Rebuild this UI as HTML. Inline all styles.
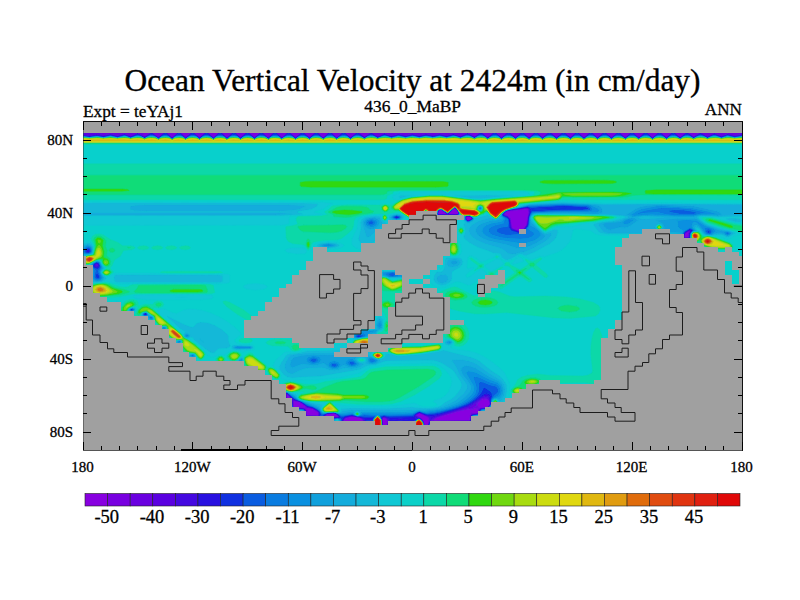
<!DOCTYPE html><html><head><meta charset="utf-8"><title>Ocean Vertical Velocity</title>
<style>html,body{margin:0;padding:0;background:#fff;}svg{display:block}text{font-family:"Liberation Serif",serif;fill:#000;stroke:#000;stroke-width:0.3px}</style></head><body>
<svg width="800" height="600" viewBox="0 0 800 600">
<rect x="0" y="0" width="800" height="600" fill="#fff"/>
<defs><clipPath id="pc"><rect x="83" y="121.75" width="659" height="328.5"/></clipPath>

</defs>
<g clip-path="url(#pc)">
<rect x="83" y="121.75" width="659" height="328.5" fill="#08d0cc"/>
<path fill="#8800e0" stroke="#8800e0" stroke-width="0.4" fill-rule="evenodd" d="M458.6,212.5 458.5,213.6 456.7,214.5 449.5,214.4 448.6,213.5 454.5,208.3 455.5,208.7ZM506.5,212.1 509.5,211.1 527.5,208.9 528.5,210.9 528.6,212.5 526.6,224.5 522.1,230.5 519.5,231 512.5,228.3 511.5,226.3 510.4,218.5 508.5,216.3 504.9,214.5ZM438.5,210.9 440.5,209.8 446.6,213.5 446.5,213.9 445.5,214.4 438.5,214.1ZM466.5,216.5 469.8,216.5 471.6,218.5 470.6,219.5 468.2,220.5 466.5,219.5ZM688.5,232.4 688.1,236.5 687.5,237 685.5,237.3 684.8,236.5 685.4,233.5 686.6,232.5ZM286.9,395.5 287.5,395.1 290.7,398.5 287.5,399 287,398.5ZM477.5,403.5 481.7,399.5 483.5,398.9 486.5,399.2 488.5,400.1 489.9,403.5 489.5,404.7 486.7,407.5 479.5,407.9 478.1,406.5ZM293.4,401.5 296.6,401.5 300.1,402.5 304.4,405.5 305.2,407.5 294.1,407.5 293.4,406.5ZM305.9,408.5 306.5,408.1 310.7,408.5 313.4,409.5 317.9,412.5 318.4,413.5 317.9,415.5 307.1,415.5 306.4,414.5ZM478.6,410.5 478.5,411.6 477,413.5 472.5,413.6 471.5,412.3 470.2,415.5 469.5,420.5 433.1,420.5 435.4,418.5 437.7,417.5 461.6,410.5 470.5,408.9 471.5,410.1 475.5,407.8 477.1,408.5ZM326.1,415.5 326.9,414.5 328.5,413.9 334.5,413.5 337.8,416.5 336.5,417 326.7,416.5ZM417.2,414.5 418.5,413.5 420,413.5 428,417.5 428.6,419.5 427.9,424.5 424.5,424.9 422.7,419.5 421.5,418.1 417,415.5ZM344,420.5 345.5,418.4 352.5,416.7 360.5,418.5 362.8,420.5 363.2,421.5 355.5,421.8 345.5,421.3ZM383.5,418.2 384.5,417.9 385.5,418.5 387.3,420.5 387.5,422.5 386.5,425 383.5,425.1 382.5,424.6 382.5,419.5Z"/>
<path fill="#7800e0" stroke="#7800e0" stroke-width="0.4" fill-rule="evenodd" d="M142.9,122.5 373.4,122.5 373.4,132.5 372.3,132.5 371.5,131.9 369.5,132.8 364.5,136.7 363.5,136.5 357.5,131.7 356.5,132.1 350.5,137.5 343.5,131.3 336.5,137.3 330.5,131.6 329.5,131.6 323.5,137.2 322.5,137 316.5,131.3 309.5,137.5 302.5,131.4 295.5,137.5 288.5,131.3 282.5,137 281.5,137.2 275.5,131.6 274.5,131.6 268.5,137.3 267.5,136.9 261.5,131.3 254.5,137.5 247.5,131.4 240.5,137.5 234.5,131.7 233.5,131.4 227.5,137.1 226.5,137.1 220.5,131.5 219.5,131.7 213.5,137.5 206.5,131.3 199.5,137.5 192.5,131.3 185.5,137.4 179.5,131.7 178.5,131.5 172.5,137.2 171.5,137 165.5,131.3 158.5,137 151.5,131.8 144.5,136.5 142.9,134.5ZM471.7,122.5 701.6,122.5 701.6,132.5 700.5,131.7 693.5,136.6 687.5,131.9 686.5,131.8 680.5,136.8 679.1,136.5 673.5,131.5 672.5,131.8 666.5,137.5 659.5,131.4 652.5,137.5 645.5,131.3 639.5,137 638.5,137.2 632.5,131.6 631.5,131.6 625.5,137.3 624.5,136.9 618.5,131.3 611.5,137.5 604.5,131.4 597.5,137.5 591.5,131.7 590.5,131.4 584.5,137.1 583.5,137.1 577.5,131.5 576.5,131.7 570.5,137.5 563.5,131.3 556.5,137.5 549.5,131.3 542.5,137.5 536.5,131.7 535.5,131.5 529.5,137.1 528.5,137.1 522.5,131.4 521.5,131.7 515.5,137.5 508.5,131.4 501.5,137.5 494.5,131.3 488.5,136.9 487.5,137.1 481.5,131.9 480.5,131.9 474.5,136.4 472.5,135.5 471.7,134.5ZM458.7,212.5 458.5,213.9 457.5,214.6 438.5,214.6 438,213.5 438.4,210.5 440.5,209.4 446.5,213.3 448.5,213.4 454.5,207.9 455.5,208.3ZM458.6,212.5 455.5,208.7 454.5,208.3 448.6,213.5 449.5,214.4 456.7,214.5 458.5,213.6ZM438.5,210.9 438.5,214.1 445.5,214.4 446.5,213.9 446.6,213.5 440.5,209.8ZM527.8,208.5 528.6,209.5 529.1,212.5 526.5,225.6 522.7,230.5 521.3,231.5 519.5,231.6 512.5,228.8 511.4,227.5 509.9,218.5 508.5,216.9 504.5,215 504.1,214.5 504.4,213.5 506.4,211.5 509.2,210.5 526.5,208.2ZM506.5,212.1 504.9,214.5 508.5,216.3 510.4,218.5 511.5,226.3 512.5,228.3 519.5,231 522.1,230.5 526.6,224.5 528.6,212.5 528.5,210.9 527.5,208.9 509.5,211.1ZM466.2,216.5 470.4,216.5 471.8,218.5 469.5,220.5 467.5,220.6 466.2,219.5ZM466.5,216.5 466.5,219.5 468.2,220.5 470.6,219.5 471.6,218.5 469.8,216.5ZM689.5,231.4 688.5,237.5 684.4,237.5 684.5,234.6 685.5,232.8 688.5,231.2ZM688.5,232.4 686.6,232.5 685.4,233.5 684.8,236.5 685.5,237.3 687.5,237 688.1,236.5ZM286.5,394.3 287.6,394.5 291.5,398.7 289.9,399.5 287.3,399.5 286.4,398.5ZM286.9,395.5 287,398.5 287.5,399 290.7,398.5 287.5,395.1ZM489.5,400.7 490.3,403.5 488.5,406.5 486.5,407.9 479.5,408.6 478.8,409.5 479.1,410.5 478.5,412.5 477.5,413.7 471.5,414 470.7,415.5 470.5,419.6 469.5,420.8 434.5,421.2 432,420.5 436.5,417.3 451.5,412.5 469.5,407.9 472.5,408.3 474.5,406.8 476.5,406.6 476.2,404.5 477.1,402.5 482.5,398.3 486.5,398.4 488.5,399.4ZM477.5,403.5 478.1,406.5 479.5,407.9 486.7,407.5 489.5,404.7 489.9,403.5 488.5,400.1 486.5,399.2 483.5,398.9 481.7,399.5ZM478.6,410.5 477.1,408.5 475.5,407.8 471.5,410.1 470.5,408.9 461.6,410.5 437.7,417.5 435.4,418.5 433.1,420.5 469.5,420.5 470.2,415.5 471.5,412.3 472.5,413.6 477,413.5 478.5,411.6ZM293,401.5 293.5,400.7 299,401.5 303.8,404.5 306.5,407.4 312.6,408.5 318.5,412.4 318.7,415.5 317.5,416.1 306.5,415.7 305.8,410.5 304.5,408.5 293.3,407.5ZM293.4,401.5 293.4,406.5 294.1,407.5 305.2,407.5 304.4,405.5 300.1,402.5 296.6,401.5ZM305.9,408.5 306.4,414.5 307.1,415.5 317.9,415.5 318.4,413.5 317.9,412.5 313.4,409.5 310.7,408.5 306.5,408.1ZM325.3,416.5 325.5,415.4 327.5,413.7 333.5,413.2 335.3,413.5 338.5,416.5 337.7,417.5 329.5,417.3ZM337.8,416.5 334.5,413.5 328.5,413.9 326.9,414.5 326.1,415.5 326.7,416.5 336.5,417ZM416.4,414.5 419.5,413 428.5,417.2 429.2,418.5 428.5,424.6 427.5,425.5 424.5,425.5 422.1,419.5 416.5,415.8ZM417.2,414.5 417,415.5 421.5,418.1 422.7,419.5 424.5,424.9 427.9,424.5 428.6,419.5 428,417.5 420,413.5 418.5,413.5ZM343.3,420.5 346,417.5 352.5,416.2 359.6,417.5 362.6,419.5 363.9,421.5 362.5,422.2 343.5,421.6ZM344,420.5 345.5,421.3 355.5,421.8 363.2,421.5 362.8,420.5 360.5,418.5 352.5,416.7 345.5,418.4ZM383.5,417.5 384.5,417.3 385.5,417.9 387.9,420.5 387.6,424.5 386.7,425.5 382.5,425.3 382.4,418.5ZM383.5,418.2 382.5,419.5 382.5,424.6 383.5,425.1 386.5,425 387.5,422.5 387.3,420.5 385.5,418.5 384.5,417.9Z"/>
<path fill="#6a00e0" stroke="#6a00e0" stroke-width="0.4" fill-rule="evenodd" d="M99.9,122.5 142.9,122.5 142.9,134.5 144.5,136.5 151.5,131.8 158.5,137 165.5,131.3 171.5,137 172.5,137.2 178.5,131.5 179.5,131.7 185.5,137.4 192.5,131.3 199.5,137.5 206.5,131.3 213.5,137.5 219.5,131.7 220.5,131.5 226.5,137.1 227.5,137.1 233.5,131.4 234.5,131.7 240.5,137.5 247.5,131.4 254.5,137.5 261.5,131.3 267.5,136.9 268.5,137.3 274.5,131.6 275.5,131.6 281.5,137.2 282.5,137 288.5,131.3 295.5,137.5 302.5,131.4 309.5,137.5 316.5,131.3 322.5,137 323.5,137.2 329.5,131.6 330.5,131.6 336.5,137.3 343.5,131.3 350.5,137.5 356.5,132.1 357.5,131.7 363.5,136.5 364.5,136.7 369.5,132.8 371.5,131.9 372.3,132.5 373.4,132.5 373.4,122.5 471.7,122.5 471.7,134.5 472.5,135.5 474.5,136.4 480.5,131.9 481.5,131.9 487.5,137.1 488.5,136.9 494.5,131.3 501.5,137.5 508.5,131.4 515.5,137.5 521.5,131.7 522.5,131.4 528.5,137.1 529.5,137.1 535.5,131.5 536.5,131.7 542.5,137.5 549.5,131.3 556.5,137.5 563.5,131.3 570.5,137.5 576.5,131.7 577.5,131.5 583.5,137.1 584.5,137.1 590.5,131.4 591.5,131.7 597.5,137.5 604.5,131.4 611.5,137.5 618.5,131.3 624.5,136.9 625.5,137.3 631.5,131.6 632.5,131.6 638.5,137.2 639.5,137 645.5,131.3 652.5,137.5 659.5,131.4 666.5,137.5 672.5,131.8 673.5,131.5 679.5,136.8 680.5,136.8 686.5,131.8 687.5,131.9 693.5,136.6 700.5,131.7 701.6,132.5 701.6,122.5 740.7,122.5 740.6,134.5 737.5,134.7 736.7,135.5 735.5,135.6 733,135.5 727.5,133.8 721.5,136.3 714.5,133.5 707.5,136.8 700.5,132.9 693.5,137.1 687.5,132.7 686.5,132.6 680.5,137.5 678.5,136.5 673.5,131.9 672.5,132.2 666.5,137.9 659.5,131.8 652.5,137.9 645.5,131.8 639.5,137.6 638.5,137.8 632.5,132 631.5,132 625.5,137.8 624.5,137.5 618.5,131.8 611.5,137.9 604.5,131.8 597.5,137.9 591.5,132.1 590.5,131.8 584.5,137.6 583.5,137.7 577.5,131.9 576.5,132.1 570.5,137.8 563.5,131.8 556.5,137.9 549.5,131.8 542.5,137.8 536.5,132.1 535.5,131.9 529.5,137.7 528.5,137.6 522.5,131.8 521.5,132.1 515.5,137.9 508.5,131.8 501.5,137.9 494.5,131.8 488.5,137.4 487.5,137.7 481.5,132.6 480.5,132.6 474.5,137 467.5,133.2 460.5,136.4 453.5,133.8 447.5,135.5 445.2,135.5 444.5,134.8 441,134.5 439.5,133.7 438.7,134.5 435.5,134.7 434.5,135.5 431.3,135.5 430.5,134.7 427.2,134.5 426.5,133.8 419.5,135.6 417.5,135.5 416.5,134.7 413.4,134.5 412.5,133.7 411.2,134.5 408.5,134.6 406.9,135.5 405.5,135.6 399.9,134.5 398.5,133.8 391.5,136 384.5,133.6 378.5,136.7 377.5,136.7 371.5,132.9 370.5,133 364.5,137.3 357.5,132.1 350.5,137.9 343.5,131.8 337.5,137.5 336.5,137.8 330.5,132 329.5,131.9 323.5,137.7 322.5,137.6 316.5,131.8 315.5,132.2 309.5,137.9 302.5,131.8 295.5,137.9 288.5,131.8 282.5,137.6 281.5,137.7 275.5,131.9 274.5,132 268.5,137.8 267.5,137.5 261.5,131.8 254.5,137.9 247.5,131.8 240.5,137.9 234.5,132.1 233.5,131.8 227.5,137.6 226.5,137.7 220.5,131.9 219.5,132.1 213.5,137.9 206.5,131.8 199.5,137.9 192.5,131.8 186.5,137.4 185.5,137.8 179.5,132 178.5,131.9 172.5,137.7 171.5,137.6 165.5,131.8 164.5,132.2 158.5,137.6 151.5,132.6 144.5,137 137.5,133.2 133.5,135.5 130.5,136.4 124.5,133.8 118.5,135.6 115.3,135.5 114.5,134.8 111.4,134.5 110.5,133.8 109,134.5 105.5,134.8 104.7,135.5 102.3,135.5 101.5,134.6 99.9,134.5ZM458.9,212.5 458.5,214.3 457.5,214.8 438.5,214.8 437.7,213.5 438.3,210.5 440.5,209.3 441.6,209.5 446.5,213.2 448.5,213.2 454.5,207.6 455.5,208.1ZM458.7,212.5 455.5,208.3 454.5,207.9 448.5,213.4 446.5,213.3 440.5,209.4 438.4,210.5 438,213.5 438.5,214.6 457.5,214.6 458.5,213.9ZM505.9,211.5 508.5,210.4 526.5,207.9 528.5,208.5 529.5,212.5 528.3,217.5 527.5,224.1 526.5,226.1 522.5,231.1 521.5,231.8 519.5,231.9 513.5,229.7 511.5,228.5 509.4,218.5 507.5,216.7 504.2,215.5 503.5,214.5ZM527.8,208.5 526.5,208.2 509.2,210.5 506.4,211.5 504.4,213.5 504.1,214.5 504.5,215 508.5,216.9 509.9,218.5 511.4,227.5 512.5,228.8 519.5,231.6 521.3,231.5 522.7,230.5 526.5,225.6 529.1,212.5 528.6,209.5ZM465.7,217.5 466.5,216.1 469.5,216.1 470.7,216.5 472.1,218.5 471.4,219.5 468.5,221 467.5,220.8 465.9,219.5ZM466.2,216.5 466.2,219.5 467.5,220.6 469.5,220.5 471.8,218.5 470.4,216.5ZM690.3,230.5 689.4,233.5 689.1,237.5 686.5,238 684,237.5 684.5,233.6 685.3,232.5 689,230.5ZM689.5,231.4 688.5,231.2 685.5,232.8 684.5,234.6 684.4,237.5 688.5,237.5ZM95.8,264.5 97.5,264.5 97.4,265.5 96,265.5ZM286.5,393.6 291.2,397.5 292.3,399.5 288.5,399.9 286.5,399.5 286,395.5ZM286.5,394.3 286.4,398.5 287.3,399.5 289.9,399.5 291.5,398.7 287.6,394.5ZM489.7,400.5 490.5,404 488.5,406.8 486.5,408.2 480.5,408.7 479.5,409.5 479.2,411.5 477.5,414 471.5,414.7 470.8,416.5 470.6,420.5 469.5,421.1 432,421.5 431.1,420.5 434.5,417.7 436.5,416.7 470.8,406.5 482.5,397.7 486.5,397.3 488.5,398.6ZM489.5,400.7 488.5,399.4 486.5,398.4 482.5,398.3 477.1,402.5 476.2,404.5 476.5,406.6 474.5,406.8 472.5,408.3 469.5,407.9 451.5,412.5 436.5,417.3 432,420.5 434.5,421.2 469.5,420.8 470.5,419.6 470.7,415.5 471.5,414 477.5,413.7 478.5,412.5 479.1,410.5 478.8,409.5 479.5,408.6 486.5,407.9 488.5,406.5 490.3,403.5ZM292.8,400.5 293.5,400.1 299.5,401.4 304.4,404.5 306.5,406.9 313.2,408.5 318.5,411.9 319.2,413.5 319,415.5 317.5,416.5 306.5,416 305.8,414.5 305.4,410.5 304.5,408.9 294.5,408.2 293,407.5ZM293,401.5 293.3,407.5 304.5,408.5 305.8,410.5 306.5,415.7 317.5,416.1 318.7,415.5 318.5,412.4 312.6,408.5 306.5,407.4 303.8,404.5 299,401.5 293.5,400.7ZM324.6,416.5 325.7,414.5 327.2,413.5 333.5,413 335.8,413.5 338.9,416.5 338.5,417.6 328.5,417.6ZM325.3,416.5 329.5,417.3 337.7,417.5 338.5,416.5 335.3,413.5 333.5,413.2 327.5,413.7 325.5,415.4ZM415.9,414.5 419.5,412.5 428.5,416.6 429.5,417.5 429.8,420.5 428.5,425.3 427.5,425.7 424.1,425.5 423,421.5 421.6,419.5 416.5,416.5 415.5,415.5ZM416.4,414.5 416.5,415.8 422.1,419.5 424.5,425.5 427.5,425.5 428.5,424.6 429.2,418.5 428.5,417.2 419.5,413ZM342.7,421.5 343.4,419.5 345.5,417.3 352.5,415.9 360.5,417.5 363.5,419.7 364.5,421.5 363.6,422.5 354.5,422.6ZM343.3,420.5 343.5,421.6 362.5,422.2 363.9,421.5 362.6,419.5 359.6,417.5 352.5,416.2 346,417.5ZM383.5,417.1 385.5,417.3 388,419.5 388.5,421.5 387.5,425.5 382.4,425.5 382,418.5ZM383.5,417.5 382.4,418.5 382.5,425.3 386.7,425.5 387.6,424.5 387.9,420.5 385.5,417.9 384.5,417.3Z"/>
<path fill="#5a00e0" stroke="#5a00e0" stroke-width="0.4" fill-rule="evenodd" d="M83.5,122.5 99.9,122.5 99.9,134.5 101.5,134.6 102.3,135.5 104.7,135.5 105.5,134.8 109,134.5 110.5,133.8 111.4,134.5 114.5,134.8 115.3,135.5 118.5,135.6 124.5,133.8 130.5,136.4 133.5,135.5 137.5,133.2 144.5,137 151.5,132.6 158.5,137.6 164.5,132.2 165.5,131.8 171.5,137.6 172.5,137.7 178.5,131.9 179.5,132 185.5,137.8 186.5,137.4 192.5,131.8 199.5,137.9 206.5,131.8 213.5,137.9 219.5,132.1 220.5,131.9 226.5,137.7 227.5,137.6 233.5,131.8 234.5,132.1 240.5,137.9 247.5,131.8 254.5,137.9 261.5,131.8 267.5,137.5 268.5,137.8 274.5,132 275.5,131.9 281.5,137.7 282.5,137.6 288.5,131.8 295.5,137.9 302.5,131.8 309.5,137.9 315.5,132.2 316.5,131.8 322.5,137.6 323.5,137.7 329.5,131.9 330.5,132 336.5,137.8 337.5,137.5 343.5,131.8 350.5,137.9 357.5,132.1 364.5,137.3 370.5,133 371.5,132.9 377.5,136.7 378.5,136.7 384.5,133.6 391.5,136 398.5,133.8 399.9,134.5 405.5,135.6 406.9,135.5 408.5,134.6 411.2,134.5 412.5,133.7 413.4,134.5 416.5,134.7 417.5,135.5 419.5,135.6 426.5,133.8 427.2,134.5 430.5,134.7 431.3,135.5 434.5,135.5 435.5,134.7 438.7,134.5 439.5,133.7 441,134.5 444.5,134.8 445.2,135.5 447.5,135.5 453.5,133.8 460.5,136.4 467.5,133.2 474.5,137 480.5,132.6 481.5,132.6 487.5,137.7 488.5,137.4 494.5,131.8 501.5,137.9 508.5,131.8 515.5,137.9 521.5,132.1 522.5,131.8 528.5,137.6 529.5,137.7 535.5,131.9 536.5,132.1 542.5,137.8 549.5,131.8 556.5,137.9 563.5,131.8 570.5,137.8 576.5,132.1 577.5,131.9 583.5,137.7 584.5,137.6 590.5,131.8 591.5,132.1 597.5,137.9 604.5,131.8 611.5,137.9 618.5,131.8 624.5,137.5 625.5,137.8 631.5,132 632.5,132 638.5,137.8 639.5,137.6 645.5,131.8 652.5,137.9 659.5,131.8 666.5,137.9 672.5,132.2 673.5,131.9 678.5,136.5 680.5,137.5 686.5,132.6 687.5,132.7 693.5,137.1 700.5,132.9 707.5,136.8 714.5,133.5 721.5,136.3 728.5,133.8 733,135.5 736.7,135.5 737.5,134.7 740.6,134.5 740.7,122.5 742.5,122.5 742.5,135 734.5,136.4 727.5,134.6 721.5,136.8 714.5,133.9 707.5,137.2 700.5,133.3 693.5,137.6 687.5,133 686.5,132.9 680.5,137.8 679.2,137.5 673.5,132.3 672.5,132.7 666.5,138.2 659.5,132.1 652.5,138.2 645.5,132.1 639.5,137.9 638.5,138.1 632.5,132.3 631.5,132.4 625.5,138.1 624.5,137.8 618.5,132.1 611.5,138.2 604.5,132.1 597.5,138.2 591.5,132.5 590.5,132.2 584.5,138 583.5,138 577.5,132.3 576.5,132.4 570.5,138.2 563.5,132.1 556.5,138.2 549.5,132.1 542.5,138.2 536.5,132.4 535.5,132.3 529.5,138 528.5,138 522.5,132.2 521.5,132.5 515.5,138.2 508.5,132.1 501.5,138.2 494.5,132.1 488.5,137.8 487.5,138 481.5,132.9 480.5,133 474.5,137.4 467.5,133.7 460.5,136.8 453.5,134.7 446.5,136.3 439.5,134.8 432.5,136.2 425.5,134.9 419.5,136.3 412.5,134.8 405.5,136.3 398.5,134.7 391.5,136.7 384.5,134 378.5,137 377.5,137.1 371.5,133.3 369.5,134.1 364.5,137.7 357.5,132.5 350.5,138.2 343.5,132.1 337.5,137.8 336.5,138.2 330.5,132.4 329.5,132.3 323.5,138.1 322.5,137.9 316.5,132.1 309.5,138.2 302.5,132.1 295.5,138.2 288.5,132.1 282.5,137.9 281.5,138.1 275.5,132.3 274.5,132.4 268.5,138.1 267.5,137.8 261.5,132.1 254.5,138.2 247.5,132.1 240.5,138.2 234.5,132.5 233.5,132.2 227.5,138 226.5,138 220.5,132.2 219.5,132.5 213.5,138.2 206.5,132.1 199.5,138.2 192.5,132.1 185.5,138.2 179.5,132.4 178.5,132.3 172.5,138 171.5,137.9 165.5,132.2 158.5,138 151.5,132.9 144.5,137.4 137.5,133.7 132.1,136.5 130.5,136.8 124.5,134.6 117.5,136.5 110.5,134.8 103.5,136.2 96.5,134.9 89.5,136 83.5,135.1ZM459.1,212.5 458.5,214.6 456.5,215 438.5,214.9 437.7,214.5 437.4,213.5 438.1,210.5 440.5,209.2 441.7,209.5 446.5,213 448.5,213.1 454.5,207.4 455.5,207.9ZM458.9,212.5 455.5,208.1 454.5,207.6 448.5,213.2 446.5,213.2 441.6,209.5 440.5,209.3 438.3,210.5 437.7,213.5 438.5,214.8 457.5,214.8 458.5,214.3ZM528.5,208 529.6,209.5 530,211.5 527.7,224.5 523.5,230.5 521.5,232.2 520.5,232.4 511.5,229 510.6,227.5 509.8,220.5 509.1,218.5 507.5,217.1 503.5,215.5 503.1,214.5 505.5,211.5 507.5,210.4 526.5,207.5ZM505.9,211.5 503.5,214.5 504.2,215.5 507.5,216.7 509.4,218.5 511.5,228.5 513.5,229.7 519.5,231.9 521.5,231.8 522.5,231.1 526.5,226.1 527.5,224.1 528.3,217.5 529.5,212.5 528.5,208.5 526.5,207.9 508.5,210.4ZM465.5,217 466.5,215.9 469.5,215.9 470.9,216.5 472.4,218.5 471.7,219.5 469.5,220.9 467.5,221 465.7,219.5ZM465.7,217.5 465.9,219.5 467.5,220.8 468.5,221 471.4,219.5 472.1,218.5 470.7,216.5 469.5,216.1 466.5,216.1ZM690.5,230 691.1,230.5 689.7,233.5 689.6,237.5 688.5,238.1 684.5,238.2 683.7,237.5 684.5,233 688.5,230.3ZM690.3,230.5 689,230.5 685.3,232.5 684.5,233.6 684,237.5 686.5,238 689.1,237.5 689.4,233.5ZM95.5,263.8 97.2,263.5 98.3,264.5 98.5,265.5 97.7,266.5 95.8,266.5 94.7,265.5ZM95.8,264.5 96,265.5 97.4,265.5 97.5,264.5ZM145,314.5 145.5,313.7 145.7,314.5ZM286.1,393.5 287.2,393.5 293.5,399.6 300.2,401.5 304.8,404.5 306.6,406.5 312.5,407.8 317.1,410.5 319.3,412.5 319.4,415.5 318.6,416.5 306.5,416.3 305.7,415.5 305.2,410.5 304.5,409.2 293.5,408.3 292.5,406.5 292.1,400.5 286.2,399.5 285.8,395.5ZM286.5,393.6 286,395.5 286.5,399.5 288.5,399.9 292.3,399.5 291.2,397.5ZM292.8,400.5 293,407.5 294.5,408.2 304.5,408.9 305.4,410.5 305.8,414.5 306.5,416 317.5,416.5 319,415.5 319.2,413.5 318.5,411.9 313.2,408.5 306.5,406.9 304.4,404.5 299.5,401.4 293.5,400.1ZM490.8,403.5 490.5,404.7 487.5,408 486.5,408.5 481.5,408.8 479.9,409.5 479.6,411.5 477.5,414.3 472.5,414.7 471.5,415.2 470.8,420.5 469.5,421.4 430.5,421.6 429.5,422.4 428.5,425.6 424.5,425.9 423.5,425.1 423.3,422.5 421.5,419.7 420.5,418.8 417.5,417.8 415,415.5 415.4,414.5 419.5,412.3 429.3,416.5 430.3,417.5 430.5,419.9 434.5,416.9 468.2,406.5 472.5,404 481.5,397.5 485.5,396 487.5,396.2 488.5,397ZM415.9,414.5 415.5,415.5 416.5,416.5 421.6,419.5 423,421.5 424.1,425.5 427.5,425.7 428.5,425.3 429.8,420.5 429.5,417.5 428.5,416.6 419.5,412.5ZM489.7,400.5 488.5,398.6 486.5,397.3 482.5,397.7 470.8,406.5 436.5,416.7 434.5,417.7 431.1,420.5 432,421.5 469.5,421.1 470.6,420.5 470.8,416.5 471.5,414.7 477.5,414 479.2,411.5 479.5,409.5 480.5,408.7 486.5,408.2 488.5,406.8 490.5,404ZM324.2,416.5 325.3,414.5 326.7,413.5 333.5,412.7 336.1,413.5 339.3,416.5 339.1,417.5 338.5,417.8 332.5,418 325.5,417.4ZM324.6,416.5 328.5,417.6 338.5,417.6 338.9,416.5 335.8,413.5 333.5,413 327.2,413.5 325.7,414.5ZM342.3,421.5 343.5,418.8 345.5,417 352.5,415.6 360.5,417.1 364,419.5 364.9,421.5 364.3,422.5 361.5,422.8 344.5,422.2ZM342.7,421.5 354.5,422.6 363.6,422.5 364.5,421.5 363.5,419.7 360.5,417.5 352.5,415.9 345.5,417.3 343.4,419.5ZM383.5,416.7 385.5,416.9 388.7,419.5 388.9,421.5 387.5,425.7 383.5,426 382.2,425.5 381.6,418.5ZM383.5,417.1 382,418.5 382.4,425.5 387.5,425.5 388.5,421.5 388,419.5 385.5,417.3Z"/>
<path fill="#4408e0" stroke="#4408e0" stroke-width="0.4" fill-rule="evenodd" d="M83.5,135.1 89.5,136 96.5,134.9 103.5,136.2 110.5,134.8 117.5,136.5 124.5,134.6 130.5,136.8 132.1,136.5 137.5,133.7 144.5,137.4 151.5,132.9 158.5,138 165.5,132.2 171.5,137.9 172.5,138 178.5,132.3 179.5,132.4 185.5,138.2 192.5,132.1 199.5,138.2 206.5,132.1 213.5,138.2 219.5,132.5 220.5,132.2 226.5,138 227.5,138 233.5,132.2 234.5,132.5 240.5,138.2 247.5,132.1 254.5,138.2 261.5,132.1 267.5,137.8 268.5,138.1 274.5,132.4 275.5,132.3 281.5,138.1 282.5,137.9 288.5,132.1 295.5,138.2 302.5,132.1 309.5,138.2 316.5,132.1 322.5,137.9 323.5,138.1 329.5,132.3 330.5,132.4 336.5,138.2 337.5,137.8 343.5,132.1 350.5,138.2 357.5,132.5 364.5,137.7 369.5,134.1 371.5,133.3 377.5,137.1 378.5,137 384.5,134 391.5,136.7 398.5,134.7 405.5,136.3 412.5,134.8 419.5,136.3 425.5,134.9 432.5,136.2 439.5,134.8 446.5,136.3 453.5,134.7 460.5,136.8 467.5,133.7 474.5,137.4 480.5,133 481.5,132.9 487.5,138 488.5,137.8 494.5,132.1 501.5,138.2 508.5,132.1 515.5,138.2 521.5,132.5 522.5,132.2 528.5,138 529.5,138 535.5,132.3 536.5,132.4 542.5,138.2 549.5,132.1 556.5,138.2 563.5,132.1 570.5,138.2 576.5,132.4 577.5,132.3 583.5,138 584.5,138 590.5,132.2 591.5,132.5 597.5,138.2 604.5,132.1 611.5,138.2 618.5,132.1 624.5,137.8 625.5,138.1 631.5,132.4 632.5,132.3 638.5,138.1 639.5,137.9 645.5,132.1 652.5,138.2 659.5,132.1 666.5,138.2 672.5,132.7 673.5,132.3 679.2,137.5 680.5,137.8 686.5,132.9 687.5,133 693.5,137.6 700.5,133.3 707.5,137.2 714.5,133.9 721.5,136.8 727.5,134.6 734.5,136.4 742.5,135 742.5,135.5 734.5,136.8 727.5,135 721.5,137.2 714.5,134.3 707.5,137.6 700.5,133.8 693.5,137.9 687.5,133.4 686.5,133.3 680.5,138.1 679.5,138 673.5,132.7 672.5,133 666.5,138.5 659.5,132.5 652.5,138.5 645.5,132.5 639.5,138.2 638.5,138.4 632.5,132.8 631.5,132.8 625.5,138.5 624.5,138.2 618.5,132.5 611.5,138.5 604.5,132.5 597.5,138.5 590.5,132.6 584.5,138.3 583.5,138.4 577.5,132.7 576.5,132.9 570.5,138.5 563.5,132.5 556.5,138.5 549.5,132.5 542.6,138.5 536.5,132.9 535.5,132.7 529.5,138.4 528.5,138.3 522.5,132.6 515.5,138.5 508.5,132.5 501.5,138.5 494.5,132.5 488.5,138.1 487.5,138.4 481.5,133.3 480.5,133.3 474.5,137.7 467.5,134.1 460.5,137.2 453.5,135 446.5,136.8 439.5,135.2 433.5,136.7 426.5,135.2 419.5,136.7 412.5,135.2 405.5,136.8 398.5,135.1 391.5,137.1 384.5,134.4 378.5,137.4 377.5,137.4 371.5,133.8 369.5,134.5 364.5,138.1 357.5,132.9 350.5,138.5 343.5,132.5 336.5,138.5 330.5,132.8 329.5,132.7 323.5,138.4 322.5,138.2 316.5,132.5 309.5,138.5 302.5,132.5 295.5,138.5 288.5,132.5 282.5,138.2 281.5,138.4 275.5,132.8 274.5,132.8 268.5,138.5 267.5,138.1 261.5,132.5 254.5,138.5 247.5,132.5 240.5,138.5 234.5,132.9 233.5,132.6 227.5,138.3 226.5,138.4 220.5,132.6 219.5,132.9 213.5,138.5 206.5,132.5 199.5,138.5 192.5,132.5 185.5,138.5 179.5,132.9 178.5,132.7 172.5,138.4 171.5,138.3 165.5,132.5 158.5,138.3 151.5,133.2 144.5,137.8 137.5,134.1 130.5,137.2 124.5,134.9 117.5,136.8 110.5,135.1 103.5,136.7 96.5,135.4 89.5,136.6 83.5,135.7ZM459.2,212.5 459.3,213.5 458.5,214.8 456.5,215.2 438.5,215.1 437.5,214.6 437.3,213.5 438,210.5 440.5,209.1 441.9,209.5 446.5,212.8 448.5,212.9 454.5,207.4 455.5,207.7ZM459.1,212.5 455.5,207.9 454.5,207.4 448.5,213.1 446.5,213 441.7,209.5 440.5,209.2 438.1,210.5 437.4,213.5 437.7,214.5 438.5,214.9 456.5,215 458.5,214.6ZM528.6,207.5 530.2,209.5 530.4,211.5 528.8,217.5 528.2,223.5 527.5,225.8 522.5,232 520.5,232.7 511.5,229.6 510.2,227.5 509.2,219.5 507.5,217.4 503.1,215.5 502.8,214.5 503.3,213.5 506.5,210.6 509.5,209.8 526.5,207.2ZM528.5,208 526.5,207.5 507.5,210.4 505.5,211.5 503.1,214.5 503.5,215.5 507.5,217.1 509.1,218.5 509.8,220.5 510.6,227.5 511.5,229 520.5,232.4 521.5,232.2 523.5,230.5 527.7,224.5 530,211.5 529.6,209.5ZM465.4,216.5 466.5,215.8 469.5,215.8 471.1,216.5 472.6,218.5 472,219.5 469.5,221.1 467.5,221.2 465.5,219.5ZM465.5,217 465.7,219.5 467.5,221 469.5,220.9 471.7,219.5 472.4,218.5 470.9,216.5 469.5,215.9 466.5,215.9ZM396,217.5 396.5,217 397.6,217.5ZM690.7,229.5 691.7,230.5 690,233.5 689.5,238 685.5,238.6 683.5,237.8 683.8,234.5 684.5,232.5 688.5,230ZM690.5,230 688.5,230.3 684.5,233 683.7,237.5 684.5,238.2 688.5,238.1 689.6,237.5 689.7,233.5 691.1,230.5ZM94.1,264.5 95.5,263.2 97.5,263.1 98.9,264.5 98.9,266.5 97.5,267.4 95.5,267.2 94.5,266.5ZM95.5,263.8 94.7,265.5 95.8,266.5 97.7,266.5 98.5,265.5 98.3,264.5 97.2,263.5ZM144.3,313.5 146,313.5 146.3,314.5 144.5,314.7ZM145.5,313.7 145,314.5 145.7,314.5ZM285.7,393.5 286.5,392.9 287.5,393.3 294.1,399.5 300.5,401.4 307.4,406.5 312.5,407.5 317.5,410.4 319.7,412.5 320,414.5 319.5,416 317.5,416.9 306.5,416.6 305.4,415.5 305,410.5 304.4,409.5 302.5,409 293.4,408.5 292.4,407.5 291.6,400.5 287.5,400.3 286,399.5 285.5,396.5ZM286.1,393.5 285.8,395.5 286.2,399.5 292.1,400.5 292.5,406.5 293.5,408.3 304.5,409.2 305.2,410.5 305.7,415.5 306.5,416.3 318.6,416.5 319.4,415.5 319.3,412.5 317.1,410.5 312.5,407.8 306.6,406.5 304.8,404.5 300.2,401.5 293.5,399.6 287.2,393.5ZM489.7,396.5 491,403.5 490.5,405 487,408.5 480.5,409.4 478.7,413.5 477.6,414.5 472.5,415 471.7,415.5 471,420.5 470.1,421.5 430.5,422 428.5,425.9 424.5,426.1 423.5,425.6 423.2,422.5 421.5,420 419.5,418.6 415.4,418.5 415.6,417.5 414.5,415.5 416.3,413.5 419.5,412.1 425.5,414.7 431.5,416.4 439.8,414.5 467.5,405.8 484.5,394.9 487.5,394.8ZM490.8,403.5 488.5,397 487.5,396.2 485.5,396 481.5,397.5 472.5,404 468.2,406.5 434.5,416.9 430.5,419.9 430.3,417.5 429.3,416.5 419.5,412.3 415.4,414.5 415,415.5 417.5,417.8 420.5,418.8 421.5,419.7 423.3,422.5 423.5,425.1 424.5,425.9 428.5,425.6 429.5,422.4 430.5,421.6 469.5,421.4 470.8,420.5 471.5,415.2 472.5,414.7 477.5,414.3 479.6,411.5 479.9,409.5 481.5,408.8 486.5,408.5 487.5,408 490.5,404.7ZM339.7,416.5 339.6,417.5 338.5,418.1 332.5,418.3 324.7,417.5 323.7,416.5 324.9,414.5 326.5,413.4 333.5,412.5 336.5,413.5ZM324.2,416.5 325.5,417.4 332.5,418 338.5,417.8 339.1,417.5 339.3,416.5 336.1,413.5 333.5,412.7 326.7,413.5 325.3,414.5ZM341.9,421.5 342.5,419.6 344.5,417.1 351.5,415.3 360.5,416.8 363.9,418.5 365.3,420.5 364.8,422.5 362.5,423.1 343.5,422.4ZM342.3,421.5 344.5,422.2 361.5,422.8 364.3,422.5 364.9,421.5 364,419.5 360.5,417.1 352.5,415.6 345.5,417 343.5,418.8ZM381.3,418.5 382.5,416.8 384.5,416.2 390.5,419.4 400.5,418.8 409.6,419.5 400.5,420.2 390.5,419.6 389.5,421.1 388.1,425.5 386.5,426.2 382.5,426.1 382.1,425.5ZM383.5,416.7 381.6,418.5 382.2,425.5 383.5,426 387.5,425.7 388.9,421.5 388.7,419.5 385.5,416.9Z"/>
<path fill="#2810e0" stroke="#2810e0" stroke-width="0.4" fill-rule="evenodd" d="M83.5,136 89.5,136.6 96.5,135.4 103.5,136.7 110.5,135.1 117.5,136.8 124.5,134.9 130.5,137.2 137.5,134.1 144.5,137.8 151.5,133.2 158.5,138.3 165.5,132.5 171.5,138.3 172.5,138.4 178.5,132.7 179.5,132.9 185.5,138.5 192.5,132.5 199.5,138.5 206.5,132.5 213.5,138.5 219.5,132.9 220.5,132.6 226.5,138.4 227.5,138.3 233.5,132.6 234.5,132.9 240.5,138.5 247.5,132.5 254.5,138.5 261.5,132.5 267.5,138.1 268.5,138.5 274.5,132.8 275.5,132.8 281.5,138.4 282.5,138.2 288.5,132.5 295.5,138.5 302.5,132.5 309.5,138.5 316.5,132.5 322.5,138.2 323.5,138.4 329.5,132.7 330.5,132.8 336.5,138.5 343.5,132.5 350.5,138.5 357.5,132.9 364.5,138.1 369.5,134.5 371.5,133.8 377.5,137.4 378.5,137.4 384.5,134.4 391.5,137.1 398.5,135.1 405.5,136.8 412.5,135.2 419.5,136.7 426.5,135.2 433.5,136.7 439.5,135.2 446.5,136.8 453.5,135 460.5,137.2 467.5,134.1 474.5,137.7 480.5,133.3 481.5,133.3 487.5,138.4 488.5,138.1 494.5,132.5 501.5,138.5 508.5,132.5 515.5,138.5 522.5,132.6 528.5,138.3 529.5,138.4 535.5,132.7 536.5,132.9 542.6,138.5 549.5,132.5 556.5,138.5 563.5,132.5 570.5,138.5 576.5,132.9 577.5,132.7 583.5,138.4 584.5,138.3 590.5,132.6 597.5,138.5 604.5,132.5 611.5,138.5 618.5,132.5 624.5,138.2 625.5,138.5 631.5,132.8 632.5,132.8 638.5,138.4 639.5,138.2 645.5,132.5 652.5,138.5 659.5,132.5 666.5,138.5 672.5,133 673.5,132.7 679.5,138 680.5,138.1 686.5,133.3 687.5,133.4 693.5,137.9 700.5,133.8 707.5,137.6 714.5,134.3 721.5,137.2 727.5,135 734.5,136.8 742.5,135.5 734.5,137.1 727.5,135.3 721.5,137.5 714.5,134.7 707.5,137.8 700.5,134.2 693.5,138.2 687.5,134 686.5,133.8 680.5,138.5 679.5,138.3 673.5,133.2 672.5,133.4 666.5,138.7 659.5,133.1 652.5,138.7 646.5,133.4 645.5,133.1 639.5,138.5 638.5,138.6 632.5,133.3 631.5,133.3 625.5,138.6 624.6,138.5 618.5,133.1 617.5,133.4 611.5,138.7 604.5,133.1 597.5,138.7 591.5,133.4 590.5,133.2 584.5,138.5 583.5,138.6 577.5,133.2 576.5,133.3 570.5,138.7 563.5,133.1 556.5,138.7 549.5,133.1 542.5,138.7 536.5,133.3 535.5,133.2 529.5,138.6 528.5,138.5 522.5,133.2 521.5,133.4 515.5,138.7 508.5,133.1 501.5,138.7 495.5,133.4 494.5,133.1 488.5,138.4 487.5,138.6 481.5,133.9 480.5,133.9 474.5,138 467.5,134.4 460.5,137.5 453.5,135.3 446.5,137.1 439.5,135.6 432.5,137 425.5,135.6 419.5,137.1 412.5,135.5 405.5,137.1 398.5,135.5 391.5,137.4 384.5,134.9 378.9,137.5 377.5,137.7 371.5,134.2 370.1,134.5 364.5,138.4 357.5,133.3 350.5,138.7 344.5,133.4 343.5,133.1 337.5,138.4 336.5,138.7 330.5,133.3 329.5,133.3 323.5,138.6 322.5,138.5 316.5,133.1 315.5,133.4 309.5,138.7 302.5,133.1 295.5,138.7 289.5,133.4 288.5,133.1 282.5,138.5 281.5,138.6 275.5,133.3 274.5,133.3 268.5,138.7 267.5,138.4 261.5,133.1 260.5,133.4 254.5,138.7 247.5,133.1 240.5,138.7 234.5,133.4 233.5,133.2 227.5,138.6 226.5,138.6 220.5,133.2 219.5,133.3 213.5,138.7 206.5,133.1 199.5,138.7 192.5,133.1 186.5,138.4 185.5,138.7 179.5,133.3 178.5,133.2 172.5,138.6 171.5,138.5 165.5,133.1 164.5,133.4 158.5,138.6 151.5,133.7 144.5,138.1 137.5,134.4 130.5,137.5 124.5,135.3 117.5,137.2 110.5,135.5 103.5,137 96.5,135.7 89.5,136.9ZM459.5,213.5 458.5,214.9 456.5,215.3 438.5,215.3 437.5,214.8 437.2,213.5 437.8,210.5 439.5,209.3 441.5,209.2 447.5,213.1 448.5,212.8 454.5,207.3 455.5,207.5 458.5,211.2ZM459.2,212.5 455.5,207.7 454.5,207.4 448.5,212.9 446.5,212.8 441.9,209.5 440.5,209.1 438,210.5 437.3,213.5 437.5,214.6 438.5,215.1 456.5,215.2 458.5,214.8 459.3,213.5ZM528.5,207.1 531.9,209.5 529.3,216.5 528.5,223.5 527.4,226.5 523.6,231.5 521.5,233 519.5,233 511.5,230.2 509.7,227.5 508.9,219.5 507.5,217.9 502.6,215.5 502.4,214.5 503,213.5 506.4,210.5 509.5,209.6 526.5,207ZM528.6,207.5 526.5,207.2 509.5,209.8 506.5,210.6 503.3,213.5 502.8,214.5 503.1,215.5 507.5,217.4 509.2,219.5 510.2,227.5 511.5,229.6 520.5,232.7 522.5,232 527.5,225.8 528.2,223.5 528.8,217.5 530.4,211.5 530.2,209.5ZM566.5,207.5 541.8,209.5 532.8,209.5 535.9,208.5ZM394.8,217.5 395.3,216.5 396.5,216.2 398.1,216.5 398.7,217.5 396.5,218.2ZM396,217.5 397.6,217.5 396.5,217ZM465.3,216.5 466.5,215.6 469.5,215.6 471.3,216.5 472.8,218.5 472.3,219.5 468.5,221.6 467.5,221.4 465.3,219.5ZM465.4,216.5 465.5,219.5 467.5,221.2 469.5,221.1 472,219.5 472.6,218.5 471.1,216.5 469.5,215.8 466.5,215.8ZM691.7,229.5 692.2,230.5 690.3,233.5 690.2,237.5 689.5,238.4 685.5,238.8 683.5,238.2 683.5,234.7 684.5,232.2 689.5,229.2ZM691.5,230.2 690.5,229.4 689.5,229.6 684.5,232.5 683.8,234.5 683.5,237.8 685.5,238.6 689.5,238 690,233.5ZM86.2,250.5 86.9,249.5 88.5,249.1 89.5,249.7 89.8,251.5 88.6,252.5 87.3,252.5 86.2,251.5ZM93.6,264.5 95.5,262.8 97.5,262.6 99.4,264.5 99.6,266.5 98.5,267.9 95.5,268 93.7,266.5ZM94.1,264.5 94.5,266.5 95.5,267.2 97.5,267.4 98.9,266.5 98.9,264.5 97.5,263.1 95.5,263.2ZM143.8,314.5 144,313.5 145.5,313.1 146.6,313.5 146.8,314.5 145.5,315.2ZM144.3,313.5 144.5,314.7 146.3,314.5 146,313.5ZM357.2,336.5 358.5,335.4 359.7,335.5 360.4,336.5 358.5,337ZM285.5,393.3 286.5,392.6 287.5,393.1 294.5,399.3 301.1,401.5 307.5,406.1 312.5,407.2 317.5,410 320,412.5 320.4,414.5 319.6,416.5 317.5,417.1 306.5,416.7 305.2,415.5 304.7,410.5 303.9,409.5 292.9,408.5 292.2,407.5 291.5,401 290.5,400.5 287.5,400.5 285.7,399.5 285.2,395.5ZM285.7,393.5 285.5,396.5 286,399.5 287.5,400.3 291.6,400.5 292.4,407.5 293.4,408.5 302.5,409 304.4,409.5 305,410.5 305.4,415.5 306.5,416.6 317.5,416.9 319.5,416 320,414.5 319.7,412.5 317.5,410.4 312.5,407.5 307.4,406.5 300.5,401.4 294.1,399.5 287.5,393.3 286.5,392.9ZM491,396.5 490.6,400.5 491.2,403.5 490.4,405.5 487.5,408.5 480.9,409.5 478.9,413.5 477.5,414.8 472,415.5 471.2,420.5 470.5,421.6 431.5,422.2 430.3,422.5 428.5,426.1 424.5,426.3 423.5,425.9 423.1,422.5 421.5,420.2 419.5,418.7 418.5,418.7 413.5,421.1 390.5,421.6 389.5,422.3 388.4,425.5 387.5,426.2 382.5,426.4 382,425.5 381,417.5 383.5,415.9 389.5,417.3 412.5,417.1 413.5,416.7 414.5,414.5 419.5,411.8 424.5,413.9 428.5,415 437.5,414.1 457.6,408.5 466.5,405.3 471.5,402.5 484.5,393.4 486.5,393.1 488.5,393.6 489.9,394.5ZM381.3,418.5 382.1,425.5 382.5,426.1 386.5,426.2 388.1,425.5 389.5,421.1 390.5,419.6 400.5,420.2 409.6,419.5 400.5,418.8 390.5,419.4 384.5,416.2 382.5,416.8ZM489.7,396.5 487.5,394.8 484.5,394.9 467.5,405.8 439.8,414.5 431.5,416.4 425.5,414.7 419.5,412.1 416.3,413.5 414.5,415.5 415.6,417.5 415.4,418.5 419.5,418.6 421.5,420 423.2,422.5 423.5,425.6 424.5,426.1 428.5,425.9 430.5,422 470.1,421.5 471,420.5 471.7,415.5 472.5,415 477.6,414.5 478.7,413.5 480.5,409.4 487,408.5 490.5,405 491,403.5ZM323.3,416.5 324.4,414.5 326.5,413.2 333.5,412.4 335.5,412.8 338.3,414.5 340.2,416.5 340.2,417.5 338.5,418.3 329.5,418.5 324.5,417.7ZM339.7,416.5 336.5,413.5 333.5,412.5 326.5,413.4 324.9,414.5 323.7,416.5 324.7,417.5 332.5,418.3 338.5,418.1 339.6,417.5ZM341.6,421.5 342.6,418.5 344.5,416.7 351.5,415 364.5,417.4 372.5,417.8 373.1,418.5 372.5,420.5 366.5,420.6 365.2,422.5 363.5,423.2 342.5,422.5ZM341.9,421.5 343.5,422.4 362.5,423.1 364.8,422.5 365.3,420.5 363.9,418.5 360.5,416.8 351.5,415.3 344.5,417.1 342.5,419.6Z"/>
<path fill="#1030e0" stroke="#1030e0" stroke-width="0.4" fill-rule="evenodd" d="M83.5,136.3 89.5,136.9 96.5,135.7 103.5,137 110.5,135.5 117.5,137.2 124.5,135.3 130.5,137.5 137.5,134.4 144.5,138.1 151.5,133.7 158.5,138.6 164.5,133.4 165.5,133.1 171.5,138.5 172.5,138.6 178.5,133.2 179.5,133.3 185.5,138.7 186.5,138.4 192.5,133.1 199.5,138.7 206.5,133.1 213.5,138.7 219.5,133.3 220.5,133.2 226.5,138.6 227.5,138.6 233.5,133.2 234.5,133.4 240.5,138.7 247.5,133.1 254.5,138.7 260.5,133.4 261.5,133.1 267.5,138.4 268.5,138.7 274.5,133.3 275.5,133.3 281.5,138.6 282.5,138.5 288.5,133.1 289.5,133.4 295.5,138.7 302.5,133.1 309.5,138.7 315.5,133.4 316.5,133.1 322.5,138.5 323.5,138.6 329.5,133.3 330.5,133.3 336.5,138.7 337.5,138.4 343.5,133.1 344.5,133.4 350.5,138.7 357.5,133.3 364.5,138.4 370.1,134.5 371.5,134.2 377.5,137.7 378.9,137.5 384.5,134.9 391.5,137.4 398.5,135.5 405.5,137.1 412.5,135.5 419.5,137.1 425.5,135.6 432.5,137 439.5,135.6 446.5,137.1 453.5,135.3 460.5,137.5 467.5,134.4 474.5,138 480.5,133.9 481.5,133.9 487.5,138.6 488.5,138.4 494.5,133.1 495.5,133.4 501.5,138.7 508.5,133.1 515.5,138.7 521.5,133.4 522.5,133.2 528.5,138.5 529.5,138.6 535.5,133.2 536.5,133.3 542.5,138.7 549.5,133.1 556.5,138.7 563.5,133.1 570.5,138.7 576.5,133.3 577.5,133.2 583.5,138.6 584.5,138.5 590.5,133.2 591.5,133.4 597.5,138.7 604.5,133.1 611.5,138.7 617.5,133.4 618.5,133.1 624.5,138.5 625.5,138.6 631.5,133.3 632.5,133.3 638.5,138.6 639.5,138.5 645.5,133.1 646.5,133.4 652.5,138.7 659.5,133.1 666.5,138.7 672.5,133.4 673.5,133.2 679.5,138.3 680.5,138.5 686.5,133.8 687.5,134 693.5,138.2 700.5,134.2 707.5,137.8 714.5,134.7 721.5,137.5 727.5,135.3 734.5,137.1 742.5,135.8 734.5,137.4 727.5,135.6 721.5,137.7 714.5,135.4 712.5,135.7 707.5,138.1 703.5,136 700.5,135.2 697.5,136.1 693.5,138.5 689.5,135.7 686.5,135.3 683.5,136.2 680.5,138.6 679.5,138.5 676.5,136.1 673.5,135.3 670.5,135.7 666.5,138.9 662.5,135.9 659.5,135.2 656.5,135.8 652.5,138.9 648.5,135.7 645.5,135.2 642.5,136 639.5,138.6 638.5,138.8 634.5,135.6 629.5,135.6 625.5,138.8 624.5,138.6 621.5,136 618.5,135.2 615.5,135.7 611.5,138.9 607.5,135.8 604.5,135.2 601.5,135.9 597.5,138.9 593.5,135.7 590.5,135.3 588.5,135.6 584.5,138.7 583.5,138.7 579.5,135.6 574.5,135.6 570.5,138.9 566.5,135.9 563.5,135.2 560.5,135.8 556.5,138.9 552.5,135.8 549.5,135.2 546.5,135.9 542.5,138.9 538.5,135.6 535.5,135.3 532.5,136.1 529.5,138.7 528.5,138.7 524.5,135.6 519.5,135.7 515.5,138.9 511.5,135.9 508.5,135.2 505.5,135.8 501.5,138.9 497.5,135.7 494.5,135.2 491.5,136 488.5,138.6 487.5,138.7 483.5,135.7 480.5,135.3 478.5,135.7 474.5,138.3 469.5,135.7 467.5,135.4 465.5,135.7 460.5,137.7 453.5,135.6 446.5,137.4 439.5,135.8 432.5,137.4 425.5,135.9 419.5,137.4 412.5,135.8 405.5,137.4 398.5,135.7 391.5,137.6 384.5,135.4 377.5,137.9 373.5,135.8 371.5,135.3 368.5,135.8 364.5,138.6 360.5,136 357.5,135.2 354.5,135.8 350.5,138.9 346.5,135.7 343.5,135.2 340.5,136 337.5,138.6 336.5,138.8 332.5,135.6 327.5,135.6 323.5,138.7 322.5,138.6 319.5,136 316.5,135.2 313.5,135.7 309.5,138.9 305.5,135.9 302.5,135.2 299.5,135.9 295.5,138.9 291.5,135.7 288.5,135.2 285.5,136 282.5,138.6 281.5,138.8 277.5,135.6 272.5,135.6 268.5,138.8 267.5,138.6 264.5,136 261.5,135.2 258.5,135.7 254.5,138.9 250.5,135.8 247.5,135.2 244.5,135.9 240.5,138.9 236.5,135.7 233.5,135.3 230.5,136.1 227.5,138.7 226.5,138.7 222.5,135.6 217.5,135.7 213.5,138.9 209.5,135.9 206.5,135.2 203.5,135.8 199.5,138.9 195.5,135.8 192.5,135.2 189.5,135.9 186.5,138.6 185.5,138.8 181.5,135.6 178.5,135.4 175.5,136.1 172.5,138.7 171.5,138.7 168.5,136 165.5,135.3 162.5,135.7 158.5,138.7 154.5,135.9 151.5,135.2 148.5,135.9 144.5,138.4 140.5,135.9 137.5,135.4 130.5,137.7 124.5,135.6 117.5,137.5 110.5,135.8 103.5,137.4 96.5,136.1 89.5,137.2ZM502.2,215.5 502.7,213.5 506.5,210.3 509.5,209.4 527.5,206.6 531.5,207.4 564.5,205.6 585.5,207 587.7,207.5 588.5,208.5 587.3,209.5 582.5,209.9 560.5,210 532.5,211.5 531.5,212.1 529.6,216.5 528.8,223.5 527.9,226.5 522.5,233.1 520.5,233.7 513.5,231.8 510.5,230.5 509,227.5 508.5,219.4 507.5,218.3ZM566.5,207.5 535.9,208.5 532.8,209.5 541.8,209.5ZM531.9,209.5 529.4,207.5 527.5,206.9 509.8,209.5 506.5,210.4 503,213.5 502.5,215 503.5,216.2 506.9,217.5 508.5,218.8 509.1,220.5 509.7,227.5 510.7,229.5 512.5,230.7 518.5,232.8 521.5,233 523.6,231.5 528,225.5 529.1,217.5ZM459.5,212.5 459.1,214.5 456.5,215.5 438.5,215.4 437.5,215.1 437,213.5 437.7,210.5 439.5,209.2 441.5,209.1 447.5,213 448.5,212.6 454.5,207.2 455.6,207.5ZM459.5,213.5 458.5,211.2 455.5,207.5 454.5,207.3 448.5,212.8 447.5,213.1 441.5,209.2 439.5,209.3 437.8,210.5 437.2,213.5 437.5,214.8 438.5,215.3 456.5,215.3 458.5,214.9ZM465.1,216.5 466.5,215.5 469.6,215.5 471.5,216.5 473,218.5 472.6,219.5 468.5,221.8 467.5,221.6 465.1,219.5ZM465.3,216.5 465.3,219.5 467.5,221.4 468.5,221.6 472.3,219.5 472.8,218.5 471.3,216.5 469.5,215.6 466.5,215.6ZM394.1,217.5 394.4,216.5 396.5,215.9 399,216.5 399.4,217.5 398,218.5 396.5,218.7ZM394.8,217.5 396.5,218.2 398.7,217.5 398.1,216.5 396.5,216.2 395.3,216.5ZM692.3,229.5 692.8,230.5 690.6,233.5 690.4,237.5 689.7,238.5 686.5,238.9 683.4,238.5 682.9,237.5 683.3,234.5 684.5,231.8 689.5,228.9ZM691.7,229.5 689.5,229.2 684.5,232.2 683.5,234.7 683.5,238.2 685.5,238.8 689.5,238.4 690.2,237.5 690.3,233.5 692.2,230.5ZM707.5,231.5 708.5,230.8 709.5,231.1 709.8,232.5 708.5,233 707.6,232.5ZM85.6,249.5 87.5,248.2 89.5,248.4 90.5,249.8 90.5,251.7 88.5,253.1 86.5,253 85.1,251.5ZM87.5,249.2 86.5,249.9 86.2,251.5 87.3,252.5 88.5,252.5 89.8,251.5 89.8,250.5 89.3,249.5ZM93.8,263.5 96.5,262.2 98.5,262.7 100.1,265.5 99.5,268.1 97.5,269.2 94.5,268.3 93.5,267.4 92.8,265.5ZM93.6,264.5 93.7,266.5 95.5,268 98.5,267.9 99.6,266.5 99.4,264.5 97.5,262.6 95.5,262.8ZM96.5,273.6 97.5,273.3 99.2,275.5 99.3,277.5 98.5,278.3 97.4,278.5 96,277.5 95.7,275.5ZM130.6,309.5 131.5,309 132.9,309.5 132.5,310.5 131.5,310.6ZM143.4,314.5 143.6,313.5 145.5,312.8 146.9,313.5 147.1,314.5 145.5,315.5ZM143.8,314.5 145.5,315.2 146.8,314.5 146.6,313.5 145.5,313.1 144,313.5ZM356.3,336.5 356.6,335.5 358.5,335 361.7,335.5 362,336.5 358.5,337.5ZM357.2,336.5 358.5,337 360.4,336.5 359.7,335.5 358.5,335.4ZM491.9,393.5 492.2,396.5 491.1,399.5 491.4,403.5 490.6,405.5 487.5,408.7 481.5,409.5 478.5,414.4 477.5,415 472.4,415.5 471.7,416.5 471.4,420.5 470.5,421.8 430.5,422.7 429.4,425.5 428.5,426.3 424.5,426.5 423.5,426.2 423,422.5 420.5,419.5 418.5,418.9 413.5,422 390.5,422.5 389.5,423.2 388.6,425.5 387.5,426.5 382.5,426.6 381.8,425.5 381.5,420.5 380.5,416.5 383.5,415.5 388.5,416.3 412.5,415.9 417.5,412.1 419.5,411.6 424.5,413.6 427.5,414.2 439.5,412.8 458.2,407.5 468.2,403.5 474.2,399.5 478.9,395.5 481.2,392.5 483.5,387.8 484.5,387.6 486.4,388.5 490.5,391.6ZM491,396.5 489.9,394.5 488.5,393.6 486.5,393.1 484.5,393.4 471.5,402.5 466.5,405.3 457.6,408.5 437.5,414.1 428.5,415 424.5,413.9 419.5,411.8 414.5,414.5 413.5,416.7 412.5,417.1 389.5,417.3 383.5,415.9 381,417.5 382,425.5 382.5,426.4 387.5,426.2 388.4,425.5 389.5,422.3 390.5,421.6 413.5,421.1 418.5,418.7 419.5,418.7 421.5,420.2 423.1,422.5 423.5,425.9 424.5,426.3 428.5,426.1 430.3,422.5 431.5,422.2 470.5,421.6 471.2,420.5 472,415.5 477.5,414.8 478.9,413.5 480.9,409.5 487.5,408.5 490.4,405.5 491.2,403.5 490.6,400.5ZM285.5,392.8 286.5,392.4 287.5,392.9 294.5,398.9 301.4,401.5 307.5,405.7 312.5,406.9 316.5,409 319.8,411.5 321.2,414.5 320.8,415.5 318.5,417.3 306.5,416.9 305.5,416.5 305.1,415.5 304.5,410.5 303.5,409.6 292.5,408.5 291.4,401.5 290.5,400.8 286.5,400.5 285.5,399.5 285,395.5ZM285.5,393.3 285.2,395.5 285.7,399.5 287.5,400.5 290.5,400.5 291.5,401 292.2,407.5 292.9,408.5 303.9,409.5 304.7,410.5 305.2,415.5 306.5,416.7 317.5,417.1 319.6,416.5 320.4,414.5 320,412.5 317.5,410 312.5,407.2 307.5,406.1 301.1,401.5 294.5,399.3 287.5,393.1 286.5,392.6ZM322.7,415.5 323.6,414.5 327.5,412.7 333.5,412.3 335.5,412.6 338.8,414.5 341.5,417.2 345.5,415.8 352.5,414.7 357.5,416.2 373.7,416.5 374.3,417.5 372.5,421.6 366.5,421.8 363.5,423.5 354.5,423.4 342.5,422.8 341.2,421.5 341.4,419.5 340.5,418.3 333.5,418.9 328.5,418.7 323.5,417.6ZM340.2,417.5 340.2,416.5 338.3,414.5 335.5,412.8 333.5,412.4 326.5,413.2 324.4,414.5 323.3,416.5 324.5,417.7 329.5,418.5 338.5,418.3ZM341.6,421.5 342.5,422.5 363.5,423.2 365.2,422.5 366.5,420.6 372.5,420.5 373.1,418.5 372.5,417.8 364.5,417.4 351.5,415 344.5,416.7 342.6,418.5Z"/>
<path fill="#0a5ce0" stroke="#0a5ce0" stroke-width="0.4" fill-rule="evenodd" d="M83.5,136.3 89.5,137.2 96.5,136.1 103.5,137.4 110.5,135.8 117.5,137.5 124.5,135.6 130.5,137.7 137.5,135.4 140.5,135.9 144.5,138.4 148.5,135.9 151.5,135.2 154.5,135.9 158.5,138.7 162.5,135.7 165.5,135.3 168.5,136 171.5,138.7 172.5,138.7 175.5,136.1 178.5,135.4 181.5,135.6 185.5,138.8 186.5,138.6 189.5,135.9 192.5,135.2 195.5,135.8 199.5,138.9 203.5,135.8 206.5,135.2 209.5,135.9 213.5,138.9 217.5,135.7 222.5,135.6 226.5,138.7 227.5,138.7 230.5,136.1 233.5,135.3 236.5,135.7 240.5,138.9 244.5,135.9 247.5,135.2 250.5,135.8 254.5,138.9 258.5,135.7 261.5,135.2 264.5,136 267.5,138.6 268.5,138.8 272.5,135.6 277.5,135.6 281.5,138.8 282.5,138.6 285.5,136 288.5,135.2 291.5,135.7 295.5,138.9 299.5,135.9 302.5,135.2 305.5,135.9 309.5,138.9 313.5,135.7 316.5,135.2 319.5,136 322.5,138.6 323.5,138.7 327.5,135.6 332.5,135.6 336.5,138.8 337.5,138.6 340.5,136 343.5,135.2 346.5,135.7 350.5,138.9 354.5,135.8 357.5,135.2 360.5,136 364.5,138.6 368.5,135.8 371.5,135.3 373.5,135.8 377.5,137.9 384.5,135.4 391.5,137.6 398.5,135.7 405.5,137.4 412.5,135.8 419.5,137.4 425.5,135.9 432.5,137.4 439.5,135.8 446.5,137.4 453.5,135.6 460.5,137.7 465.5,135.7 467.5,135.4 469.5,135.7 474.5,138.3 478.5,135.7 480.5,135.3 483.5,135.7 487.5,138.7 488.5,138.6 491.5,136 494.5,135.2 497.5,135.7 501.5,138.9 505.5,135.8 508.5,135.2 511.5,135.9 515.5,138.9 519.5,135.7 524.5,135.6 528.5,138.7 529.5,138.7 532.5,136.1 535.5,135.3 538.5,135.6 542.5,138.9 546.5,135.9 549.5,135.2 552.5,135.8 556.5,138.9 560.5,135.8 563.5,135.2 566.5,135.9 570.5,138.9 574.5,135.6 579.5,135.6 583.5,138.7 584.5,138.7 588.5,135.6 590.5,135.3 593.5,135.7 597.5,138.9 601.5,135.9 604.5,135.2 607.5,135.8 611.5,138.9 615.5,135.7 618.5,135.2 621.5,136 624.5,138.6 625.5,138.8 629.5,135.6 634.5,135.6 638.5,138.8 639.5,138.6 642.5,136 645.5,135.2 648.5,135.7 652.5,138.9 656.5,135.8 659.5,135.2 662.5,135.9 666.5,138.9 670.5,135.7 673.5,135.3 676.5,136.1 679.5,138.5 680.5,138.6 683.5,136.2 686.5,135.3 689.5,135.7 693.5,138.5 697.5,136.1 700.5,135.2 703.5,136 707.5,138.1 712.5,135.7 714.5,135.4 721.5,137.7 727.5,135.6 734.5,137.4 742.5,136.2 734.5,137.6 727.5,135.9 721.5,137.9 716.5,136.1 713.5,135.8 707.5,138.4 703.5,136.2 700.5,135.8 697.5,136.4 693.5,138.6 689.5,136.1 686.5,135.8 683.5,136.5 680.5,138.7 679.5,138.6 676.5,136.4 673.5,135.8 670.5,136.1 666.5,139.1 662.5,136.2 659.5,135.8 656.5,136.2 652.5,139.1 648.5,136.1 645.5,135.8 642.5,136.3 639.5,138.7 638.5,138.9 635.5,136.4 633.5,135.9 629.5,136.1 625.5,138.9 620.5,136 616.5,135.9 614.5,136.6 611.5,139.1 607.5,136.2 604.5,135.8 601.5,136.3 597.5,139.1 593.5,136.1 590.5,135.8 587.5,136.4 584.5,138.8 583.5,138.8 581.5,137 579.5,136 575.5,135.9 573.5,136.5 570.5,139 566.5,136.3 562.5,135.9 559.5,136.7 556.5,139.1 552.5,136.2 549.5,135.8 546.5,136.3 542.5,139 539.5,136.5 537.5,135.9 533.5,136 531.5,137 529.5,138.8 528.5,138.8 526.5,136.9 524.5,136 520.5,135.9 518.5,136.6 515.5,139.1 511.5,136.3 508.5,135.8 505.5,136.2 501.5,139.1 497.5,136.1 494.5,135.8 491.5,136.3 488.5,138.7 487.5,138.9 484.5,136.5 481.5,135.8 478.5,136.1 474.5,138.5 469.5,136 465.5,136 460.5,137.9 453.5,135.9 446.5,137.6 439.5,136.1 433.5,137.6 426.5,136.1 418.5,137.6 412.5,136.1 405.5,137.6 398.5,136 391.5,137.8 384.5,135.8 377.5,138.1 373.5,136.1 370.5,135.8 367.5,136.6 364.5,138.7 360.5,136.3 357.5,135.8 354.5,136.2 350.5,139.1 346.5,136.2 343.5,135.8 340.5,136.3 336.5,139 333.5,136.5 331.5,135.9 327.5,136.1 323.5,138.9 322.5,138.8 320.5,136.9 318.5,136 314.5,135.9 312.5,136.6 309.5,139.1 305.5,136.2 302.5,135.8 299.5,136.2 295.5,139.1 291.5,136.1 288.5,135.8 285.5,136.4 282.5,138.7 281.5,138.9 278.5,136.4 276.5,135.9 271.5,136.5 268.5,139 264.5,136.3 259.5,135.9 257.5,136.7 254.5,139.1 250.5,136.2 247.5,135.8 244.5,136.3 240.5,139.1 237.5,136.6 233.5,135.8 230.5,136.4 227.5,138.8 226.5,138.8 224.5,137 222.5,136 218.5,135.9 216.5,136.5 213.5,139 209.5,136.3 205.5,135.9 202.5,136.7 199.5,139.1 195.5,136.2 192.5,135.8 189.5,136.3 185.5,139 182.5,136.5 179.5,135.8 175.5,136.4 172.5,138.9 171.5,138.8 168.5,136.4 165.5,135.8 162.5,136.1 158.5,138.8 154.5,136.3 151.5,135.8 148.5,136.2 144.5,138.6 140.5,136.2 138.5,135.8 135.5,136.1 130.5,137.9 124.5,135.9 117.5,137.6 110.5,136 103.5,137.6 96.5,136.4 89.1,137.5ZM590.5,208.5 590.3,209.5 589.5,210.2 587.5,210.8 560.5,211 532.5,212.5 531.5,213.1 529.6,217.5 529.1,224.5 528.4,226.5 525.3,231.5 522.5,234.2 510.5,235.1 505.5,235 499.5,233.6 496.7,231.5 496.9,229.5 498.5,228.3 501.5,227.3 507.5,226.5 508.5,223.2 507.8,219.5 502.5,216.3 501.9,214.5 504.5,211.5 508.5,209.5 527.5,206.2 530.5,206.4 562.5,204.8 586.5,205.9 588.8,206.5ZM588.5,208.5 587.7,207.5 585.5,207 564.5,205.6 531.5,207.4 527.5,206.6 509.5,209.4 506.5,210.3 502.7,213.5 502.2,215.5 507.5,218.3 508.5,219.4 509,227.5 510.5,230.5 513.5,231.8 520.5,233.7 522.5,233.1 527.9,226.5 528.8,223.5 529.6,216.5 531.5,212.1 532.5,211.5 560.5,210 582.5,209.9 587.3,209.5ZM459.7,213.5 458.5,215.3 456.5,215.7 438.5,215.6 437.5,215.3 436.9,213.5 437.5,210.5 439.5,209.1 441.5,209 447.5,212.9 454.5,207.1 455.5,207.3 458.5,210.9ZM459.5,212.5 455.6,207.5 454.5,207.2 448.5,212.6 447.5,213 441.5,209.1 439.5,209.2 437.7,210.5 437,213.5 437.5,215.1 438.5,215.4 456.5,215.5 459.1,214.5ZM668.6,210.5 674.5,209.8 683.5,210.1 693.5,211.5 696.4,212.5 696,213.5 693.5,214.1 679.5,213.9 671.2,212.5 669,211.5ZM393.4,217.5 393.7,216.5 396.5,215.5 399.5,216.3 400,217.5 399.1,218.5 396.5,219 394.5,218.6ZM394.1,217.5 396.5,218.7 398,218.5 399.4,217.5 399,216.5 396.5,215.9 394.4,216.5ZM465,216.5 466.1,215.5 469.5,215.4 471.7,216.5 473.2,218.5 472.9,219.5 468.5,222 467.5,221.8 464.9,219.5ZM465.1,216.5 465.1,219.5 467.5,221.6 468.5,221.8 472.6,219.5 473,218.5 471.5,216.5 469.6,215.5 466.5,215.5ZM505.5,219.6 506.5,220.5 505.5,221.2ZM368.4,222.5 369.5,221.3 371.5,221 373.1,221.5 373.7,222.5 372.5,224.1 370.5,224.5 368.6,223.5ZM693,229.5 693.4,230.5 691.5,232.2 690.8,233.5 690.6,237.5 690,238.5 686.5,239.1 683.1,238.5 682.7,237.5 683.2,233.5 684.5,231.3 689.5,228.5 690.5,228.3ZM692.3,229.5 689.5,228.9 684.5,231.8 683.3,234.5 682.9,237.5 683.4,238.5 686.5,238.9 689.7,238.5 690.4,237.5 690.6,233.5 692.8,230.5ZM706.5,229.5 708.5,229 710.5,229.7 711.6,231.5 710.8,233.5 709.5,234 706.9,233.5 705.8,231.5ZM707.5,231.5 707.6,232.5 708.5,233 709.8,232.5 709.5,231.1 708.5,230.8ZM726.6,233.5 727.5,232.9 728.5,233.5 727.5,233.9ZM86.5,247.7 88.5,247.3 90.6,248.5 91.2,251.5 89.5,253.4 86.5,253.6 84.6,252.5 84.2,251.5 84.6,249.5ZM87.5,248.2 85.6,249.5 85.1,251.5 86.5,253 88.5,253.1 90,252.5 90.7,250.5 89.5,248.4ZM96.5,261.9 98.5,262.3 99.5,263.2 100.8,266.5 100.5,268.1 98.5,270.5 98.4,271.5 100.6,277.5 99.5,279 97.5,279.6 95.5,278.8 94.8,277.5 94.5,275.5 95.5,270.5 92.8,267.5 92.2,265.5 93.3,263.5ZM93.8,263.5 92.8,265.5 93.5,267.4 94.5,268.3 97.5,269.2 99.5,268.1 100.1,265.5 98.5,262.7 96.5,262.2ZM97.5,273.3 96.5,273.6 95.7,275.5 96,277.5 97.5,278.5 99.3,277.5 99.5,276.5ZM388.3,274.5 389.5,273.3 392.5,272.8 395.5,273.5 396.2,274.5 395.5,275.6 392.5,276.3 389.5,275.8ZM130.2,309.5 131.5,308.6 133.5,309.5 133.1,310.5 131.5,311 130.4,310.5ZM130.6,309.5 131.5,310.6 132.5,310.5 132.9,309.5 131.5,309ZM143.1,314.5 143.5,313.3 145.5,312.6 147.2,313.5 147.5,314.5 146.7,315.5 145.5,315.8 144.1,315.5ZM143.4,314.5 145.5,315.5 147.1,314.5 146.9,313.5 145.5,312.8 143.6,313.5ZM150.5,317.5 151.8,317.5 151.5,318.2ZM363.8,335.5 363.7,336.5 359.5,337.7 356.5,337.5 355.5,336.5 355.8,335.5 358.5,334.5 362.5,334.4ZM356.3,336.5 358.5,337.5 362,336.5 361.7,335.5 358.5,335 356.6,335.5ZM310.7,360.5 311.5,358.9 313.5,358.2 315.5,358.5 316.7,359.5 316.8,360.5 315.5,361.8 313.5,362.2 311.5,361.6ZM349.6,362.5 350.5,361.7 352.5,361.5 354.4,362.5 354.9,363.5 353.5,364.8 351.5,364.9 349.5,363.6ZM331.5,365.5 331.7,364.5 332.5,363.8 334.5,363.4 336.5,364.2 336.9,365.5 336,366.5 334.5,366.9 332.5,366.6ZM498.2,389.5 498.2,391.5 497.5,393 494.5,395.5 491.6,399.5 491.5,404.5 489.2,407.5 486.5,409.3 481.5,409.9 478.7,414.5 477.5,415.2 472.5,415.7 472,416.5 471.7,420.5 470.5,422 431.5,422.8 430.5,423.1 429.6,425.5 428.6,426.5 423.5,426.5 422.9,422.5 420.5,419.6 418.5,419 416.5,420.1 414.5,422.4 413.5,422.8 390.5,423.2 389.5,424 388.5,426 386.5,426.8 382.5,426.8 381.7,425.5 381.4,420.5 379.8,416.5 380,415.5 384.5,414.9 388.5,415.4 411.5,415.1 417.5,411.8 419.5,411.3 426.5,413.5 435.5,412.6 452.3,408.5 463.7,404.5 470.8,400.5 476.6,395.5 478.6,391.5 478.8,383.5 479.5,382.2 480.5,381.8 483.5,382.3 489.5,384.8 495.5,386.2 497.2,387.5ZM491.9,393.5 490.5,391.6 486.4,388.5 484.5,387.6 483.5,387.8 481.2,392.5 478.9,395.5 474.2,399.5 468.2,403.5 458.2,407.5 439.5,412.8 427.5,414.2 424.5,413.6 419.5,411.6 417.5,412.1 412.5,415.9 388.5,416.3 383.5,415.5 380.5,416.5 381.5,420.5 381.8,425.5 382.5,426.6 387.5,426.5 388.6,425.5 389.5,423.2 390.5,422.5 413.5,422 418.5,418.9 420.5,419.5 423,422.5 423.5,426.2 424.5,426.5 428.5,426.3 429.4,425.5 430.5,422.7 470.5,421.8 471.4,420.5 471.7,416.5 472.4,415.5 477.5,415 478.5,414.4 481.5,409.5 487.5,408.7 490.6,405.5 491.4,403.5 491.1,399.5 492.2,396.5ZM284.9,393.5 285.5,392.4 287.5,392.6 294.6,398.5 301.9,401.5 307.5,405.1 313.5,406.9 319.5,410.6 321.5,413.5 322.5,414 327.5,412.6 333.5,412.2 335.5,412.5 340.5,415.2 342.5,415.7 351.5,414.3 357.5,416.1 364.5,415.1 375.3,415.5 375.5,416.5 373.9,418.5 372.5,422.4 366.5,422.6 364.5,423.6 362.5,423.8 342.5,423 341.4,422.5 340.5,419.5 339.5,418.9 328.5,419 323.5,418 321.5,416.2 318.5,417.5 306.5,417.1 305.3,416.5 304.5,411.5 303.5,409.9 293.5,409.1 292.3,408.5 291,401.5 286.5,400.7 285.3,399.5ZM285.5,392.8 285,395.5 285.5,399.5 286.5,400.5 290.5,400.8 291.4,401.5 292.5,408.5 303.5,409.6 304.5,410.5 305.1,415.5 305.5,416.5 306.5,416.9 318.5,417.3 320.8,415.5 321.2,414.5 319.8,411.5 316.5,409 312.5,406.9 307.5,405.7 301.4,401.5 294.5,398.9 287.5,392.9 286.5,392.4ZM322.7,415.5 323.5,417.6 328.5,418.7 333.5,418.9 340.5,418.3 341.4,419.5 341.2,421.5 342.5,422.8 354.5,423.4 363.5,423.5 366.5,421.8 372.5,421.6 374.3,417.5 373.7,416.5 357.5,416.2 352.5,414.7 345.5,415.8 341.5,417.2 338.8,414.5 335.5,412.6 333.5,412.3 327.5,412.7 323.6,414.5Z"/>
<path fill="#0a7ce0" stroke="#0a7ce0" stroke-width="0.4" fill-rule="evenodd" d="M83.5,136.7 89.5,137.5 96.5,136.4 103.5,137.6 110.5,136 117.5,137.6 124.5,135.9 130.5,137.9 137.5,135.8 140.5,136.2 144.5,138.6 148.5,136.2 151.5,135.8 154.5,136.3 158.5,138.8 162.5,136.1 165.5,135.8 168.5,136.4 171.5,138.8 172.5,138.9 175.5,136.4 179.5,135.8 182.5,136.5 185.5,139 189.5,136.3 192.5,135.8 195.5,136.2 199.5,139.1 203.5,136.2 206.5,135.8 209.5,136.3 213.5,139 216.5,136.5 218.5,135.9 222.5,136 224.5,137 226.5,138.8 227.5,138.8 230.5,136.4 233.5,135.8 237.5,136.6 240.5,139.1 244.5,136.3 247.5,135.8 250.5,136.2 254.5,139.1 257.5,136.7 259.5,135.9 264.5,136.3 268.5,139 271.5,136.5 276.5,135.9 278.5,136.4 281.5,138.9 282.5,138.7 285.5,136.4 288.5,135.8 291.5,136.1 295.5,139.1 299.5,136.2 302.5,135.8 305.5,136.2 309.5,139.1 312.5,136.6 314.5,135.9 318.5,136 320.5,136.9 322.5,138.8 323.5,138.9 327.5,136.1 331.5,135.9 333.5,136.5 336.5,139 340.5,136.3 343.5,135.8 346.5,136.2 350.5,139.1 354.5,136.2 357.5,135.8 360.5,136.3 364.5,138.7 367.5,136.6 370.5,135.8 373.5,136.1 377.5,138.1 384.5,135.8 391.5,137.8 398.5,136 405.5,137.6 412.5,136.1 418.5,137.6 426.5,136.1 433.5,137.6 439.5,136.1 446.5,137.6 453.5,135.9 460.5,137.9 465.5,136 469.5,136 474.5,138.5 478.5,136.1 481.5,135.8 484.5,136.5 487.5,138.9 488.5,138.7 491.5,136.3 494.5,135.8 497.5,136.1 501.5,139.1 504.5,136.7 507.5,135.9 511.5,136.3 515.5,139.1 518.5,136.6 520.5,135.9 524.5,136 526.5,136.9 528.5,138.8 529.5,138.8 532.5,136.4 535.5,135.8 539.5,136.5 542.5,139 546.5,136.3 549.5,135.8 552.5,136.2 556.5,139.1 559.5,136.7 562.5,135.9 566.5,136.3 570.5,139 573.5,136.5 575.5,135.9 579.5,136 581.5,137 583.5,138.8 584.5,138.8 587.5,136.4 590.5,135.8 593.5,136.1 597.5,139.1 601.5,136.3 604.5,135.8 607.5,136.2 611.5,139.1 614.5,136.6 616.5,135.9 620.5,136 625.5,138.9 629.5,136.1 633.5,135.9 635.5,136.4 638.5,138.9 639.5,138.7 642.5,136.3 645.5,135.8 648.5,136.1 652.5,139.1 656.5,136.2 659.5,135.8 662.5,136.2 666.5,139.1 670.5,136.1 673.5,135.8 676.5,136.4 679.5,138.6 680.5,138.7 683.5,136.5 686.5,135.8 689.5,136.1 693.5,138.6 697.5,136.4 700.5,135.8 703.5,136.2 707.5,138.4 713.5,135.8 716.5,136.1 721.5,137.9 727.5,135.9 734.5,137.6 742.5,136.5 734.5,137.7 727.5,136.2 721.5,138.1 716.5,136.4 713.5,136.1 710.5,136.9 707.5,138.5 703.5,136.5 700.5,136.1 697.5,136.6 693.5,138.7 690.5,136.7 686.5,136.1 683.5,136.7 680.5,138.8 679.5,138.8 676.5,136.6 673.5,136.1 669.5,136.8 666.5,139.2 663.5,136.9 659.5,136.1 655.5,136.9 652.5,139.3 649.5,136.8 645.5,136.1 642.5,136.6 638.5,139.1 635.5,136.7 632.5,136.1 628.5,136.7 625.5,139.1 621.5,136.6 617.5,136.2 614.5,136.8 611.5,139.3 608.5,136.9 604.5,136.1 600.5,136.9 597.5,139.2 594.5,136.8 590.5,136.1 587.5,136.6 584.5,138.9 583.5,139 580.5,136.6 576.5,136.2 573.5,136.7 570.5,139.2 566.5,136.6 562.5,136.2 559.5,136.8 556.5,139.3 553.5,136.8 549.5,136.1 545.5,137 542.5,139.2 539.5,136.7 536.5,136.2 532.5,136.6 529.5,139 528.5,138.9 525.5,136.6 521.5,136.2 518.5,136.8 515.5,139.2 512.5,136.9 508.5,136.1 504.5,136.9 501.5,139.3 498.5,136.8 494.5,136.1 491.5,136.6 487.5,139 484.5,136.7 481.5,136.1 477.5,136.7 474.5,138.6 470.5,136.7 467.5,136.1 465.5,136.3 460.5,138.1 453.5,136.2 446.5,137.7 439.5,136.3 433.5,137.7 426.5,136.4 419.5,137.7 412.5,136.3 405.5,137.7 398.5,136.3 391.5,138 384.5,136.1 377.5,138.4 374.5,136.7 371.5,136.1 367.5,136.8 364.5,138.8 360.5,136.6 357.5,136.1 353.5,136.9 350.5,139.3 347.5,136.8 343.5,136.1 340.5,136.6 336.5,139.1 333.5,136.7 330.5,136.2 326.5,136.7 323.5,139 322.5,138.9 319.5,136.6 315.5,136.2 312.5,136.8 309.5,139.3 306.5,136.9 302.5,136.1 298.5,136.9 295.5,139.3 292.5,136.8 288.5,136.1 285.5,136.6 282.5,138.9 281.5,139 278.5,136.7 274.5,136.2 271.5,136.7 268.5,139.1 264.5,136.6 260.5,136.2 257.5,136.8 254.5,139.3 251.5,136.9 247.5,136.1 243.5,137 240.5,139.2 237.5,136.8 233.5,136.1 230.5,136.6 227.5,138.9 226.5,139 223.5,136.6 219.5,136.2 216.5,136.7 213.5,139.2 209.5,136.6 205.5,136.2 202.5,136.9 199.5,139.3 196.5,136.8 192.5,136.1 189.5,136.6 185.5,139.2 182.5,136.7 179.5,136.2 175.5,136.7 172.5,139 171.5,138.9 168.5,136.6 165.5,136.1 161.5,136.8 158.5,139 155.5,137 151.5,136.1 148.5,136.5 144.5,138.7 141.5,136.9 137.5,136.1 130.5,138.1 124.5,136.1 117.5,137.8 110.5,136.3 103.5,137.7 96.5,136.6 89.5,137.6ZM592.9,209.5 591.5,211 588.5,211.8 561.5,211.7 535.5,212.7 532.5,213.1 531.5,213.9 529.9,217.5 529.3,225.5 528.5,228.5 529,229.5 533.8,232.5 534.1,234.5 532.3,236.5 527.5,238.5 520.5,238.9 507.5,238.4 500.5,237.6 492.5,235.1 490.1,233.5 488.6,231.5 488.6,229.5 489.2,228.5 491.9,226.5 495.5,225.1 503.5,223.3 504.6,218.5 501.5,215.5 501.6,214.5 504.3,211.5 508.5,209.4 527.5,205.8 563.5,204.2 588.5,205.3 590.7,206.5ZM590.5,208.5 588.8,206.5 586.5,205.9 562.5,204.8 530.5,206.4 527.5,206.2 508.5,209.5 504.5,211.5 501.9,214.5 502.5,216.3 507.8,219.5 508.5,223.2 507.5,226.5 501.5,227.3 498.5,228.3 496.9,229.5 496.7,231.5 499.5,233.6 505.5,235 510.5,235.1 522.5,234.2 525.3,231.5 528.4,226.5 529.1,224.5 529.6,217.5 531.5,213.1 532.5,212.5 560.5,211 587.5,210.8 589.5,210.2 590.3,209.5ZM505.5,219.6 505.5,221.2 506.5,220.5ZM459.8,213.5 458.5,215.4 456.5,215.9 438.5,215.8 437.5,215.5 436.8,213.5 437.4,210.5 439.5,209 441.5,208.9 447.5,212.8 454.5,207 455.5,207.3 458.5,210.8ZM459.7,213.5 458.5,210.9 455.5,207.3 454.5,207.1 447.5,212.9 441.5,209 439.5,209.1 437.5,210.5 436.9,213.5 437.5,215.3 438.5,215.6 456.5,215.7 458.5,215.3ZM480.5,207.4 481.1,208.5 480.5,209.1 479.4,208.5ZM636.4,214.5 639,212.5 644.2,210.5 661.5,207.6 678.5,208.1 690.5,209.1 701.6,211.5 704.7,212.5 705.6,213.5 700.5,213.8 693.5,215.5 671.5,215 666.3,214.5 658.5,212.6 644.5,213.1ZM668.6,210.5 669,211.5 671.2,212.5 679.5,213.9 693.5,214.1 696,213.5 696.4,212.5 693.5,211.5 683.5,210.1 674.5,209.8ZM392.7,217.5 393.5,216.1 396.5,215.2 399.5,215.8 400.4,216.5 400.7,217.5 399.5,218.7 396.5,219.4 393.5,218.5ZM393.4,217.5 394.5,218.6 396.5,219 399.1,218.5 400,217.5 399.5,216.3 396.5,215.5 393.7,216.5ZM464.8,216.5 466.5,215.3 470.1,215.5 472.9,217.5 473.4,218.5 473.1,219.5 469.5,221.9 467.5,222 464.7,219.5ZM465,216.5 464.9,219.5 467.5,221.8 468.5,222 472.9,219.5 473.2,218.5 471.7,216.5 469.5,215.4 466.1,215.5ZM366.8,222.5 368.3,220.5 371.5,219.8 374.3,220.5 375.6,222.5 374.5,224.7 372.5,225.7 370.5,225.9 367.5,224.5ZM368.4,222.5 368.6,223.5 370.5,224.5 372.5,224.1 373.7,222.5 373.1,221.5 371.5,221 369.5,221.3ZM704.5,227.8 707.5,227.5 710.9,228.5 713,230.5 712.8,232.5 710.4,234.5 706.5,233.9 704.6,231.5ZM706.5,229.5 705.8,231.5 706.9,233.5 709.5,234 710.8,233.5 711.6,231.5 710.5,229.7 708.5,229ZM693.6,229.5 694.3,230.5 692.5,231.5 691,233.5 690.3,238.5 689.5,239.1 683.5,239.1 682.8,238.5 683,232.5 684.5,230.7 689.5,227.7 691.5,228ZM693,229.5 690.5,228.3 689.5,228.5 684.5,231.3 683.2,233.5 682.7,237.5 683.1,238.5 686.5,239.1 690,238.5 690.6,237.5 690.8,233.5 691.5,232.2 693.4,230.5ZM725.4,232.5 727.5,232 729,232.5 729.6,233.5 728.9,234.5 727.5,234.8 725.4,233.5ZM726.6,233.5 727.5,233.9 728.5,233.5 727.5,232.9ZM325.5,245.5 328.5,244.6 330.6,245.5ZM90.5,247.3 91.4,248.5 91.7,250.5 91.3,252.5 90.5,253.4 87.5,254.1 84.5,253.5 83.5,252.1 83.5,250 84.5,248.2 87.5,246.5ZM86.5,247.7 84.6,249.5 84.2,251.5 84.6,252.5 86.5,253.6 89.5,253.4 91.2,251.5 90.6,248.5 88.5,247.3ZM96.5,261.7 98.5,261.9 99.5,262.6 101.4,267.5 99.5,271.5 101.5,277.5 100.4,279.5 97.5,280.5 95.5,279.9 94.1,278.5 93.6,276.5 93.9,270.5 91.7,266.5 92.1,264.5 92.9,263.5ZM96.5,261.9 93.3,263.5 92.2,265.5 92.8,267.5 95.5,270.5 94.5,275.5 94.8,277.5 95.5,278.8 97.5,279.6 99.5,279 100.6,277.5 98.4,271.5 98.5,270.5 100.5,268.1 100.8,266.5 99.5,263.2 98.5,262.3ZM385.7,274.5 386,273.5 387.4,272.5 392.5,272.1 397.1,272.5 398.5,273.5 398.9,274.5 398.5,275.5 397.3,276.5 392.5,277 388.2,276.5ZM388.3,274.5 389.5,275.8 392.5,276.3 395.5,275.6 396.2,274.5 395.5,273.5 392.5,272.8 389.5,273.3ZM115.3,304.5 117.2,304.5 116.5,305.1ZM129.8,309.5 131.5,308.3 132.9,308.5 134,309.5 133.5,310.7 131.5,311.3 130,310.5ZM130.2,309.5 130.4,310.5 131.5,311 133.1,310.5 133.5,309.5 131.5,308.6ZM143,313.5 145.5,312.4 147.5,313.5 147.9,314.5 146.5,315.9 144.5,316 142.8,314.5ZM143.1,314.5 144.1,315.5 145.5,315.8 146.7,315.5 147.5,314.5 147.2,313.5 145.5,312.6 143.5,313.3ZM149.6,317.5 150.5,316.7 151.5,316.7 152.6,317.5 152.4,318.5 150.5,318.8ZM150.5,317.5 151.5,318.2 151.8,317.5ZM163.3,327.5 165,327.5 165.2,328.5 163.5,328.8ZM365.4,335.5 365.1,336.5 358.5,338.1 355.6,337.5 354.8,336.5 355.1,335.5 356.5,334.5 360.5,334.1 363.5,332.9 365.2,334.5ZM363.8,335.5 362.5,334.4 358.5,334.5 355.8,335.5 355.5,336.5 356.5,337.5 359.5,337.7 363.7,336.5ZM186.3,335.5 187,335.5 186.5,335.9ZM178.1,341.5 179.5,341 180.3,341.5 179.5,342.7 178.4,342.5ZM191.6,355.5 192.5,354.8 193.9,355.5 192.5,356.4ZM308.8,360.5 309.5,358.5 312.5,357.1 316.5,357.5 318.6,359.5 318.1,361.5 316.5,362.7 314.5,363.2 310.6,362.5ZM310.7,360.5 311.5,361.6 313.5,362.2 315.5,361.8 316.8,360.5 316.7,359.5 315.5,358.5 313.5,358.2 311.5,358.9ZM369.2,360.5 369.5,359.1 371.5,358.3 374.9,359.5 375.6,360.5 375,361.5 372.5,362.4 370.5,362.1ZM347.8,362.5 349.5,360.7 351.5,360.2 354.5,361.3 356.3,363.5 356,364.5 354.5,365.5 351.5,365.9 348.4,364.5ZM349.6,362.5 349.5,363.6 351.5,364.9 353.5,364.8 354.9,363.5 354.4,362.5 352.5,361.5 350.5,361.7ZM330,364.5 331.5,362.9 334.5,362.2 337.5,363.2 338.4,364.5 338.4,365.5 336.5,367.4 333.5,367.8 330.6,366.5ZM331.5,365.5 332.5,366.6 334.5,366.9 336,366.5 336.9,365.5 336.5,364.2 334.5,363.4 332.5,363.8 331.7,364.5ZM500.1,388.5 500.3,391.5 499.5,394 497.5,396.1 493.5,398.1 492.1,399.5 491.5,401.5 491.8,404.5 489.5,407.5 487.5,409.2 481.5,410.2 478.5,414.9 472.5,416.1 471.9,420.5 470.5,422.2 431.5,423.1 430.5,423.5 429.9,425.5 429,426.5 424.5,426.9 423.3,426.5 423,423.5 422.1,421.5 420.5,419.7 418.5,419.2 416.3,420.5 414.5,423 413.5,423.5 390.5,423.9 387.5,426.9 382.5,427 381.5,425.5 381.1,419.5 378.5,414.6 377.7,414.5 411.5,414.1 419.5,411 424.5,412.6 427.6,412.5 441.4,410.5 458.5,405.5 468.2,400.5 473.1,396.5 475.3,393.5 476.4,388.5 475.9,385.5 473.5,378.5 473.6,377.5 474.5,376.8 476.5,376.7 479.5,377.5 488.5,381.7 496.5,384.2 498.5,385.7ZM498.2,389.5 497.2,387.5 495.5,386.2 489.5,384.8 483.5,382.3 480.5,381.8 479.5,382.2 478.8,383.5 478.6,391.5 476.6,395.5 470.8,400.5 463.7,404.5 452.3,408.5 435.5,412.6 426.5,413.5 419.5,411.3 417.5,411.8 411.5,415.1 388.5,415.4 384.5,414.9 380,415.5 379.8,416.5 381.4,420.5 381.7,425.5 382.5,426.8 386.5,426.8 388.5,426 389.5,424 390.5,423.2 413.5,422.8 414.5,422.4 416.5,420.1 418.5,419 420.5,419.6 422.9,422.5 423.5,426.5 428.6,426.5 429.6,425.5 430.5,423.1 431.5,422.8 470.5,422 471.7,420.5 472,416.5 472.5,415.7 477.5,415.2 478.7,414.5 481.5,409.9 486.5,409.3 489.2,407.5 491.5,404.5 491.6,399.5 494.5,395.5 497.5,393 498.2,391.5ZM284.6,393.5 285.5,392.1 287.5,392.4 297.3,399.5 316.5,408 319.5,409.9 321.5,412.8 322.5,413.4 324.5,413.4 327.5,412.4 334.5,412.1 340.5,414.4 344.5,414.7 352.5,413.8 357.5,415.9 360.1,415.5 361.5,414.5 363.5,414 377.4,414.5 374.1,418.5 372.5,423.1 366.5,423.2 363.5,424.1 342.5,423.2 340.9,422.5 339.8,419.5 337.5,418.8 332.5,419.7 324.5,418.6 321.5,417.2 318.5,417.8 306.5,417.3 305,416.5 304.2,411.5 303.5,410.2 293.5,409.3 292.1,408.5 290.6,401.5 286.5,400.9 285,399.5ZM284.9,393.5 285.3,399.5 286.5,400.7 291,401.5 292.3,408.5 293.5,409.1 303.5,409.9 304.5,411.5 305.3,416.5 306.5,417.1 318.5,417.5 321.5,416.2 323.5,418 328.5,419 339.5,418.9 340.5,419.5 341.4,422.5 342.5,423 362.5,423.8 364.5,423.6 366.5,422.6 372.5,422.4 373.9,418.5 375.5,416.5 375.3,415.5 364.5,415.1 357.5,416.1 351.5,414.3 342.5,415.7 340.5,415.2 335.5,412.5 333.5,412.2 327.5,412.6 322.5,414 321.5,413.5 319.5,410.6 313.5,406.9 307.5,405.1 301.9,401.5 294.6,398.5 287.5,392.6 285.5,392.4Z"/>
<path fill="#0a90e0" stroke="#0a90e0" stroke-width="0.4" fill-rule="evenodd" d="M83.5,136.9 89.5,137.6 96.5,136.6 103.5,137.7 110.5,136.3 117.5,137.8 124.5,136.1 130.5,138.1 137.5,136.1 141.5,136.9 144.5,138.7 148.5,136.5 151.5,136.1 155.5,137 158.5,139 161.5,136.8 165.5,136.1 168.5,136.6 171.5,138.9 172.5,139 175.5,136.7 179.5,136.2 182.5,136.7 185.5,139.2 189.5,136.6 192.5,136.1 196.5,136.8 199.5,139.3 202.5,136.9 206.5,136.1 210.5,137 213.5,139.2 216.5,136.7 219.5,136.2 223.5,136.6 226.5,139 227.5,138.9 230.5,136.6 233.5,136.1 237.5,136.8 240.5,139.2 243.5,137 247.5,136.1 251.5,136.9 254.5,139.3 257.5,136.8 260.5,136.2 264.5,136.6 268.5,139.1 271.5,136.7 274.5,136.2 278.5,136.7 281.5,139 282.5,138.9 285.5,136.6 288.5,136.1 292.5,136.8 295.5,139.3 298.5,136.9 302.5,136.1 306.5,136.9 309.5,139.3 312.5,136.8 315.5,136.2 319.5,136.6 322.5,138.9 323.5,139 326.5,136.7 330.5,136.2 333.5,136.7 336.5,139.1 340.5,136.6 343.5,136.1 347.5,136.8 350.5,139.3 353.5,136.9 357.5,136.1 360.5,136.6 364.5,138.8 367.5,136.8 371.5,136.1 374.5,136.7 377.5,138.4 384.5,136.1 391.5,138 398.5,136.3 405.5,137.7 412.5,136.3 419.5,137.7 426.5,136.4 433.5,137.7 439.5,136.3 446.5,137.7 453.5,136.2 460.5,138.1 465.5,136.3 467.5,136.1 470.5,136.7 474.5,138.6 477.5,136.7 481.5,136.1 484.5,136.7 487.5,139 491.5,136.6 494.5,136.1 498.5,136.8 501.5,139.3 504.5,136.9 508.5,136.1 512.5,136.9 515.5,139.2 518.5,136.8 521.5,136.2 525.5,136.6 528.5,138.9 529.5,139 532.5,136.6 536.5,136.2 539.5,136.7 542.5,139.2 545.5,137 549.5,136.1 553.5,136.8 556.5,139.3 559.5,136.8 562.5,136.2 566.5,136.6 570.5,139.2 573.5,136.7 576.5,136.2 580.5,136.6 583.5,139 584.5,138.9 587.5,136.6 590.5,136.1 594.5,136.8 597.5,139.2 600.5,136.9 604.5,136.1 608.5,136.9 611.5,139.3 614.5,136.8 617.5,136.2 621.5,136.6 625.5,139.1 628.5,136.7 632.5,136.1 635.5,136.7 638.5,139.1 642.5,136.6 645.5,136.1 649.5,136.8 652.5,139.3 655.5,136.9 659.5,136.1 663.5,136.9 666.5,139.2 669.5,136.8 673.5,136.1 676.5,136.6 679.5,138.8 680.5,138.8 683.5,136.7 686.5,136.1 690.5,136.7 693.5,138.7 697.5,136.6 700.5,136.1 703.5,136.5 707.5,138.5 710.5,136.9 713.5,136.1 716.5,136.4 721.5,138.1 727.5,136.2 734.5,137.7 742.5,136.6 734.5,137.9 727.5,136.4 721.5,138.3 714.5,136.4 710.5,137.1 707.5,138.6 703.5,136.7 700.5,136.4 697.5,136.8 693.5,138.8 690.5,136.9 686.5,136.4 683.5,136.9 680.5,138.9 679.5,138.9 676.5,136.8 673.5,136.4 669.5,137 666.5,139.4 663.5,137.1 659.5,136.4 655.5,137.1 652.5,139.4 649.5,137 645.5,136.4 642.5,136.8 638.5,139.2 636.5,137.4 634.5,136.7 628.5,136.9 625.5,139.2 621.5,136.8 617.5,136.5 614.5,137 611.5,139.5 608.5,137.1 604.5,136.4 600.5,137.1 597.5,139.4 594.5,137 591.5,136.5 587.5,136.8 584.5,139 583.5,139.1 580.5,136.9 574.5,136.7 572.5,137.6 570.5,139.4 567.5,137.2 563.5,136.4 559.5,137 556.5,139.5 553.5,137 549.5,136.4 545.5,137.2 542.5,139.4 540.5,137.6 538.5,136.7 532.5,136.9 529.5,139.1 528.5,139 525.5,136.8 521.5,136.5 518.5,137 515.5,139.4 512.5,137.1 508.5,136.4 504.5,137.1 501.5,139.5 498.5,137 494.5,136.4 491.5,136.8 487.5,139.1 484.5,136.9 481.5,136.5 477.5,136.9 474.5,138.7 470.5,136.8 467.5,136.4 464.5,136.8 460.5,138.3 456.5,136.9 453.5,136.5 446.5,137.9 439.5,136.6 433.5,137.8 426.5,136.6 419.5,137.8 412.5,136.5 405.5,137.9 398.5,136.5 391.5,138.2 387.5,136.8 384.5,136.4 381.5,136.9 378.5,138.5 377.5,138.5 374.5,136.9 371.5,136.4 367.5,136.9 364.5,138.9 360.5,136.8 357.5,136.4 353.5,137 350.5,139.5 347.5,137 343.5,136.4 339.5,137.2 336.5,139.3 334.5,137.5 332.5,136.7 326.5,136.9 323.5,139.2 322.5,139 319.5,136.8 315.5,136.5 312.5,137 309.5,139.4 306.5,137.1 302.5,136.4 298.5,137.1 295.5,139.4 292.5,137 288.5,136.4 285.5,136.8 281.5,139.2 278.5,136.9 272.5,136.7 270.5,137.5 268.5,139.3 264.5,136.8 261.5,136.4 257.5,137 254.5,139.5 251.5,137 247.5,136.4 243.5,137.1 240.5,139.4 237.5,136.9 233.5,136.4 230.5,136.8 227.5,139.1 226.5,139.1 223.5,136.9 217.5,136.7 215.5,137.6 213.5,139.4 210.5,137.2 206.5,136.4 202.5,137 199.5,139.5 196.5,137 192.5,136.4 188.5,137.2 185.5,139.3 182.5,136.9 178.5,136.5 175.5,136.9 172.5,139.1 171.5,139 168.5,136.8 165.5,136.4 161.5,137 158.5,139.1 155.5,137.1 151.5,136.4 148.5,136.7 144.5,138.8 141.5,137 137.5,136.4 130.5,138.3 124.5,136.4 117.5,137.9 110.5,136.5 103.5,137.8 96.5,136.7 89.5,137.7ZM482.1,231.5 482.5,228.5 484.3,226.5 486.5,225.1 491.5,223.2 501.5,221.4 502.5,220.7 503.5,218.5 501.5,216.4 501.4,214.5 505.5,210.5 508.5,209.3 528.5,205.1 561.5,203.7 587.5,204.5 590.5,205.1 597.5,208.2 598.9,209.5 599.1,210.5 598.7,211.5 597.5,212.4 595.5,212.7 561.5,212.5 536.5,213.1 532.5,213.8 531.5,214.7 530.2,217.5 530.5,225.6 534.5,227.6 538.3,230.5 540.7,233.5 540.7,235.5 538.5,237.9 534.5,240.4 526.5,243.1 519.5,243.2 494.5,239.3 489.2,237.5 485.5,235.5 483.2,233.5ZM592.9,209.5 590.7,206.5 588.5,205.3 563.5,204.2 527.5,205.8 508.5,209.4 504.3,211.5 501.6,214.5 501.5,215.5 504.6,218.5 503.5,223.3 495.5,225.1 491.9,226.5 489.2,228.5 488.6,229.5 488.6,231.5 490.1,233.5 492.5,235.1 500.5,237.6 507.5,238.4 520.5,238.9 527.5,238.5 532.3,236.5 534.1,234.5 533.8,232.5 529,229.5 528.5,228.5 529.3,225.5 529.9,217.5 531.5,213.9 532.5,213.1 535.5,212.7 561.5,211.7 588.5,211.8 591.5,211ZM631.3,214.5 637.5,210.5 641.5,208.9 656.5,206.1 661.5,205.7 692.5,207.9 708.8,211.5 715.5,213.5 717.2,214.5 700.5,214.7 693.5,216.1 674.5,216 651.5,214.8 634.5,215.9 631.8,215.5ZM636.4,214.5 644.5,213.1 658.5,212.6 666.3,214.5 671.5,215 693.5,215.5 700.5,213.8 705.6,213.5 704.7,212.5 701.6,211.5 690.5,209.1 678.5,208.1 661.5,207.6 644.2,210.5 639,212.5ZM459.9,213.5 458.5,215.7 456.5,216 438.5,216 437.2,215.5 436.6,213.5 437.5,210.3 440.5,208.6 447.5,212.7 448.5,212.3 454.5,206.9 455.5,207.2 458.5,210.6ZM459.8,213.5 458.5,210.8 455.5,207.3 454.5,207 447.5,212.8 441.5,208.9 439.5,209 437.4,210.5 436.8,213.5 437.5,215.5 438.5,215.8 456.5,215.9 458.5,215.4ZM479.2,207.5 480.5,207 481.3,207.5 481.5,208.6 480.5,209.6 479.5,209.4 479,208.5ZM480.5,207.4 479.4,208.5 480.5,209.1 481.1,208.5ZM392,217.5 392.3,216.5 393.5,215.5 396.5,214.9 399.9,215.5 401.1,216.5 401.3,217.5 399.5,219.2 396.5,219.7 393.5,219ZM392.7,217.5 393.5,218.5 396.5,219.4 399.5,218.7 400.7,217.5 400.4,216.5 399.5,215.8 396.5,215.2 393.5,216.1ZM464.6,216.5 465.5,215.5 466.5,215.3 470.4,215.5 473.1,217.5 473.7,218.5 473.4,219.5 469.5,222.1 467.5,222.2 465,220.5 464.5,218.5ZM464.8,216.5 464.7,219.5 467.5,222 469.5,221.9 473.1,219.5 473.4,218.5 472.9,217.5 470.1,215.5 466.5,215.3ZM365.4,222.5 366.5,220.5 367.5,219.8 371.5,218.8 375.5,219.7 376.6,220.5 377.5,222.5 376.9,224.5 376,225.5 373.5,226.9 371.5,227.3 367.5,226.3 365.8,224.5ZM366.8,222.5 367.5,224.5 370.5,225.9 372.5,225.7 374.5,224.7 375.6,222.5 374.3,220.5 371.5,219.8 368.3,220.5ZM623,222.5 624.9,220.5 628.5,219.1 633.2,219.5 633.4,220.5 629.1,223.5 626.5,224.5 624.5,224.3 623.3,223.5ZM676.6,220.5 686.5,219.7 696.5,220.4 704.5,225.5 713.1,228.5 715.5,230.5 715.7,231.5 711.5,234.7 709.5,235 706.3,234.5 704,232.5 702,228.5 698.5,224.4 695.5,222 693.5,222 692.2,224.5 691.9,227.5 695.5,230.5 692.5,231.8 691.5,232.9 690.5,238.6 688.5,239.5 683.5,239.3 682.5,238.5 682.2,237.5 682.8,230.5 679.6,228.5 677.8,226.5 678.1,222.5ZM693.6,229.5 691.5,228 689.5,227.7 684.5,230.7 683,232.5 682.8,238.5 683.5,239.1 689.5,239.1 690.3,238.5 691,233.5 692.5,231.5 694.3,230.5ZM704.5,227.8 704.6,231.5 706.5,233.9 710.4,234.5 712.8,232.5 713,230.5 710.9,228.5 707.5,227.5ZM723.9,232.5 725.4,231.5 727.5,231.4 730,232.5 730.5,233.5 729.5,234.8 727.5,235.4 725.3,234.5ZM725.4,232.5 725.4,233.5 727.5,234.8 728.9,234.5 729.6,233.5 729,232.5 727.5,232ZM323.1,245.5 323.9,244.5 328.5,243.9 332.3,244.5 333.1,245.5 328.5,246.6 325.5,246.5ZM325.5,245.5 330.6,245.5 328.5,244.6ZM83.5,248.1 86.5,246 88.5,245.7 90.5,246.4 91.9,248.5 91.8,252.5 91,253.5 89.5,254.2 84.5,254.1 83.5,253.6 83.5,252.1 84.5,253.5 85.5,253.9 88.5,254 90.5,253.4 91.7,251.5 91.7,249.5 90.5,247.3 88.5,246.5 85.5,247.3 83.5,250ZM96.5,261.4 98.5,261.5 99.5,262.1 102,267.5 100.1,272.5 102.2,276.5 102.2,278.5 100.5,280.3 97.5,281.1 94.8,280.5 93.1,278.5 92.7,276.5 93,271.5 91,266.5 92.5,263.5ZM96.5,261.7 92.9,263.5 92.1,264.5 91.7,266.5 93.9,270.5 93.6,276.5 94.1,278.5 95.5,279.9 97.5,280.5 100.4,279.5 101.5,277.5 99.5,271.5 101.4,267.5 99.5,262.6 98.5,261.9ZM383,272.5 392.5,271.6 401.5,272.4 401.6,276.5 393.5,277.5 389.5,277.3 383.5,275.1 383,274.5ZM385.7,274.5 388.2,276.5 392.5,277 397.3,276.5 398.5,275.5 398.9,274.5 398.5,273.5 397.1,272.5 392.5,272.1 387.4,272.5 386,273.5ZM114.1,304.5 116.5,303.6 118.4,304.5 117.9,305.5 116.5,305.9 114.5,305.5ZM115.3,304.5 116.5,305.1 117.2,304.5ZM129.4,309.5 130.5,308.4 132.5,308.1 133.7,308.5 134.4,309.5 133.5,311.2 131.5,311.7 129.5,310.5ZM129.8,309.5 130,310.5 131.5,311.3 133.5,310.7 134,309.5 132.9,308.5 131.5,308.3ZM142.7,313.5 144.5,312.3 146.5,312.5 147.7,313.5 148.1,315.5 146.5,316.3 144.5,316.3 143.1,315.5 142.5,314.5ZM143,313.5 142.8,314.5 144.5,316 146.5,315.9 147.9,314.5 147.5,313.5 145.5,312.4ZM148.9,317.5 149.5,316.5 151.5,316.3 153,317.5 152.9,318.5 151.5,319.5 150.5,319.4 149.2,318.5ZM149.6,317.5 150.5,318.8 152.4,318.5 152.6,317.5 151.5,316.7 150.5,316.7ZM379.5,322.4 380.5,322.9 381,325.5 380.5,327.1 379.5,327.6 378.5,326.9 378.1,325.5 378.4,323.5ZM162.5,328.5 162.8,327.5 163.5,327 165.6,327.5 165.7,328.5 164.5,329.3 163.5,329.3ZM163.3,327.5 163.5,328.8 165.2,328.5 165,327.5ZM376.2,330.5 375.5,331.6 372.5,331.7 370.5,332.3 368.5,333.7 366.8,336.5 363.4,337.5 357.5,338.4 355.5,337.9 354.1,336.5 354.3,335.5 355.5,334.5 361,333.5 362.5,331.2 363.5,330.6 372.5,331.1 373.6,330.5ZM365.4,335.5 365.2,334.5 363.5,332.9 360.5,334.1 356.5,334.5 355.1,335.5 354.8,336.5 355.6,337.5 358.5,338.1 365.1,336.5ZM185.2,335.5 186.5,334.5 187.5,334.6 188.4,335.5 188.1,336.5 186.5,337 185.5,336.5ZM186.3,335.5 186.5,335.9 187,335.5ZM177.7,342.5 177.6,341.5 178.5,340.7 179.5,340.6 180.7,341.5 180.4,342.5 179.5,343ZM178.1,341.5 178.4,342.5 179.5,342.7 180.3,341.5 179.5,341ZM448.2,342.5 449.5,341.5 450.3,342.5 449.5,342.9ZM235.2,347.5 235.5,346.5 237.5,346.2 249.4,346.5 250.2,347.5 249.5,348.5 235.7,348.5ZM190.9,355.5 192.5,354.3 193.8,354.5 194.6,355.5 194.1,356.5 192.5,357 191.3,356.5ZM191.6,355.5 192.5,356.4 193.9,355.5 192.5,354.8ZM306.5,359.5 306.8,358.5 308.5,356.9 313.5,355.7 318.5,356.6 319.9,357.5 321,359.5 320.3,361.5 318.5,363.1 313.5,364.3 310.5,363.8 308,362.5 307,361.5ZM308.9,359.5 309.3,361.5 312.5,363.1 316.5,362.7 318.6,360.5 318,358.5 314.5,357 311.1,357.5ZM368.2,359.5 369.5,357.7 371.5,357.5 376.2,359.5 377,360.5 376.6,361.5 375.3,362.5 371.5,363.2 369.5,362.6 368.5,361.7ZM369.2,360.5 370.5,362.1 372.5,362.4 375,361.5 375.6,360.5 374.9,359.5 371.5,358.3 369.5,359.1ZM240.5,359.6 241.5,359.3 242,360.5 240.5,361 240.1,360.5ZM346,361.5 348.5,359.2 352.5,358.8 357.8,363.5 357.7,364.5 354.5,366.4 350.2,366.5 346.6,364.5 346,363.5ZM347.8,362.5 348.4,364.5 351.5,365.9 354.5,365.5 356,364.5 356.3,363.5 354.5,361.3 351.5,360.2 349.5,360.7ZM328.3,364.5 329.3,362.5 330.5,361.6 334.5,360.7 338.5,361.9 340.1,364.5 339.4,366.5 338.3,367.5 334.5,368.6 330.2,367.5 329,366.5ZM330,364.5 330.6,366.5 333.5,367.8 336.5,367.4 338.4,365.5 338.4,364.5 337.5,363.2 334.5,362.2 331.5,362.9ZM502,390.5 501.5,393.7 499.5,396.9 498.5,397.6 494.5,398.3 492.5,399.6 491.7,401.5 492.1,404.5 488.8,408.5 486.5,409.8 481.6,410.5 478.5,415.2 472.5,416.4 471.8,421.5 470.5,422.4 431.5,423.3 430.5,424.1 429.5,426.4 427.5,427.1 423.5,427 422.7,422.5 419.5,419.3 416.5,420.5 414.5,423.6 413.5,424.2 390.5,424.6 387.5,427.1 382.5,427.2 381.5,426.5 381,419.5 378.5,415.6 377.5,415.4 374.3,418.5 372.5,423.7 371.5,424.1 355.5,424.3 343.5,423.6 340.4,422.5 339.2,419.5 337.5,419 332.5,420.3 324.5,419.1 320.5,417.9 306.5,417.5 304.8,416.5 303.4,410.5 292.5,409.2 291.5,407.5 290.5,401.9 285.4,400.5 284.1,395.5 284.6,392.5 285.5,391.8 287.5,392.2 292.9,395.5 297.9,399.5 317.5,407.7 319.5,409.1 322.5,413 324.5,413.1 327.5,412.3 333.5,411.9 339.5,413.8 352.5,412.9 354.2,414.5 357.5,415.8 359.4,415.5 362.5,412.9 405.5,413.2 413.5,412.6 418.5,410.7 424.5,411.6 432.5,410.8 445.3,408.5 457.6,404.5 463.2,401.5 468.5,397.5 471.6,394.5 473.4,391.5 473.9,388.5 473.3,385.5 466.3,373.5 466.5,372.1 468.5,371.1 472.5,371.5 476.5,372.7 488.5,379.1 497.5,382.6 500.6,385.5 501.6,387.5ZM500.1,388.5 498.5,385.7 496.5,384.2 488.5,381.7 479.5,377.5 476.5,376.7 474.5,376.8 473.6,377.5 473.5,378.5 475.9,385.5 476.4,388.5 475.3,393.5 473.1,396.5 468.2,400.5 458.5,405.5 441.4,410.5 427.6,412.5 424.5,412.6 419.5,411 411.5,414.1 377.7,414.5 378.5,414.6 381.1,419.5 381.5,425.5 382.5,427 387.5,426.9 390.5,423.9 413.5,423.5 414.5,423 416.3,420.5 418.5,419.2 420.5,419.7 422.1,421.5 423,423.5 423.3,426.5 424.5,426.9 429,426.5 429.9,425.5 430.5,423.5 431.5,423.1 470.5,422.2 471.9,420.5 472.5,416.1 478.5,414.9 481.5,410.2 487.5,409.2 489.5,407.5 491.8,404.5 491.5,401.5 492.1,399.5 493.5,398.1 497.5,396.1 499.5,394 500.3,391.5ZM284.6,393.5 285,399.5 286.5,400.9 290.6,401.5 292.1,408.5 293.5,409.3 303.5,410.2 304.2,411.5 305,416.5 306.5,417.3 318.5,417.8 321.5,417.2 324.5,418.6 332.5,419.7 337.5,418.8 339.8,419.5 340.9,422.5 342.5,423.2 363.5,424.1 366.5,423.2 372.5,423.1 374.1,418.5 377.4,414.5 363.5,414 361.5,414.5 360.1,415.5 357.5,415.9 352.5,413.8 344.5,414.7 340.5,414.4 334.5,412.1 327.5,412.4 324.5,413.4 322.5,413.4 321.5,412.8 319.5,409.9 316.5,408 297.3,399.5 287.5,392.4 285.5,392.1Z"/>
<path fill="#10a0dc" stroke="#10a0dc" stroke-width="0.4" fill-rule="evenodd" d="M83.5,137 89.5,137.7 96.5,136.7 103.5,137.8 110.5,136.5 117.5,137.9 124.5,136.4 130.5,138.3 137.5,136.4 141.5,137 144.5,138.8 148.5,136.7 151.5,136.4 155.5,137.1 158.5,139.1 161.5,137 165.5,136.4 168.5,136.8 171.5,139 172.5,139.1 175.5,136.9 178.5,136.5 182.5,136.9 185.5,139.3 188.5,137.2 192.5,136.4 196.5,137 199.5,139.5 202.5,137 206.5,136.4 210.5,137.2 213.5,139.4 215.5,137.6 217.5,136.7 223.5,136.9 226.5,139.1 227.5,139.1 230.5,136.8 233.5,136.4 237.5,136.9 240.5,139.4 243.5,137.1 247.5,136.4 251.5,137 254.5,139.5 257.5,137 261.5,136.4 264.5,136.8 268.5,139.3 270.5,137.5 272.5,136.7 278.5,136.9 281.5,139.2 285.5,136.8 288.5,136.4 292.5,137 295.5,139.4 298.5,137.1 302.5,136.4 306.5,137.1 309.5,139.4 312.5,137 315.5,136.5 319.5,136.8 322.5,139 323.5,139.2 326.5,136.9 332.5,136.7 334.5,137.5 336.5,139.3 339.5,137.2 343.5,136.4 347.5,137 350.5,139.5 353.5,137 357.5,136.4 360.5,136.8 364.5,138.9 367.5,136.9 371.5,136.4 374.5,136.9 377.5,138.5 378.5,138.5 381.5,136.9 384.5,136.4 387.5,136.8 391.5,138.2 398.5,136.5 405.5,137.9 412.5,136.5 419.5,137.8 426.5,136.6 433.5,137.8 439.5,136.6 446.5,137.9 453.5,136.5 456.5,136.9 460.5,138.3 464.5,136.8 467.5,136.4 470.5,136.8 474.5,138.7 477.5,136.9 481.5,136.5 484.5,136.9 487.5,139.1 491.5,136.8 494.5,136.4 498.5,137 501.5,139.5 504.5,137.1 508.5,136.4 512.5,137.1 515.5,139.4 518.5,137 521.5,136.5 525.5,136.8 528.5,139 529.5,139.1 532.5,136.9 538.5,136.7 540.5,137.6 542.5,139.4 545.5,137.2 549.5,136.4 553.5,137 556.5,139.5 559.5,137 563.5,136.4 567.5,137.2 570.5,139.4 572.5,137.6 574.5,136.7 580.5,136.9 583.5,139.1 584.5,139 587.5,136.8 591.5,136.5 594.5,137 597.5,139.4 600.5,137.1 604.5,136.4 608.5,137.1 611.5,139.5 614.5,137 617.5,136.5 621.5,136.8 625.5,139.2 628.5,136.9 634.5,136.7 636.5,137.4 638.5,139.2 642.5,136.8 645.5,136.4 649.5,137 652.5,139.4 655.5,137.1 659.5,136.4 663.5,137.1 666.5,139.4 669.5,137 673.5,136.4 676.5,136.8 679.5,138.9 680.5,138.9 683.5,136.9 686.5,136.4 690.5,136.9 693.5,138.8 697.5,136.8 700.5,136.4 703.5,136.7 707.5,138.6 710.5,137.1 714.5,136.4 721.5,138.3 727.5,136.4 734.5,137.9 742.5,136.8 734.5,138 727.5,136.7 721.5,138.5 716.5,136.8 713.5,136.7 710.5,137.2 707.5,138.7 703.5,136.9 700.5,136.6 697.5,137 693.5,138.9 690.5,137.1 686.5,136.7 683.5,137 680.5,139.1 679.5,139 676.5,137 673.5,136.7 669.5,137.2 666.5,139.6 663.5,137.3 659.5,136.7 655.5,137.2 652.5,139.6 649.5,137.2 645.5,136.7 641.5,137.4 638.5,139.3 635.5,137.1 629.5,136.9 627.5,137.6 625.5,139.4 621.5,137 617.5,136.7 614.5,137.2 611.5,139.6 608.5,137.2 604.5,136.7 600.5,137.3 597.5,139.5 594.5,137.2 591.5,136.7 587.5,137.1 584.5,139.2 583.5,139.2 580.5,137.1 574.5,136.9 572.5,137.7 570.5,139.5 567.5,137.4 563.5,136.7 559.5,137.2 556.5,139.6 553.5,137.2 549.5,136.7 545.5,137.4 542.5,139.5 540.5,137.7 538.5,136.9 532.5,137.1 529.5,139.2 528.5,139.2 525.5,137.1 521.5,136.7 518.5,137.2 515.5,139.5 512.5,137.3 508.5,136.7 504.5,137.2 501.5,139.6 498.5,137.2 494.5,136.7 490.5,137.4 487.5,139.3 484.5,137.1 481.5,136.7 477.5,137.1 474.5,138.8 470.5,137 467.5,136.6 464.5,136.9 460.5,138.5 456.5,137 453.5,136.7 446.5,138 439.5,136.7 432.5,137.9 425.5,136.8 419.5,138 412.5,136.7 405.5,138 398.5,136.7 391.5,138.3 387.5,136.9 384.5,136.6 381.5,137.1 378.5,138.6 377.5,138.6 374.5,137 371.5,136.7 367.5,137.1 364.5,139 360.5,137 357.5,136.6 353.5,137.2 350.5,139.6 347.5,137.2 343.5,136.7 339.5,137.4 336.5,139.4 334.5,137.6 332.5,136.9 326.5,137.1 323.5,139.3 319.5,137 315.5,136.7 312.5,137.2 309.5,139.6 306.5,137.3 302.5,136.7 298.5,137.3 295.5,139.6 292.5,137.2 288.5,136.7 284.5,137.4 281.5,139.3 278.5,137.1 272.5,136.9 270.5,137.6 268.5,139.4 264.5,137 260.5,136.7 257.5,137.2 254.5,139.6 251.5,137.2 247.5,136.7 243.5,137.3 240.5,139.5 237.5,137.1 233.5,136.7 230.5,137.1 227.5,139.2 226.5,139.2 223.5,137.1 217.5,136.9 215.5,137.7 213.5,139.5 210.5,137.3 205.5,136.7 202.5,137.2 199.5,139.6 196.5,137.2 192.5,136.7 188.5,137.4 185.5,139.5 182.5,137.1 179.5,136.7 175.5,137.1 172.5,139.3 171.5,139.1 168.5,137.1 165.5,136.7 161.5,137.1 158.5,139.3 155.5,137.3 151.5,136.6 148.5,136.9 144.5,138.9 141.5,137.2 137.5,136.6 134.5,137 130.5,138.5 127.5,137.2 124.5,136.6 117.5,138 110.5,136.7 103.5,137.9 97.5,136.9 89.5,137.9ZM602.3,209.5 602.4,211.5 601.5,213.1 597.5,214.2 561.5,213.2 536.5,213.5 532.5,214.4 530.4,217.5 531.1,222.5 544.9,235.5 545,236.5 542.2,239.5 536.5,243.1 529.5,246.2 523.5,247.9 516.5,247.9 507.5,245 488.5,240.8 483.5,238.8 479.6,236.5 477.4,234.5 475.8,231.5 475.8,229.5 476.7,227.5 478.6,225.5 481.8,223.5 489.5,220.9 492.5,220.3 496.5,220.3 501.5,218.8 501.5,217.5 500.9,216.5 501.1,214.5 505.5,210.4 508.5,209.2 521.8,206.5 528.7,204.5 561.5,203.2 587.5,204 598.5,205.6 601.2,207.5ZM482.1,231.5 483.2,233.5 485.5,235.5 489.2,237.5 494.5,239.3 519.5,243.2 526.5,243.1 534.5,240.4 538.5,237.9 540.7,235.5 540.7,233.5 538.3,230.5 534.5,227.6 530.5,225.6 530.2,217.5 531.5,214.7 532.5,213.8 536.5,213.1 561.5,212.5 595.5,212.7 597.5,212.4 598.7,211.5 599.1,210.5 598.9,209.5 597.5,208.2 590.5,205.1 587.5,204.5 561.5,203.7 528.5,205.1 508.5,209.3 505.5,210.5 501.4,214.5 501.5,216.4 503.5,218.5 502.5,220.7 501.5,221.4 491.5,223.2 486.5,225.1 484.3,226.5 482.5,228.5ZM626.7,214.5 635.5,208.9 640.5,206.8 647,205.5 661.5,204.6 693.5,205.9 716.5,210.9 719.5,212.3 722,214.5 717.5,215.8 700.5,215.3 693.5,217.1 678.5,217 648.5,215.8 641.5,216 632.5,217.3ZM631.3,214.5 631.8,215.5 634.5,215.9 651.5,214.8 674.5,216 693.5,216.1 700.5,214.7 717.2,214.5 715.5,213.5 708.8,211.5 692.5,207.9 661.5,205.7 656.5,206.1 641.5,208.9 637.5,210.5ZM460,213.5 459.5,215 457.5,216.2 438.5,216.1 436.9,215.5 436.5,214.5 437.3,210.5 439.5,208.9 441.5,208.7 447.5,212.6 448.5,212.2 454.5,206.8 455.5,207.1 458.5,210.5ZM459.9,213.5 458.5,210.6 455.5,207.2 454.5,206.9 448.5,212.3 447.5,212.7 440.5,208.6 437.5,210.3 436.6,213.5 437.2,215.5 438.5,216 456.5,216 458.5,215.7ZM478.9,207.5 480.5,206.7 481.5,207.3 481.9,208.5 481.5,209.3 480.5,209.9 479.5,209.8 478.6,208.5ZM480.5,207 479.5,207.2 479,208.5 479.5,209.4 480.5,209.6 481.6,208.5ZM391.2,217.5 392.5,215.5 396.5,214.5 400.5,215.3 401.8,216.5 402,217.5 400.5,219.2 396.5,220.1 393.3,219.5 391.8,218.5ZM392,217.5 393.5,219 396.5,219.7 399.5,219.2 401.3,217.5 401.1,216.5 399.9,215.5 396.5,214.9 393.5,215.5 392.3,216.5ZM464.2,217.5 465.5,215.4 469.5,215.2 472.2,216.5 474,218.5 473.8,219.5 472.5,220.7 468.5,222.6 466.5,222 464.8,220.5ZM464.6,216.5 464.5,218.5 465,220.5 467.5,222.2 469.5,222.1 473.4,219.5 473.7,218.5 473.1,217.5 470.4,215.5 466.5,215.3 465.5,215.5ZM364,222.5 364.9,220.5 366.5,219.2 369.5,218.1 372.5,217.9 375.5,218.1 377.5,219 379.1,220.5 379.7,222.5 378.6,225.5 376.5,227.5 373.5,229 370.5,229.4 367.5,228.5 365.5,226.7 364.2,224.5ZM365.4,222.5 365.8,224.5 367.5,226.3 371.5,227.3 373.5,226.9 376,225.5 376.9,224.5 377.5,222.5 376.6,220.5 375.5,219.7 371.5,218.8 367.5,219.8 366.5,220.5ZM638.1,220.5 630.5,225.8 627.5,227.2 624.5,227.7 619.5,227.4 610.5,229.9 608.5,229.7 606.5,228.7 604.1,226.5 603.1,224.5 603.5,223.5 606.5,222.5 620.5,221.9 624.2,219.5 631.5,217.6 634.5,218ZM623,222.5 623.3,223.5 624.5,224.3 626.5,224.5 629.1,223.5 633.4,220.5 633.2,219.5 628.5,219.1 624.9,220.5ZM655.6,220.5 677.5,218.2 694.5,218.2 697.5,219.3 705.5,225 721.5,231.1 728.5,231.2 731,232.5 731.4,233.5 729.5,235.5 727.5,236 725.5,235.3 722.5,233.2 720.5,232.8 716.5,233.1 711.5,235.2 706.5,234.9 704,233.5 699.5,227.2 697.5,225.6 695.5,225 694.4,225.5 693.3,227.5 693.9,228.5 696.5,230.5 692,232.5 691.2,234.5 691.2,237.5 690.5,239 688.5,239.7 684.5,239.8 682.1,238.5 682.1,234.5 681.5,233 665.8,231.5 664.4,230.5 664.2,226.5 662.5,223.6ZM676.6,220.5 678.1,222.5 677.8,226.5 679.6,228.5 682.8,230.5 682.2,237.5 682.5,238.5 683.5,239.3 688.5,239.5 690.5,238.6 691.5,232.9 692.5,231.8 695.5,230.5 691.9,227.5 692.2,224.5 693.5,222 695.5,222 698.5,224.4 702,228.5 704,232.5 706.3,234.5 709.5,235 711.5,234.7 715.7,231.5 715.5,230.5 713.1,228.5 704.5,225.5 696.5,220.4 686.5,219.7ZM723.9,232.5 725.3,234.5 727.5,235.4 729.5,234.8 730.5,233.5 730,232.5 727.5,231.4 725.4,231.5ZM321.2,245.5 321.8,244.5 323.5,243.9 328.5,243.4 334.5,244.5 335,245.5 333.5,246.5 328.5,247.2 323.5,246.7ZM323.1,245.5 325.5,246.5 328.5,246.6 333.1,245.5 332.3,244.5 328.5,243.9 323.9,244.5ZM83.5,246.8 85.5,245.4 87.5,244.9 90.5,245.5 91.7,246.5 92.5,248.5 92.5,251.5 91.7,253.5 88.5,254.7 83.5,254.4 83.5,253.6 86.5,254.5 90.5,253.8 91.8,252.5 92.2,250.5 91.5,247.4 89.5,245.9 86.5,246 83.5,248.1ZM450.9,262.5 451.2,261.5 452.5,260.5 454.5,260.2 456.5,260.9 457.3,262.5 456.5,263.9 454.5,264.7 452.5,264.4 451.3,263.5ZM97.5,261 99.3,261.5 100.3,262.5 102.3,266.5 102.5,268.5 101.2,270.5 100.7,272.5 103.4,277.5 102.7,279.5 101.6,280.5 99.5,281.4 96.5,281.7 93.5,280.6 92.1,278.5 91.9,271.5 90.4,266.5 91.1,264.5 93.3,262.5ZM97.5,261.3 95.5,261.6 92.5,263.5 91,266.5 93,271.5 92.7,276.5 93.1,278.5 94.8,280.5 97.5,281.1 100.5,280.3 101.6,279.5 102.4,277.5 100.1,272.5 100.6,270.5 101.8,268.5 101.8,266.5 99.8,262.5ZM382.3,272.5 383.5,271.7 389.5,271.3 401.5,271.7 402.3,272.5 402.3,276.5 401.5,277.3 388.6,277.5 382.5,275.6ZM383,272.5 383,274.5 383.5,275.1 389.5,277.3 393.5,277.5 401.6,276.5 401.5,272.4 392.5,271.6ZM113.2,304.5 114.5,303.4 116.5,303.1 118.2,303.5 119.2,304.5 118.5,305.8 116.5,306.4 114.5,306.1 113.5,305.5ZM114.1,304.5 114.5,305.5 116.5,305.9 117.9,305.5 118.4,304.5 116.5,303.6ZM129.1,309.5 130.5,308.2 132.5,307.9 134.3,308.5 134.9,309.5 133.7,311.5 131.5,312 129.5,311ZM129.4,309.5 129.5,310.5 131.5,311.7 133.5,311.2 134.4,309.5 133.7,308.5 132.5,308.1 130.5,308.4ZM142.4,313.5 144.5,312.1 146.5,312.3 148,313.5 149,315.5 152.6,316.5 153.4,318.5 152.5,319.7 151.5,320 149.5,319.5 147.5,316.7 144.5,316.6 142.6,315.5ZM142.7,313.5 142.5,314.5 143.1,315.5 144.5,316.3 146.5,316.3 148.1,315.5 147.7,313.5 146.5,312.5 144.5,312.3ZM148.9,317.5 149.2,318.5 150.5,319.4 151.5,319.5 152.9,318.5 153,317.5 151.5,316.3 149.5,316.5ZM379.5,320.4 381.3,321.5 382,324.5 381.5,327.6 379.5,328.9 378.5,328.8 377.5,327.8 376.9,325.5 377.5,322.3ZM379.5,322.4 378.4,323.5 378.1,325.5 378.5,326.9 379.5,327.6 380.5,327.1 381,325.5 380.5,322.9ZM161.9,328.5 162.2,327.5 163.5,326.7 164.5,326.6 165.9,327.5 166,328.5 164.5,329.7 162.6,329.5ZM162.5,328.5 163.5,329.3 164.5,329.3 165.7,328.5 165.6,327.5 163.5,327 162.8,327.5ZM353.4,336.5 353.6,335.5 355.5,334 360.5,333.1 362.5,330.3 376.5,329.8 377.2,330.5 375.5,332.7 372.2,333.5 369.1,336.5 357.5,338.7 354.5,337.9ZM376.2,330.5 373.6,330.5 372.5,331.1 363.5,330.6 362.5,331.2 361,333.5 355.5,334.5 354.3,335.5 354.1,336.5 355.5,337.9 357.5,338.4 363.4,337.5 366.8,336.5 368.5,333.7 370.5,332.3 372.5,331.7 375.5,331.6ZM184.5,335.5 185.1,334.5 186.5,333.8 188.5,334.3 189.2,335.5 189.1,336.5 187.5,337.5 185.5,337.1ZM185.5,335.1 185.5,336.5 186.5,337 188.1,336.5 188.4,335.5 187.5,334.6 186.5,334.5ZM177.1,341.5 178.2,340.5 179.5,340.3 181,341.5 180.5,342.9 178.5,343.5 177,342.5ZM177.6,341.5 177.7,342.5 178.5,343.1 180.4,342.5 180.7,341.5 179.5,340.6ZM446.9,342.5 447.5,341.3 449.5,340.9 450.9,341.5 451.3,342.5 450.5,343.5 449.5,343.8 447.7,343.5ZM448.2,342.5 449.5,342.9 450.3,342.5 449.5,341.5ZM234.2,347.5 234.5,346.4 237.5,345.9 249.5,346.1 251.1,346.5 251.4,347.5 251.1,348.5 249.5,348.9 237.5,349.1 234.6,348.5ZM235.2,347.5 235.7,348.5 249.5,348.5 250.2,347.5 249.4,346.5 237.5,346.2 235.5,346.5ZM190.2,355.5 190.8,354.5 192.5,354 194.5,354.5 195,355.5 194.5,356.9 192.5,357.5 190.5,356.5ZM191.5,354.6 190.9,355.5 191.5,356.6 193.5,356.9 194.5,355.8 193.5,354.4ZM290,364.5 291.1,360.5 293.5,357.6 301.2,355.5 313.5,354.2 324.5,354.9 354.5,354.8 360.4,355.5 356.5,357.2 355.3,358.5 355.9,360.5 359.5,363.5 359.8,364.5 357.3,366.5 353.5,367.6 348.5,367.1 343.5,365.1 337.5,369 332.5,369.4 328.5,367.8 325.5,364.4 323.5,363.3 317.5,365.1 313.5,365.6 302.5,363.9 292.5,367.8 290.5,366.6ZM306.5,359.5 307,361.5 308,362.5 310.5,363.8 313.5,364.3 318.5,363.1 320.3,361.5 321,359.5 319.9,357.5 318.5,356.6 313.5,355.7 308.5,356.9 306.8,358.5ZM328.3,364.5 329,366.5 330.2,367.5 334.5,368.6 338.3,367.5 339.4,366.5 340.1,364.5 338.5,361.9 334.5,360.7 330.5,361.6 329.3,362.5ZM346,361.5 346,363.5 346.6,364.5 350.2,366.5 354.5,366.4 357.7,364.5 357.8,363.5 352.5,358.8 348.5,359.2ZM367.5,357.6 369.5,356.7 371.5,357 377.5,359.5 378.5,360.5 377,362.5 374.9,363.5 372.5,363.9 369.5,363.5 367.5,362.1ZM368.2,359.5 368.5,361.7 369.5,362.6 371.5,363.2 375.3,362.5 376.6,361.5 377,360.5 376.2,359.5 371.5,357.5 369.5,357.7ZM239.2,360.5 239.8,359.5 241.5,358.6 242.6,359.5 242.5,361 241.5,361.8 239.7,361.5ZM241.8,359.5 240.6,359.5 240.1,360.5 241.5,361 242,360.5ZM503.6,389.5 502.9,394.5 500.5,398.5 499.5,399.1 495.5,398.6 493.5,399.2 492,401.5 492.4,404.5 492,405.5 489.5,408.2 487.5,409.8 482.5,410.5 478.5,415.5 473,416.5 472,421.5 470.5,422.7 432.5,423.6 430.8,424.5 429.5,426.8 427.5,427.3 423.5,427.2 422.5,422.5 419.5,419.4 416.5,420.6 413.5,424.9 390.5,425.3 387.5,427.3 382.5,427.4 381.4,426.5 380.9,419.5 378.5,415.8 377.5,415.6 374.5,418.5 372.5,424.3 371.5,424.9 342.5,423.9 339.6,422.5 338.7,419.5 337.5,419.1 335.5,419.5 334.5,420.8 333.5,421.2 320.5,418.5 306.5,417.7 304.6,416.5 303.6,411.5 302.5,410.6 293.5,409.7 291.6,408.5 290.5,402.6 285,400.5 283.6,394.5 284.2,392.5 285.5,391.5 287.5,391.9 294.4,395.5 298.4,399.5 313.5,404.8 318.5,407.1 320.5,409.1 321.5,411.5 323.5,412.9 333.5,411.8 339.5,413.3 352.5,411.4 353.5,411.6 354.6,414.5 357.5,415.7 359.5,415.1 360.2,414.5 360.6,412.5 361.5,411.5 402.5,411.8 414.5,411 419.5,410 423.5,410.4 437.5,409.1 447.7,406.5 457.5,402.5 464.3,397.5 469.5,392.3 471,388.5 470.5,385.5 468.2,381.5 462.5,374.5 461.1,370.5 461.4,368.5 462.5,367 464.5,366.1 466.5,365.8 470.5,366.3 475.5,368.1 488.8,376.5 498.5,381.1 502,384.5ZM502,390.5 501.6,387.5 500.6,385.5 497.5,382.6 488.5,379.1 476.5,372.7 472.5,371.5 468.5,371.1 466.5,372.1 466.3,373.5 473.3,385.5 473.9,388.5 473.4,391.5 471.6,394.5 468.5,397.5 463.2,401.5 457.6,404.5 445.3,408.5 432.5,410.8 424.5,411.6 418.5,410.7 413.5,412.6 405.5,413.2 362.5,412.9 359.4,415.5 357.5,415.8 354.2,414.5 352.5,412.9 339.5,413.8 333.5,411.9 327.5,412.3 324.5,413.1 322.5,413 319.5,409.1 317.5,407.7 297.9,399.5 292.9,395.5 287.5,392.2 285.5,391.8 284.6,392.5 284.1,395.5 285.4,400.5 290.5,401.9 291.5,407.5 292.5,409.2 303.4,410.5 304.8,416.5 306.5,417.5 320.5,417.9 324.5,419.1 332.5,420.3 337.5,419 339.2,419.5 340.4,422.5 343.5,423.6 355.5,424.3 371.5,424.1 372.5,423.7 374.3,418.5 377.5,415.4 378.5,415.6 381,419.5 381.5,426.5 382.5,427.2 387.5,427.1 390.5,424.6 413.5,424.2 414.5,423.6 416.5,420.5 419.5,419.3 422.7,422.5 423.5,427 427.5,427.1 429.5,426.4 430.5,424.1 431.5,423.3 470.5,422.4 471.8,421.5 472.5,416.4 478.5,415.2 481.6,410.5 486.5,409.8 488.8,408.5 492.1,404.5 491.7,401.5 492.5,399.6 494.5,398.3 498.5,397.6 499.5,396.9 501.5,393.7Z"/>
<path fill="#14acdc" stroke="#14acdc" stroke-width="0.4" fill-rule="evenodd" d="M83.5,137.1 89.5,137.9 96.5,136.9 103.5,137.9 110.5,136.7 117.5,138 124.5,136.6 127.5,137.2 130.5,138.5 134.5,137 137.5,136.6 141.5,137.2 144.5,138.9 148.5,136.9 151.5,136.6 155.5,137.3 158.5,139.3 161.5,137.1 165.5,136.7 168.5,137.1 171.5,139.1 172.5,139.3 175.5,137.1 179.5,136.7 182.5,137.1 185.5,139.5 188.5,137.4 192.5,136.7 196.5,137.2 199.5,139.6 202.5,137.2 206.5,136.7 210.5,137.3 213.5,139.5 215.5,137.7 217.5,136.9 223.5,137.1 226.5,139.2 227.5,139.2 230.5,137.1 233.5,136.7 237.5,137.1 240.5,139.5 243.5,137.3 247.5,136.7 251.5,137.2 254.5,139.6 257.5,137.2 260.5,136.7 264.5,137 268.5,139.4 270.5,137.6 272.5,136.9 278.5,137.1 281.5,139.3 284.5,137.4 288.5,136.7 292.5,137.2 295.5,139.6 298.5,137.3 302.5,136.7 306.5,137.3 309.5,139.6 312.5,137.2 315.5,136.7 319.5,137 323.5,139.3 326.5,137.1 332.5,136.9 334.5,137.6 336.5,139.4 339.5,137.4 343.5,136.7 347.5,137.2 350.5,139.6 353.5,137.2 357.5,136.6 360.5,137 364.5,139 367.5,137.1 371.5,136.7 374.5,137 377.5,138.6 378.5,138.6 381.5,137.1 384.5,136.6 387.5,136.9 391.5,138.3 398.5,136.7 405.5,138 412.5,136.7 419.5,138 425.5,136.8 432.5,137.9 439.5,136.7 446.5,138 453.5,136.7 456.5,137 460.5,138.5 464.5,136.9 467.5,136.6 470.5,137 474.5,138.8 477.5,137.1 481.5,136.7 484.5,137.1 487.5,139.3 490.5,137.4 494.5,136.7 498.5,137.2 501.5,139.6 504.5,137.2 508.5,136.7 512.5,137.3 515.5,139.5 518.5,137.2 521.5,136.7 525.5,137.1 528.5,139.2 529.5,139.2 532.5,137.1 538.5,136.9 540.5,137.7 542.5,139.5 545.5,137.4 549.5,136.7 553.5,137.2 556.5,139.6 559.5,137.2 562.5,136.7 567.5,137.4 570.5,139.5 572.5,137.7 574.5,136.9 580.5,137.1 583.5,139.2 584.5,139.2 587.5,137.1 590.5,136.7 594.5,137.2 597.5,139.5 600.5,137.3 604.5,136.7 608.5,137.2 611.5,139.6 614.5,137.2 617.5,136.7 621.5,137 625.5,139.4 627.5,137.6 629.5,136.9 635.5,137.1 638.5,139.3 641.5,137.4 645.5,136.7 649.5,137.2 652.5,139.6 655.5,137.2 659.5,136.7 663.5,137.3 666.5,139.6 669.5,137.2 673.5,136.7 676.5,137 679.5,139 680.5,139.1 683.5,137 686.5,136.7 690.5,137.1 693.5,138.9 697.5,137 700.5,136.6 703.5,136.9 707.5,138.7 710.5,137.2 713.5,136.7 716.5,136.8 721.5,138.5 727.5,136.7 734.5,138 742.5,136.9 734.5,138.1 727.5,136.9 721.5,138.6 717.5,137.2 713.5,136.9 710.5,137.4 707.5,138.8 704.5,137.3 700.5,136.8 697.5,137.2 693.5,139 690.5,137.2 686.5,136.9 683.5,137.2 680.5,139.2 676.5,137.2 673.5,136.9 669.5,137.3 666.5,139.6 663.5,137.5 659.5,136.9 655.5,137.4 652.5,139.7 649.5,137.4 645.5,136.9 641.5,137.6 638.5,139.5 635.5,137.3 630.5,137 627.5,137.8 625.5,139.5 622.5,137.6 617.5,136.9 614.5,137.4 611.5,139.7 608.5,137.4 604.5,136.9 600.5,137.5 597.5,139.6 594.5,137.3 591.5,136.9 587.5,137.3 584.5,139.3 583.5,139.4 580.5,137.3 576.5,136.9 573.5,137.3 570.5,139.6 567.5,137.5 563.5,136.9 559.5,137.4 556.5,139.7 553.5,137.4 549.5,136.9 545.5,137.5 542.5,139.6 539.5,137.3 536.5,136.9 532.5,137.3 529.5,139.4 528.5,139.3 525.5,137.3 521.5,136.9 518.5,137.3 515.5,139.6 512.5,137.5 508.5,136.9 504.5,137.4 501.5,139.7 498.5,137.4 494.5,136.9 490.5,137.6 487.5,139.4 484.5,137.3 481.5,136.9 477.5,137.2 474.5,138.9 470.5,137.2 467.5,136.8 464.5,137.1 460.5,138.6 456.5,137.2 453.5,136.9 446.5,138.1 439.5,136.9 432.5,138.1 425.5,136.9 419.5,138.1 412.5,136.9 405.5,138.1 398.5,136.9 391.5,138.5 387.5,137.1 384.5,136.8 381.5,137.2 377.5,138.7 374.5,137.2 371.5,136.8 367.5,137.2 364.5,139.1 361.5,137.5 357.5,136.8 353.5,137.4 350.5,139.7 347.5,137.4 343.5,136.9 339.5,137.6 336.5,139.6 333.5,137.3 330.5,136.9 326.5,137.3 323.5,139.4 319.5,137.3 315.5,136.9 312.5,137.4 309.5,139.6 306.5,137.4 302.5,136.9 298.5,137.4 295.5,139.6 292.5,137.4 288.5,136.9 284.5,137.6 281.5,139.5 278.5,137.3 272.5,137.1 270.5,137.8 268.5,139.5 265.5,137.6 260.5,136.9 257.5,137.4 254.5,139.7 251.5,137.4 247.5,136.9 243.5,137.5 240.5,139.6 237.5,137.3 233.5,136.9 230.5,137.3 227.5,139.3 226.5,139.3 223.5,137.3 220.5,136.9 217.5,137.2 215.5,137.8 213.5,139.6 210.5,137.5 205.5,136.9 202.5,137.4 199.5,139.7 196.5,137.4 192.5,136.9 188.5,137.5 185.5,139.6 182.5,137.3 179.5,136.9 175.5,137.3 172.5,139.4 171.5,139.3 169.5,137.6 165.5,136.9 161.5,137.3 158.5,139.4 155.5,137.4 151.5,136.8 147.5,137.4 144.5,138.9 141.5,137.3 137.5,136.8 134.5,137.2 130.5,138.6 127.5,137.3 124.5,136.8 117.5,138.2 110.5,136.9 103.5,138.1 97.5,137.1 89.5,138ZM468.9,230.5 469.7,227.5 471.2,225.5 477.5,221.4 482.9,219.5 489.5,218 496.5,219.5 499.5,217.5 500.9,214.5 502.6,212.5 506.5,209.7 529.5,204 563.5,202.7 604.5,204.5 661.5,204 742.5,204.5 742.5,215.6 724.5,215.8 717.5,216.4 701.5,215.7 698,216.5 696.9,217.5 704.2,223.5 706.5,224.7 721.5,229.9 727.5,230.5 730.6,231.5 732.2,232.5 732.7,233.5 730.7,235.5 728.5,236.5 726.5,236.4 722.5,234.3 720.5,234 716.5,234.2 711.5,235.6 705.5,235.1 703.2,233.5 699.5,228.4 696.5,226.6 694.7,227.5 694.8,228.5 697.1,230.5 696.6,231.5 693.5,231.8 692.3,232.5 691.4,234.5 691,238.5 690.5,239.3 688.5,240 684.5,240.1 682.5,239.4 681.8,238.5 681.6,234.5 680.5,234 647.5,233.1 607.5,233.1 604.4,232.5 603,231.5 598.7,225.5 599.1,223.5 602.5,222.3 614.2,221.5 618.5,220.7 627.6,217.5 627.6,216.5 620.5,215.3 607.5,214.6 535.5,213.9 533.3,214.5 531.3,216.5 530.9,218.5 531.5,220.7 536.7,226.5 543.5,232.9 546.5,233.8 550.5,232.9 551.6,233.5 551.1,235.5 548.8,238.5 545.2,241.5 533.5,248.3 523.5,252.4 519.5,252.7 515.5,254.1 512.5,254.4 508,253.5 503,249.5 500.5,248.2 485.5,244 477.5,240.5 473.5,237.9 471,235.5 469.5,233.1ZM602.3,209.5 601.2,207.5 598.5,205.6 587.5,204 561.5,203.2 528.7,204.5 521.8,206.5 508.5,209.2 505.5,210.4 501.1,214.5 500.9,216.5 501.5,217.5 501.5,218.8 496.5,220.3 492.5,220.3 489.5,220.9 481.8,223.5 478.6,225.5 476.7,227.5 475.8,229.5 475.8,231.5 477.4,234.5 479.6,236.5 483.5,238.8 488.5,240.8 507.5,245 516.5,247.9 523.5,247.9 529.5,246.2 536.5,243.1 542.2,239.5 545,236.5 544.9,235.5 531.1,222.5 530.4,217.5 532.5,214.4 536.5,213.5 561.5,213.2 597.5,214.2 601.5,213.1 602.4,211.5ZM626.7,214.5 632.5,217.3 641.5,216 648.5,215.8 678.5,217 693.5,217.1 700.5,215.3 717.5,215.8 722,214.5 719.5,212.3 716.5,210.9 693.5,205.9 661.5,204.6 647,205.5 640.5,206.8 635.5,208.9ZM638.1,220.5 634.5,218 631.5,217.6 624.2,219.5 620.5,221.9 606.5,222.5 603.5,223.5 603.1,224.5 604.1,226.5 606.5,228.7 608.5,229.7 610.5,229.9 619.5,227.4 624.5,227.7 627.5,227.2 630.5,225.8ZM638.2,217.5 640.5,218.6 644.5,218.9 664.3,217.5 647.5,216.4 642.5,216.6ZM655.6,220.5 662.5,223.6 664.2,226.5 664.4,230.5 665.8,231.5 681.5,233 682.1,234.5 682.1,238.5 684.5,239.8 688.5,239.7 690.5,239 691.2,237.5 691.2,234.5 692,232.5 696.5,230.5 693.9,228.5 693.3,227.5 694.4,225.5 695.5,225 697.5,225.6 699.5,227.2 704,233.5 706.5,234.9 711.5,235.2 716.5,233.1 720.5,232.8 722.5,233.2 725.5,235.3 727.5,236 729.5,235.5 731.4,233.5 731,232.5 728.5,231.2 721.5,231.1 705.5,225 697.5,219.3 694.5,218.2 677.5,218.2ZM656.5,224.8 655.4,227.5 656.5,229.8 659.5,230.9 662.1,229.5 662.8,226.5 661.5,224.6 660.5,224 658.5,223.8ZM130,209.5 130,206.5 131.5,205.9 135.5,205.2 144.5,204.8 288.5,204.8 303.4,205.5 305.2,206.5 299.1,209.5 292,210.5 279.5,211.2 146.5,211.2 134.5,210.7ZM480.5,206.3 481.5,206.8 482.2,208.5 481.5,209.8 479.5,210.1 478.5,209.1 478.5,207.5 479.5,206.5ZM479.5,206.9 478.6,208.5 479.2,209.5 480.5,209.9 481.3,209.5 481.7,207.5 480.5,206.7ZM460.1,213.5 459.5,215.3 457.5,216.3 437.5,216.2 436.2,214.5 437.2,210.5 439.5,208.8 441.5,208.6 447.5,212.5 448.5,212.1 454.5,206.7 455.5,207 458.5,210.4ZM460,213.5 458.5,210.5 455.5,207.1 454.5,206.8 448.5,212.2 447.5,212.6 441.5,208.7 439.5,208.9 437.3,210.5 436.5,214.5 436.9,215.5 438.5,216.1 457.5,216.2 459.5,215ZM83.5,212.5 276.5,212.5 290.6,213.5 291.6,214.5 275.5,215.1 83.5,215.1ZM390.2,217.5 391.4,215.5 396.5,214.2 399.5,214.5 401.5,215.3 402.6,216.5 402.8,217.5 402.3,218.5 400.5,219.8 396.5,220.5 392.5,219.8 390.7,218.5ZM391.2,217.5 391.8,218.5 393.3,219.5 396.5,220.1 400.5,219.2 402,217.5 401.8,216.5 400.5,215.3 396.5,214.5 392.5,215.5ZM464.1,216.5 465.1,215.5 466.5,215.1 470.5,215.4 473.8,217.5 474.3,219.5 472.5,221.3 469.5,223.1 467.5,223.1 464.4,220.5 463.9,219.5ZM464.2,217.5 464.8,220.5 466.5,222 468.5,222.6 472.5,220.7 473.8,219.5 474,218.5 472.2,216.5 469.5,215.2 465.5,215.4ZM379.5,217.7 382.4,222.5 382.3,224.5 381.2,226.5 370.5,236.1 368.5,237.3 366.5,236.9 362.5,224.5 362.4,222.5 363.2,220.5 365.4,218.5 368.5,217.4 374.5,216.9ZM364,222.5 364.2,224.5 365.5,226.7 367.5,228.5 370.5,229.4 373.5,229 376.5,227.5 378.6,225.5 379.7,222.5 379.1,220.5 377.5,219 375.5,218.1 372.5,217.9 369.5,218.1 366.5,219.2 364.9,220.5ZM733.6,219.5 735.1,219.5 734.5,219.9ZM735.1,220.5 735.5,219.9 736.7,220.5ZM319.3,245.5 319.8,244.5 322.3,243.5 328.5,242.9 334.5,243.6 336.6,244.5 337,245.5 334.5,247 328.5,247.8 322.5,247.2 320.4,246.5ZM321.2,245.5 323.5,246.7 328.5,247.2 333.5,246.5 335,245.5 334.5,244.5 328.5,243.4 323.5,243.9 321.8,244.5ZM83.5,245.4 87.5,243.9 89.5,244.1 91.5,245.2 93,248.5 92.9,251.5 92.2,253.5 89.5,254.8 83.5,255.1 83.5,254.4 86.5,254.8 90.5,254.2 92.3,252.5 92.6,250.5 92.2,247.5 90.5,245.5 87.5,244.9 85.5,245.4 83.5,246.8ZM447,262.5 447.9,260.5 449.4,259.5 454.5,258.7 458.6,259.5 459.6,260.5 460.2,262.5 459.4,264.5 457.5,266.2 452.5,267.3 448.5,266.4 447.1,264.5ZM451.2,261.5 451.3,263.5 453.5,264.7 455.5,264.5 456.9,263.5 457.3,262.5 457.1,261.5 455.5,260.4 452.5,260.5ZM96.5,260.8 98.5,260.8 99.9,261.5 102.9,266.5 103.3,268.5 101.5,271 101.1,272.5 102,274.5 104.4,277.5 104.5,278.5 103,280.5 101.5,281.3 96.5,282.2 93.2,281.5 91.4,279.5 90.7,276.5 90.8,271.5 89.6,266.5 91.6,263.5ZM97.5,261 93.3,262.5 91.1,264.5 90.4,266.5 91.9,271.5 92.1,278.5 93.5,280.6 96.5,281.7 99.5,281.4 101.6,280.5 102.7,279.5 103.4,277.5 100.7,272.5 101.2,270.5 102.5,268.5 102.3,266.5 100.3,262.5 99.3,261.5ZM381.9,272.5 382.3,271.5 383.5,271.2 401.5,271.2 402.8,272.5 402.8,276.5 401.5,277.7 389.5,277.9 382.5,276.2ZM382.3,272.5 382.5,275.6 388.6,277.5 401.5,277.3 402.3,276.5 402.3,272.5 401.5,271.7 389.5,271.3 383.5,271.7ZM437.4,276.5 440.5,274.7 445.5,274.2 447.8,276.5 448.1,279.5 446.9,281.5 445.4,282.5 442.5,283.2 440.5,283 438.5,282.1 437,280.5 436.6,278.5ZM112.3,304.5 113.5,303.2 116.5,302.6 118.5,303 120.1,304.5 119.5,305.7 116.5,306.9 113.5,306.3 112.6,305.5ZM113.2,304.5 113.5,305.5 114.5,306.1 116.5,306.4 118.5,305.8 119.2,304.5 118.2,303.5 116.5,303.1 114.5,303.4ZM128.8,309.5 130.5,307.9 132.5,307.6 134.5,308.2 135.4,309.5 134.4,311.5 131.5,312.4 129.5,311.6ZM129.1,309.5 129.5,311 131.5,312 133.7,311.5 134.9,309.5 134.3,308.5 132.5,307.9 130.5,308.2ZM142.1,313.5 144.5,311.9 146.5,312.1 149.5,315.2 153,316.5 153.7,317.5 153.5,319.3 152.5,320.3 149.5,320.1 147.2,317.5 144.5,317 142.5,315.9 141.9,314.5ZM142.4,313.5 142.6,315.5 144.5,316.6 147.5,316.7 149.5,319.5 151.5,320 152.5,319.7 153.4,318.5 152.6,316.5 149,315.5 148,313.5 146.5,312.3 144.5,312.1ZM381.5,319.5 382.6,322.5 382.4,327.5 380.7,329.5 378.5,330 375.9,333.5 375.6,334.5 376.4,336.5 369.5,336.8 357.5,338.9 354.5,338.6 353,337.5 352.7,335.5 353.5,334.5 356.5,333.1 360.5,332.5 361.4,330.5 362.5,329.9 373.5,329.6 376.5,328.5 375.9,324.5 377.1,320.5 379.5,318.6ZM379.5,320.4 377.5,322.3 376.9,325.5 377.5,327.8 378.5,328.8 379.5,328.9 381.5,327.6 382,324.5 381.3,321.5ZM353.4,336.5 354.5,337.9 357.5,338.7 369.1,336.5 372.2,333.5 375.5,332.7 377.2,330.5 376.5,329.8 362.5,330.3 360.5,333.1 355.5,334 353.6,335.5ZM161.2,328.5 161.7,327.5 163.5,326.4 165.1,326.5 166.3,327.5 166.3,328.5 165.6,329.5 163.5,330.3 161.6,329.5ZM161.9,328.5 162.6,329.5 164.5,329.7 166,328.5 165.9,327.5 164.5,326.6 163.5,326.7 162.2,327.5ZM184.2,334.5 185.5,333.3 187.5,333 189.9,334.5 190,336.5 188.5,337.8 185.5,337.6 184.3,336.5ZM184.5,335.5 185.5,337.1 187.5,337.5 189.1,336.5 189.2,335.5 188.5,334.3 186.5,333.8 185.1,334.5ZM199.3,339.5 200.5,339.4 203.1,341.5 202.5,342ZM176.3,342.5 176.6,341.5 178.5,340.2 180.5,340.4 181.4,341.5 181.2,342.5 179.5,343.9 177.5,343.9ZM178.2,340.5 177.1,341.5 177.5,343.1 178.5,343.5 180.5,342.9 181,341.5 180.5,340.7ZM445.8,342.5 446.5,341.1 448.5,340.3 450.5,340.6 451.8,341.5 452.1,342.5 450.5,344.3 448.5,344.5 446.5,343.7ZM446.9,342.5 447.7,343.5 449.5,343.8 450.5,343.5 451.3,342.5 450.9,341.5 449.5,340.9 447.5,341.3ZM203.1,342.5 203.5,342 204,342.5ZM233.2,347.5 233.5,346.3 236.5,345.5 250.5,345.9 252.1,346.5 252.1,348.5 250.5,349.1 239.5,349.4 234.5,349 233.5,348.5ZM234.2,347.5 234.6,348.5 237.5,349.1 249.5,348.9 251.1,348.5 251.4,347.5 251.1,346.5 249.5,346.1 237.5,345.9 234.5,346.4ZM284.6,367.5 284.9,364.5 286.1,361.5 288.5,357.3 290.2,355.5 293.5,354.6 306.5,353 361.5,352.9 367.5,354.3 374.5,358 379.3,359.5 380.5,360.5 378.9,362.5 376.5,363.8 373.5,364.6 369.5,364.4 365.9,363.5 366.5,359.5 365.5,357.8 363.5,357.1 360.5,357.3 357,358.5 356.5,359.5 356.8,360.5 358.5,362 362.8,363.5 363.4,364.5 360.5,366.7 356.5,368.3 351.5,368.9 344.5,368.1 338.5,370.1 334.5,370.7 329.5,370.1 322.5,367.7 307.5,368.2 301.9,369.5 292.5,374 290.5,373.8 287.5,372.3 285.5,370.1ZM290,364.5 290.5,366.6 292.5,367.8 302.5,363.9 313.5,365.6 317.5,365.1 323.5,363.3 325.5,364.4 328.5,367.8 332.5,369.4 337.5,369 343.5,365.1 348.5,367.1 353.5,367.6 357.3,366.5 359.8,364.5 359.5,363.5 355.9,360.5 355.3,358.5 356.5,357.2 360.4,355.5 354.5,354.8 324.5,354.9 313.5,354.2 301.2,355.5 293.5,357.6 291.1,360.5ZM367.5,357.6 367.5,362.1 369.5,363.5 372.5,363.9 374.9,363.5 377,362.5 378.5,360.5 377.5,359.5 371.5,357 369.5,356.7ZM189.6,355.5 190.5,354.2 193.5,353.7 194.9,354.5 195.4,356.5 194.5,357.6 192.5,358 190.5,357.3ZM190.2,355.5 190.5,356.5 192.5,357.5 194.5,356.9 195,355.5 194.5,354.5 192.5,354 190.8,354.5ZM241.5,358.1 242.5,358.4 243.1,359.5 242.9,361.5 241.5,362.5 239.5,362.3 238.7,361.5 238.6,360.5 239.5,359.2ZM241.5,358.6 239.8,359.5 239.2,360.5 239.7,361.5 241.5,361.8 242.5,361 242.6,359.5ZM505.3,389.5 504.3,395.5 501.5,400.3 500.5,401 499.5,400.9 497.5,399.5 495.5,399 493.5,399.6 492.3,401.5 493,404.5 489.8,408.5 487.5,410.2 482.5,411.3 478.5,415.9 473.5,416.6 472.3,421.5 470.5,423 443.6,423.5 431.5,424.4 429.5,427.2 423.5,427.5 422.8,426.5 422.5,422.5 419.5,419.6 417.5,420 415.7,421.5 413.5,425.7 391.5,426.1 387.5,427.7 382.5,427.7 381.5,427.4 380.8,419.5 378.5,416.1 377.5,415.8 374.6,418.5 372.5,424.8 371.5,425.7 354.5,425.2 341.5,424.2 337.9,422.5 338.7,420.5 338.2,419.5 337.5,419.3 336.1,419.5 335.5,421.5 333.5,422.1 315.9,418.5 306.5,418 304.2,416.5 303.5,412.3 302.5,411.2 300.4,410.5 293.5,410 291.5,408.9 290.3,403.5 289.5,402.5 286.5,401.8 284.7,400.5 282.8,394.5 283.5,392.5 285.5,391.2 292.3,393.5 295.5,395.2 297.5,398.5 299,399.5 313.5,403.7 319.5,406.2 320.5,407.3 321.9,411.5 324.5,412.7 333.5,411.7 339.5,412.9 342.5,411 351.5,409.6 357.5,410.1 361.5,409.7 398.5,410 429.5,408.9 438.5,407.8 445.4,405.5 455.6,400.5 463.5,393.5 466.9,388.5 467.1,386.5 466.1,383.5 459.4,374.5 455.5,365.9 452.3,361.5 452,360.5 452.5,360.1 455.5,359.5 462.5,359.8 468.5,360.7 473.5,362.4 477.5,364.5 489.5,373.5 500.5,380.1 504.1,384.5ZM503.6,389.5 502,384.5 498.5,381.1 488.8,376.5 475.5,368.1 470.5,366.3 466.5,365.8 464.5,366.1 462.5,367 461.4,368.5 461.1,370.5 462.5,374.5 468.2,381.5 470.5,385.5 471,388.5 469.5,392.3 464.3,397.5 457.5,402.5 447.7,406.5 437.5,409.1 423.5,410.4 419.5,410 414.5,411 402.5,411.8 361.5,411.5 360.6,412.5 360.2,414.5 359.5,415.1 357.5,415.7 354.6,414.5 353.5,411.6 352.5,411.4 339.5,413.3 333.5,411.8 323.5,412.9 321.5,411.5 320.5,409.1 318.5,407.1 313.5,404.8 298.4,399.5 294.4,395.5 287.5,391.9 285.5,391.5 284.2,392.5 283.6,394.5 285,400.5 290.5,402.6 291.6,408.5 293.5,409.7 302.5,410.6 303.6,411.5 304.6,416.5 306.5,417.7 320.5,418.5 333.5,421.2 334.5,420.8 335.5,419.5 337.5,419.1 338.7,419.5 339.6,422.5 342.5,423.9 371.5,424.9 372.5,424.3 374.5,418.5 377.5,415.6 378.5,415.8 380.9,419.5 381.4,426.5 382.5,427.4 387.5,427.3 390.5,425.3 413.5,424.9 416.5,420.6 419.5,419.4 422.5,422.5 423.5,427.2 427.5,427.3 429.5,426.8 430.8,424.5 432.5,423.6 470.5,422.7 472,421.5 473,416.5 478.5,415.5 482.5,410.5 487.5,409.8 489.5,408.2 492,405.5 492.4,404.5 492,401.5 493.5,399.2 495.5,398.6 499.5,399.1 500.5,398.5 502.9,394.5ZM356.5,410.7 354.8,412.5 355,414.5 356.5,415.3 358.5,415.4 359.7,414.5 359.8,412.5 358.5,410.9Z"/>
<path fill="#14b8d8" stroke="#14b8d8" stroke-width="0.4" fill-rule="evenodd" d="M83.5,137.3 89.5,138 97.5,137.1 103.5,138.1 110.5,136.9 117.5,138.2 124.5,136.8 127.5,137.3 130.5,138.6 134.5,137.2 137.5,136.8 141.5,137.3 144.5,138.9 147.5,137.4 151.5,136.8 155.5,137.4 158.5,139.4 161.5,137.3 165.5,136.9 169.5,137.6 171.5,139.3 172.5,139.4 175.5,137.3 179.5,136.9 182.5,137.3 185.5,139.6 188.5,137.5 192.5,136.9 196.5,137.4 199.5,139.7 202.5,137.4 206.5,136.9 210.5,137.5 213.5,139.6 215.5,137.8 217.5,137.2 220.5,136.9 223.5,137.3 226.5,139.3 227.5,139.3 230.5,137.3 233.5,136.9 237.5,137.3 240.5,139.6 243.5,137.5 247.5,136.9 251.5,137.4 254.5,139.7 257.5,137.4 260.5,136.9 265.5,137.6 268.5,139.5 270.5,137.8 272.5,137.1 278.5,137.3 281.5,139.5 284.5,137.6 288.5,136.9 292.5,137.4 295.5,139.6 298.5,137.4 302.5,136.9 306.5,137.4 309.5,139.6 312.5,137.4 315.5,136.9 319.5,137.3 323.5,139.4 326.5,137.3 330.5,136.9 333.5,137.3 336.5,139.6 339.5,137.6 343.5,136.9 347.5,137.4 350.5,139.7 353.5,137.4 357.5,136.8 361.5,137.5 364.5,139.1 367.5,137.2 371.5,136.8 374.5,137.2 377.5,138.7 381.5,137.2 384.5,136.8 387.5,137.1 391.5,138.5 398.5,136.9 405.5,138.1 412.5,136.9 419.5,138.1 425.5,136.9 432.5,138.1 439.5,136.9 446.5,138.1 453.5,136.9 456.5,137.2 460.5,138.6 464.5,137.1 467.5,136.8 470.5,137.2 474.5,138.9 477.5,137.2 481.5,136.9 484.5,137.3 487.5,139.4 490.5,137.6 494.5,136.9 498.5,137.4 501.5,139.7 504.5,137.4 508.5,136.9 512.5,137.5 515.5,139.6 518.5,137.3 521.5,136.9 525.5,137.3 528.5,139.3 529.5,139.4 532.5,137.3 536.5,136.9 539.5,137.3 542.5,139.6 545.5,137.5 549.5,136.9 553.5,137.4 556.5,139.7 559.5,137.4 562.5,136.9 567.5,137.5 570.5,139.6 572.5,137.8 574.5,137.2 580.5,137.3 583.5,139.4 584.5,139.3 586.5,137.6 590.5,136.9 594.5,137.3 597.5,139.6 600.5,137.5 604.5,136.9 608.5,137.4 611.5,139.7 614.5,137.4 617.5,136.9 622.5,137.6 625.5,139.5 627.5,137.8 630.5,137 635.5,137.3 638.5,139.5 641.5,137.6 645.5,136.9 649.5,137.4 652.5,139.7 655.5,137.4 659.5,136.9 663.5,137.5 666.5,139.6 669.5,137.3 673.5,136.9 676.5,137.2 680.5,139.2 683.5,137.2 686.5,136.9 690.5,137.2 693.5,139 697.5,137.2 700.5,136.8 704.5,137.3 707.5,138.8 710.5,137.4 713.5,136.9 717.5,137.2 721.5,138.6 727.5,136.9 734.5,138.1 742.5,137 734.5,138.2 727.5,137.1 721.5,138.7 717.5,137.3 713.5,137.1 710.5,137.6 707.5,138.9 704.5,137.5 700.5,137 697.5,137.3 693.5,139.1 690.5,137.4 686.5,137.1 683.5,137.4 680.5,139.3 679.5,139.2 677.5,137.7 673.5,137.1 669.5,137.5 666.5,139.7 663.5,137.6 659.5,137 655.5,137.6 652.5,139.7 649.5,137.5 645.5,137 641.5,137.7 638.5,139.6 636.5,137.9 632.5,137.1 628.5,137.5 625.5,139.6 622.5,137.7 617.5,137.1 614.5,137.5 611.5,139.8 608.5,137.6 604.5,137 600.5,137.6 597.5,139.7 594.5,137.5 591.5,137.1 586.5,137.8 584.5,139.4 583.5,139.5 581.5,137.8 576.5,137.1 572.5,137.9 570.5,139.7 567.5,137.7 563.5,137 559.5,137.6 556.5,139.8 553.5,137.6 549.5,137 545.5,137.7 542.5,139.7 540.5,137.9 536.5,137.1 531.5,137.8 529.5,139.5 528.5,139.4 526.5,137.8 521.5,137.1 518.5,137.5 515.5,139.7 512.5,137.6 508.5,137 504.5,137.6 501.5,139.8 498.5,137.5 494.5,137 490.5,137.7 487.5,139.5 484.5,137.5 481.5,137.1 477.5,137.4 474.5,139 470.5,137.3 467.5,137 464.5,137.3 460.5,138.7 456.5,137.3 453.5,137 446.5,138.2 439.5,137.1 432.5,138.2 425.5,137.1 419.5,138.2 412.5,137.1 405.5,138.2 398.5,137.1 391.5,138.6 387.5,137.2 384.5,137 381.5,137.4 377.5,138.8 374.5,137.3 371.5,137 367.5,137.4 364.5,139.2 361.5,137.6 357.5,137 353.5,137.6 350.5,139.7 347.5,137.5 343.5,137 339.5,137.7 336.5,139.7 334.5,137.9 330.5,137.1 325.5,137.8 323.5,139.6 320.5,137.7 315.5,137.1 312.5,137.5 309.5,139.7 306.5,137.6 302.5,137 298.5,137.6 295.5,139.7 292.5,137.5 288.5,137.1 284.5,137.7 281.5,139.6 279.5,137.8 274.5,137.1 270.5,137.9 268.5,139.6 265.5,137.7 260.5,137.1 257.5,137.5 254.5,139.8 251.5,137.6 247.5,137 243.5,137.7 240.5,139.7 237.5,137.5 233.5,137.1 229.5,137.8 227.5,139.4 226.5,139.5 224.5,137.8 219.5,137.1 215.5,137.9 213.5,139.7 210.5,137.7 206.5,137 202.5,137.6 199.5,139.8 196.5,137.5 192.5,137 188.5,137.7 185.5,139.7 183.5,137.9 179.5,137.1 174.5,137.8 172.5,139.5 171.5,139.4 169.5,137.8 165.5,137.1 161.5,137.5 158.5,139.5 155.5,137.6 151.5,137 147.5,137.6 144.5,139 141.5,137.5 137.5,137 134.5,137.3 130.5,138.7 127.5,137.5 124.5,137 117.5,138.3 110.5,137.1 103.5,138.2 97.5,137.2 89.5,138.1ZM399.4,197.5 399.4,196.5 400.1,195.5 401.5,195.3 414.1,195.5 410.5,195.8 400.5,198.2ZM454.7,195.5 486.5,195.1 513.6,195.5 480.5,198.8 472.1,198.5ZM463.6,236.5 465.3,231.5 465,228.5 463.6,224.5 464.8,222.5 463.7,220.5 463.8,216.5 464.9,215.5 466.5,215 470.5,215.3 475.5,218.1 487.5,215.1 494.5,219 496.5,219.1 498.7,217.5 502.4,212.5 506.5,209.6 516.5,207.1 524.1,204.5 529.5,203.5 563.5,202 603.5,203.8 661.5,203.4 742.5,203.8 742.5,204.5 661.5,204 605.5,204.5 563.5,202.7 529.5,204 506.5,209.7 502.6,212.5 500.9,214.5 499.5,217.5 496.5,219.5 489.5,218 478.5,221 472.3,224.5 469.2,228.5 469,231.5 470.2,234.5 473,237.5 476.5,239.9 485.5,244 500.5,248.2 503,249.5 508,253.5 512.5,254.4 515.5,254.1 519.5,252.7 523.5,252.4 533.5,248.3 545.2,241.5 548.8,238.5 551.1,235.5 551.6,233.5 550.5,232.9 546.5,233.8 543.5,232.9 536.7,226.5 531.5,220.7 530.9,218.5 531.3,216.5 533.3,214.5 535.5,213.9 606.5,214.6 625.5,215.9 627.6,216.5 627.6,217.5 618.5,220.7 614.2,221.5 602.5,222.3 599.1,223.5 598.5,224.5 599.2,226.5 603,231.5 604.4,232.5 609.5,233.2 646.5,233.1 680.5,234 681.6,234.5 681.8,238.5 682.5,239.4 685.5,240.1 688.5,240 690.5,239.3 691.3,237.5 691.5,233.9 692.3,232.5 693.5,231.8 696.6,231.5 697.1,230.5 694.8,228.5 694.7,227.5 696.5,226.6 699.5,228.4 703.2,233.5 705.5,235.1 711.5,235.6 716.5,234.2 720.5,234 727.5,236.5 730.5,235.7 732.7,233.5 732.2,232.5 729.5,231 721.5,229.9 705.5,224.3 696.9,217.5 698,216.5 702.5,215.7 717.5,216.4 724.5,215.8 742.5,215.6 742.5,216.4 718.5,217.3 701.5,216.2 699.7,216.5 698.6,217.5 704,222.5 706.5,224.1 721.5,229 729.5,230.5 734.2,232.5 735.3,233.5 728.5,237.3 726.5,237.3 722.5,235.3 720.5,235 711.5,236 704.5,235.4 702.4,233.5 699.5,229.5 697.5,228.1 696.2,228.5 697.8,230.5 697.3,231.5 693.5,232 692.5,232.6 691.5,234.5 691.3,238.5 690.5,239.7 688.5,240.4 682.5,240 681.4,238.5 681.2,235.5 680.5,235 604.5,234 599.3,232.5 593.8,225.5 593.7,224.5 594.7,223.5 601.5,221.8 613.5,220.6 624.8,217.5 624.4,216.5 606.5,215.1 535.5,214.3 532.5,215.6 531.5,217.1 531.5,218.5 537.5,226.5 543.5,232 545.5,232.8 554.1,229.5 556.9,229.5 557.7,230.5 557.9,232.5 556.3,237.5 553.9,240.5 549.5,244.1 534.5,252.2 526.5,255.6 524.5,255.5 521.5,254.1 519.5,254 511.6,258.5 507.5,260.1 505.1,259.5 501.9,257.5 500.5,254 492.5,253 489.8,251.5 479.5,248 473.5,245.3 466.4,240.5 464.4,238.5ZM464.1,216.5 463.9,219.5 464.4,220.5 467.5,223.1 469.5,223.1 472.5,221.3 474.3,219.5 473.8,217.5 470.5,215.4 466.5,215.1 465.1,215.5ZM83.5,216.1 83.5,215.1 275.5,215.1 291.6,214.5 290.6,213.5 276.5,212.5 83.5,212.5 83.5,202.9 301.5,202.9 317.3,203.5 317.7,204.5 316.9,206.5 311.1,209.5 298.4,211.5 297.7,212.5 302.4,213.5 302.9,214.5 280.5,216ZM130,209.5 134.5,210.7 146.5,211.2 279.5,211.2 292,210.5 299.1,209.5 305.2,206.5 303.4,205.5 288.5,204.8 144.5,204.8 135.5,205.2 131.5,205.9 130,206.5ZM479.5,206.2 481.5,206.4 482.3,207.5 482.1,209.5 480.5,210.6 478.5,209.7 478,208.5 478.5,207ZM480.5,206.3 479.5,206.5 478.5,207.5 478.5,209.1 479.5,210.1 481.5,209.8 482.2,208.5 481.5,206.8ZM460.2,213.5 459.5,215.8 457.5,216.6 437.5,216.4 435.9,214.5 437.1,210.5 439.5,208.7 441.5,208.5 447.5,212.4 448.5,212.1 454.5,206.6 455.5,206.9 458.5,210.3ZM460.1,213.5 458.5,210.4 455.5,207 454.5,206.7 448.5,212.1 447.5,212.5 441.5,208.6 439.5,208.8 437.2,210.5 436.2,214.5 437.5,216.2 457.5,216.3 459.5,215.3ZM388.9,217.5 389.8,215.5 393.5,214.2 397.5,213.7 400.5,214.1 402.5,215.1 403.7,216.5 403.8,217.5 403.4,218.5 401.5,220.1 396.5,221.2 390.5,220.1 389.5,219.4ZM390.2,217.5 390.7,218.5 392.5,219.8 396.5,220.5 400.5,219.8 402.3,218.5 402.8,217.5 402.6,216.5 401.5,215.3 399.5,214.5 396.5,214.2 391.4,215.5ZM380.5,216.3 382.7,220.5 384.5,222 385.9,222.5 386.4,224.5 385,227.5 379.3,234.5 376.2,239.5 373.2,242.5 369.5,244.1 364.5,244.3 360.5,242.8 358.8,240.5 358.4,238.5 360.6,229.5 360.4,222.5 361.7,219.5 364.4,217.5 367.5,216.7 375.5,215.8ZM379.5,217.7 374.5,216.9 368.5,217.4 365.4,218.5 363.2,220.5 362.4,222.5 362.5,224.5 366.5,236.9 368.5,237.3 370.5,236.1 381.2,226.5 382.3,224.5 382.4,222.5ZM638.2,217.5 642.5,216.6 647.5,216.4 664.3,217.5 644.5,218.9 640.5,218.6ZM726.1,218.5 731.5,217.9 737.5,218.2 742,219.5 742.5,221.1 740.5,222.1 735.5,221.9 726.8,219.5ZM735.1,219.5 733.6,219.5 734.5,219.9ZM735.1,220.5 736.7,220.5 735.5,219.9ZM656.5,224.8 658.5,223.8 660.5,224 661.5,224.6 662.8,226.5 662.1,229.5 659.5,230.9 656.5,229.8 655.4,227.5ZM657.5,224.8 656.2,226.5 656.4,228.5 658.5,230.2 660.5,230 662,228.5 662.3,227.5 661.6,225.5 659.5,224.4ZM317.2,245.5 317.7,244.5 320.5,243.2 328.5,242.3 336.5,243.3 339,244.5 339.4,245.5 338.5,246.5 335.5,247.6 328.5,248.4 320.5,247.6 317.8,246.5ZM319.3,245.5 320.4,246.5 322.5,247.2 328.5,247.8 334.5,247 337,245.5 336.6,244.5 334.5,243.6 328.5,242.9 322.3,243.5 319.8,244.5ZM83.5,243.8 85.5,243 88.5,242.7 90.5,243.3 92,244.5 93.2,246.5 93.5,248.5 93.3,251.5 92.5,253.7 90.5,254.8 83.5,255.7 83.5,255.1 88.5,254.9 91.5,254.1 92.7,252.5 93.1,249.5 92.5,246.5 90.5,244.5 87.5,243.9 83.5,245.4ZM461.5,258.5 462.9,261.5 462.4,264.5 459.5,267.8 452.6,271.5 452,273.5 452,278.5 451.1,280.5 449.4,282.5 445.5,284.7 441.5,285.2 438,284.5 435,282.5 433.6,279.5 434.2,275.5 436.5,272.1 437.5,271.6 441.5,271.6 443.5,270 444.3,267.5 444.9,260.5 445.5,258.7 446.5,257.7 458.5,257.5ZM447,262.5 447.1,264.5 448.5,266.4 452.5,267.3 457.5,266.2 459.4,264.5 460.2,262.5 459.6,260.5 458.6,259.5 454.5,258.7 449.4,259.5 447.9,260.5ZM437.4,276.5 436.6,278.5 437,280.5 438.5,282.1 440.5,283 442.5,283.2 445.4,282.5 446.9,281.5 448.1,279.5 447.8,276.5 445.5,274.2 440.5,274.7ZM98.5,260.5 100.5,261.5 104,267.5 104,268.5 102.3,270.5 101.6,272.5 102.5,274.5 106,277.5 106.3,278.5 104.7,280.5 101.5,282 97.5,282.7 93.6,282.5 91.4,281.5 89.9,279.5 88.6,266.5 89.9,264.5 93.5,261.9 96.5,260.6ZM97.5,260.7 95.5,261.1 92.9,262.5 90.6,264.5 89.6,266.5 90.8,271.5 90.7,276.5 91.4,279.5 93.2,281.5 95.5,282.2 101.1,281.5 103,280.5 104.5,278.5 104.4,277.5 102,274.5 101.1,272.5 101.5,271 103.3,268.5 103.3,267.5 100.5,262.2 99.5,261.2ZM381.8,271.5 383.5,270.9 401.5,270.9 402.9,271.5 403.1,276.5 402.8,277.5 401.5,278 389.5,278.2 382.2,276.5 381.6,275.5ZM381.9,272.5 382.5,276.2 389.5,277.9 401.5,277.7 402.8,276.5 402.8,272.5 401.5,271.2 383.5,271.2 382.3,271.5ZM113.9,277.5 114.5,275.4 116.6,274.5 217.5,274.7 222.8,275.5 222.8,281.5 220.1,282.5 119.5,282.6 117.4,282.5 114.6,281.5ZM175.8,297.5 181.5,297.1 187.3,297.5ZM111.3,304.5 112.5,303 116.5,302 119.5,302.7 120.9,304.5 119.5,306.5 116.5,307.4 112.5,306.5 111.5,305.5ZM112.3,304.5 112.6,305.5 113.5,306.3 116.5,306.9 119.5,305.7 120.1,304.5 118.5,303 116.5,302.6 113.5,303.2ZM128.5,309.5 129.5,308.2 132.5,307.3 134.5,307.7 135.6,308.5 136,309.5 134.5,312.1 131.5,312.9 128.9,311.5ZM128.8,309.5 129.5,311.6 131.5,312.4 134.4,311.5 135.4,309.5 134.5,308.2 132.5,307.6 130.5,307.9ZM141.8,313.5 143.5,312 146.5,311.9 149.5,314.6 153.4,316.5 154.1,318.5 153.5,320.2 151.5,321.2 148.5,320.3 146.5,318.2 142.5,316.5 141.7,315.5ZM142.1,313.5 141.9,314.5 142.5,315.9 144.5,317 147.2,317.5 149.5,320.1 152.5,320.3 153.5,319.3 153.7,317.5 153,316.5 149.5,315.2 146.5,312.1 144.5,311.9ZM167,316.5 167.5,316.1 183.5,324 191.5,327.1 193.5,326.7 196.5,323.2 200.5,321.9 207.2,322.5 214.5,325.1 222,329.5 227.6,334.5 228.7,336.5 228.7,341.5 230.4,345.5 230.2,346.5 229,347.5 226.5,348.4 218.5,348.8 214.5,352.7 212.5,353 210.5,352.4 205.5,349.2 194.8,340.5 192.5,337.6 191.5,337.1 189.5,338.2 187.5,338.4 184.8,337.5 183.9,336.5 183.4,334.5 185,331.5 179.9,328.5ZM184.2,334.5 184.3,336.5 185.5,337.6 188.5,337.8 190,336.5 189.9,334.5 187.5,333 185.5,333.3ZM199.3,339.5 202.5,342 203.1,341.5 200.5,339.4ZM203.1,342.5 204,342.5 203.5,342ZM383,319.5 383.3,325.5 382.8,328.5 381.5,330 378.5,331 377.3,332.5 376.6,334.5 377.2,336.5 376.6,337.5 370.5,337.1 355.5,339.2 353.5,338.9 351.8,337.5 351.6,335.5 352.5,334.2 355.5,332.7 359.5,332.3 361.5,329.8 372.5,329.2 375.1,328.5 374.7,325.5 375.2,321.5 376.5,318.6 378.5,316.8 380.5,316.7ZM381.5,319.5 379.5,318.6 377.1,320.5 375.9,324.5 376.5,328.5 373.5,329.6 362.5,329.9 361.4,330.5 360.5,332.5 356.5,333.1 353.5,334.5 352.7,335.5 353,337.5 354.5,338.6 357.5,338.9 369.5,336.8 376.4,336.5 375.6,334.5 375.9,333.5 378.5,330 380.7,329.5 382.4,327.5 382.6,322.5ZM160.3,328.5 160.8,327.5 163.5,326.2 165.5,326.4 166.6,327.5 166,329.5 163.5,330.9 161.5,330.5ZM165.5,326.7 163.5,326.4 161.7,327.5 161.2,328.5 161.6,329.5 163.5,330.3 165.5,329.6 166.3,328.5 166.3,327.5ZM175.5,342.5 177.1,340.5 178.5,339.9 180.5,340.1 181.7,341.5 180.5,343.7 178.5,344.7 176.5,344.2ZM180.7,340.5 179.5,340.1 177.6,340.5 176.3,342.5 177,343.5 178.5,344.1 180.5,343.3 181.4,341.5ZM444.6,342.5 445.9,340.5 448.5,339.8 451.4,340.5 452.8,342.5 451.5,344.6 448.5,345.4 445.7,344.5ZM446.1,341.5 445.8,342.5 446.3,343.5 448.5,344.5 450.5,344.3 452.1,342.5 451.5,341.2 449.5,340.3 447.5,340.5ZM231.6,346.5 232.2,345.5 234.5,344.9 249.5,345.4 252.5,346 253.3,347.5 253.2,348.5 250.5,349.6 236.5,349.9 233.5,349.4 231.9,348.5ZM233.2,347.5 233.5,348.5 234.5,349 239.5,349.4 250.5,349.1 252.1,348.5 252.1,346.5 250.5,345.9 236.5,345.5 233.5,346.3ZM279.3,366.5 281.2,362.5 286,355.5 287.5,354.4 290.5,353.4 298.5,352.9 307.5,350.8 340.5,350 371.5,350.6 373,351.5 371.1,353.5 371.2,355.5 375.5,358.1 380.5,359.1 382.5,358.6 384.4,357.5 385.2,356.5 385.6,353.5 387.9,353.5 398.5,356 421.5,354.2 439.5,351.4 443.5,350.1 470.5,356.9 475.5,358.8 479.5,361.1 491.4,370.5 499.5,375.8 502.5,378.7 505.4,382.5 506.8,385.5 507,391.5 505.4,398.5 502.5,403 499.5,404.9 492.5,407.5 487.5,411 482.5,413.2 478.5,416.4 473.7,417.5 472.8,421.5 471.5,423 451.5,423.8 432.5,425.3 428.5,428 423.5,428 422.7,427.5 422.4,422.5 420.5,420.2 418.5,419.7 415.8,421.5 413.5,426.9 390.5,427.3 387.5,428.2 382.5,428.2 380.9,427.5 381.2,421.5 380.7,419.5 378.5,416.3 377.5,415.9 374.2,419.5 372.5,425.5 371.5,426.8 343.5,425.3 312.5,418.6 305.5,418.2 303.8,416.5 303.5,414.1 302.5,412.3 297.5,410.5 292.5,410.1 290.8,408.5 290.5,405.7 289.5,403.7 285.5,401.9 284,400.5 282,396.5 281.6,394.5 282.2,392.5 283.6,391.5 286.5,391.1 295.5,394.1 296.9,395.5 297.9,398.5 302.5,400.6 321.7,404.5 322.5,405.5 321.6,407.5 321.9,410.5 322.5,411.7 324.5,412.4 333.5,411.6 338.5,412.8 340.7,411.5 341.1,408.5 350.5,407.9 387.5,408.3 411.5,407 425.5,407.9 433.5,407.6 438.5,406.6 440.8,405.5 444.5,402.5 452.1,398.5 456.4,394.5 460.5,388.5 461.4,385.5 460.9,382.5 454.5,372.4 452.5,370.1 441.5,363.1 434.5,360.8 427.5,360.4 389.5,361 384.5,361.6 375.5,365.1 366.5,366.1 360.5,369.3 356.5,370.3 320.5,376.4 305.5,376.9 292.5,378.1 287.5,377.3 283.5,374.6 279.5,369.6ZM505.3,389.5 504.1,384.5 500.5,380.1 489.5,373.5 477.5,364.5 473.5,362.4 468.5,360.7 462.5,359.8 455.5,359.5 452.5,360.1 452,360.5 452.3,361.5 455.5,365.9 459.4,374.5 466.1,383.5 467.1,386.5 466.9,388.5 463.5,393.5 455.6,400.5 445.4,405.5 438.5,407.8 429.5,408.9 398.5,410 361.5,409.7 357.5,410.1 351.5,409.6 342.5,411 339.5,412.9 333.5,411.7 324.5,412.7 321.9,411.5 320.5,407.3 319.5,406.2 313.5,403.7 299,399.5 297.5,398.5 295.5,395.2 292.3,393.5 285.5,391.2 283.5,392.5 282.8,394.5 284.7,400.5 286.5,401.8 289.5,402.5 290.3,403.5 291.5,408.9 293.5,410 300.4,410.5 302.5,411.2 303.5,412.3 304.2,416.5 306.5,418 315.9,418.5 333.5,422.1 335.5,421.5 336.1,419.5 337.5,419.3 338.2,419.5 338.7,420.5 337.9,422.5 341.5,424.2 354.5,425.2 371.5,425.7 372.5,424.8 374.6,418.5 377.5,415.8 378.5,416.1 380.8,419.5 381.5,427.4 382.5,427.7 387.5,427.7 391.5,426.1 413.5,425.7 415.7,421.5 417.5,420 419.5,419.6 422.5,422.5 422.8,426.5 423.5,427.5 429.5,427.2 431.5,424.4 443.6,423.5 470.5,423 472.3,421.5 473.5,416.6 478.5,415.9 482.5,411.3 487.5,410.2 489.8,408.5 493,404.5 492.3,401.5 493.5,399.6 495.5,399 497.5,399.5 499.5,400.9 500.5,401 501.5,400.3 504.3,395.5ZM284.6,367.5 285.5,370.1 287.5,372.3 290.5,373.8 292.5,374 301.9,369.5 307.5,368.2 322.5,367.7 329.5,370.1 334.5,370.7 338.5,370.1 344.5,368.1 351.5,368.9 356.5,368.3 360.5,366.7 363.4,364.5 362.8,363.5 358.5,362 356.8,360.5 356.5,359.5 357,358.5 360.5,357.3 363.5,357.1 365.5,357.8 366.5,359.5 365.9,363.5 369.5,364.4 373.5,364.6 376.5,363.8 378.9,362.5 380.5,360.5 379.3,359.5 374.5,358 367.5,354.3 361.5,352.9 306.5,353 293.5,354.6 290.2,355.5 288.5,357.3 286.1,361.5 284.9,364.5ZM337.6,419.5 336.5,419.7 336.1,420.5 336.5,421.1 337.5,421.2 338.1,420.5ZM493.5,400 492.6,401.5 493.5,404.1 495.5,405.3 497.5,405.5 498.7,402.5 498.1,400.5 495.5,399.3ZM357.4,359.5 358.5,361.3 361.5,362.3 364.5,362 365.7,360.5 365.6,359.5 364.8,358.5 362.5,357.9 359.5,358.1ZM188.8,355.5 190.5,353.8 193.5,353.4 195.3,354.5 195.9,356.5 195.5,357.7 194.5,358.3 192.5,358.7 189.6,357.5ZM189.6,355.5 190.5,357.3 192.5,358 194.5,357.6 195.4,356.5 194.9,354.5 193.5,353.7 190.5,354.2ZM241.5,357.5 242.5,357.6 243.1,358.5 243.5,361.6 242.5,362.9 239.5,363.2 238.3,362.5 238,360.5 239.5,358.6ZM241.5,358.1 239.5,359.2 238.6,360.5 238.7,361.5 239.5,362.3 241.5,362.5 242.9,361.5 243.1,359.5 242.5,358.4ZM354.8,412.5 356.5,410.7 358.5,410.9 359.8,412.5 359.7,414.5 358.5,415.4 356.5,415.3 355,414.5ZM354.9,413.5 355.3,414.5 357.5,415.4 359.4,414.5 359.6,413.5 358.5,411.9 357.5,411.6 355.5,412.4Z"/>
<path fill="#10c8d4" stroke="#10c8d4" stroke-width="0.4" fill-rule="evenodd" d="M83.5,137.4 89.5,138.1 97.5,137.2 103.5,138.2 110.5,137.1 117.5,138.3 124.5,137 127.5,137.5 130.5,138.7 134.5,137.3 137.5,137 141.5,137.5 144.5,139 147.5,137.6 151.5,137 155.5,137.6 158.5,139.5 161.5,137.5 165.5,137.1 169.5,137.8 171.5,139.4 172.5,139.5 174.5,137.8 179.5,137.1 183.5,137.9 185.5,139.7 188.5,137.7 192.5,137 196.5,137.5 199.5,139.8 202.5,137.6 206.5,137 210.5,137.7 213.5,139.7 215.5,137.9 219.5,137.1 224.5,137.8 226.5,139.5 227.5,139.4 229.5,137.8 233.5,137.1 237.5,137.5 240.5,139.7 243.5,137.7 247.5,137 251.5,137.6 254.5,139.8 257.5,137.5 260.5,137.1 265.5,137.7 268.5,139.6 270.5,137.9 274.5,137.1 279.5,137.8 281.5,139.6 284.5,137.7 288.5,137.1 292.5,137.5 295.5,139.7 298.5,137.6 302.5,137 306.5,137.6 309.5,139.7 312.5,137.5 315.5,137.1 320.5,137.7 323.5,139.6 325.5,137.8 330.5,137.1 334.5,137.9 336.5,139.7 339.5,137.7 343.5,137 347.5,137.5 350.5,139.7 353.5,137.6 357.5,137 361.5,137.6 364.5,139.2 367.5,137.4 371.5,137 374.5,137.3 377.5,138.8 381.5,137.4 384.5,137 387.5,137.2 391.5,138.6 398.5,137.1 405.5,138.2 412.5,137.1 419.5,138.2 425.5,137.1 432.5,138.2 439.5,137.1 446.5,138.2 453.5,137 456.5,137.3 460.5,138.7 464.5,137.3 467.5,137 470.5,137.3 474.5,139 477.5,137.4 481.5,137.1 484.5,137.5 487.5,139.5 490.5,137.7 494.5,137 498.5,137.5 501.5,139.8 504.5,137.6 508.5,137 512.5,137.6 515.5,139.7 518.5,137.5 521.5,137.1 526.5,137.8 528.5,139.4 529.5,139.5 531.5,137.8 536.5,137.1 540.5,137.9 542.5,139.7 545.5,137.7 549.5,137 553.5,137.6 556.5,139.8 559.5,137.6 563.5,137 567.5,137.7 570.5,139.7 572.5,137.9 576.5,137.1 581.5,137.8 583.5,139.5 584.5,139.4 586.5,137.8 590.5,137.1 594.5,137.5 597.5,139.7 600.5,137.6 604.5,137 608.5,137.6 611.5,139.8 614.5,137.5 617.5,137.1 622.5,137.7 625.5,139.6 628.5,137.5 632.5,137.1 636.5,137.9 638.5,139.6 641.5,137.7 645.5,137 649.5,137.5 652.5,139.7 655.5,137.6 659.5,137 663.5,137.6 666.5,139.7 669.5,137.5 673.5,137.1 677.5,137.7 679.5,139.2 680.5,139.3 683.5,137.4 686.5,137.1 690.5,137.4 693.5,139.1 697.5,137.3 700.5,137 704.5,137.5 707.5,138.9 710.5,137.6 713.5,137.1 717.5,137.3 721.5,138.7 727.5,137.1 734.5,138.2 742.5,137.2 734.5,138.4 730.5,137.4 726.5,137.3 721.5,138.8 717.5,137.5 713.5,137.3 710.5,137.7 707.5,139 704.5,137.7 700.5,137.2 696.5,137.8 693.5,139.2 690.5,137.6 686.5,137.3 682.5,137.9 680.5,139.4 677.5,137.9 673.5,137.3 669.5,137.7 666.5,139.8 663.5,137.8 659.5,137.2 655.5,137.8 652.5,139.8 649.5,137.7 645.5,137.2 641.5,137.9 638.5,139.7 636.5,138 632.5,137.3 627.5,138 625.5,139.7 622.5,137.9 617.5,137.3 614.5,137.7 611.5,139.8 608.5,137.8 604.5,137.2 600.5,137.8 597.5,139.8 595.5,138.1 591.5,137.3 586.5,137.9 584.5,139.5 583.5,139.6 581.5,138 576.5,137.3 572.5,138.1 570.5,139.8 567.5,137.8 563.5,137.2 559.5,137.7 556.5,139.8 553.5,137.7 549.5,137.2 545.5,137.8 542.5,139.8 540.5,138.1 536.5,137.3 531.5,138 529.5,139.6 528.5,139.5 526.5,137.9 521.5,137.3 517.5,138.1 515.5,139.8 512.5,137.8 508.5,137.2 504.5,137.8 501.5,139.8 498.5,137.7 494.5,137.2 490.5,137.9 487.5,139.6 485.5,138 481.5,137.3 477.5,137.6 474.5,139.1 470.5,137.5 464.5,137.4 460.5,138.8 456.5,137.5 453.5,137.2 446.5,138.4 440.5,137.3 432.5,138.3 425.5,137.3 419.5,138.4 412.5,137.3 405.5,138.4 398.5,137.2 391.5,138.7 387.5,137.4 381.5,137.5 377.5,138.9 374.5,137.5 371.5,137.2 367.5,137.6 364.5,139.4 361.5,137.8 357.5,137.2 353.5,137.7 350.5,139.8 347.5,137.7 343.5,137.2 339.5,137.9 336.5,139.8 334.5,138 330.5,137.3 325.5,138 323.5,139.7 320.5,137.9 315.5,137.3 311.5,138.1 309.5,139.8 306.5,137.8 302.5,137.2 298.5,137.8 295.5,139.8 292.5,137.7 288.5,137.2 284.5,137.9 281.5,139.7 279.5,138 274.5,137.3 270.5,138 268.5,139.8 265.5,137.9 260.5,137.3 257.5,137.7 254.5,139.8 251.5,137.7 247.5,137.2 243.5,137.8 240.5,139.8 237.5,137.7 233.5,137.3 229.5,137.9 227.5,139.5 226.5,139.6 224.5,137.9 219.5,137.3 215.5,138.1 213.5,139.8 210.5,137.8 206.5,137.2 202.5,137.7 199.5,139.8 196.5,137.7 192.5,137.2 188.5,137.9 185.5,139.8 183.5,138 179.5,137.3 174.5,138 172.5,139.6 171.5,139.5 169.5,137.9 165.5,137.3 161.5,137.7 158.5,139.6 155.5,137.8 151.5,137.2 147.5,137.7 144.5,139.1 141.5,137.6 137.5,137.2 134.5,137.5 130.5,138.8 127.5,137.6 124.5,137.2 117.5,138.4 110.5,137.2 103.5,138.3 97.5,137.3 89.5,138.2ZM392.8,197.5 393.3,195.5 399.4,193.5 399.5,192.5 404.5,191.6 523.5,191.6 528.1,192.5 527.9,193.5 529.1,194.5 527.3,195.5 481.5,199.7 465.2,198.5 441.5,194.7 429.5,194.7 426.5,195.5 410.5,196.9 397.5,199.9 393.5,198.9ZM399.4,197.5 400.5,198.2 410.5,195.8 414.1,195.5 401.5,195.3 400.1,195.5 399.4,196.5ZM454.7,195.5 472.1,198.5 480.5,198.8 513.6,195.5 486.5,195.1ZM429.5,279.5 429.6,275.5 431.9,265.5 434.5,258.8 435.5,258 436.5,258.9 438.9,267.5 440.5,268.9 441.5,268.7 442.7,266.5 444.5,253.4 445.5,252.9 450.5,256.3 455.5,256.6 458.5,255.7 460.4,254.5 462,251.5 460.9,244.5 457.5,238 455.5,236.1 453.5,235.2 447.5,234.9 446.1,232.5 446.2,228.5 447.5,225.5 449.9,222.5 455.2,218.5 455.8,217.5 437.5,217.1 435.7,215.5 435.6,213.5 437.5,209.9 440.5,208.3 441.5,208.4 447.5,212.3 448.5,212 454.5,206.6 455.5,206.8 460.1,212.5 460.5,215.5 461.5,216.4 463.5,216.4 466.5,215 469.5,215 473.5,216.8 475.5,217.1 479.7,215.5 483.5,215 486.5,213 487.5,213.1 490.5,215.8 495.5,219 497.5,218.2 501.5,213.2 505.5,210 516.5,206.8 521.2,204.5 529.5,203.1 562.5,200.9 601.5,202.9 742.5,202.9 742.5,203.8 661.5,203.4 604.5,203.8 563.5,202 534.5,203.2 524.1,204.5 516.5,207.1 506.8,209.5 502.4,212.5 498.7,217.5 496.5,219.1 494.5,219 487.5,215.1 475.5,218.1 470.5,215.3 465.5,215.2 463.8,216.5 463.7,220.5 464.8,222.5 463.6,224.5 465.3,230.5 464.9,233.5 463.6,236.5 464.5,238.7 469.5,242.9 477.5,247.2 489.5,251.4 493.5,253.3 495.5,253.1 500.5,254 501.9,257.5 505.1,259.5 507.5,260.1 511.6,258.5 519.5,254 521.5,254.1 524.5,255.5 526.5,255.6 534.5,252.2 549.5,244.1 553.9,240.5 556.3,237.5 557.9,232.5 557.7,230.5 556.9,229.5 554.1,229.5 545.5,232.8 543.5,232 537.5,226.5 531.5,218.5 531.5,217.1 532.5,215.6 535.5,214.3 605.5,215.1 624.4,216.5 624.8,217.5 613.9,220.5 601.5,221.8 594.7,223.5 593.7,224.5 593.8,225.5 598.5,231.7 600.5,233.1 608.5,234.4 650.5,234.3 680.5,235 681.2,235.5 682,239.5 683.5,240.3 689.5,240.2 690.5,239.7 691.5,237.6 691.5,234.5 692.5,232.6 693.5,232 697.3,231.5 697.8,230.5 696.2,228.5 696.5,228.1 698.5,228.7 703.5,234.7 705.5,235.6 711.5,236 720.5,235 722.5,235.3 726.5,237.3 728.5,237.3 735.3,233.5 734.2,232.5 729.5,230.5 721.5,229 706.5,224.1 699.3,218.5 698.6,217.5 699.7,216.5 710.5,216.4 718.5,217.3 742.5,216.4 742.5,220 740.5,218.9 735.5,218 729.5,218 726.1,218.5 726.8,219.5 735.5,221.9 740.5,222.1 742.5,221.1 742.5,223.4 734.5,222.6 712.5,217.2 702.5,216.7 700.1,217.5 701.6,219.5 706.8,223.5 722.4,228.5 729.5,230 737.3,232.5 739.2,233.5 739.7,234.5 733.5,236.3 730.5,238.3 727.5,238.9 724.5,238.1 721.4,236.5 704.5,235.9 702.5,234.5 699.5,230.7 698.5,230.7 697.5,231.7 693.5,232.2 692.5,232.8 691.7,234.5 691.5,238.5 690.5,240.3 688.5,241.1 684.5,241.1 681.5,240.1 680.1,236.5 650.5,235.6 602.5,235.4 595.5,234 590.5,230.5 575.5,228.8 573.8,229.5 573,230.5 570.7,239.5 568.5,243.3 565.5,246.6 561.5,249.9 557.5,252.2 544.5,256.6 540.5,255.9 531.5,259.5 523.5,256.6 520.5,254.7 518.9,255.5 518.3,256.5 521.5,257.8 523.2,260.5 523.2,261.5 513.5,264.3 511.9,263.5 516.6,258.5 516.5,257.8 508.5,261.3 506.5,261.5 501.5,259.3 500.5,258.3 499.5,255.3 495.5,254.8 493.5,257.6 481.5,262.1 480,261.5 476.5,258.1 471.5,255.7 469.5,255.8 467.7,257.5 466.8,267.5 467.5,268.5 468.5,268.6 473.7,267.5 466.3,274.5 465.9,276.5 467.5,277.8 469.5,277 480.5,269.2 482.5,269.6 486.7,273.5 486.4,274.5 470.5,284.9 467.5,284.9 460.5,282.1 457.5,281.5 455.5,281.8 445.5,286.8 442.5,287.4 438.5,287.3 435.5,286.5 432.4,284.5 430.7,282.5ZM531.9,217.5 532.7,219.5 538.2,226.5 543.5,231.3 545.5,232 556.5,227.2 572.5,226.8 585.2,223.5 612.5,219.8 621.5,217.5 619.7,216.5 606.5,215.5 537.5,214.6 533.5,215.3ZM461.5,258.5 458.5,257.5 446.5,257.7 445.5,258.7 444.9,260.5 444.3,267.5 443.5,270 441.5,271.6 437.5,271.6 436.5,272.1 434.2,275.5 433.6,279.5 435,282.5 438,284.5 441.5,285.2 445.5,284.7 449.4,282.5 451.1,280.5 452,278.5 452,273.5 452.6,271.5 459.5,267.8 462.4,264.5 462.9,261.5ZM460.2,213.5 458.5,210.3 455.5,206.9 454.5,206.6 448.5,212.1 447.5,212.4 441.5,208.5 439.5,208.7 437.1,210.5 435.9,214.5 437.5,216.4 457.5,216.6 459.5,215.8ZM460.5,226.5 459.5,226.8 458,228.5 457.5,231.5 458.5,233.9 459.5,234.7 461.5,235 463.5,233.5 464.3,230.5 463.1,227.5ZM83.5,225.4 83.5,216.1 280.5,216 302.9,214.5 302.4,213.5 297.7,212.5 298.4,211.5 311.1,209.5 316.9,206.5 317.7,204.5 317.3,203.5 302.5,203 83.5,202.9 83.5,201.9 303.5,202 322.5,202.4 332.9,203.5 327.8,205.5 323.5,208.8 314.8,211.5 314.4,212.5 320.2,213.5 322.1,214.5 297.5,215.5 289.7,216.5 288.8,219.5 289,223.5 285.7,224.5 280.5,225.2ZM479.5,205.9 481.5,206.1 482.7,207.5 482.5,209.5 480.5,210.9 478.5,210.2 477.7,208.5 478.5,206.5ZM480.5,206.1 479,206.5 478.2,207.5 478.3,209.5 479.5,210.5 481.5,210.2 482.5,208.5 481.6,206.5ZM405.4,216.5 405.4,218.5 402.5,221 393.7,223.5 391.5,228.5 386.7,235.5 382.9,242.5 380.2,245.5 376.5,248 369.5,250.1 362.5,250 356.5,248.2 353.9,246.5 352.2,244.5 351.7,241.5 352.4,238.5 357.1,228.5 358.2,220.5 360.7,217.5 368.5,215.5 380.5,214.6 381.9,215.5 382.7,219.5 384.5,221 385.5,221.1 387.5,219.5 387.7,215.5 391.5,214.1 399.5,213.2 403.3,214.5ZM380.5,216.3 375.5,215.8 367.5,216.7 364.4,217.5 361.7,219.5 360.4,222.5 360.6,229.5 358.4,238.5 358.8,240.5 360.5,242.8 364.5,244.3 369.5,244.1 373.2,242.5 376.2,239.5 379.3,234.5 385,227.5 386.4,224.5 385.9,222.5 384.5,222 382.7,220.5ZM388.9,217.5 389.5,219.4 390.5,220.1 396.5,221.2 401.5,220.1 403.4,218.5 403.8,217.5 403.7,216.5 402.5,215.1 400.5,214.1 397.5,213.7 393.5,214.2 389.8,215.5ZM657.5,224.8 659.5,224.4 661.6,225.5 662.3,227.5 662,228.5 660.5,230 658.5,230.2 656.4,228.5 656.2,226.5ZM656.7,226.5 656.9,228.5 658.5,229.7 660.5,229.4 661.9,227.5 661,225.5 659.5,224.8 657.5,225.4ZM83.5,241.3 86.5,240.6 88.5,240.8 91.5,242.6 93.1,244.5 93.9,246.5 93.9,250.5 93.2,253.5 92.2,254.5 83.5,256.2 83.5,255.7 91.5,254.5 93.1,252.5 93.5,249.5 93.2,246.5 91.5,244 89.5,242.9 87.5,242.7 83.5,243.8ZM314.2,245.5 315.5,244 318.5,242.7 322.5,241.9 328.5,241.6 334.5,241.9 339.5,242.9 343.1,244.5 343.6,245.5 342.5,246.8 338.5,248.4 333.5,249.2 327.5,249.4 320.5,249.1 316.5,248.3 314.5,247ZM317.2,245.5 317.8,246.5 320.5,247.6 328.5,248.4 335.5,247.6 338.5,246.5 339.4,245.5 339,244.5 336.5,243.3 328.5,242.3 320.5,243.2 317.7,244.5ZM285.4,250.5 286.5,249.2 290.5,248.1 302.5,247.8 304.5,248.1 305.5,249 306.5,251.5 306.3,252.5 304.5,253.6 296.5,253.8 288.5,252.6 286.2,251.5ZM311.3,251.5 311.5,250.2 312.5,249.6 313.6,250.5 312.5,251.7ZM503.4,262.5 503.7,263.5 503,264.5 492.5,270.7 490.1,270.5 485,266.5 485.5,265.3 496.5,258.8 499.5,259.1ZM86.6,267.5 87.8,265.5 93.5,261.6 96.5,260.3 98.5,260.1 100.5,260.8 102.5,264.5 105,267.5 105,268.5 102.2,271.5 102.2,273.5 104.5,275.6 107.5,276.6 109.5,276.4 114.5,273.6 118.5,273.1 150.5,273.1 167.5,273.9 224.5,274 228.7,274.5 229.7,275.5 229.7,281.5 229,282.5 226.5,283.2 218.5,283.8 199.5,283.4 120.5,283.8 113.5,283.1 107.5,281.2 99.5,282.9 93.5,283.2 89.5,281.9 87.6,279.5ZM98.5,260.5 96.5,260.6 93.5,261.9 89.9,264.5 88.6,266.5 89.9,279.5 91.4,281.5 93.6,282.5 97.5,282.7 101.5,282 104.7,280.5 106.3,278.5 106,277.5 102.5,274.5 101.6,272.5 102.3,270.5 104,268.5 104,267.5 100.5,261.5ZM113.9,277.5 114.6,281.5 117.4,282.5 216.5,282.7 220.1,282.5 222.8,281.5 222.8,275.5 217.5,274.7 116.6,274.5 114.5,275.4ZM381,271.5 382.5,270.5 390.5,269.7 402.5,270.6 403.4,271.5 403.7,273.5 403.4,277.5 402.5,278.3 392.5,279.3 382.5,277 380.9,275.5ZM381.6,275.5 382.2,276.5 389.5,278.2 401.5,278 402.8,277.5 403.1,276.5 402.9,271.5 401.5,270.9 383.5,270.9 381.8,271.5ZM243.5,286.5 244.3,285.5 247.5,284.3 255.5,283.5 263.5,284.4 266.2,285.5 267.1,286.5 266.5,287.7 263.5,289.1 255.5,290.1 246.5,289 243.7,287.5ZM133.5,296.5 134.5,295.4 145.5,294.6 198.5,294.5 212.2,295.5 212.7,297.5 211.8,298.5 209.5,299 200.5,299.7 146.5,299.6 136.8,298.5 134.3,297.5ZM175.8,297.5 187.3,297.5 181.5,297.1ZM109.9,303.5 111.5,302.2 116.5,301 120.5,302 121.5,303 121.9,304.5 121.5,305.5 119.5,307.3 115.5,308.3 111.5,307.3 109.7,305.5ZM111.3,304.5 111.5,305.5 112.5,306.5 116.5,307.4 119.5,306.5 120.9,304.5 119.5,302.7 116.5,302 112.5,303ZM128.8,308.5 130.5,307.4 133.5,307 135.5,307.5 136.5,308.5 136.6,309.5 135.8,311.5 134.5,312.9 131.5,313.7 129.5,312.9 128.5,311.7 128.1,310.5ZM132.5,307.3 129.5,308.2 128.5,309.5 128.9,311.5 130.5,312.7 133.5,312.6 135.7,310.5 135.6,308.5 134.5,307.7ZM157.7,310.5 160.5,309.2 164.5,308.9 172.5,312.7 176.5,313.7 184.5,309.7 192.5,308.9 201.5,310.2 210.5,313 219.5,317.1 226.5,321.2 234.5,327 240.3,332.5 240.8,334.5 234.6,339.5 234.6,341.5 235.5,342.5 239.7,344.5 252.5,345 254.4,346.5 254.5,348.5 253.9,349.5 252.5,350.1 246.1,350.5 243.5,352.1 238.3,350.5 232.5,350.4 228.5,351.9 224.5,354.8 219.5,354.5 213.5,356.8 210.5,356.6 207.5,355.1 205,351.5 196.5,343.6 190.5,339.6 186.5,338.6 184.3,337.5 181.6,332.5 160.2,314.5 158.3,312.5ZM167,316.5 179.9,328.5 185,331.5 183.4,334.5 183.9,336.5 184.8,337.5 187.5,338.4 189.5,338.2 191.5,337.1 192.5,337.6 194.8,340.5 205.5,349.2 210.5,352.4 212.5,353 214.5,352.7 218.5,348.8 226.5,348.4 229,347.5 230.2,346.5 230.4,345.5 228.7,341.5 228.7,336.5 227.6,334.5 222,329.5 214.5,325.1 207.2,322.5 200.5,321.9 196.5,323.2 193.5,326.7 191.5,327.1 183.5,324 167.5,316.1ZM231.6,346.5 231.9,348.5 233.5,349.4 236.5,349.9 250.5,349.6 253.2,348.5 253.3,347.5 252.5,346 249.5,345.4 234.5,344.9 232.2,345.5ZM142.5,312.4 144.5,311.6 147.5,312.2 150,314.5 153.8,316.5 154.4,318.5 153.5,321.6 150.5,322.2 147.5,321.1 145.5,319 141.6,316.5 141.1,314.5ZM141.8,313.5 141.7,315.5 142.5,316.5 146.5,318.2 148.5,320.3 151.5,321.2 153.5,320.2 154.1,318.5 153.4,316.5 149.5,314.6 146.5,311.9 143.5,312ZM381.5,314.5 384.3,319.5 383.7,327.5 382.5,330.2 378,332.5 377.3,334.5 378,336.5 377.5,338 370.5,337.5 352.5,339.9 350.4,338.5 349.5,336.5 350.1,334.5 353.5,332.2 359.5,331.1 361.5,328.9 372.9,328.5 373.1,321.5 375,316.5 376.5,314.7 378.5,313.5 380.5,313.4ZM383,319.5 380.5,316.7 378.5,316.8 376.5,318.6 375.2,321.5 374.7,325.5 375.1,328.5 372.5,329.2 361.5,329.8 359.5,332.3 355.5,332.7 352.5,334.2 351.6,335.5 351.8,337.5 353.5,338.9 355.5,339.2 370.5,337.1 376.6,337.5 377.2,336.5 376.6,334.5 377.3,332.5 378.5,331 381.5,330 382.8,328.5 383.3,325.5ZM159,327.5 164.5,325.8 166.5,326.8 167,328.5 163.5,332 162.5,332.2 159.6,330.5 158.7,328.5ZM160.3,328.5 161.5,330.5 163.5,330.9 166,329.5 166.6,327.5 165.5,326.4 163.5,326.2 160.8,327.5ZM510.1,385.5 509.1,390.5 508.3,401.5 506.9,404.5 504.5,407.4 500.5,410.2 485.5,417.1 474.5,421 471.5,424 462.4,424.5 432.5,427.7 428.5,428.7 423.5,428.9 421.3,428.5 422.5,426.5 422.6,423.5 421.5,421.4 419.5,419.7 418.5,419.8 416,421.5 414.6,425.5 415.5,428.2 418.5,428.5 414.5,429.1 401.5,429.6 382.5,429.3 345.5,427.3 323.5,423.1 312.1,419.5 306.5,419 304.5,418.3 303.1,416.5 302.5,414.5 297.6,411.5 291.5,410.3 290.2,408.5 289.5,405.9 284.5,402.3 281.7,399.5 279.8,395.5 279.8,393.5 280.9,391.5 285.5,390.7 297.1,393.5 297.8,394.5 298.4,398.5 302.5,400.3 310.5,401.8 325.5,402.9 325.9,403.5 325.5,404.5 323.2,406.5 322,408.5 322.8,411.5 324.5,412.2 333.5,411.5 337.5,412.4 339.5,412 340,410.5 335.4,405.5 335.5,405 336.5,404.7 345.5,406 385.5,406.5 393.5,406 413.5,403.2 416.5,403.7 419.3,405.5 422.7,406.5 432.5,406.7 436.6,405.5 437.2,404.5 436.5,403.5 433.3,401.5 434.2,400.5 441.5,397.9 445.4,395.5 448.7,391.5 451.1,385.5 451.8,381.5 450.9,377.5 448.4,373.5 443.8,368.5 437.5,364.6 431.5,363.3 387.5,364.1 369.5,367.3 358.5,373.2 341.1,377.5 318.5,379.6 286.5,380.1 281.5,379 281.1,375.5 280.2,373.5 273.7,366.5 273.4,365.5 274.4,362.5 276.4,359.5 284.4,352.5 287.5,351.6 295.5,352.3 299.5,351.6 302,350.5 305.5,346.9 308.5,345.7 342.5,344.6 350.5,344.7 355.5,346.4 367.5,346.4 377.5,345.1 389.5,345.6 391,346.5 389.5,347 385.5,350.2 385.6,351.5 395.5,354.9 399.5,355.2 420.5,353.6 439.5,350.4 441.1,349.5 442.3,347.5 442.3,342.5 442.8,341.5 445.5,339.6 448.5,339.2 451.5,340 453.2,341.5 453.5,343.5 451,346.5 450.8,347.5 452.5,348.5 457.5,349.8 469.5,351.1 475.5,352.7 482.5,355.7 490.5,360.8 501.5,369.6 504.4,372.5 509.2,382.5ZM444.6,342.5 445.7,344.5 448.5,345.4 451.5,344.6 452.8,342.5 451.4,340.5 448.5,339.8 445.9,340.5ZM279.3,366.5 279.5,369.6 283.5,374.6 287.5,377.3 292.5,378.1 305.5,376.9 320.5,376.4 356.5,370.3 360.5,369.3 366.5,366.1 375.5,365.1 384.5,361.6 389.5,361 427.5,360.4 434.5,360.8 441.5,363.1 452.5,370.1 454.5,372.4 460.9,382.5 461.4,385.5 460.5,388.5 456.4,394.5 452.1,398.5 444.5,402.5 440.8,405.5 438.5,406.6 433.5,407.6 425.5,407.9 411.5,407 387.5,408.3 350.5,407.9 341.1,408.5 340.7,411.5 338.5,412.8 333.5,411.6 324.5,412.4 322.5,411.7 321.9,410.5 321.6,407.5 322.5,405.5 321.7,404.5 302.5,400.6 297.9,398.5 296.9,395.5 295.5,394.1 286.5,391.1 283.6,391.5 282.2,392.5 281.6,394.5 282,396.5 284,400.5 285.5,401.9 289.5,403.7 290.5,405.7 290.8,408.5 292.5,410.1 297.5,410.5 302.5,412.3 303.5,414.1 303.8,416.5 305.5,418.2 312.5,418.6 343.5,425.3 371.5,426.8 372.5,425.5 374.2,419.5 377.5,415.9 378.5,416.3 380.7,419.5 381.2,421.5 380.9,427.5 382.5,428.2 387.5,428.2 390.5,427.3 413.5,426.9 415.8,421.5 418.5,419.7 420.5,420.2 422.4,422.5 422.7,427.5 423.5,428 428.5,428 432.5,425.3 451.5,423.8 471.5,423 472.8,421.5 473.7,417.5 478.5,416.4 482.5,413.2 487.5,411 492.5,407.5 499.5,404.9 502.5,403 505.4,398.5 507,391.5 506.8,385.5 505.4,382.5 502.5,378.7 499.5,375.8 491.4,370.5 479.5,361.1 475.5,358.8 470.5,356.9 443.5,350.1 439.5,351.4 421.5,354.2 398.5,356 387.9,353.5 385.6,353.5 385.2,356.5 384.4,357.5 382.5,358.6 380.5,359.1 375.5,358.1 371.2,355.5 371.1,353.5 373,351.5 371.5,350.6 340.5,350 307.5,350.8 298.5,352.9 290.5,353.4 287.5,354.4 286,355.5 281.2,362.5ZM371.9,354.5 372,355.5 372.9,356.5 375.5,357.9 378.5,358.6 382.5,357.8 384,356.5 384,354.5 382.5,352.8 379.5,351.8 375.5,352 373.5,352.8ZM377.5,416 374.3,419.5 372.6,425.5 373.5,428.2 379.5,428.3 381,426.5 381,420.5 378.5,416.5ZM180.5,339.9 181.5,340.5 181.9,342.5 178.5,345.8 175.5,345.1 174,343.5 173.8,342.5 174.7,341.5 177.5,340ZM175.5,342.5 176.5,344.2 178.5,344.7 180.5,343.7 181.7,341.5 180.5,340.1 178.5,339.9 177.1,340.5ZM187.6,355.5 188.2,354.5 189.9,353.5 192.5,353.1 194.5,353.5 196.2,355.5 196.3,358.5 193.5,359.7 190.5,359.4 188,357.5ZM188.8,355.5 189.6,357.5 192.5,358.7 194.5,358.3 195.5,357.7 195.9,356.5 195.3,354.5 193.5,353.4 190.5,353.8ZM242.5,356.6 243.5,357.9 243.8,359.5 243.5,363.1 242.5,364.3 240.5,365.1 237.5,364.3 236.6,363.5 236.5,362.5 237.3,360.5 240.5,357.4ZM241.5,357.5 239.5,358.6 238,360.5 238.3,362.5 239.5,363.2 242.5,362.9 243.5,361.6 243.1,358.5 242.5,357.6ZM357.4,359.5 359.5,358.1 362.5,357.9 364.8,358.5 365.6,359.5 365.7,360.5 364.5,362 361.5,362.3 358.5,361.3ZM358.4,359.5 358.5,360.5 361.5,361.8 363.5,361.6 364.8,360.5 364.5,359.3 362.5,358.4 360.4,358.5ZM493.5,400 495.5,399.3 498.1,400.5 498.7,402.5 497.5,405.5 495.5,405.3 493.5,404.1 492.6,401.5ZM492.9,401.5 493.5,403.2 494.5,403.9 496.5,403.9 497.9,402.5 497.4,400.5 495.5,399.6 493.5,400.4ZM354.9,413.5 355.5,412.4 357.5,411.6 358.5,411.9 359.6,413.5 359.4,414.5 357.5,415.4 355.3,414.5ZM355.3,413.5 355.6,414.5 357.5,415.2 359.1,414.5 359.2,413.5 357.5,412.1 356.5,412.2ZM336.5,419.7 337.6,419.5 338.1,420.5 337.5,421.2 336.5,421.1 336.1,420.5Z"/>
<path fill="#0cd8a8" stroke="#0cd8a8" stroke-width="0.4" fill-rule="evenodd" d="M83.5,137.8 89.5,138.3 97.5,137.5 103.5,138.4 110.5,137.4 117.5,138.6 124.5,137.4 127.5,137.8 130.5,138.9 134.5,137.7 137.5,137.4 141.5,137.8 144.5,139.2 147.5,137.9 151.5,137.4 155.5,137.9 158.5,139.8 161.5,137.9 165.5,137.5 169.5,138.1 171.5,139.6 172.5,139.8 174.5,138.1 178.5,137.5 183.5,138.2 185.5,139.9 188.5,138 192.5,137.4 196.5,137.9 199.5,139.9 202.5,137.9 206.5,137.4 210.5,138 213.5,139.9 215.5,138.2 219.5,137.5 224.5,138.1 226.5,139.7 227.5,139.7 229.5,138.1 233.5,137.5 238.5,138.2 240.5,139.9 243.5,138 247.5,137.4 251.5,137.9 254.5,139.9 257.5,137.9 261.5,137.4 265.5,138 268.5,139.9 270.5,138.1 274.5,137.5 279.5,138.1 281.5,139.8 284.5,138 288.5,137.4 293.5,138.3 295.5,139.9 298.5,138 302.5,137.4 306.5,138 309.5,139.9 311.5,138.2 315.5,137.5 320.5,138 323.5,139.8 325.5,138.1 330.5,137.5 334.5,138.2 336.5,139.9 339.5,138 343.5,137.4 347.5,137.9 350.5,139.9 353.5,137.9 357.5,137.4 361.5,137.9 364.5,139.5 367.5,137.8 371.5,137.4 374.5,137.7 377.5,139 381.5,137.7 387.5,137.6 391.5,138.8 398.5,137.4 405.5,138.5 411.5,137.5 419.5,138.5 424.5,137.5 427.5,137.5 432.5,138.4 440.5,137.4 446.5,138.5 453.5,137.4 456.5,137.6 460.5,138.9 464.5,137.6 470.5,137.7 474.5,139.2 477.5,137.8 481.5,137.5 485.5,138.1 487.5,139.8 490.5,138 494.5,137.4 498.5,137.9 501.5,139.9 504.5,137.9 508.5,137.4 512.5,138 515.5,139.9 517.5,138.2 521.5,137.5 526.5,138.1 528.5,139.6 529.5,139.7 531.5,138.1 535.5,137.5 540.5,138.2 542.5,139.9 545.5,138 549.5,137.4 553.5,137.9 556.5,139.9 559.5,137.9 563.5,137.4 567.5,138 570.5,139.9 572.5,138.2 576.5,137.5 581.5,138.1 583.5,139.7 584.5,139.6 586.5,138.1 590.5,137.5 595.5,138.2 597.5,139.9 600.5,138 604.5,137.4 608.5,137.9 611.5,139.9 614.5,137.9 618.5,137.4 622.5,138 625.5,139.8 627.5,138.1 631.5,137.5 636.5,138.1 638.5,139.8 641.5,138 645.5,137.4 649.5,137.9 652.5,139.9 655.5,137.9 659.5,137.4 663.5,138 666.5,139.9 668.5,138.2 673.5,137.4 677.5,138 680.5,139.5 682.5,138.1 686.5,137.5 690.5,137.8 693.5,139.3 696.5,137.9 700.5,137.4 704.5,137.8 707.5,139.1 710.5,137.9 714.5,137.4 717.5,137.6 721.5,138.9 725.5,137.6 730.5,137.5 734.5,138.5 742.5,137.4 734.5,138.6 730.5,137.7 725.5,137.8 721.5,139 717.5,137.8 713.5,137.7 710.5,138 707.5,139.2 704.5,138 700.5,137.6 696.5,138.1 693.5,139.4 690.5,138 686.5,137.7 682.5,138.2 680.5,139.6 677.5,138.2 673.5,137.7 668.5,138.4 666.5,140 663.5,138.1 659.5,137.7 655.5,138.1 652.5,140 650.5,138.4 645.5,137.7 641.5,138.2 638.5,139.9 636.5,138.3 631.5,137.7 627.5,138.3 625.5,139.9 622.5,138.2 618.5,137.7 613.5,138.4 611.5,140 608.5,138.1 604.5,137.7 600.5,138.2 597.5,140 595.5,138.3 591.5,137.7 586.5,138.2 584.5,139.8 583.5,139.8 581.5,138.2 576.5,137.7 572.5,138.3 570.5,140 567.5,138.2 563.5,137.7 558.5,138.4 556.5,140 554.5,138.4 549.5,137.7 545.5,138.2 542.5,140 540.5,138.3 536.5,137.7 531.5,138.2 529.5,139.8 528.5,139.8 526.5,138.2 521.5,137.7 517.5,138.3 515.5,140 512.5,138.2 508.5,137.7 504.5,138.1 501.5,140 499.5,138.4 494.5,137.7 490.5,138.2 487.5,139.9 485.5,138.2 481.5,137.7 477.5,137.9 474.5,139.3 471.5,138.1 467.5,137.6 463.5,138 460.5,139 456.5,137.8 453.5,137.6 446.5,138.6 440.5,137.6 432.5,138.6 424.5,137.7 419.5,138.6 411.5,137.6 405.5,138.6 398.5,137.6 391.5,138.9 387.5,137.8 381.5,137.9 377.5,139.1 374.5,137.9 371.5,137.7 367.5,138 364.5,139.6 361.5,138.1 357.5,137.6 353.5,138.1 350.5,140 348.5,138.4 343.5,137.7 339.5,138.2 336.5,140 334.5,138.3 330.5,137.7 325.5,138.3 323.5,139.9 320.5,138.2 315.5,137.7 311.5,138.4 309.5,140 306.5,138.1 302.5,137.7 298.5,138.1 295.5,140 293.5,138.4 288.5,137.7 284.5,138.2 281.5,139.9 279.5,138.3 274.5,137.7 270.5,138.3 268.5,140 265.5,138.2 261.5,137.7 256.5,138.4 254.5,140 251.5,138.1 247.5,137.7 243.5,138.2 240.5,140 238.5,138.3 233.5,137.7 229.5,138.2 227.5,139.8 226.5,139.8 224.5,138.2 219.5,137.7 215.5,138.3 213.5,140 210.5,138.2 206.5,137.7 201.5,138.4 199.5,140 197.5,138.4 192.5,137.7 188.5,138.2 185.5,140 183.5,138.3 179.5,137.7 174.5,138.2 172.5,139.9 171.5,139.7 169.5,138.2 165.5,137.7 160.5,138.3 158.5,139.9 155.5,138.1 151.5,137.6 147.5,138 144.5,139.3 141.5,138 137.5,137.6 134.5,137.8 130.5,139 128.5,138.2 124.5,137.6 117.5,138.7 110.5,137.6 103.5,138.6 97.5,137.6 89.5,138.4ZM83.5,144.3 83.5,143.7 742.5,143.7 742.5,144.3ZM83.5,163.8 742.5,163.8 742.5,175.2 83.5,175.2ZM83.5,194.8 380.5,194.8 383.8,194.5 386.7,193.5 387.2,191.5 388.5,191.1 398.5,190.1 531.5,190.2 538.5,190.9 540.3,191.5 540.7,192.5 539.9,194.5 538.5,195.1 530.5,196.4 494.5,199.1 480.5,200.7 468.5,199.7 442.5,196 429.5,196 411.5,197.7 402.5,199.8 399.5,201 391.7,206.5 391.8,208.5 393.5,210.3 395.5,210.7 398.5,210.4 409.5,217.2 417.5,217 419.5,213 435.5,212.7 437.7,209.5 440.5,208.1 441.5,208.3 447.5,212.2 448.5,211.8 454.5,206.4 455.5,206.7 458.5,210 461.5,214.8 463.5,215.6 466.5,214.8 469.5,214.9 473.5,216.4 476.5,216.2 480.5,214.2 483.4,213.5 486.5,211.2 487.5,211.5 491.5,215.9 495.5,218.4 497.5,217.6 501.8,212.5 505.5,209.8 516.5,206.4 518,205.5 519.5,203.5 558.5,199.8 560.5,199.2 562.3,197.5 563.5,197.2 620.5,197.2 627.5,196.8 632.5,195.5 639.5,194.9 742.5,195 742.5,199.8 562.5,199.6 520.5,204 516.8,206.5 505.5,209.9 501.5,213 497.5,217.9 495.5,218.7 491.5,216.2 487.5,212.1 486.5,212 483.5,214.2 475.5,216.7 473.5,216.5 469.5,214.9 465.5,215.1 463.5,216 461.5,215.3 458.8,210.5 455.5,206.7 454.5,206.5 448.5,211.9 447.5,212.2 441.5,208.3 440.5,208.2 437.5,209.8 435.5,213.2 419.5,213.5 418.8,216.5 417.5,217.5 415.5,217.9 408.5,217.4 402.8,213.5 398.5,211.7 386.5,214.1 387.2,218.5 386.5,219.7 384.5,220.4 382.7,218.5 382.6,216.5 383.4,214.5 382.5,213.6 374.5,213.7 363.5,215.2 356.1,217.5 354.1,220.5 353.4,226.5 352.1,229.5 348.5,233.1 341.5,238.5 337.5,239.8 323.5,240.2 313.5,241.9 311.9,243.5 310.7,247.5 308.5,250.2 307.5,249.7 304.5,245.2 303.5,244.7 292.5,243.6 288.4,241.5 286.9,239.5 286.2,237.5 285.7,227.5 286.4,226.5 292.5,225.7 296.7,224.5 297.6,223.5 296.4,220.5 296.3,218.5 297.9,216.5 321.5,215.9 327.5,214.6 324.9,212.5 324.9,211.5 328.6,209.5 331.5,206.5 333.5,205.7 347.5,204.7 379.5,205.1 385.5,204.3 391.5,204.9 398.5,200.8 411.5,197.3 429.5,195.6 442.5,195.7 470.4,199.5 483.5,200.1 494.5,198.7 531.5,195.7 534.3,194.5 534.6,192.5 533.5,191.5 523.5,190.8 399.5,191 394,191.5 392.8,192.5 392.8,193.5 387.3,195.5 386.5,198.7 384.7,199.5 380.5,199.8 83.5,199.8ZM298,226.5 298.5,227.9 300.5,230.3 303.5,231.6 330.5,232.8 336.5,232.3 341.5,230.9 345.5,228.6 346.8,226.5 345.5,225.2 342.5,224.7 328.5,225.3 303.5,225.4ZM328.5,212.5 333.3,214.5 333.8,216.5 345.5,217.5 350.5,217 360.4,214.5 369.5,213.3 372.7,212.5 373.8,211.5 369.2,209.5 368.5,208 366.5,207.2 362,206.5 346.5,206.2 340.6,206.5 336.5,207.5 333.4,209.5 328.6,211.5ZM381.6,206.5 381.8,209.5 382.5,210.6 384.5,211.9 387.5,211.3 389.2,209.5 389.2,206.5 387.3,205.5 384.5,205.1ZM308.5,239 307.5,239.3 306.8,240.5 306.1,243.5 306.6,246.5 307.5,248.1 308.5,248.5 309.9,246.5 310.3,243.5 309.7,240.5ZM384.5,215 383.1,216.5 383.1,218.5 384.5,219.9 385.5,219.8 386.5,218.8 386.8,217.5 385.5,215.2ZM479.5,205.2 481.5,205.4 483.3,207.5 483.2,209.5 482.6,210.5 480.5,211.6 478.5,210.9 477.1,209.5 477.7,206.5ZM480.5,205.5 478.5,206.1 477.4,208.5 478.4,210.5 480.5,211.2 482.1,210.5 483.1,208.5 482.4,206.5ZM425,210.5 425.5,209.7 426.8,210.5 425.5,211.2ZM425.1,210.5 425.5,211 426.6,210.5 425.5,210ZM532.5,217.5 534.1,215.5 537.5,214.9 605.5,215.9 614.5,216.4 616.6,217.5 612.5,219 603.5,219.9 595.8,221.5 581.2,222.5 557.5,225.8 553.5,227.1 545.5,231.3 543.5,230.6 538.5,226.1 534.1,220.5ZM533.1,217.5 534,219.5 538.5,225.4 543.5,229.8 545.5,230.5 551.5,226.8 556.5,224.8 572.3,222.5 593.5,221.1 600.7,219.5 611.5,218.3 613.9,217.5 611.5,216.5 537.5,215.3 534.5,215.8ZM702.2,218.5 703.5,217.5 711.5,217.8 735.5,223.8 742.5,224.7 742.5,226.4 739.5,226.2 711.5,218.8 708.5,218.5 705.7,219.5 706,220.5 707.5,221.8 718.9,225.5 730.5,228.8 734.5,229.1 742.5,230.9 742.5,232.9 721.9,227.5 709.1,223.5 705.5,221.8ZM658,225.5 659.5,225.1 661.3,226.5 661.5,227.5 660.5,229 658.5,229.3 657.4,228.5 657.1,226.5ZM659.5,225.4 657.5,226.5 657.3,227.5 658.5,229 660.5,228.6 661.1,227.5 661,226.5ZM460.5,227.6 462.5,228 463.7,230.5 463.3,232.5 461.5,234 459.5,233.4 458.5,231.5 458.6,229.5ZM460.5,228.3 459.3,229.5 459.1,231.5 460.5,233.2 461.5,233.3 462.6,232.5 463.2,230.5 462.5,228.8ZM691.8,234.5 692.5,233.1 693.5,232.4 699.5,231.8 703.5,236.2 707.5,236.2 715.5,237.2 729.5,242.2 732.8,244.5 733.2,247.5 731.5,249.4 728.5,250.1 714.5,250 707.5,248.1 703.5,246.5 699.5,243.1 695.5,243.5 692.5,242.2 691.3,240.5ZM692,234.5 691.9,239.5 692.5,240.7 695.5,242.2 699.5,241.2 703.5,245.5 706.5,246.8 715.5,249.1 729.5,249 731.1,248.5 732.1,247.5 732.2,245.5 729.5,243.1 715.5,237.9 708.5,236.5 702.5,236.7 700.2,233.5 698.5,232.3 693.5,232.6ZM95.5,234.3 99.5,233.8 103.5,235 110.5,239.6 118,242.5 122.5,245.8 130.5,245.7 133.5,246.4 135.1,247.5 134.5,248.5 131.5,249.7 123.5,250.4 120.5,256.1 114.5,259.9 112.1,265.5 110.5,267.5 110.5,268.5 113.2,271.5 113.3,272.5 109.5,275.2 107.5,275.7 105.5,275.4 102.7,273.5 102.7,271.5 106.5,268.5 106.4,267.5 103.5,265.2 100.5,260.1 96.5,260 87.5,264.8 83.5,264.9 83.5,263.4 85.5,264.1 88.5,263.9 95.5,260 98.5,259.3 101.5,259.9 103.5,264.5 105.5,266 108.5,266.1 110.5,263.5 110.7,261.5 110.2,259.5 106.5,255.4 107.2,250.5 105.5,246.5 106,242.5 105.6,240.5 103.5,237.8 100.5,236.3 96.5,236.4 93.9,238.5 93.7,240.5 95.3,245.5 94.4,252.5 93.5,254.5 91.5,255.4 83.5,257.2 83.5,256.7 91.5,255.1 93.6,253.5 94.4,245.5 91.8,240.5 91.3,238.5 92.5,236.1ZM108.9,250.5 110.5,252.1 112.5,252.4 114.2,251.5 114.7,250.5 114.5,249.4 112.5,248.1 110.3,248.5ZM127.6,247.5 128.5,248 130.5,247.5ZM111.3,271.5 109.5,269.9 106.5,269.6 104.2,270.5 102.8,272.5 103.2,273.5 104.5,274.6 107.5,275.1 110.8,273.5 111.5,272.5ZM452.5,238.9 454.5,239 456.6,240.5 458.4,243.5 459.4,247.5 459.4,251.5 458.6,253.5 456.5,255.3 454.5,255.8 451.5,255.5 449.8,254.5 448.4,252.5 447.8,250.5 447.8,246.5 448.9,242.5 450.5,240.1ZM453.5,240.9 451.5,241.8 450.5,243 449,248.5 449.3,251.5 450.3,253.5 451.5,254.5 453.5,255.1 455.5,254.7 457.2,253.5 458.1,251.5 458.4,249.5 458.1,246.5 457,243.5 455.5,241.6ZM137.5,247.5 139.5,246.3 143.5,245.7 146.5,246.1 149.1,247.5 147.5,249 143.5,249.8 139.5,249.2 138,248.5ZM151.5,247.5 153.5,246.3 157.5,245.7 160.5,246.1 163.1,247.5 161.5,249 157.5,249.8 153.5,249.2 152,248.5ZM165.5,247.5 167.5,246.3 171.5,245.7 174.5,246.1 177.1,247.5 175.5,249 171.5,249.8 167.5,249.2 166,248.5ZM179.5,247.5 181.5,246.3 185.5,245.7 188.5,246.1 190.5,247.5 189.5,248.9 185.5,249.8 181.5,249.2 180,248.5ZM495.8,256.5 496.5,256 498.6,256.5 497.5,257.6 496.2,257.5ZM440.5,258 441.5,259 441.6,261.5 441.5,263.4 440.5,264.5 439.8,261.5ZM470,258.5 470.5,257.9 471.5,257.9 479.5,263.7 483.5,264 483.4,267.5 477.5,268.9 476.7,268.5 477.7,267.5 478,265.5 471.3,260.5ZM479.6,265.5 479.7,266.5 480.5,266.9 481.9,266.5 481.5,265.2ZM547.6,275.5 547.6,276.5 546.5,277.7 544.5,277.3 532.5,267.5 531.5,267.4 524.6,272.5 525.1,273.5 531.3,278.5 531.9,280.5 530.5,282 528.5,281.7 520.7,276.5 519.5,276.3 502.5,288.2 500.5,288.9 498.5,287.8 497.8,286.5 498.7,283.5 492.7,277.5 491.5,276.9 489.5,277.4 482.5,282.3 481.5,282.4 480.6,281.5 481.5,279.7 488.5,274.6 488.5,271.8 491.5,272.2 493.5,271.8 500.6,267.5 502.5,266.9 502.7,267.5 495.5,273 495,274.5 500.9,278.5 502.5,280.5 503.6,280.5 513.8,273.5 514.7,272.5 509.3,266.5 507.5,265.7 504.7,265.5 505.1,263.5 506,262.5 509.1,262.5 510.5,265 519.5,269.4 521.9,268.5 528.2,264.5 528.2,263.5 525.7,260.5 525.5,259.3 532.5,261.8 540.5,257.8 541.7,258.5 541.4,259.5 536.5,263.4 536,264.5 536.5,265.5 546.2,273.5ZM490.2,273.5 489.9,274.5 490.4,275.5 493.2,275.5 493.1,273.5 491.5,273.1ZM496.5,278.2 496.3,278.5 498.2,280.5 499.5,281.2 500,280.5ZM529.6,279.5 522.7,273.5 522.9,271.5 525.1,269.5 524.5,269.1 520.5,270.7 516.5,270.1 516,270.5 516.9,272.5 516.5,273.9 500.4,285.5 500.5,286.1 502.5,285.6 518.5,274.8 521.5,274.9 528.5,279.5ZM525.3,268.5 525.5,268.9 526.5,268.5ZM530,263.5 529.6,265.5 530.5,266.1 533.5,266.2 534.5,265.5 534.3,263.5 533.5,262.9 530.5,263ZM475.5,270.4 475.4,269.5 476.5,268.7 476.8,269.5ZM474.2,270.5 475.4,270.5 474.5,270.9ZM160.2,272.5 162,271.5 181.5,271.2 220.5,271.5 222.5,272.5 214.5,273.1 167.5,273.1ZM403.5,279.3 404.4,280.5 404.7,282.5 403.4,286.5 402.1,299.5 394.9,300.5 394.8,301.5 397.1,303.5 397.3,305.5 394.5,308.1 390.1,309.5 389,311.5 388.9,317.5 388.1,319.5 389.7,321.5 391.2,328.5 390.6,330.5 387.5,333.4 382.5,334.2 379.5,336 378.5,335.6 378.1,334.5 378.5,332.9 382.5,331.8 384,329.5 384.8,322.5 386.7,318.5 385.9,317.5 385,314.5 382.5,311.4 381.5,308.7 378.3,305.5 378.6,303.5 381.5,300.5 382.2,297.5 382.2,292.5 381.6,290.5 381.4,286.5 379.8,281.5 380.1,277.5 381.5,277 384.5,277.4 393.5,280.8 400.5,279.1ZM380.8,278.5 380.7,281.5 381.9,284.5 382.5,290.5 392.5,291.1 401.9,290.5 403.8,282.5 403.5,281.1 402.5,279.9 400.5,279.8 392.5,281.6 386.5,278.2 383.5,277.6 381.5,277.8ZM386.5,321.8 385.5,323.1 385.1,325.5 385.2,330.5 385.5,331.1 386.5,331.3 388.5,329.5 389,326.5 388.5,323.3 387.5,321.9ZM381.3,304.5 382.5,307.6 387.5,308.8 392.6,306.5 393.6,305.5 393.8,304.5 392.5,303 387.5,300.8 382.5,301.9ZM83.9,289.5 84.7,286.5 87.5,284.3 105.5,282.6 109.5,283.2 119.2,286.5 125.5,287.3 128.5,286.6 129.8,285.5 132.5,284.7 137.5,284.3 203.5,284.1 210.3,284.5 213.3,285.5 214.8,292.5 211.8,293.5 205.5,293.8 132.5,294.1 119.5,296.8 100.5,298.8 93.5,298 88.5,296 84.8,292.5ZM87.3,289.5 88.4,292.5 90.7,294.5 94.5,296.1 99.5,296.9 120.5,294.7 128.6,292.5 129.5,291.5 124.1,289.5 115,287.5 109.6,284.5 105.5,283.5 97.5,284 90.5,285.4 87.8,287.5ZM134.1,291.5 135.1,292.5 141.5,292.9 200.5,293 206.8,292.5 207.5,291.5 207.2,289.5 205.5,285.5 200.5,285.1 138.6,285.5 137,288.5ZM437,295.5 437.8,293.5 440.5,291.5 450.5,287.7 454.5,286.8 457.5,287.4 473.5,295.6 477.5,295.4 489.5,291.7 494.5,291 499.5,292 509.5,296 514.5,296.8 545.5,296 566.5,296.9 580.5,298.9 593.5,302.5 598.5,305.6 599.7,307.5 600,310.5 598.5,313.8 595.5,316.1 569.5,318.4 552.5,317.7 506.5,312.6 484.5,314 474.5,313.8 458.5,310.9 451.5,308.9 446.5,306.8 442.5,304.3 439.5,301.5 437.6,298.5ZM498,302.5 496.7,300.5 494.5,299.2 490.5,297.9 486.5,297.5 481.5,297.9 476.5,299.1 473.2,300.5 471.7,302.5 472.8,304.5 475.5,305.9 479.5,306.9 484.5,307.3 489.5,306.9 494.5,305.7 496.8,304.5ZM558.4,308.5 559,309.5 561.5,310.9 569.5,312.1 576.5,311.1 579.2,309.5 579.4,308.5 578.6,307.5 576.5,306.4 568.5,305.2 564.4,305.5 560.5,306.5 558.8,307.5ZM445.2,295.5 446.5,297.5 448.5,298.7 455.5,300.2 463.5,299.3 466.5,297.8 467.3,296.5 466.4,294.5 463.5,292.7 458.5,291.1 454.5,290.5 450.5,291 447.5,292.3 445.9,293.5ZM118.7,309.5 121.7,306.5 124.5,301.7 126.5,300.5 129.5,299.6 133.5,299.6 136.9,300.5 138.1,302.5 138.5,306.1 145.5,303.9 152.5,304.6 154.5,302.3 157.5,301 161.5,301.6 162.8,302.5 163.7,304.5 162.6,306.5 158.5,307.9 153.5,307.2 153.4,308.5 159,314.5 181.3,333.5 183.9,337.5 189.5,340.1 195.5,344.1 203.6,351.5 205.1,353.5 205.2,354.5 204.1,357.5 202.5,359.5 200.5,360.1 198,358.5 196.1,354.5 194.5,353.2 191.5,352.8 186.5,353.8 182.9,352.5 181.1,350.5 180.6,348.5 180.5,345.5 182.2,342.5 181.9,340.5 180.5,339.7 178.5,339.5 175.5,340.6 173.5,340.5 167.5,336.1 164.7,332.5 164.8,331.5 167.3,328.5 166.7,326.5 164.5,325.6 160.5,326.4 158,325.5 154.8,321.5 154.1,316.5 150.5,314.5 147.5,311.9 145.5,311.2 142.5,312.1 141,313.5 140.3,316.5 139.5,317.5 138.5,317.6 136.5,317.2 134.7,315.5 134.7,314.5 137.4,309.5 137.9,307.5 137.5,306.5 132.5,306.7 129.5,307.6 127.8,309.5 128.5,313.5 128.2,314.5 125.5,315.5 122.5,315.6 119.9,314.5 118.6,312.5ZM138.5,309.5 136.9,313.5 137.5,314.8 138.5,315.2 139.5,314.9 141.5,312.5 143.5,311.3 146.5,311.1 154.4,316.5 155.5,321.2 158.5,324.9 160.5,325.9 164.5,325.3 167.1,326.5 167.7,328.5 165.5,331.5 166.1,333.5 173.5,339.7 175.5,340.1 179.5,339.3 181.5,339.8 182.3,340.5 182.5,342.5 181.3,345.5 183.2,349.5 185,351.5 187.5,352.5 194.5,352.9 196.4,354.5 198.5,358 200.5,359.1 201.5,359 203.2,357.5 204.5,354.5 203.5,352.2 194.9,344.5 183.5,337.6 180.5,333.5 149.5,306.7 147.5,305.7 144.5,305.8 141.5,306.9ZM155.8,304.5 156.5,306 158.5,306.6 160.5,306 161.5,304.5 160.5,303.1 158.5,302.7 156.5,303.4ZM135.1,302.5 133.5,301.3 131.5,300.9 128.5,301.5 125.5,303.1 121.3,308.5 120.9,310.5 121.5,312.1 123.5,313.4 126.5,313 127.4,309.5 128.5,308 130.5,306.9 135.1,305.5 135.6,304.5ZM222.9,301.5 225.5,301 229.5,302.3 243.1,309.5 255,318.5 257.6,321.5 258,322.5 257.6,323.5 255.5,323.5 249.9,321.5 237.5,314.6 226.6,306.5 223.7,303.5ZM451.5,321 456.5,320.3 460.5,321.4 464.5,324.2 467.6,328.5 469.1,333.5 468.7,338.5 466.8,342.5 463.5,345.3 459.5,346.4 455.5,346 455,345.5 453.9,341.5 453,340.5 450.5,339.1 445.5,337.9 443.8,336.5 443.3,332.5 444.6,327.5 447.5,323.5ZM450.5,326.3 448.5,328.2 447.2,330.5 446.7,333.5 447.2,336.5 453.5,340.2 456.5,343.6 457.5,344 459.5,343.9 462.5,342.4 464.9,339.5 465.8,336.5 465.4,332.5 464,329.5 461.5,326.9 457.5,325 453.5,325ZM599.5,329.5 601.9,335.5 603.3,343.5 603.7,356.5 601.8,371.5 602.5,373.5 606.9,378.5 606.9,379.5 605,381.5 600.5,383.7 596.5,384.3 584.5,382.5 546.5,383.2 536.1,386.5 525.5,393.3 521.5,395.3 518.5,396 515.5,396 513.5,395.4 511.5,393.5 510.8,391.5 511.1,389.5 515.4,384.5 517.8,379.5 521.5,377.1 527.5,375.3 537.5,374 550.5,375.4 582.5,375.9 587.5,375.3 591.2,373.5 592.1,372.5 592.6,370.5 590.8,354.5 590.9,346.5 591.9,338.5 593.5,332.5 595.5,328.7 597.5,327.8ZM541.3,380.5 539.5,378.9 535.5,377.7 530.5,377.8 525.5,379.1 523.1,380.5 519.6,385.5 513.3,388.5 512.4,389.5 512.1,391.5 513.5,393.3 515.5,394.2 520.5,393.8 522.7,392.5 525.5,389.3 529.6,386.5 539.5,383.3 541.4,381.5ZM238.9,340.5 239.6,339.5 241.5,338.7 245.5,338.1 249.5,338.6 251.7,339.5 252.4,340.5 251.9,341.5 249.8,342.5 245.5,343 241.5,342.5 239.4,341.5ZM352.7,342.5 352.8,341.5 354.5,340.1 363.5,338.5 373.5,337.8 376.4,338.5 377,339.5 376.9,341.5 375.5,343.4 366.5,345.6 354.5,345.4 353.3,344.5ZM376.2,339.5 375.6,338.5 373.5,338 362.5,338.9 354.5,340.6 353.6,341.5 353.4,343.5 354.1,344.5 355.5,345.1 367.5,345.1 374.5,343.3 376.2,341.5ZM266.3,342.5 267.1,341.5 269.2,340.5 274.5,339.3 280.5,339 287.5,339.6 294.5,341 298.5,342.4 300.9,344.5 301.5,347.5 300.5,349.5 299.2,350.5 294.5,351.2 291.5,350.3 288.5,346.8 287.5,346.3 272.5,345.7 268.3,344.5 266.7,343.5ZM275,342.5 275.9,343.5 280.5,344 284.9,343.5 285.8,342.5 282.8,341.5 277.5,341.6ZM292.4,346.5 292.6,348.5 293.5,349.5 295.5,350.1 298.1,349.5 299.4,347.5 298.5,345.7 296.5,344.7 293.5,345ZM441.5,346.5 441.1,348.5 438.5,350.2 414.5,353.8 397.5,354.8 389.5,352.4 387.7,351.5 387.4,350.5 390.5,348 396.5,346.7 420.5,346.2 438.5,343.8 440.5,344.3ZM441,346.5 440.5,345.3 438.5,344.6 420.5,346.8 396.5,347.3 390.5,348.6 388.5,350.5 389.5,351.9 396.5,354.3 407.5,353.9 420.5,352.8 438.5,349.8 440.5,348.5ZM238.5,351.9 241,353.5 241.6,355.5 235.5,361.3 233.5,361.7 230.5,361 227.2,358.5 226.8,357.5 227.1,355.5 229.8,352.5 234.5,351.2ZM229.8,353.5 228.4,355.5 228.4,357.5 230.1,359.5 232.5,360.5 234.5,360.6 236.5,359.8 239,357.5 240.4,355.5 239.4,353.5 236.5,352.2 232.5,352.2ZM372.6,354.5 374.5,352.9 378.5,352.3 381.5,353 383.2,354.5 383.5,355.5 383.2,356.5 381.5,357.8 377.5,358.3 373.4,356.5 372.5,355.5ZM372.9,355.5 375.5,357.5 378.5,358.1 381.5,357.4 383,355.5 381.4,353.5 377.5,352.6 374.2,353.5 373.1,354.5ZM244.5,356.1 248.5,353 250.5,352.7 252.5,353.5 257.5,358.5 265.5,364.2 267.5,367.1 270.5,366.9 273.5,368 275.5,369.5 280,374.5 280,376.5 278.5,378.8 276.5,379.4 271.5,377.1 269.2,375.5 266.5,370.1 264.5,371.7 262.5,372.1 252.5,370.6 249.5,370.8 247.5,370.1 245.5,368 244.4,365.5 244,357.5ZM244.7,357.5 245.4,364.5 246.5,366.5 248.5,368.3 255.5,370.1 262.5,371.1 264.5,370.6 265.4,369.5 266,367.5 265.4,365.5 252.5,355.2 250.5,354.5 248.5,354.7ZM268,368.5 268.2,371.5 268.9,373.5 270.5,375.5 275.5,378.3 277.5,378.4 278.7,377.5 279.5,375.5 279.3,374.5 274.5,369.4 270.5,367.8ZM215.9,358.5 218.5,356.1 221.5,355.7 225,357.5 225.4,359.5 223.5,362.6 221.5,363.4 219.5,363.4 216.4,361.5 215.8,360.5ZM219.5,356.6 217.3,358.5 217.4,360.5 219.5,362.2 222.5,362 223.9,360.5 224.1,358.5 222.5,356.8ZM359.5,359.5 362.5,359.1 363.6,359.5 363.8,360.5 362.5,361.1 360.5,361 359.5,360.5ZM441.7,373.5 441.3,375.5 439.2,378.5 429.5,385.8 414.5,395 400.6,401.5 391.5,403.9 381.5,404.6 357.5,404.3 333.5,402.3 332.5,402.5 333.3,404.5 339.4,410.5 339.4,411.5 338.5,412.1 333.5,411.3 325.5,411.9 323.5,411.6 322.7,410.5 322.5,408.5 322.9,407.5 327,403.5 327.6,402.5 326.5,401.8 310.5,401.3 300.8,399.5 298.9,398.5 298.3,397.5 298.5,395.8 300.5,393.8 304.1,392.5 303.5,391.7 295.5,392.1 290.5,391.8 282,389.5 280.5,387.5 280.9,385.5 282.5,383.8 287.5,381.7 294.5,381.8 305.5,384.3 316.5,383.9 325.6,381.5 358.5,377.3 360.9,376.5 366.6,371.5 370.5,369.3 385.5,366.8 432.5,366 435.5,366.7 438.8,368.5 440.7,370.5ZM435.7,372.5 435.4,371.5 433.5,370 427.5,369.1 387.5,370 374.7,371.5 371.5,372.2 369.5,373.2 365.6,377.5 363.5,378.7 359.5,379.6 342.5,381.2 336.9,382.5 323.9,387.5 316.1,391.5 300.5,395 298.9,396.5 298.8,397.5 299.4,398.5 301.8,399.5 313.5,401.1 330.5,401.4 340.5,401.1 344.5,400.2 366.5,401.7 382.5,401.7 389.5,401.1 394.5,399.8 399.7,397.5 418.7,386.5 433.4,376.5 435.2,374.5ZM282.3,387.5 282.7,388.5 284.5,389.8 288.5,391.1 292.5,391.6 297.5,391 305.5,388.2 312.5,389.8 315.5,389.2 316.4,388.5 316.3,387.5 315.2,386.5 313.5,385.8 310.5,385.6 305.5,386.5 299.5,384.1 290.5,382.3 286.5,382.9 284.5,383.9 282.8,385.5ZM322.9,408.5 323,410.5 324.5,411.7 333.5,411.1 337.5,411.9 338.8,411.5 338.5,410.2 333.5,405.6 330.5,401.8 329.5,401.7ZM493.3,401.5 493.8,400.5 495.5,399.9 496.9,400.5 497.4,401.5 497.2,402.5 495.5,403.5 493.5,402.5ZM493.6,401.5 494,402.5 495.5,403.1 496.6,402.5 497,401.5 495.5,400.2 494.3,400.5ZM356.5,412.6 358.5,413 358.7,414.5 357.5,415 355.9,414.5 355.7,413.5ZM356.1,413.5 356.5,414.6 358.4,414.5 358.5,413.5 357.5,412.8ZM377.5,416.2 378.5,416.6 380.9,420.5 380.8,426.5 379.5,427.4 373.5,427.2 372.8,425.5 374.4,419.5ZM377.5,416.3 375.1,418.5 372.9,425.5 373.5,426.9 374.5,427.3 379.5,427.3 380.5,426.8 381,425.5 380.9,420.5 378.5,416.8ZM418.5,419.9 420.5,420.5 422.2,422.5 422.6,425.5 421.5,427.4 416.5,427.5 414.9,426.5 414.9,424.5 416.1,421.5ZM418.5,419.9 416.2,421.5 415.1,424.5 415.2,426.5 416.5,427.3 421.5,427.2 422.5,425.5 422.1,422.5 420.4,420.5Z"/>
<path fill="#10dc78" stroke="#10dc78" stroke-width="0.4" fill-rule="evenodd" d="M83.5,138 89.5,138.4 97.5,137.6 103.5,138.6 110.5,137.6 117.5,138.7 124.5,137.6 128.5,138.2 130.5,139 134.5,137.8 137.5,137.6 141.5,138 144.5,139.3 147.5,138 151.5,137.6 155.5,138.1 158.5,139.9 160.5,138.3 165.5,137.7 169.5,138.2 171.5,139.7 172.5,139.9 174.5,138.2 178.5,137.7 183.5,138.3 185.5,140 188.5,138.2 192.5,137.7 197.5,138.4 199.5,140 201.5,138.4 206.5,137.7 210.5,138.2 213.5,140 215.5,138.3 219.5,137.7 224.5,138.2 226.5,139.8 227.5,139.8 229.5,138.2 233.5,137.7 238.5,138.3 240.5,140 243.5,138.2 247.5,137.7 251.5,138.1 254.5,140 256.5,138.4 261.5,137.7 265.5,138.2 268.5,140 270.5,138.3 274.5,137.7 279.5,138.3 281.5,139.9 284.5,138.2 288.5,137.7 293.5,138.4 295.5,140 298.5,138.1 302.5,137.7 306.5,138.1 309.5,140 311.5,138.4 315.5,137.7 320.5,138.2 323.5,139.9 325.5,138.3 330.5,137.7 334.5,138.3 336.5,140 339.5,138.2 343.5,137.7 348.5,138.4 350.5,140 353.5,138.1 357.5,137.6 361.5,138.1 364.5,139.6 367.5,138 371.5,137.7 374.5,137.9 377.5,139.1 381.5,137.9 387.5,137.8 391.5,138.9 398.5,137.6 405.5,138.6 411.5,137.6 419.5,138.6 424.5,137.7 432.5,138.6 440.5,137.6 446.5,138.6 453.5,137.6 456.5,137.8 460.5,139 463.5,138 467.5,137.6 471.5,138.1 474.5,139.3 477.5,137.9 481.5,137.7 485.5,138.2 487.5,139.9 490.5,138.2 494.5,137.7 499.5,138.4 501.5,140 504.5,138.1 508.5,137.7 512.5,138.2 515.5,140 517.5,138.3 521.5,137.7 526.5,138.2 528.5,139.8 529.5,139.8 531.5,138.2 535.5,137.7 540.5,138.3 542.5,140 545.5,138.2 549.5,137.7 554.5,138.4 556.5,140 558.5,138.4 563.5,137.7 567.5,138.2 570.5,140 572.5,138.3 576.5,137.7 581.5,138.2 583.5,139.8 584.5,139.8 586.5,138.2 590.5,137.7 595.5,138.3 597.5,140 600.5,138.2 604.5,137.7 608.5,138.1 611.5,140 613.5,138.4 618.5,137.7 622.5,138.2 625.5,139.9 627.5,138.3 631.5,137.7 636.5,138.3 638.5,139.9 641.5,138.2 645.5,137.7 650.5,138.4 652.5,140 655.5,138.1 659.5,137.7 663.5,138.1 666.5,140 668.5,138.4 673.5,137.7 677.5,138.2 680.5,139.6 682.5,138.2 686.5,137.7 690.5,138 693.5,139.4 696.5,138.1 700.5,137.6 704.5,138 707.5,139.2 710.5,138 714.5,137.6 717.5,137.8 721.5,139 725.5,137.8 730.5,137.7 734.5,138.6 742.5,137.6 734.5,138.8 730.5,137.9 725.5,138 721.5,139.1 717.5,138 713.5,137.9 709.5,138.4 707.5,139.3 704.5,138.2 700.5,137.9 696.5,138.2 693.5,139.6 691.5,138.3 686.5,137.9 682.5,138.3 680.5,139.8 677.5,138.3 673.5,137.9 668.5,138.5 666.5,140.1 663.5,138.3 659.5,137.9 655.5,138.3 652.5,140.1 650.5,138.5 645.5,137.9 641.5,138.4 638.5,140 636.5,138.4 632.5,137.9 627.5,138.4 625.5,140 622.5,138.4 617.5,137.9 613.5,138.5 611.5,140.1 608.5,138.3 604.5,137.9 600.5,138.3 597.5,140.1 595.5,138.5 590.5,137.9 586.5,138.4 584.5,139.9 583.5,140 581.5,138.4 577.5,137.9 572.5,138.4 570.5,140.1 567.5,138.3 563.5,137.9 558.7,138.5 556.5,140.1 554.3,138.5 549.5,137.9 545.5,138.3 542.5,140.1 540.5,138.4 536.5,137.9 531.5,138.4 529.5,140 528.5,139.9 526.5,138.4 521.5,137.9 517.5,138.5 515.5,140.1 512.5,138.3 508.5,137.9 504.5,138.3 501.5,140.1 499.5,138.5 494.5,137.9 490.5,138.4 487.5,140 485.5,138.4 481.5,137.9 476.5,138.3 474.5,139.4 471.5,138.2 467.5,137.9 463.5,138.1 460.5,139.1 458.5,138.4 453.5,137.8 446.5,138.8 440.5,137.9 432.5,138.7 424.5,137.9 419.5,138.8 411.5,137.9 405.5,138.8 398.5,137.8 391.5,139 389.5,138.3 384.5,137.9 380.5,138.3 377.5,139.2 375.5,138.3 371.5,137.9 366.5,138.4 364.5,139.7 361.5,138.3 357.5,137.9 352.7,138.5 350.5,140.1 348.5,138.5 343.5,137.9 339.5,138.3 336.5,140.1 334.5,138.4 330.5,137.9 325.5,138.4 323.5,140 320.5,138.4 315.5,137.9 311.5,138.5 309.5,140.1 306.5,138.3 302.5,137.9 298.5,138.3 295.5,140.1 293.5,138.5 288.5,137.9 284.5,138.4 281.5,140 279.5,138.4 274.5,137.9 270.5,138.4 268.5,140.1 265.5,138.3 261.5,137.9 256.5,138.5 254.5,140.1 252.2,138.5 247.5,137.9 243.5,138.3 240.5,140.1 238.5,138.4 233.5,137.9 229.5,138.4 227.5,139.9 226.5,139.9 224.5,138.4 220.5,137.9 215.5,138.4 213.5,140.1 210.5,138.3 206.5,137.9 201.8,138.5 199.5,140.1 197.5,138.6 192.5,137.9 188.5,138.3 185.5,140.1 183.5,138.4 179.5,137.9 174.5,138.4 172.5,140 171.5,139.9 169.5,138.4 165.5,137.9 160.5,138.4 158.5,140 155.5,138.3 151.5,137.9 147.5,138.2 144.5,139.4 141.5,138.1 137.5,137.9 130.5,139.1 128.5,138.3 124.5,137.9 117.5,138.9 110.5,137.8 103.5,138.7 97.5,137.9 89.5,138.5ZM83.5,143.3 742.5,143.3 742.5,143.7 83.5,143.7ZM83.5,175.2 742.5,175.2 742.5,189.8 656.5,189.8 645.6,190.5 645.2,191.5 645.6,193.5 651.5,193.8 742.5,194 742.5,195 639.5,194.9 632.5,195.5 627.5,196.8 620.5,197.2 563.5,197.2 562.3,197.5 560.5,199.2 558.5,199.8 519.5,203.5 518,205.5 516.5,206.4 505.5,209.8 501.8,212.5 497.5,217.6 495.5,218.4 491.5,215.9 487.5,211.5 486.5,211.2 483.4,213.5 480.5,214.2 476.5,216.2 473.5,216.4 469.5,214.9 466.5,214.8 463.5,215.6 461.5,214.8 458.5,210 455.5,206.7 454.5,206.4 448.5,211.8 447.5,212.2 441.5,208.3 440.5,208.1 437.7,209.5 435.5,212.7 419.5,213 417.5,217 410.5,217.3 408.5,216.9 398.5,210.4 395.5,210.7 393.5,210.3 391.8,208.5 391.7,206.5 399.5,201 410.5,197.9 429.5,196 441.5,196 452.5,197.1 468.5,199.7 482.5,200.7 494.5,199.1 529.9,196.5 537.4,195.5 539.9,194.5 540.7,192.5 540.3,191.5 536.5,190.6 524.5,190 399.5,190 388.5,191.1 387.2,191.5 386.7,193.5 383.8,194.5 380.5,194.8 83.5,194.8 83.5,191.3 121.5,191.3 129.1,190.5 127.6,189.5 122.5,189.1 83.5,189.1ZM300.2,182.5 300.2,185.5 301.1,186.5 311.5,187.2 435.5,187.2 447.4,186.5 448.2,185.5 448.2,182.5 443.2,181.5 313.5,181.2 305.3,181.5ZM540.2,181.5 540.2,182.5 543.5,183.3 552.5,183.8 612.1,183.5 616.2,182.5 616.2,181.5 613.5,180.8 604.5,180.2 544.4,180.5ZM631.3,193.5 625.5,192.6 613.5,192.1 558.5,192.5 530.5,196.9 494.5,199.5 480.5,201.1 465.5,199.6 442.5,196.4 429.5,196.4 411.5,198 402.5,200.2 395.5,204.2 393.1,206.5 393,207.5 394.5,209.5 398.5,209.8 407.5,216.1 410.5,217.1 416.5,217 418.3,215.5 418.5,213.5 419.5,212.5 424.5,212.3 425.5,211.8 428.5,212.4 435.5,212.4 437.6,209.5 440.5,208.1 441.5,208.2 447.5,212.1 448.5,211.7 454.5,206.3 455.5,206.6 458.5,209.9 461.5,214.5 463.5,215.4 469.5,214.8 473.5,216.2 476.5,216 483.5,212.7 486.5,210.6 487.5,211.1 491.3,215.5 495.5,218.3 497.3,217.5 501.5,212.6 506.5,209.2 516.5,206.2 519.5,203 557.5,199.4 560.3,198.5 562.5,196.1 573.5,196.6 615.5,196.5 622.5,195.8ZM381.6,206.5 384.5,205.1 387.3,205.5 389.2,206.5 389.2,209.5 387.5,211.3 384.5,211.9 382.5,210.6 381.8,209.5ZM382.9,206.5 382.4,207.5 382.7,209.5 384.5,211 386.5,210.9 388,209.5 388.2,207.5 386.5,205.7 384.5,205.6ZM479.5,204.9 482.3,205.5 483.7,207.5 483.2,210.5 481.5,212.1 479.5,211.8 476.7,209.5 477.3,206.5ZM480.5,205.1 478.5,205.7 477.1,208.5 477.9,210.5 480.5,211.6 482.5,210.6 483.4,208.5 482.8,206.5ZM328.5,212.5 328.6,211.5 333.4,209.5 336.5,207.5 340.6,206.5 346.5,206.2 362,206.5 366.5,207.2 368.5,208 369.2,209.5 373.8,211.5 372.7,212.5 369.5,213.3 360.4,214.5 350.5,217 345.5,217.5 333.8,216.5 333.3,214.5ZM332.5,212.5 336.5,213.7 348.5,214.8 358.6,213.5 361.9,212.5 362,211.5 351.5,210.3 344.5,210.1 335.5,210.8 332.9,211.5ZM425.5,209.5 426.5,209.8 426.9,210.5 426.5,211.3 425.5,211.4 424.8,210.5ZM425.5,209.7 425,210.5 425.5,211.2 426.5,211 426.5,210ZM384.5,215 385.5,215.2 386.8,217.5 386.5,218.8 385.5,219.8 384.5,219.9 383.1,218.5 383.1,216.5ZM384.5,215.7 383.5,216.5 383.5,218.5 384.5,219.5 385.5,219.3 386.4,217.5 385.5,215.9ZM533.1,217.5 534.5,215.8 537.5,215.3 611.5,216.5 613.9,217.5 611.5,218.3 600.7,219.5 593.5,221.1 572.3,222.5 556.5,224.8 551.5,226.8 545.5,230.5 543.5,229.8 538.5,225.4 534,219.5ZM533.8,217.5 534.6,219.5 538.5,224.6 543.5,228.8 545.5,229.5 551.5,225 555.5,223.7 592.3,220.5 609.2,217.5 604,216.5 537.5,215.7 534.5,216.3ZM705.7,219.5 708.2,218.5 710.5,218.6 734.5,225.1 742.5,226.4 742.5,230.9 734.5,229.1 730.5,228.8 718.9,225.5 707.5,221.8 706,220.5ZM708.6,220.5 729.9,227.5 732.4,227.5 732.5,226.5 730.9,225.5 717.6,221.5 709.5,219.6ZM298,226.5 303.5,225.4 328.5,225.3 342.5,224.7 345.5,225.2 346.8,226.5 345.5,228.6 341.5,230.9 336.5,232.3 330.5,232.8 303.5,231.6 300.5,230.3 298.5,227.9ZM658.5,225.6 659.5,225.4 661,226.5 661.1,227.5 660.5,228.6 659.5,229.1 657.9,228.5 657.3,227.5 657.5,226.5ZM658.5,225.9 657.6,227.5 658.5,228.6 659.5,228.8 660.8,227.5 660.6,226.5 659.5,225.8ZM460.5,228.3 462.5,228.8 463.2,230.5 462.6,232.5 461.5,233.3 460.5,233.2 459.1,231.5 459.3,229.5ZM461.5,228.9 460.5,229 459.6,230.5 460.5,232.5 461.5,232.6 462.5,231.7 462.7,230.5ZM692,234.5 693.5,232.6 698.5,232.3 700.2,233.5 702.5,236.7 708.5,236.5 715.5,237.9 729.5,243.1 732.2,245.5 732.1,247.5 731.1,248.5 729.5,249 715.5,249.1 706.5,246.8 703.5,245.5 699.5,241.2 695.5,242.2 692.5,240.7 691.9,239.5ZM692.2,234.5 692.4,239.5 693.3,240.5 696.5,241.4 700.5,239 701,241.5 702.3,243.5 705.5,245.9 713.5,248.2 729.5,248.4 731.3,247.5 731.6,246.5 731.4,245.5 729.5,243.8 714.5,238.1 707.5,236.7 701.5,238.5 700.9,235.5 698.5,232.8 693.5,232.8ZM96.5,236.4 98.5,236 101.5,236.6 104.3,238.5 105.6,240.5 106,242.5 105.5,246.5 107.2,250.5 106.5,255.4 109.5,258.4 110.7,261.5 110.1,264.5 108.5,266.1 106.5,266.3 104.5,265.4 102.9,263.5 101.5,259.9 99.5,259.3 95.5,260 88.5,263.9 85.5,264.1 83.5,263.4 83.5,262.4 85.5,263.4 88.5,263.4 96.5,259.3 102.5,258.5 103.1,259.5 103,262.5 104.5,264.7 107.5,265.2 109.1,263.5 109.2,261.5 108.5,260 107.5,259.1 103.5,257.5 103.9,251.5 102.5,245.5 103.1,240.5 101.6,238.5 99.5,237.7 97.5,237.8 95.5,239.5 96.4,245.5 94.1,254.5 92.5,255.5 86.5,256.5 83.5,257.8 83.5,257.2 85.4,256.5 91.5,255.4 93.5,254.5 94.4,252.5 95.3,245.5 93.6,239.5 94.6,237.5ZM308.5,239 309.7,240.5 310.3,243.5 309.9,246.5 308.5,248.5 307.5,248.1 306.6,246.5 306.1,243.5 306.8,240.5 307.5,239.3ZM308.5,242 307.5,242.6 307.2,244.5 307.5,246.2 308.5,246.9 309.3,244.5ZM453.5,240.9 455.5,241.6 457,243.5 458.1,246.5 458.4,249.5 458.1,251.5 457.2,253.5 455.5,254.7 453.5,255.1 451.5,254.5 450.3,253.5 449.3,251.5 449,248.5 450.5,243 451.5,241.8ZM452.5,242.9 451.1,244.5 450,249.5 450.8,252.5 451.7,253.5 453.5,254.2 455.5,253.7 456.5,252.8 457.4,249.5 456.3,244.5 454.5,242.7ZM127.6,247.5 130.5,247.5 128.5,248ZM108.9,250.5 110.3,248.5 112.5,248.1 114.5,249.4 114.7,250.5 114.2,251.5 112.5,252.4 110.5,252.1ZM530,263.5 530.5,263 533.5,262.9 534.3,263.5 534.5,265.5 533.5,266.2 530.5,266.1 529.6,265.5ZM479.6,265.5 481.5,265.2 481.9,266.5 480.5,266.9 479.7,266.5ZM525.3,268.5 526.5,268.5 525.5,268.9ZM111.3,271.5 111.5,272.5 110.8,273.5 107.5,275.1 104.5,274.6 103.2,273.5 102.8,272.5 104.2,270.5 106.5,269.6 109.5,269.9ZM103.3,272.5 104.5,274.1 106.5,274.7 108.5,274.2 110.4,272.5 109.5,271 106.5,270.1 104.5,270.8ZM529.6,279.5 528.5,279.5 521.5,274.9 518.5,274.8 502.5,285.6 500.5,286.1 500.4,285.5 516.5,273.9 516.9,272.5 516,270.5 516.5,270.1 520.5,270.7 524.5,269.1 525.1,269.5 522.9,271.5 522.7,273.5ZM518.3,272.5 519.5,273.7 520.6,273.5 521.1,272.5 519.5,271.7ZM490.2,273.5 491.5,273.1 493.1,273.5 493.2,275.5 490.4,275.5 489.9,274.5ZM380.8,278.5 381.5,277.8 383.5,277.6 386.5,278.2 392.5,281.6 400.5,279.8 402.5,279.9 403.5,281.1 403.8,282.5 401.9,290.5 392.5,291.1 382.5,290.5 381.9,284.5 380.7,281.5ZM381.5,278.7 381.4,281.5 383.1,285.5 390.5,289.8 393.5,290.1 396.5,289.2 401.5,287 402.8,284.5 403,281.5 401.5,280.4 392.5,282.2 386.6,278.5 383.5,277.9ZM496.3,278.5 497.5,278.4 500,280.5 499.5,281.2 498.5,280.7ZM87.3,289.5 87.8,287.5 90.5,285.4 97.5,284 105.5,283.5 109.6,284.5 115,287.5 124.1,289.5 129.5,291.5 128.6,292.5 120.5,294.7 99.5,296.9 94.5,296.1 90.7,294.5 88.4,292.5ZM89.3,289.5 89.8,291.5 92.5,294 95.5,295.2 99.5,295.9 104.5,295.7 118.5,293.7 122,292.5 122.4,291.5 121.1,290.5 113.5,288.4 107.5,284.9 103.5,284.1 97.5,284.5 92.9,285.5 89.9,287.5ZM134.1,291.5 137,288.5 138.6,285.5 200.5,285.1 205.5,285.5 207.2,289.5 207.5,291.5 206.8,292.5 200.5,293 141.5,292.9 135.1,292.5ZM170.1,290.5 170.4,291.5 173.5,291.9 197.5,292 202.5,291.5 202.7,290.5 201.2,289.5 173.5,289.4ZM445.2,295.5 445.9,293.5 447.5,292.3 450.5,291 454.5,290.5 458.5,291.1 463.5,292.7 466.4,294.5 467.3,296.5 466.5,297.8 463.5,299.3 455.5,300.2 448.5,298.7 446.5,297.5ZM449.3,295.5 450,296.5 451.9,297.5 456.5,298.3 461.9,297.5 463.6,296.5 463.9,295.5 463.3,294.5 461.5,293.4 455.5,292.3 450.6,293.5 449.5,294.5ZM498,302.5 496.8,304.5 494.5,305.7 489.5,306.9 484.5,307.3 479.5,306.9 475.5,305.9 472.8,304.5 471.7,302.5 473.2,300.5 476.5,299.1 481.5,297.9 486.5,297.5 490.5,297.9 494.5,299.2 496.7,300.5ZM478.2,302.5 478.7,303.5 480.5,304.4 485.5,305 489.5,304.5 491.6,303.5 492.2,302.5 491.6,301.5 489.5,300.5 485.5,300 481.2,300.5 478.9,301.5ZM135.1,302.5 135.6,304.5 135.1,305.5 130.5,306.9 128.5,308 127.4,309.5 126.5,313 123.5,313.4 121.5,312.1 120.9,310.5 121.3,308.5 125.5,303.1 128.5,301.5 131.5,300.9 133.5,301.3ZM133.6,303.5 132.5,302.6 130.5,302.3 126.5,303.7 123.1,307.5 122.6,310.5 123.5,311.6 125.5,311.8 128.5,307.6 133.3,305.5 133.9,304.5ZM381.3,304.5 382.5,301.9 387.5,300.8 392.5,303 393.8,304.5 393.6,305.5 392.6,306.5 387.5,308.8 382.5,307.6ZM382.8,304.5 382.9,305.5 384.1,306.5 387.5,307.2 389.4,306.5 390.9,304.5 388.5,302.3 384.5,302.8ZM155.8,304.5 156.5,303.4 158.5,302.7 160.5,303.1 161.5,304.5 160.5,306 158.5,306.6 156.5,306ZM558.4,308.5 558.8,307.5 560.5,306.5 564.4,305.5 568.5,305.2 576.5,306.4 578.6,307.5 579.4,308.5 579.2,309.5 576.5,311.1 569.5,312.1 561.5,310.9 559,309.5ZM138.5,309.5 141.5,306.9 144.5,305.8 147.5,305.7 149.5,306.7 180.5,333.5 183.5,337.6 194.9,344.5 203.5,352.2 204.5,354.5 203.2,357.5 201.5,359 200.5,359.1 198.5,358 196.4,354.5 194.5,352.9 187.5,352.5 185,351.5 183.2,349.5 181.3,345.5 182.5,342.5 182.3,340.5 181.5,339.8 179.5,339.3 175.5,340.1 173.5,339.7 166.1,333.5 165.5,331.5 167.7,328.5 167.1,326.5 164.5,325.3 160.5,325.9 158.5,324.9 155.5,321.2 154.4,316.5 146.5,311.1 143.5,311.3 141.5,312.5 139.5,314.9 138.5,315.2 137.5,314.8 136.9,313.5ZM139.7,309.5 138.5,311.5 138.5,312.8 139.5,313.3 143.5,311 146.5,310.8 154.5,316 155.7,320.5 159.5,325 161.5,325.5 165.5,325.1 167.5,326.4 168.1,328.5 166,331.5 166.9,333.5 174.5,339.6 179.5,339.2 181.5,339.4 182.5,340.1 183.1,341.5 182,345.5 185.6,350.5 188.5,351.9 193.5,352.3 195.5,353.1 199.5,358 201.5,358.3 202.5,357.5 203.9,354.5 203.1,352.5 194.5,344.9 188.1,340.5 183.5,338.1 180.5,334 152.5,310.1 146.5,306.8 142.5,307.5ZM386.5,321.8 387.5,321.9 388.5,323.3 389,326.5 388.5,329.5 386.5,331.3 385.5,331.1 385.2,330.5 385.1,325.5 385.5,323.1ZM386.5,324.3 386.5,327.3 387.4,326.5 387.5,325.5ZM450.5,326.3 453.5,325 457.5,325 461.5,326.9 464,329.5 465.4,332.5 465.8,336.5 464.9,339.5 462.5,342.4 459.5,343.9 457.5,344 456.5,343.6 453.5,340.2 447.2,336.5 446.7,333.5 447.2,330.5 448.5,328.2ZM452.5,327.7 450.5,329.2 449.1,331.5 448.7,334.5 449.3,336.5 456.5,341.7 458.5,342.1 460.5,341.4 462.5,339.6 463.5,337.5 463.8,334.5 462.9,331.5 461.4,329.5 458.5,327.5 455.5,326.9ZM376.2,339.5 376.2,341.5 374.5,343.3 367.5,345.1 355.5,345.1 354.1,344.5 353.4,343.5 353.6,341.5 354.5,340.6 362.5,338.9 373.5,338 375.6,338.5ZM375.7,339.5 374.8,338.5 372.5,338.2 361.5,339.3 354.5,341.1 353.8,342.5 353.9,343.5 355.5,344.7 367.5,344.7 374.5,342.9 375.7,341.5ZM275,342.5 277.5,341.6 282.8,341.5 285.8,342.5 284.9,343.5 280.5,344 275.9,343.5ZM292.4,346.5 293.5,345 296.5,344.7 298.5,345.7 299.4,347.5 298.1,349.5 295.5,350.1 293.5,349.5 292.6,348.5ZM441,346.5 440.5,348.5 438.5,349.8 420.5,352.8 407.5,353.9 396.5,354.3 389.5,351.9 388.5,350.5 390.5,348.6 396.5,347.3 420.5,346.8 438.5,344.6 440.5,345.3ZM440.5,346.5 439.9,345.5 438.5,345 420.5,347.2 396.5,347.7 391.5,348.7 389.9,349.5 389.2,350.5 390.5,351.9 396.5,354 406.5,353.7 420.5,352.4 437.5,349.6 440,348.5ZM228.2,356.5 228.9,354.5 229.8,353.5 233.5,352 236.5,352.2 238.5,352.9 240.2,354.5 240.4,355.5 237.5,359 234.5,360.6 232.5,360.5 230.1,359.5 229,358.5ZM229.2,356.5 230.5,358.7 232.5,359.7 234.5,359.9 237.5,358.4 239.5,355.5 239.1,354.5 237.5,353.2 233.5,352.7 230.5,354ZM372.9,355.5 373.1,354.5 374.2,353.5 377.5,352.6 381.4,353.5 383,355.5 381.5,357.4 378.5,358.1 375.5,357.5ZM373.3,355.5 375.5,357.3 378.5,358 381.5,357.1 382.5,355.5 382.1,354.5 380.7,353.5 377.5,352.9 374.5,353.7 373.5,354.5ZM244.7,357.5 248.5,354.7 250.5,354.5 252.5,355.2 265.4,365.5 266,367.5 265.4,369.5 264.5,370.6 262.5,371.1 255.5,370.1 248.5,368.3 246.5,366.5 245.4,364.5ZM245.4,357.5 244.9,359.5 245.5,362.6 246.5,364.8 248.5,366.9 256.5,369.6 262.5,370.5 264.6,369.5 265.3,367.5 264.6,365.5 252.5,356.2 249.5,355.4ZM219.5,356.6 222.5,356.8 224.1,358.5 223.9,360.5 222.5,362 219.5,362.2 217.4,360.5 217.3,358.5ZM218.3,358.5 218.5,360.5 220.5,361.6 222.5,361 223.4,359.5 223.2,358.5 221.5,357.2 219.5,357.4ZM268,368.5 270.5,367.8 274.5,369.4 279.3,374.5 279.5,375.5 278.7,377.5 277.5,378.4 275.5,378.3 270.5,375.5 268.9,373.5 268.2,371.5ZM269.2,368.5 268.5,369.5 268.6,370.5 270.5,374.7 275.5,377.6 277.5,377.7 278.5,376.8 278.7,374.5 275.1,370.5 272.5,368.9ZM435.7,372.5 435.2,374.5 433.4,376.5 418.7,386.5 399.7,397.5 394.5,399.8 389.5,401.1 382.5,401.7 366.5,401.7 344.5,400.2 340.5,401.1 330.5,401.4 313.5,401.1 301.8,399.5 299.4,398.5 298.8,397.5 298.9,396.5 300.5,395 316.1,391.5 323.9,387.5 336.9,382.5 342.5,381.2 359.5,379.6 363.5,378.7 365.6,377.5 369.5,373.2 371.5,372.2 374.7,371.5 387.5,370 427.5,369.1 433.5,370 435.4,371.5ZM299.4,397.5 300.1,398.5 309.5,400.5 332.5,400.6 340.5,400.2 344.5,399 365.5,398.9 367.5,398.4 368.6,397.5 368.7,396.5 366.5,395.4 363.5,394.9 343.5,395 337.5,393.7 317.5,392.9 301.5,395.3 299.5,396.5ZM541.3,380.5 541.4,381.5 539.5,383.3 529.6,386.5 525.5,389.3 522.7,392.5 520.5,393.8 515.5,394.2 513.5,393.3 512.1,391.5 512.4,389.5 513.3,388.5 519.6,385.5 523.1,380.5 525.5,379.1 530.5,377.8 535.5,377.7 539.5,378.9ZM524.6,382.5 525.1,383.5 526.5,384.4 530.5,384.5 536.5,383.5 538.5,382.5 539.1,381.5 538.6,380.5 536.5,379.5 531.5,378.9 526.5,380.2 524.9,381.5ZM513,390.5 513.1,391.5 514.5,392.9 518.5,393.4 521.5,392.1 522.5,390.5 522.5,389.5 521.5,388.1 517.5,387.6 514.5,388.6ZM282.3,387.5 282.8,385.5 284.5,383.9 286.5,382.9 290.5,382.3 299.5,384.1 305.5,386.5 310.5,385.6 313.5,385.8 315.2,386.5 316.3,387.5 316.4,388.5 315.5,389.2 312.5,389.8 305.5,388.2 297.5,391 292.5,391.6 288.5,391.1 284.5,389.8 282.7,388.5ZM283.2,387.5 284.8,389.5 288.5,390.9 292.5,391.3 299.8,389.5 301.9,388.5 302.7,387.5 302.3,386.5 300.5,385.4 293.5,383.2 290.5,382.8 285.5,384.1 283.8,385.5ZM493.6,401.5 494.3,400.5 495.5,400.2 497,401.5 496.6,402.5 495.5,403.1 494,402.5ZM494.5,400.8 494,401.5 494.5,402.5 495.8,402.5 496.5,401.4 495.5,400.5ZM322.9,408.5 329.5,401.7 330.5,401.8 333.5,405.6 338.5,410.2 338.8,411.5 337.5,411.9 333.5,411.1 324.5,411.7 323,410.5ZM323.2,408.5 323.4,410.5 325.2,411.5 333.5,411 337.5,411.6 338.2,410.5 330.5,403 328.5,403.5ZM356.1,413.5 357.5,412.8 358.5,413.5 358.4,414.5 356.5,414.6ZM356.4,413.5 356.8,414.5 357.9,414.5 358,413.5ZM377.5,416.3 378.5,416.8 380.9,420.5 381,425.5 380.5,426.8 379.5,427.3 374.5,427.3 373.5,426.9 372.9,425.5 375.1,418.5ZM377.5,416.5 375.2,418.5 374,421.5 373.1,425.5 373.5,426.5 374.5,427.1 379.5,427.1 380.5,426.6 380.9,425.5 380.8,420.5 378.5,416.9ZM418.5,419.9 420.4,420.5 422.1,422.5 422.5,425.5 421.5,427.2 416.5,427.3 415.2,426.5 415.1,424.5 416.2,421.5ZM418.5,420 416.3,421.5 415.2,424.5 415.5,426.5 416.5,427.1 421.5,427 422.4,425.5 422.1,422.5 420.3,420.5Z"/>
<path fill="#30d810" stroke="#30d810" stroke-width="0.4" fill-rule="evenodd" d="M83.5,138.1 89.5,138.5 97.5,137.9 103.5,138.7 110.5,137.8 117.5,138.9 124.5,137.9 128.5,138.3 130.5,139.1 137.5,137.9 141.5,138.1 144.5,139.4 147.5,138.2 151.5,137.9 155.5,138.3 158.5,140 160.5,138.4 165.5,137.9 169.5,138.4 171.5,139.9 172.5,140 174.5,138.4 179.5,137.9 183.5,138.4 185.5,140.1 188.5,138.3 192.5,137.9 197.5,138.6 199.5,140.1 201.8,138.5 206.5,137.9 210.5,138.3 213.5,140.1 215.5,138.4 220.5,137.9 224.5,138.4 226.5,139.9 227.5,139.9 229.5,138.4 233.5,137.9 238.5,138.4 240.5,140.1 243.5,138.3 247.5,137.9 252.2,138.5 254.5,140.1 256.5,138.5 261.5,137.9 265.5,138.3 268.5,140.1 270.5,138.4 274.5,137.9 279.5,138.4 281.5,140 284.5,138.4 288.5,137.9 293.5,138.5 295.5,140.1 298.5,138.3 302.5,137.9 306.5,138.3 309.5,140.1 311.5,138.5 315.5,137.9 320.5,138.4 323.5,140 325.5,138.4 330.5,137.9 334.5,138.4 336.5,140.1 339.5,138.3 343.5,137.9 348.5,138.5 350.5,140.1 352.7,138.5 357.5,137.9 361.5,138.3 364.5,139.7 366.5,138.4 371.5,137.9 375.5,138.3 377.5,139.2 380.5,138.3 384.5,137.9 389.5,138.3 391.5,139 398.5,137.8 405.5,138.8 411.5,137.9 419.5,138.8 424.5,137.9 432.5,138.7 440.5,137.9 446.5,138.8 453.5,137.8 458.5,138.4 460.5,139.1 463.5,138.1 467.5,137.9 471.5,138.2 474.5,139.4 476.5,138.3 481.5,137.9 485.5,138.4 487.5,140 490.5,138.4 494.5,137.9 499.5,138.5 501.5,140.1 504.5,138.3 508.5,137.9 512.5,138.3 515.5,140.1 517.5,138.5 522.5,137.9 526.5,138.4 528.5,139.9 529.5,140 531.5,138.4 535.5,137.9 540.5,138.4 542.5,140.1 545.5,138.3 549.5,137.9 554.3,138.5 556.5,140.1 558.7,138.5 563.5,137.9 567.5,138.3 570.5,140.1 572.5,138.4 577.5,137.9 581.5,138.4 583.5,140 584.5,139.9 586.5,138.4 590.5,137.9 595.5,138.5 597.5,140.1 600.5,138.3 604.5,137.9 608.5,138.3 611.5,140.1 613.5,138.5 617.5,137.9 622.5,138.4 625.5,140 627.5,138.4 632.5,137.9 636.5,138.4 638.5,140 641.5,138.4 645.5,137.9 650.5,138.5 652.5,140.1 655.5,138.3 659.5,137.9 663.5,138.3 666.5,140.1 668.5,138.5 673.5,137.9 677.5,138.3 680.5,139.8 682.5,138.3 686.5,137.9 691.5,138.3 693.5,139.6 696.5,138.2 700.5,137.9 704.5,138.2 707.5,139.3 710.5,138.2 717.5,138 721.5,139.1 725.5,138 730.5,137.9 734.5,138.8 742.5,137.9 734.5,138.9 730.5,138.1 725.5,138.2 721.5,139.2 718.5,138.3 713.5,138.1 709.5,138.5 707.5,139.4 705.5,138.5 700.5,138.1 696.5,138.4 693.5,139.7 691.5,138.5 686.5,138.1 682.5,138.5 680.5,139.9 677.5,138.5 673.5,138.1 668.5,138.7 666.5,140.2 663.5,138.5 659.5,138.1 655.5,138.5 652.5,140.2 650.5,138.7 645.5,138.1 641.5,138.5 638.5,140.1 636.5,138.6 632.5,138.1 627.5,138.6 625.5,140.2 622.5,138.5 617.5,138.1 613.5,138.7 611.5,140.2 608.5,138.5 604.5,138.1 600.5,138.5 597.5,140.2 595.5,138.6 590.5,138.1 586.5,138.5 584.5,140 583.5,140.1 581.5,138.5 574.5,138.3 572.5,138.6 570.5,140.2 567.5,138.5 563.5,138.1 559.4,138.5 556.5,140.2 553.6,138.5 549.5,138.1 545.5,138.5 542.5,140.2 540.5,138.6 535.5,138.1 531.5,138.5 529.5,140.1 528.5,140 526.3,138.5 519.5,138.3 517.5,138.6 515.5,140.2 512.5,138.5 508.5,138.1 504.5,138.5 501.5,140.2 499.5,138.7 494.5,138.1 490.5,138.5 487.5,140.1 485.5,138.5 481.5,138.1 476.5,138.4 474.5,139.5 471.5,138.4 467.5,138.1 462.5,138.4 460.5,139.2 458.5,138.5 453.5,138.1 446.5,138.9 440.5,138.1 432.5,138.9 424.5,138.1 419.5,138.9 411.5,138.1 405.5,138.9 398.5,138.1 391.5,139.1 389.5,138.4 384.5,138.1 380.5,138.4 377.5,139.3 375.5,138.4 371.5,138.1 366.5,138.5 364.5,139.9 361.5,138.4 357.5,138.1 353.3,138.5 350.5,140.2 348.5,138.8 343.5,138.1 339.5,138.5 336.5,140.2 334.5,138.6 330.5,138.1 325.5,138.6 323.5,140.1 320.5,138.5 315.5,138.1 311.5,138.7 309.5,140.2 306.5,138.5 302.5,138.1 298.5,138.5 295.5,140.2 293.5,138.7 288.5,138.1 284.5,138.5 281.5,140.1 279.5,138.6 272.5,138.3 270.5,138.6 268.5,140.2 265.5,138.5 260.5,138.1 256.5,138.7 254.5,140.2 251.5,138.5 247.5,138.1 243.5,138.5 240.5,140.2 238.5,138.6 233.5,138.1 229.5,138.5 227.5,140 226.5,140.1 224.5,138.5 217.5,138.3 215.5,138.6 213.5,140.2 210.5,138.5 206.5,138.1 202.4,138.5 199.5,140.2 196.6,138.5 192.5,138.1 188.5,138.5 185.5,140.2 183.5,138.6 179.5,138.1 174.5,138.6 172.5,140.1 171.5,140 169.5,138.5 165.5,138.1 160.5,138.6 158.5,140.1 155.5,138.4 151.5,138.1 147.5,138.4 144.5,139.5 142.5,138.5 137.5,138.1 133.5,138.4 130.5,139.2 128.5,138.4 124.5,138.1 119.5,138.4 117.5,139 110.5,138.1 103.5,138.9 97.5,138.1 89.5,138.7ZM540.2,181.5 544.4,180.5 604.5,180.2 613.5,180.8 616.2,181.5 616.2,182.5 612.1,183.5 552.5,183.8 543.5,183.3 540.2,182.5ZM300.2,182.5 305.3,181.5 313.5,181.2 443.2,181.5 448.2,182.5 448.2,185.5 447.4,186.5 435.5,187.2 311.5,187.2 301.1,186.5 300.2,185.5ZM83.5,189.1 122.5,189.1 127.6,189.5 129.1,190.5 121.5,191.3 83.5,191.3ZM645.2,191.5 645.6,190.5 656.5,189.8 742.5,189.8 742.5,194 653.5,193.9 645.6,193.5ZM631.3,193.5 622.5,195.8 615.5,196.5 573.5,196.6 562.5,196.1 560.3,198.5 557.5,199.4 519.5,203 516.5,206.2 506.5,209.2 501.5,212.6 497.3,217.5 495.5,218.3 491.3,215.5 487.5,211.1 486.5,210.6 483.5,212.7 476.5,216 473.5,216.2 469.5,214.8 463.5,215.4 461.5,214.5 458.5,209.9 455.5,206.6 454.5,206.3 448.5,211.7 447.5,212.1 441.5,208.2 440.5,208.1 437.6,209.5 435.5,212.4 428.5,212.4 425.5,211.8 424.5,212.3 419.5,212.5 418.5,213.5 418.3,215.5 416.5,217 410.5,217.1 407.5,216.1 398.5,209.8 394.5,209.5 393,207.5 393.1,206.5 395.5,204.2 402.5,200.2 411.5,198 429.5,196.4 442.5,196.4 465.5,199.6 480.5,201.1 494.5,199.5 530.5,196.9 558.5,192.5 613.5,192.1 625.5,192.6ZM563.2,193.5 565,194.5 572.5,195.5 607.5,195.6 616.5,195.2 620.5,194.5 622.2,193.5 609.5,193 573.5,193ZM561.4,194.5 560.5,193.6 558.5,193.5 547.5,195.7 494.5,199.9 480.5,201.6 442.5,196.8 429.5,196.8 411.5,198.4 402.7,200.5 395.5,204.7 393.8,206.5 393.7,207.5 394.2,208.5 395.5,209.2 398.5,209.2 408.5,216.3 410.5,216.8 415.5,216.8 417.5,216.2 418.1,215.5 418.9,212.5 423.5,212.2 425.2,211.5 424.7,210.5 425.5,209.4 426.5,209.5 427.1,210.5 426.6,211.5 427.5,212.1 435.5,212.2 437.5,209.5 440.5,208 441.5,208.1 447.5,212 448.5,211.6 454.5,206.2 456.5,207.5 461.5,214.3 463.5,215.2 469.5,214.7 474.5,216.1 476.5,215.8 480.3,213.5 480.2,212.5 476,209.5 477.5,205.6 480.5,204.4 482.5,205.1 483.7,206.5 484.5,210.7 486.5,210.1 487.5,210.6 490.5,214.5 495.5,218.1 497,217.5 501.4,212.5 506.5,209.1 516.5,206 518,204.5 518.5,203.1 519.5,202.5 557.5,198.9 560.2,197.5 561,196.5ZM425.5,209.5 424.8,210.5 425.5,211.4 426.5,211.3 426.9,210.5 426.5,209.8ZM479.5,204.9 477.3,206.5 476.7,209.5 479.5,211.8 481.5,212.1 483.2,210.5 483.7,207.5 482.3,205.5ZM382.9,206.5 384.5,205.6 386.5,205.7 388.2,207.5 388,209.5 386.5,210.9 384.5,211 382.7,209.5 382.4,207.5ZM383.6,206.5 382.9,208.5 383.5,209.7 385.5,210.5 387.3,209.5 387.6,207.5 386.9,206.5 385.5,205.9ZM332.5,212.5 332.9,211.5 335.5,210.8 344.5,210.1 351.5,210.3 362,211.5 361.9,212.5 358.6,213.5 348.5,214.8 336.5,213.7ZM384.5,215.7 385.5,215.9 386.4,217.5 385.5,219.3 384.5,219.5 383.5,218.5 383.5,216.5ZM384.5,216.2 383.7,217.5 384.5,219 385.5,218.8 385.9,217.5 385.5,216.5ZM533.8,217.5 534.5,216.3 537.5,215.7 604,216.5 609.2,217.5 592.3,220.5 555.5,223.7 551.5,225 545.5,229.5 543.5,228.8 538.5,224.6 534.6,219.5ZM534.5,217.5 535.5,219.8 538.5,223.6 544.5,227.7 546.5,227.1 551,223.5 555.5,222 568.5,221.6 594.5,219 601.9,217.5 592.5,216.6 537.5,216.2 535.3,216.5ZM708.6,220.5 709.5,219.6 717.6,221.5 730.9,225.5 732.5,226.5 732.4,227.5 729.9,227.5ZM657.6,227.5 657.9,226.5 659.5,225.8 660.6,226.5 660.8,227.5 659.5,228.8 658.5,228.6ZM658.5,226.3 658,227.5 659.5,228.5 660.5,227.5 660.2,226.5ZM461.5,228.9 462.7,230.5 462.5,231.7 461.5,232.6 460.5,232.5 459.6,230.5 460.5,229ZM461.5,229.6 460.5,230 460.5,231.6 461.8,231.5 462,230.5ZM692.2,234.5 693.5,232.8 698.5,232.8 700.9,235.5 701.5,238.5 707.5,236.7 714.5,238.1 729.5,243.8 731.4,245.5 731.6,246.5 731.3,247.5 729.5,248.4 713.5,248.2 705.5,245.9 702.3,243.5 701,241.5 700.5,239 696.5,241.4 693.3,240.5 692.4,239.5ZM693.5,233 692.5,234.1 692.2,235.5 692.9,239.5 695.5,240.8 697.5,240.4 700,237.5 700.1,235.5 699.6,234.5 697.5,233ZM701.5,240.5 702.1,242.5 704.5,245 713.5,247.7 728.5,248 730.4,247.5 731,246.5 730.5,245.1 728.5,243.9 716.5,239.2 709.5,237.2 707.5,237 704.5,237.8 702.5,238.8ZM97.5,237.8 100.5,238 102.5,239.4 103.1,240.5 102.5,245.5 103.9,251.5 103.5,257.5 107.5,259.1 108.8,260.5 109.1,263.5 107.5,265.2 105.5,265.2 103.5,263.7 102.9,261.5 103.1,259.5 102.5,258.5 96.5,259.3 88.5,263.4 85.5,263.4 83.5,262.4 83.5,261.4 86.5,263.1 89.5,262.8 96.5,258.9 101,257.5 101.9,256.5 102.6,253.5 102.3,250.5 101.5,248.2 99.5,245.1 98.5,245.3 96.5,248.2 94.5,254.8 92.5,255.8 86.5,256.8 83.5,258.5 83.5,257.8 85.5,256.8 92.5,255.5 94.1,254.5 96.4,245.5 95.5,239.5ZM98.5,239.8 97.7,240.5 98.5,242.9 99.5,243.3 100.5,242 100.5,240.5ZM104.5,260.4 103.8,261.5 104.2,263.5 105.5,264.4 107.5,263.8 108,262.5 107.5,261 106.5,260.2ZM308.5,242 309.3,244.5 308.5,246.9 307.5,246.2 307.2,244.5 307.5,242.6ZM454.5,242.7 456.3,244.5 457.4,249.5 456.5,252.8 455.5,253.7 453.5,254.2 451.7,253.5 450.8,252.5 450,249.5 451.1,244.5 452.5,242.9ZM453.5,244.1 451.5,246 450.9,249.5 451.5,251.8 453.5,253.2 455.5,252.5 456.6,249.5 455.6,245.5 454.5,244.3ZM103.3,272.5 104.5,270.8 106.5,270.1 109.5,271 110.4,272.5 108.5,274.2 106.5,274.7 104.5,274.1ZM103.8,272.5 104.5,273.7 106.5,274.2 108.5,273.6 109.4,272.5 108.5,271.2 106.5,270.7 104.5,271.3ZM518.3,272.5 519.5,271.7 521.1,272.5 520.6,273.5 519.5,273.7ZM381.5,278.7 383.5,277.9 386.6,278.5 392.5,282.2 401.5,280.4 403,281.5 402.8,284.5 401.5,287 396.5,289.2 393.5,290.1 390.5,289.8 383.1,285.5 381.4,281.5ZM381.9,279.5 382.3,282.5 384.6,285.5 391.5,289.3 393.5,289.3 401.5,285.9 402.3,284.5 402.5,282.3 401.5,281.1 392.5,282.8 385.5,278.5 382.5,278.4ZM89.3,289.5 89.9,287.5 92.9,285.5 97.5,284.5 103.5,284.1 107.5,284.9 113.5,288.4 121.1,290.5 122.4,291.5 122,292.5 118.5,293.7 104.5,295.7 99.5,295.9 95.5,295.2 92.5,294 89.8,291.5ZM90.7,289.5 91.4,291.5 93.5,293.4 99.5,295.1 104.5,294.9 116.5,292.5 117.4,291.5 111.5,288.7 106.6,285.5 102.5,284.6 98.5,284.8 94.5,285.7 91.5,287.5ZM170.1,290.5 173.5,289.4 201.2,289.5 202.7,290.5 202.5,291.5 197.5,292 173.5,291.9 170.4,291.5ZM449.3,295.5 449.5,294.5 450.6,293.5 455.5,292.3 461.5,293.4 463.3,294.5 463.9,295.5 463.6,296.5 461.9,297.5 456.5,298.3 451.9,297.5 450,296.5ZM453.3,295.5 455.1,296.5 457.5,296.7 460.5,295.5 459.6,294.5 456.5,293.9 453.8,294.5ZM478.2,302.5 478.9,301.5 481.2,300.5 485.5,300 489.5,300.5 491.6,301.5 492.2,302.5 491.6,303.5 489.5,304.5 485.5,305 480.5,304.4 478.7,303.5ZM133.6,303.5 133.9,304.5 133.3,305.5 128.5,307.6 125.5,311.8 123.5,311.6 122.6,310.5 123.1,307.5 126.5,303.7 130.5,302.3 132.5,302.6ZM132.3,304.5 130.5,303.4 127.5,304.1 124.8,306.5 123.9,308.5 124,309.5 124.5,310.2 125.5,310.2 127.9,307.5 131.7,305.5ZM382.8,304.5 384.5,302.8 388.5,302.3 390.9,304.5 389.4,306.5 387.5,307.2 384.1,306.5 382.9,305.5ZM385.7,304.5 386.3,305.5 388.5,305.6 388.8,304.5 387.5,303.8ZM139.7,309.5 142.5,307.5 146.5,306.8 152.5,310.1 180.5,334 183.5,338.1 188.1,340.5 194.5,344.9 203.1,352.5 203.9,354.5 202.5,357.5 201.5,358.3 199.5,358 195.5,353.1 193.5,352.3 188.5,351.9 185.6,350.5 182,345.5 183.1,341.5 182.5,340.1 181.5,339.4 179.5,339.2 174.5,339.6 166.9,333.5 166,331.5 168.1,328.5 167.5,326.4 165.5,325.1 161.5,325.5 159.5,325 155.7,320.5 154.5,316 146.5,310.8 143.5,311 139.5,313.3 138.5,312.8 138.5,311.5ZM140.5,310.1 140.5,311.6 146.5,310.3 150.7,313.5 154.5,315.5 155.3,316.5 156.3,320.5 159.7,324.5 161.5,325 165.5,324.7 167.5,325.6 168.5,327.5 168.1,329.5 166.6,331.5 167.5,333.4 174.5,339 182.5,339.3 183.5,341.5 182.5,344.5 182.8,345.5 187.1,350.5 189.5,351.5 195.5,352.6 198.5,356.5 200.5,357.9 201.5,357.7 202.5,356.6 203.4,354.5 202.4,352.5 194.4,345.5 187.2,340.5 183.5,338.8 180.5,334.4 168.5,324.8 152.1,310.5 147.5,308.1 145.5,307.7 142.5,308.4ZM386.5,324.3 387.5,325.5 387.4,326.5 386.5,327.3ZM451.5,328.3 454.5,327 457.5,327.2 460.3,328.5 462.3,330.5 463.3,332.5 463.9,335.5 463.1,338.5 461.5,340.7 459.5,341.8 457.5,342.1 449.3,336.5 448.7,334.5 448.8,332.5 449.5,330.5ZM452.5,329.7 450.5,332.5 450.3,334.5 450.9,336.5 456.5,340.3 458.5,340.4 460.2,339.5 461.7,337.5 462.2,335.5 461,331.5 458.8,329.5 456.5,328.7 454.5,328.8ZM375.7,339.5 375.7,341.5 374.5,342.9 367.5,344.7 355.5,344.7 353.9,343.5 353.8,342.5 354.5,341.1 361.5,339.3 372.5,338.2 374.8,338.5ZM375.4,340.5 374.5,338.8 370.4,338.5 362.5,339.3 356.9,340.5 354.6,341.5 354.2,342.5 354.3,343.5 355.5,344.3 366.5,344.5 374.3,342.5ZM440.5,346.5 440,348.5 437.5,349.6 420.5,352.4 406.5,353.7 396.5,354 390.5,351.9 389.2,350.5 389.9,349.5 391.5,348.7 396.5,347.7 420.5,347.2 438.5,345 439.9,345.5ZM440,346.5 438.5,345.5 420.5,347.7 396.5,348.1 391.5,349.1 389.9,350.5 391.5,352 396.5,353.7 406.5,353.4 420.5,352.1 437.5,349.2 439.5,348.4ZM229.2,356.5 230.5,354 233.5,352.7 237.5,353.2 239.1,354.5 239.5,355.5 237.5,358.4 234.5,359.9 232.5,359.7 230.5,358.7ZM231.1,354.5 230.3,355.5 230.5,357.5 232.5,359 235.5,359 238.4,356.5 238.6,355.5 238,354.5 236.2,353.5 233.5,353.4ZM373.3,355.5 373.5,354.5 374.5,353.7 377.5,352.9 380.7,353.5 382.1,354.5 382.5,355.5 381.5,357.1 378.5,358 375.5,357.3ZM373.7,355.5 375.5,357.1 378.5,357.8 381.5,356.7 382.1,355.5 380.5,353.7 377.5,353.1 374.5,354ZM245.4,357.5 249.5,355.4 252.5,356.2 264.6,365.5 265.3,367.5 264.6,369.5 262.5,370.5 256.5,369.6 248.5,366.9 246.5,364.8 245.5,362.6 244.9,359.5ZM245.5,358.4 245.5,360.5 246.5,363.5 249.5,366.5 255.5,368.9 261.5,369.8 263.5,369.7 264.5,368.5 264.6,366.5 263.8,365.5 252.5,357 249.5,356.2 246.5,357.4ZM218.3,358.5 219.5,357.4 221.5,357.2 223.2,358.5 223.4,359.5 222.5,361 220.5,361.6 218.5,360.5ZM219,359.5 220.5,360.9 222,360.5 222.6,359.5 222.4,358.5 220.5,357.8 219.2,358.5ZM269.2,368.5 272.5,368.9 275.1,370.5 278.7,374.5 278.5,376.8 277.5,377.7 275.5,377.6 270.5,374.7 268.6,370.5 268.5,369.5ZM269.2,369.5 269.5,371.9 271.1,374.5 276.5,377.3 278,376.5 278.4,375.5 278.1,374.5 274.4,370.5 271.5,369.1ZM524.6,382.5 524.9,381.5 526.5,380.2 531.5,378.9 536.5,379.5 538.6,380.5 539.1,381.5 538.5,382.5 536.5,383.5 530.5,384.5 526.5,384.4 525.1,383.5ZM526.8,382.5 528.7,383.5 532.5,383.7 536.5,382.7 537.4,381.5 535.5,380.1 531.5,379.7 528.1,380.5 526.8,381.5ZM283.2,387.5 283.8,385.5 285.5,384.1 290.5,382.8 293.5,383.2 300.5,385.4 302.3,386.5 302.7,387.5 301.9,388.5 299.8,389.5 292.5,391.3 288.5,390.9 284.8,389.5ZM283.9,387.5 285.6,389.5 291.5,391 296.5,390.1 300.1,388.5 301,387.5 300.7,386.5 298.9,385.5 294.5,383.9 290.5,383.3 285.8,384.5 284.6,385.5ZM513,390.5 514.5,388.6 517.5,387.6 521.5,388.1 522.5,389.5 522.5,390.5 521.5,392.1 518.5,393.4 514.5,392.9 513.1,391.5ZM521,389.5 519.5,388.6 516.5,388.5 514.5,389.5 513.9,390.5 514.1,391.5 515.5,392.6 518.5,392.8 520.9,391.5 521.3,390.5ZM299.4,397.5 299.5,396.5 301.5,395.3 317.5,392.9 337.5,393.7 343.5,395 363.5,394.9 366.5,395.4 368.7,396.5 368.6,397.5 367.5,398.4 365.5,398.9 344.5,399 340.5,400.2 332.5,400.6 309.5,400.5 300.1,398.5ZM300.1,397.5 301.5,398.6 308.5,399.9 318.5,400.4 339.5,399.7 344.5,398.1 361.5,398.3 365,397.5 364.8,396.5 362.5,396.1 343.5,396.1 337.5,395 317.5,393.6 302.5,395.8 300.5,396.5ZM494,401.5 495.5,400.5 496.5,401.5 495.5,402.7 494.5,402.5ZM494.4,401.5 495.5,402 495.9,401.5 495.5,401.1ZM323.2,408.5 328.5,403.5 330.5,403 338.2,410.5 337.5,411.6 333.5,411 325.2,411.5 323.4,410.5ZM323.5,409.5 323.9,410.5 325.5,411.2 336.5,411.1 337.6,410.5 331.5,404.5 329.5,403.5 324.3,407.5ZM356.4,413.5 358,413.5 357.9,414.5 356.8,414.5ZM377.5,416.5 378.5,416.9 380.8,420.5 380.9,425.5 380.5,426.6 379.5,427.1 374.5,427.1 373.5,426.5 373.1,425.5 374,421.5 375.2,418.5ZM377.5,416.6 375.3,418.5 374.1,421.5 373.2,425.5 374.5,426.9 379.5,426.9 380.8,425.5 380.7,420.5 378.5,417ZM418.5,420 420.3,420.5 422.1,422.5 422.4,425.5 421.5,427 416.5,427.1 415.5,426.5 415.2,424.5 416.3,421.5ZM416.5,421.4 415.2,425.5 415.7,426.5 417.5,427 421.5,426.9 422.4,424.5 421.5,421.8 419.5,420.1 418.5,420.1Z"/>
<path fill="#70d810" stroke="#70d810" stroke-width="0.4" fill-rule="evenodd" d="M83.5,138.3 89.5,138.7 97.5,138.1 103.5,138.9 110.5,138.1 117.5,139 119.5,138.4 124.5,138.1 128.5,138.4 130.5,139.2 133.5,138.4 137.5,138.1 142.5,138.5 144.5,139.5 147.5,138.4 151.5,138.1 155.5,138.4 158.5,140.1 160.5,138.6 165.5,138.1 169.5,138.5 171.5,140 172.5,140.1 174.5,138.6 179.5,138.1 183.5,138.6 185.5,140.2 188.5,138.5 192.5,138.1 196.6,138.5 199.5,140.2 202.4,138.5 206.5,138.1 210.5,138.5 213.5,140.2 215.5,138.6 217.5,138.3 224.5,138.5 226.5,140.1 227.5,140 229.5,138.5 233.5,138.1 238.5,138.6 240.5,140.2 243.5,138.5 247.5,138.1 251.5,138.5 254.5,140.2 256.5,138.7 260.5,138.1 265.5,138.5 268.5,140.2 270.5,138.6 272.5,138.3 279.5,138.6 281.5,140.1 284.5,138.5 288.5,138.1 293.5,138.7 295.5,140.2 298.5,138.5 302.5,138.1 306.5,138.5 309.5,140.2 311.5,138.7 315.5,138.1 320.5,138.5 323.5,140.1 325.5,138.6 330.5,138.1 334.5,138.6 336.5,140.2 339.5,138.5 343.5,138.1 348.5,138.8 350.5,140.2 353.3,138.5 357.5,138.1 361.5,138.4 364.5,139.9 366.5,138.5 371.5,138.1 375.5,138.4 377.5,139.3 380.5,138.4 384.5,138.1 389.5,138.4 391.5,139.1 398.5,138.1 405.5,138.9 411.5,138.1 419.5,138.9 424.5,138.1 432.5,138.9 440.5,138.1 446.5,138.9 453.5,138.1 458.5,138.5 460.5,139.2 462.5,138.4 467.5,138.1 471.5,138.4 474.5,139.5 476.5,138.4 481.5,138.1 485.5,138.5 487.5,140.1 490.5,138.5 494.5,138.1 499.5,138.7 501.5,140.2 504.5,138.5 508.5,138.1 512.5,138.5 515.5,140.2 517.5,138.6 519.5,138.3 526.3,138.5 528.5,140 529.5,140.1 531.5,138.5 535.5,138.1 540.5,138.6 542.5,140.2 545.5,138.5 549.5,138.1 553.6,138.5 556.5,140.2 559.4,138.5 563.5,138.1 567.5,138.5 570.5,140.2 572.5,138.6 574.5,138.3 581.5,138.5 583.5,140.1 584.5,140 586.5,138.5 590.5,138.1 595.5,138.6 597.5,140.2 600.5,138.5 604.5,138.1 608.5,138.5 611.5,140.2 613.5,138.7 617.5,138.1 622.5,138.5 625.5,140.2 627.5,138.6 632.5,138.1 636.5,138.6 638.5,140.1 641.5,138.5 645.5,138.1 650.5,138.7 652.5,140.2 655.5,138.5 659.5,138.1 663.5,138.5 666.5,140.2 668.5,138.7 673.5,138.1 677.5,138.5 680.5,139.9 682.5,138.5 686.5,138.1 691.5,138.5 693.5,139.7 696.5,138.4 700.5,138.1 705.5,138.5 707.5,139.4 709.5,138.5 714.5,138.1 718.5,138.3 721.5,139.2 725.5,138.2 730.5,138.1 734.5,138.9 742.5,138.1 734.5,139.1 732.5,138.4 725.5,138.4 721.5,139.3 718.5,138.5 710.3,138.5 707.5,139.5 704.6,138.5 700.5,138.3 696.5,138.6 693.5,139.9 691.5,138.7 686.5,138.3 682.5,138.7 680.5,140.1 677.5,138.8 673.5,138.3 668.5,138.9 666.5,140.3 663.5,138.8 659.5,138.3 655.5,138.8 652.5,140.3 650.5,138.9 646.5,138.3 641.5,138.8 638.5,140.2 636.5,138.8 629.5,138.5 627.5,138.8 625.5,140.3 622.5,138.8 618.5,138.3 613.5,139 611.5,140.3 609.5,139 604.5,138.3 600.5,138.8 597.5,140.3 595.5,138.9 593.4,138.5 588.3,138.5 583.5,140.2 581.5,138.8 576.5,138.3 572.5,138.9 570.5,140.3 567.5,138.8 563.5,138.3 558.5,139 556.5,140.3 553.5,138.7 547.5,138.5 544.5,139.1 542.5,140.3 540.5,138.9 535.5,138.3 531.5,138.8 529.5,140.2 524.7,138.5 519.6,138.5 517.5,138.9 515.5,140.3 512.5,138.8 508.5,138.3 503.5,139 501.5,140.3 499.5,139 494.5,138.3 490.5,138.8 487.5,140.2 485.5,138.8 481.5,138.3 476.5,138.7 474.5,139.7 471.5,138.5 463,138.5 460.5,139.3 457.9,138.5 453.5,138.3 446.5,139.1 440.5,138.3 432.5,139.1 430.5,138.5 424.5,138.3 419.5,139.1 416.5,138.4 411.5,138.3 405.5,139.1 398.5,138.3 394.5,138.4 391.5,139.2 389.5,138.5 380.5,138.5 377.5,139.4 375.5,138.5 371.5,138.3 366.5,138.7 364.5,140 361.5,138.7 357.5,138.3 352.5,139 350.5,140.3 348.5,139 344.5,138.3 339.5,138.8 336.5,140.3 334.5,138.8 332.5,138.5 325.5,138.8 323.5,140.2 320.5,138.8 316.5,138.3 311.5,138.9 309.5,140.3 306.5,138.8 302.5,138.3 298.5,138.8 295.5,140.3 293.5,138.9 289.5,138.3 284.5,138.8 281.5,140.2 279.5,138.8 272.5,138.5 270.5,138.8 268.5,140.3 265.5,138.8 261.5,138.3 256.5,139 254.5,140.3 252.5,139 247.5,138.3 243.5,138.8 240.5,140.3 238.5,138.9 236.4,138.5 231.3,138.5 226.5,140.2 224.5,138.8 220.5,138.3 215.5,138.9 213.5,140.3 210.5,138.8 206.5,138.3 201.5,139 199.5,140.3 197.5,139 192.5,138.3 188.5,138.8 185.5,140.3 183.5,138.9 179.5,138.3 174.5,138.8 172.5,140.2 169.5,138.8 165.5,138.3 160.5,138.9 158.5,140.2 155.5,138.7 151.5,138.3 147.5,138.6 144.5,139.7 141.6,138.5 133.5,138.5 130.5,139.3 128.5,138.5 119.5,138.5 117.5,139.1 110.5,138.3 105.5,138.5 103.5,139.1 97.5,138.3 89.5,138.9ZM561.4,194.5 561,196.5 560.2,197.5 557.5,198.9 519.5,202.5 518.5,203.1 518,204.5 516.5,206 506.5,209.1 501.4,212.5 497,217.5 495.5,218.1 490.5,214.5 487.5,210.6 486.5,210.1 484.5,210.7 483.7,206.5 482.5,205.1 480.5,204.4 477.5,205.6 476,209.5 480.2,212.5 480.3,213.5 476.5,215.8 474.5,216.1 469.5,214.7 463.5,215.2 461.5,214.3 456.5,207.5 454.5,206.2 448.5,211.6 447.5,212 441.5,208.1 440.5,208 437.5,209.5 435.5,212.2 427.5,212.1 426.6,211.5 427.1,210.5 426.5,209.5 425.5,209.4 424.7,210.5 425.2,211.5 423.5,212.2 418.9,212.5 418.1,215.5 417.5,216.2 415.5,216.8 410.5,216.8 408.5,216.3 398.5,209.2 395.5,209.2 394.2,208.5 393.7,207.5 393.8,206.5 395.5,204.7 402.7,200.5 411.5,198.4 429.5,196.8 442.5,196.8 480.5,201.6 494.5,199.9 547.5,195.7 558.5,193.5 560.5,193.6ZM560.1,196.5 560,195.5 558.5,194.7 547.5,196.4 494.5,200.4 480.5,202.1 442.5,197.2 429.5,197.1 412.5,198.6 404.1,200.5 401.3,201.5 396.5,204.5 394.5,206.4 394.3,207.5 395.5,208.7 398.5,208.6 400.5,210.7 408.5,216.1 415.5,216.6 417.8,215.5 418.5,212.5 424.5,211.6 424.5,210.5 425.5,209.3 426.7,209.5 427.5,211.8 435.5,212 437.5,209.4 439.5,208.2 441.5,208 447.5,211.9 454.5,206.1 456.5,207.4 461.5,214.1 463.5,215 469.5,214.6 474.5,215.9 477.5,215.2 479.8,213.5 479.6,212.5 475.2,209.5 476.9,205.5 478.5,204.4 480.5,203.9 483.5,205.3 485.5,209.4 487.5,210.3 490.7,214.5 495.5,217.9 496.8,217.5 501.2,212.5 505.5,209.5 516.5,205.8 517.7,204.5 518.5,202.3 519.5,201.9 558.5,198ZM563.2,193.5 586.5,193 612.5,193 622.2,193.5 618.5,194.9 609.5,195.6 572.5,195.5 565,194.5ZM383,207.5 383.6,206.5 385.5,205.9 386.9,206.5 387.7,208.5 386.5,210.2 384.5,210.4 383.3,209.5ZM385.5,206.3 384.4,206.5 383.5,207.5 383.3,208.5 384.5,210 385.5,210.1 386.7,209.5 387.2,208.5 387.1,207.5ZM384.5,216.2 385.5,216.5 385.9,217.5 385.5,218.8 384.5,219 383.7,217.5ZM384.5,216.9 384.5,218.5 385.5,217.5ZM534.5,217.5 535.3,216.5 537.5,216.2 592.5,216.6 601.9,217.5 594.5,219 568.5,221.6 555.5,222 551,223.5 546.5,227.1 544.5,227.7 538.5,223.6 535.5,219.8ZM535.7,217.5 536.3,219.5 538.5,221.9 540.5,223.3 542.5,223.6 547.5,223.2 559.5,219.3 563,219.5 564.5,220.5 569.5,220.6 576.1,219.5 591.5,218.5 593.7,217.5 573.5,216.6 546.5,217.4 537.5,216.9ZM658,227.5 658.2,226.5 659.5,226.1 660.5,227.5 659.5,228.5ZM659.7,226.5 658.5,226.9 658.5,227.7 659.5,228 660,227.5ZM460.5,230 461.5,229.6 462,230.5 461.5,231.8 460.4,231.5ZM692.9,233.5 694.5,232.8 698.8,233.5 700.2,236.5 698.7,239.5 697.5,240.4 695.5,240.8 692.9,239.5 692.2,235.5ZM693.5,233.2 692.5,234.5 692.7,238.5 694.5,240.1 697.5,239.8 699.3,237.5 699,234.5 697.5,233.3ZM701.5,240.5 702.5,238.8 704.5,237.8 707.5,237 709.5,237.2 716.5,239.2 728.5,243.9 730.5,245.1 731,246.5 730.4,247.5 728.5,248 713.5,247.7 704.5,245 702.1,242.5ZM702,240.5 702.6,242.5 704.5,244.5 714.5,247.4 728.5,247.5 730.3,246.5 730.1,245.5 728.5,244.5 709.5,237.5 705.5,237.7 703.5,238.7ZM98.5,239.8 100.5,240.5 100.5,242 99.5,243.3 98.5,242.9 97.7,240.5ZM453.5,244.1 454.5,244.3 455.6,245.5 456.6,249.5 455.5,252.5 453.5,253.2 451.5,251.8 450.9,249.5 451.5,246ZM453.5,245.8 452.5,246.6 451.8,249.5 452.5,251.4 453.5,252 454.8,251.5 455.6,249.5 454.8,246.5ZM99.5,245.1 101.5,248.2 102.5,251.5 102.5,254.5 101.5,257 96.5,258.9 88.5,263.1 85.5,262.8 83.6,261.5 83.5,258.5 84.7,257.5 87.5,256.5 93.5,255.6 94.5,254.8 96.5,248.2 98.5,245.3ZM100.5,249.2 99.5,248.1 98.5,247.9 97.5,248.5 96.5,250.2 95.5,254.5 94.5,255.7 87.5,256.7 84.5,258.2 83.6,259.5 84.3,261.5 86.5,262.7 89.5,262.5 100.4,256.5 101.5,253.5ZM104.5,260.4 106.5,260.2 107.5,261 108,262.5 107.5,263.8 105.5,264.4 104.2,263.5 103.8,261.5ZM105.5,262 105.5,262.8 106.1,262.5ZM103.8,272.5 104.5,271.3 106.5,270.7 108.5,271.2 109.4,272.5 108.5,273.6 106.5,274.2 104.5,273.7ZM104.4,272.5 105.2,273.5 106.5,273.7 107.6,273.5 108.5,272.5 107.7,271.5 106.5,271.2 105.2,271.5ZM381.9,279.5 382.5,278.4 385.5,278.5 392.5,282.8 401.5,281.1 402.5,282.3 402.3,284.5 401.5,285.9 393.5,289.3 391.5,289.3 384.6,285.5 382.3,282.5ZM382.6,279.5 382.6,281.5 385.8,285.5 391.5,288.6 393.5,288.6 400.5,285.7 401.7,284.5 401.7,282.5 400.5,281.8 392.5,283.3 390.3,282.5 385.5,279.1 383.5,278.7ZM90.7,289.5 91.5,287.5 94.5,285.7 98.5,284.8 102.5,284.6 106.6,285.5 111.5,288.7 117.4,291.5 116.5,292.5 104.5,294.9 99.5,295.1 93.5,293.4 91.4,291.5ZM92,289.5 92.7,291.5 93.8,292.5 96.5,293.8 99.5,294.4 107.5,293.7 111.5,292.5 112.7,291.5 112.1,290.5 106.7,286.5 102.5,285.1 98.5,285.2 94.5,286.3 92.9,287.5ZM453.3,295.5 453.8,294.5 456.5,293.9 459.6,294.5 460.5,295.5 457.5,296.7 455.1,296.5ZM132.3,304.5 131.7,305.5 127.9,307.5 125.5,310.2 124.5,310.2 124,309.5 123.9,308.5 124.8,306.5 127.5,304.1 130.5,303.4ZM129.5,304.7 127.2,305.5 126,307.5 126.5,307.6 130,305.5ZM385.7,304.5 387.5,303.8 388.8,304.5 388.5,305.6 386.3,305.5ZM140.5,310.1 142.5,308.4 145.5,307.7 147.5,308.1 152.1,310.5 168.5,324.8 180.5,334.4 183.5,338.8 187.2,340.5 194.4,345.5 202.4,352.5 203.4,354.5 202.5,356.6 201.5,357.7 200.5,357.9 198.5,356.5 195.5,352.6 189.5,351.5 187.1,350.5 182.8,345.5 182.5,344.5 183.5,341.5 182.5,339.3 174.5,339 167.5,333.4 166.6,331.5 168.1,329.5 168.5,327.5 167.5,325.6 165.5,324.7 161.5,325 159.7,324.5 156.3,320.5 155.3,316.5 154.5,315.5 150.7,313.5 146.5,310.3 140.5,311.6ZM148.5,309.7 148.1,310.5 150.5,312.8 154.5,314.6 155.5,314.5 151.5,310.8ZM155.5,314.6 156.5,319.7 159.5,323.7 161.5,324.6 166.1,323.5 161.9,319.5ZM169.5,326.8 168.7,329.5 167.3,331.5 168.3,333.5 174.5,338.5 182,338.5 181.8,336.5 180.5,334.8 173.5,328.9ZM184.5,340.2 183.3,344.5 183.5,345.3 187.2,349.5 189.5,350.7 195.5,352 197.2,353.5 199.5,356.7 200.5,357.2 201.5,356.9 202.8,354.5 201.6,352.5 187.8,341.5ZM452.5,329.7 454.5,328.8 456.5,328.7 458.8,329.5 461,331.5 462.2,335.5 461.7,337.5 460.2,339.5 458.5,340.4 456.5,340.3 450.9,336.5 450.3,334.5 450.5,332.5ZM453.5,331.1 452,333.5 452.6,336.5 455.5,338.6 457.5,338.9 458.7,338.5 459.8,337.5 460.6,335.5 459.8,332.5 458.5,331.2 456.5,330.4ZM375.4,340.5 374.3,342.5 366.5,344.5 355.5,344.3 354.3,343.5 354.2,342.5 354.6,341.5 356.9,340.5 362.5,339.3 370.4,338.5 374.5,338.8ZM354.6,342.5 354.9,343.5 356.5,344 366.5,344.3 373.5,342.4 374.8,341.5 374.7,339.5 373.5,339 362.5,339.5 355.5,341.3ZM440,346.5 439.5,348.4 437.5,349.2 420.5,352.1 406.5,353.4 396.5,353.7 391.5,352 389.9,350.5 391.5,349.1 396.5,348.1 420.5,347.7 438.5,345.5ZM439.6,347.5 439.4,346.5 437.5,346.1 420.5,348.1 396.5,348.4 391.5,349.5 390.6,350.5 391.5,351.6 396.5,353.4 406.5,353.1 427.8,350.5 438.5,348.5ZM230.2,356.5 231.1,354.5 233.5,353.4 236.5,353.6 238.6,355.5 237.5,357.7 234.5,359.2 231.5,358.5ZM231.6,355.5 231.4,356.5 231.9,357.5 233.5,358.3 235.5,358.1 237.4,356.5 237.3,355.5 235.5,354.3 232.8,354.5ZM373.7,355.5 374.5,354 377.5,353.1 380.5,353.7 382.1,355.5 381.5,356.7 378.5,357.8 375.5,357.1ZM374,355.5 375.5,356.9 378.5,357.6 380.5,357.1 381.8,355.5 380.5,353.9 377.5,353.3 374.5,354.3ZM245.5,358.4 246.5,357.4 249.5,356.2 252.5,357 263.8,365.5 264.6,366.5 264.5,368.5 263.5,369.7 261.5,369.8 255.5,368.9 249.5,366.5 246.5,363.5 245.5,360.5ZM246.3,358.5 246,359.5 246.5,362 247.5,363.8 249.5,365.6 256.6,368.5 262.5,369.2 263.7,368.5 263.8,366.5 252.5,357.8 249.5,357.1ZM219,359.5 219.2,358.5 220.5,357.8 222.4,358.5 222.6,359.5 222,360.5 220.5,360.9ZM220.1,359.5 221.6,359.5 220.5,358.8ZM269.2,369.5 271.5,369.1 274.4,370.5 278.1,374.5 278.4,375.5 278,376.5 276.5,377.3 271.1,374.5 269.5,371.9ZM270.5,369.7 269.9,370.5 270,371.5 271.5,374.1 275.9,376.5 277.5,376 277.4,374.5 274.5,371.4 272.5,370.1ZM526.8,382.5 526.8,381.5 528.1,380.5 531.5,379.7 535.5,380.1 537.4,381.5 536.5,382.7 532.5,383.7 528.7,383.5ZM528.6,381.5 528.9,382.5 531.5,383 535,382.5 535.8,381.5 534.5,380.7 532.5,380.3 530.5,380.5ZM283.9,387.5 284.6,385.5 285.8,384.5 290.5,383.3 294.5,383.9 298.9,385.5 300.7,386.5 301,387.5 300.1,388.5 296.5,390.1 291.5,391 285.6,389.5ZM284.5,387.5 286.3,389.5 291.5,390.8 295.5,390 298.6,388.5 299.6,387.5 299.2,386.5 293.5,384.1 290.5,383.7 286.5,384.6 285.3,385.5ZM513.9,390.5 515.5,388.9 517.5,388.3 520.5,389 521.3,390.5 520.9,391.5 519.5,392.5 517.5,392.9 515.3,392.5 514.1,391.5ZM514.7,390.5 515.5,391.9 517.5,392.3 519.5,391.7 520.3,390.5 519.5,389.4 517.5,389 515.6,389.5ZM300.1,397.5 300.5,396.5 302.5,395.8 317.5,393.6 337.5,395 343.5,396.1 362.5,396.1 364.8,396.5 365,397.5 361.5,398.3 344.5,398.1 339.5,399.7 318.5,400.4 308.5,399.9 301.5,398.6ZM301.3,397.5 303.2,398.5 308.5,399.5 317.5,399.9 339.5,399.1 341.4,398.5 342.3,397.5 341.8,396.5 339.5,395.9 316.5,394.2 306.5,395.5 302.3,396.5ZM494.4,401.5 495.5,401.1 495.9,401.5 495.5,402ZM323.5,409.5 324.3,407.5 329.5,403.5 331.5,404.5 337.6,410.5 336.5,411.1 325.5,411.2 323.9,410.5ZM324,408.5 324.4,410.5 325.5,410.9 336.8,410.5 330.9,404.5 329.5,404ZM377.5,416.6 378.5,417 380.7,420.5 380.8,425.5 379.5,426.9 374.5,426.9 373.2,425.5 374.1,421.5 375.3,418.5ZM377.5,416.7 375.4,418.5 374.2,421.5 373.4,425.5 374.5,426.8 379.5,426.8 380.8,425.5 380.6,420.5 378.5,417.2ZM416.5,421.4 418.5,420.1 419.5,420.1 421.5,421.8 422.4,424.5 421.5,426.9 417.5,427 415.7,426.5 415.2,425.5ZM416.5,421.5 415.3,425.5 416,426.5 421.5,426.7 422.2,425.5 422.2,423.5 421.1,421.5 419.5,420.2 418.5,420.2Z"/>
<path fill="#a8dc10" stroke="#a8dc10" stroke-width="0.4" fill-rule="evenodd" d="M83.5,138.5 89.5,138.9 97.5,138.3 103.5,139.1 105.5,138.5 110.5,138.3 117.5,139.1 119.5,138.5 128.5,138.5 130.5,139.3 133.5,138.5 141.6,138.5 144.5,139.7 147.5,138.6 151.5,138.3 155.5,138.7 158.5,140.2 160.5,138.9 165.5,138.3 169.5,138.8 172.5,140.2 174.5,138.8 179.5,138.3 183.5,138.9 185.5,140.3 188.5,138.8 192.5,138.3 197.5,139 199.5,140.3 201.5,139 206.5,138.3 210.5,138.8 213.5,140.3 215.5,138.9 217.5,138.5 224.5,138.8 226.5,140.2 227.5,140.2 229.5,138.8 233.5,138.3 238.5,138.9 240.5,140.3 243.5,138.8 247.5,138.3 252.5,139 254.5,140.3 256.5,139 260.5,138.3 265.5,138.8 268.5,140.3 270.5,138.8 272.5,138.5 279.5,138.8 281.5,140.2 284.5,138.8 288.5,138.3 293.5,138.9 295.5,140.3 298.5,138.8 302.5,138.3 306.5,138.8 309.5,140.3 311.5,138.9 313.7,138.5 318.8,138.5 323.5,140.2 325.5,138.8 329.5,138.3 334.5,138.8 336.5,140.3 339.5,138.8 343.5,138.3 348.5,139 350.5,140.3 352.5,139 357.5,138.3 361.5,138.7 364.5,140 366.5,138.7 371.5,138.3 375.5,138.5 377.5,139.4 380.5,138.5 389.5,138.5 391.5,139.2 394.5,138.4 398.5,138.3 405.5,139.1 411.5,138.3 416.5,138.4 419.5,139.1 424.5,138.3 430.5,138.5 432.5,139.1 440.5,138.3 446.5,139.1 453.5,138.3 457.9,138.5 460.5,139.3 463,138.5 471.5,138.5 474.5,139.7 476.5,138.7 481.5,138.3 485.5,138.8 487.5,140.2 490.5,138.8 494.5,138.3 499.5,139 501.5,140.3 503.5,139 508.5,138.3 512.5,138.8 515.5,140.3 517.5,138.9 519.6,138.5 524.7,138.5 529.5,140.2 531.5,138.8 535.5,138.3 540.5,138.9 542.5,140.3 545.5,138.8 549.5,138.3 554.5,139 556.5,140.3 558.5,139 563.5,138.3 567.5,138.8 570.5,140.3 572.5,138.9 574.5,138.5 581.5,138.8 583.5,140.2 584.5,140.1 586.5,138.8 590.5,138.3 595.5,138.9 597.5,140.3 600.5,138.8 604.5,138.3 609.5,139 611.5,140.3 613.5,139 617.5,138.3 622.5,138.8 625.5,140.3 627.5,138.8 634.5,138.5 636.5,138.8 638.5,140.2 641.5,138.8 645.5,138.3 650.5,138.9 652.5,140.3 655.5,138.8 659.5,138.3 663.5,138.8 666.5,140.3 668.5,138.9 673.5,138.3 677.5,138.8 680.5,140.1 682.5,138.7 686.5,138.3 691.5,138.7 693.5,139.9 696.5,138.6 700.5,138.3 704.6,138.5 707.5,139.5 710.3,138.5 718.5,138.5 721.5,139.3 725.5,138.4 732.5,138.4 734.5,139.1 742.5,138.3 735.5,139.2 727.9,138.5 721.5,139.4 714.3,138.5 707.5,139.7 700.5,138.5 696.5,138.9 693.5,140.1 691.5,139 686.5,138.5 682.5,139.1 680.5,140.2 677.5,139.1 673.5,138.5 668.5,139.2 666.5,140.4 664.5,139.3 659.5,138.5 654.5,139.2 652.5,140.4 650.5,139.2 645.5,138.5 640.5,139.3 638.5,140.3 636.5,139.1 631.5,138.6 627.5,139.1 625.5,140.4 623.5,139.3 618.5,138.5 613.5,139.2 611.5,140.4 609.5,139.2 604.5,138.5 599.5,139.3 597.5,140.4 595.5,139.2 591.5,138.6 586.5,139.1 583.5,140.3 582.5,139.4 577.5,138.5 572.5,139.1 570.5,140.4 568.5,139.3 563.5,138.5 558.5,139.2 556.5,140.4 554.5,139.2 549.5,138.5 544.5,139.3 542.5,140.4 540.5,139.1 535.5,138.5 530.5,139.4 529.5,140.3 526.5,139.1 521.5,138.6 517.5,139.2 515.5,140.4 513.5,139.3 508.5,138.5 503.5,139.2 501.5,140.4 499.5,139.2 494.5,138.5 489.5,139.3 487.5,140.3 485.5,139.1 481.5,138.6 476.5,139 474.5,140 471.5,138.9 467.5,138.5 460.5,139.4 453.5,138.5 446.5,139.2 440.5,138.5 432.5,139.2 425.3,138.5 419.5,139.2 411.6,138.5 405.5,139.2 398.5,138.5 391.5,139.3 384.5,138.5 377.5,139.5 370.5,138.6 366.5,139 364.5,140.2 362.5,139.2 357.5,138.5 352.5,139.2 350.5,140.4 348.5,139.2 343.5,138.5 338.5,139.3 336.5,140.4 334.5,139.1 329.5,138.6 325.5,139.1 323.5,140.3 321.5,139.3 316.5,138.5 311.5,139.2 309.5,140.4 307.5,139.3 302.5,138.5 297.5,139.3 295.5,140.4 293.5,139.2 288.5,138.5 283.5,139.3 281.5,140.3 279.5,139.1 274.5,138.6 270.5,139.1 268.5,140.4 266.5,139.3 261.5,138.5 256.5,139.2 254.5,140.4 252.5,139.2 247.5,138.5 242.5,139.3 240.5,140.4 238.5,139.1 234.5,138.6 229.5,139.1 226.5,140.3 225.5,139.4 220.5,138.5 215.5,139.1 213.5,140.4 211.5,139.3 206.5,138.5 201.5,139.2 199.5,140.4 197.5,139.2 192.5,138.5 187.5,139.3 185.5,140.4 183.5,139.1 178.5,138.6 173.5,139.4 172.5,140.3 171.5,140.2 170.5,139.3 165.5,138.5 160.5,139.1 158.5,140.3 156.5,139.2 151.5,138.5 146.5,139.1 144.5,140 142.5,139 137.5,138.5 130.5,139.4 124.5,138.5 117.5,139.3 111,138.5 103.5,139.2 97.5,138.5 89.5,139.1ZM560.1,196.5 558.5,198 519.5,201.9 518.5,202.3 517.7,204.5 516.5,205.8 505.5,209.5 501.2,212.5 496.8,217.5 495.5,217.9 490.7,214.5 487.5,210.3 485.5,209.4 483.5,205.3 480.5,203.9 478.5,204.4 476.9,205.5 475.2,209.5 479.6,212.5 479.8,213.5 477.5,215.2 474.5,215.9 469.5,214.6 463.5,215 461.5,214.1 456.5,207.4 454.5,206.1 447.5,211.9 441.5,208 439.5,208.2 437.5,209.4 435.5,212 427.5,211.8 426.7,209.5 425.5,209.3 424.5,210.5 424.5,211.6 418.5,212.5 417.8,215.5 415.5,216.6 408.5,216.1 400.5,210.7 398.5,208.6 395.5,208.7 394.3,207.5 394.5,206.4 396.5,204.5 401.3,201.5 404.1,200.5 412.5,198.6 429.5,197.1 442.5,197.2 480.5,202.1 494.5,200.4 547.5,196.4 558.5,194.7 560,195.5ZM395.1,206.5 395.5,207.9 398.5,207.7 399.4,209.5 408.5,215.9 410.5,216.4 416.5,216.3 417.6,215.5 418.5,212.3 424.2,211.5 424.5,210.2 425.5,209.2 426.8,209.5 427.4,211.5 428.5,211.9 435.5,211.9 438.5,208.7 441.5,208 447.5,211.9 454.5,206.1 456.5,207.3 461.5,213.9 463.5,214.9 469.5,214.6 472.5,215.6 475.5,215.7 477.5,215 479.4,213.5 479.2,212.5 474.5,209.7 462.5,208.6 461.2,207.5 462.5,207.1 474.5,208.3 476,205.5 479,203.5 478.4,202.5 442.5,197.5 429.5,197.5 410.5,199.4 402.4,201.5 397.4,204.5ZM559.1,196.5 558.5,195.8 553.5,196.8 541.5,197.5 539.5,198.1 495.5,200.7 483.5,202.6 482.1,203.5 484.5,205.3 485.7,208.5 487.5,209.9 490,213.5 495.5,217.7 496.5,217.5 501,212.5 505.5,209.3 516.6,205.5 518.5,201.5 519.5,201.1 556.8,197.5ZM384.4,206.5 386,206.5 387.1,207.5 387.2,208.5 386.5,209.7 385.5,210.1 383.9,209.5 383.5,207.5ZM385.5,206.7 383.9,207.5 383.8,208.5 384.5,209.5 385.5,209.7 386.8,208.5 386.6,207.5ZM384.5,218.5 384.5,216.9 385.5,217.5ZM535.7,217.5 537.5,216.9 546.5,217.4 573.5,216.6 593.7,217.5 591.5,218.5 576.1,219.5 569.5,220.6 564.5,220.5 563,219.5 559.5,219.3 547.5,223.2 542.5,223.6 540.5,223.3 538.5,221.9 536.3,219.5ZM568.8,217.5 568.9,218.5 570.5,218.6 573.9,218.5 578.6,217.5ZM659.5,226.4 660,227.5 659.5,228 658.5,227.7 658.5,226.9ZM693.5,233.2 697.5,233.3 699,234.5 699.3,237.5 697.5,239.8 694.5,240.1 692.7,238.5 692.5,234.5ZM693.5,233.4 692.5,235.5 693.1,238.5 695.5,239.9 697.5,239.3 699,236.5 698.5,234.5 697.1,233.5ZM702,240.5 703.5,238.7 705.5,237.7 709.5,237.5 728.5,244.5 730.1,245.5 730.3,246.5 728.5,247.5 714.5,247.4 704.5,244.5 702.6,242.5ZM702.6,240.5 703.1,242.5 704.5,244 713.5,246.6 724.5,246.9 729.2,246.5 729,245.5 709.5,237.9 707.5,237.6 705.5,238.1 703.2,239.5ZM453.5,245.8 454.8,246.5 455.6,249.5 454.8,251.5 453.5,252 452.5,251.4 451.8,249.5 452.5,246.6ZM100.5,249.2 101.5,253.5 100.4,256.5 89.5,262.5 86.5,262.7 84.3,261.5 83.6,259.5 84.5,258.2 87.5,256.7 94.5,255.7 95.5,254.5 96.5,250.2 97.5,248.5 98.5,247.9 99.5,248.1ZM99.5,250.3 98.5,249.8 97.5,250.4 96.1,255.5 95.5,256.2 89.5,256.6 86.5,257.3 84.7,258.5 84.2,259.5 84.5,260.8 86.5,262.3 88.5,262.4 93,260.5 96.5,257.4 99.7,255.5 100.3,252.5ZM105.2,262.5 105.5,262 106.1,262.5ZM104.4,272.5 105.2,271.5 106.5,271.2 107.7,271.5 108.5,272.5 107.6,273.5 106.5,273.7 105.2,273.5ZM105.3,272.5 106.5,272.9 107.3,272.5 106.5,272.1ZM382.6,279.5 383.5,278.7 385.5,279.1 390.3,282.5 392.5,283.3 400.5,281.8 401.7,282.5 401.7,284.5 400.5,285.7 393.5,288.6 391.5,288.6 385.8,285.5 382.6,281.5ZM383.7,280.5 386.9,285.5 391.5,288 394.5,287.7 399.5,285.5 400.6,284.5 400.5,283.3 399.5,283.1 391.5,283.7 388.5,282.5 385.5,280.3 384.5,280ZM92,289.5 92.9,287.5 94.5,286.3 98.5,285.2 102.5,285.1 106.7,286.5 112.1,290.5 112.7,291.5 111.5,292.5 107.5,293.7 99.5,294.4 96.5,293.8 93.8,292.5 92.7,291.5ZM93.1,289.5 94,291.5 95.3,292.5 99.5,293.7 105.5,293.4 108.4,292.5 109.8,291.5 109.8,290.5 106.7,287.5 104.5,286.2 101.5,285.6 98.5,285.7 95.6,286.5 94.1,287.5ZM126,307.5 127.2,305.5 129.5,304.7 130,305.5 126.5,307.6ZM148.5,309.7 151.5,310.8 155.5,314.5 154.5,314.6 150.5,312.8 148.1,310.5ZM155.5,314.6 161.9,319.5 166.1,323.5 161.5,324.6 159.5,323.7 156.5,319.7ZM157.5,317.3 157.3,319.5 159.5,322.7 161.5,323.8 163.6,323.5 164,322.5 159.5,318.4ZM169.5,326.8 173.5,328.9 180.5,334.8 181.8,336.5 182,338.5 174.5,338.5 168.3,333.5 167.3,331.5 168.7,329.5ZM170.3,328.5 168.3,331.5 168.4,332.5 171.7,335.5 175.5,338 179.5,338.6 181.5,338 181.8,337.5 180.8,335.5 176.4,331.5 172.5,328.8ZM453.5,331.1 456.5,330.4 458.5,331.2 459.8,332.5 460.6,335.5 459.8,337.5 458.7,338.5 457.5,338.9 455.5,338.6 452.6,336.5 452,333.5ZM455.3,332.5 454.2,333.5 454.1,335.5 455.5,336.8 457.5,336.8 458.5,335.5 458.1,333.5 456.5,332.4ZM354.6,342.5 355.5,341.3 362.5,339.5 373.5,339 374.7,339.5 374.8,341.5 373.5,342.4 366.5,344.3 356.5,344 354.9,343.5ZM374.5,340.5 373.5,339.4 363.5,339.7 356,341.5 355.1,342.5 355.5,343.4 366.5,344 373.5,341.9ZM184.5,340.2 187.8,341.5 201.6,352.5 202.8,354.5 201.5,356.9 200.5,357.2 199.5,356.7 197.2,353.5 195.5,352 189.5,350.7 187.2,349.5 183.5,345.3 183.3,344.5ZM185.5,341.5 184.4,344.5 185.1,345.5 187.5,346.7 189.8,345.5 189.7,344.5 187.7,342.5ZM193.8,349.5 197.5,352.4 199.5,355.6 200.5,356.2 201.5,355.7 201.9,354.5 200.5,352.6 195.5,349.3ZM439.6,347.5 438.5,348.5 427.8,350.5 406.5,353.1 396.5,353.4 391.5,351.6 390.6,350.5 391.5,349.5 396.5,348.4 420.5,348.1 437.5,346.1 439.4,346.5ZM438.8,347.5 438.5,346.9 437.5,346.6 420.5,348.6 396.5,348.8 392.6,349.5 391.3,350.5 392,351.5 396.5,353 406.5,352.8 424.9,350.5 436.4,348.5ZM374,355.5 374.5,354.3 377.5,353.3 380.5,353.9 381.8,355.5 380.5,357.1 378.5,357.6 375.5,356.9ZM374.3,355.5 375.5,356.8 378.5,357.4 380.5,356.8 381.4,355.5 380.5,354.2 377.5,353.5 375.5,354ZM231.4,356.5 231.6,355.5 233.5,354.3 236.2,354.5 237.3,355.5 237.4,356.5 236.6,357.5 234.5,358.4 232.5,357.9ZM246.3,358.5 249.5,357.1 252.5,357.8 263.8,366.5 263.7,368.5 262.5,369.2 256.6,368.5 249.5,365.6 247.5,363.8 246.5,362 246,359.5ZM247.2,359.5 247.4,361.5 248.5,363.5 256.1,367.5 261.5,368.3 262.5,368.2 263,367.5 261.6,365.5 251.7,358.5 248.5,358.5ZM220.1,359.5 220.5,358.8 221.6,359.5ZM270.5,369.7 272.5,370.1 274.5,371.4 277.4,374.5 277.5,376 275.9,376.5 271.5,374.1 270,371.5 269.9,370.5ZM271.5,370.9 271.4,372.5 272.2,373.5 275.5,374.7 273.5,371.9ZM528.6,381.5 530.5,380.5 532.5,380.3 534.5,380.7 535.8,381.5 535,382.5 531.5,383 528.9,382.5ZM530.9,381.5 532.5,382 533.7,381.5ZM284.5,387.5 285.3,385.5 286.5,384.6 290.5,383.7 293.5,384.1 299.2,386.5 299.6,387.5 298.6,388.5 295.5,390 291.5,390.8 286.3,389.5ZM285,387.5 286.9,389.5 291.5,390.5 295.6,389.5 298.4,387.5 298,386.5 296.3,385.5 290.5,384 286.5,385 285.2,386.5ZM514.7,390.5 515.6,389.5 517.5,389 519.5,389.4 520.3,390.5 519.5,391.7 517.5,392.3 515.5,391.9ZM515.7,390.5 516.3,391.5 517.5,391.7 518.5,391.5 519.2,390.5 517.5,389.6ZM301.3,397.5 302.3,396.5 306.5,395.5 316.5,394.2 339.5,395.9 341.8,396.5 342.3,397.5 341.4,398.5 339.5,399.1 317.5,399.9 308.5,399.5 303.2,398.5ZM303.8,397.5 309.5,399.1 316.5,399.5 325.5,398.8 339.5,398.5 341,397.5 339.5,396.6 327.5,396.1 316.5,394.7 309.6,395.5 305.3,396.5ZM324,408.5 329.5,404 330.9,404.5 336.8,410.5 325.5,410.9 324.4,410.5ZM324.4,408.5 324.5,409.8 326.5,410.7 334.5,410.3 335.2,409.5 330.5,404.8 329.5,404.5ZM377.5,416.7 378.5,417.2 380.6,420.5 380.8,425.5 379.5,426.8 374.5,426.8 373.4,425.5 374.2,421.5 375.4,418.5ZM377.5,416.8 375.5,418.5 374.5,420.7 373.5,425.5 374.5,426.6 379.5,426.6 380.7,425.5 380.6,420.5 378.5,417.3ZM416.5,421.5 418.5,420.2 419.5,420.2 421.1,421.5 422.2,423.5 422.2,425.5 421.5,426.7 416,426.5 415.3,425.5ZM416.7,421.5 415.5,425.5 416.3,426.5 421.5,426.5 422.1,425.5 422.1,423.5 421,421.5 419.5,420.3 418.5,420.3Z"/>
<path fill="#ccdc10" stroke="#ccdc10" stroke-width="0.4" fill-rule="evenodd" d="M83.5,138.5 89.5,139.1 97.5,138.5 103.5,139.2 111,138.5 117.5,139.3 124.5,138.5 130.5,139.4 137.5,138.5 142.5,139 144.5,140 146.5,139.1 151.5,138.5 156.5,139.2 158.5,140.3 160.5,139.1 165.5,138.5 170.5,139.3 171.5,140.2 172.5,140.3 173.5,139.4 178.5,138.6 183.5,139.1 185.5,140.4 187.5,139.3 192.5,138.5 197.5,139.2 199.5,140.4 201.5,139.2 206.5,138.5 211.5,139.3 213.5,140.4 215.5,139.1 220.5,138.5 225.5,139.4 226.5,140.3 229.5,139.1 234.5,138.6 238.5,139.1 240.5,140.4 242.5,139.3 247.5,138.5 252.5,139.2 254.5,140.4 256.5,139.2 261.5,138.5 266.5,139.3 268.5,140.4 270.5,139.1 274.5,138.6 279.5,139.1 281.5,140.3 283.5,139.3 288.5,138.5 293.5,139.2 295.5,140.4 297.5,139.3 302.5,138.5 307.5,139.3 309.5,140.4 311.5,139.2 316.5,138.5 321.5,139.3 323.5,140.3 325.5,139.1 330.5,138.6 334.5,139.1 336.5,140.4 338.5,139.3 343.5,138.5 348.5,139.2 350.5,140.4 352.5,139.2 357.5,138.5 362.5,139.2 364.5,140.2 366.5,139 371.5,138.5 377.5,139.5 384.5,138.5 391.5,139.3 398.5,138.5 405.5,139.2 411.6,138.5 419.5,139.2 425.3,138.5 432.5,139.2 440.5,138.5 446.5,139.2 453.5,138.5 460.5,139.4 467.5,138.5 471.5,138.9 474.5,140 476.5,139 481.5,138.6 485.5,139.1 487.5,140.3 489.5,139.3 494.5,138.5 499.5,139.2 501.5,140.4 503.5,139.2 508.5,138.5 513.5,139.3 515.5,140.4 517.5,139.2 522.5,138.5 527.5,139.4 528.5,140.3 529.5,140.3 531.5,139.1 536.5,138.6 540.5,139.1 542.5,140.4 544.5,139.3 549.5,138.5 554.5,139.2 556.5,140.4 558.5,139.2 563.5,138.5 568.5,139.3 570.5,140.4 572.5,139.1 577.5,138.5 582.5,139.4 583.5,140.3 586.5,139.1 591.5,138.6 595.5,139.2 597.5,140.4 599.5,139.3 604.5,138.5 609.5,139.2 611.5,140.4 613.5,139.2 618.5,138.5 623.5,139.3 625.5,140.4 627.5,139.1 631.5,138.6 636.5,139.1 638.5,140.3 640.5,139.3 645.5,138.5 650.5,139.2 652.5,140.4 654.5,139.2 659.5,138.5 664.5,139.3 666.5,140.4 668.5,139.2 673.5,138.5 677.5,139.1 680.5,140.2 682.5,139.1 686.5,138.5 691.5,139 693.5,140.1 696.5,138.9 700.5,138.5 707.5,139.7 714.5,138.5 721.5,139.4 727.9,138.5 734.5,139.2 742.5,138.5 742.5,139 721.5,139.5 714.5,139 708.5,139.5 707.5,140 706.5,139.4 700.5,139 695.5,139.4 693.5,140.3 692.5,139.5 686.5,139.1 681.5,139.5 680.5,140.3 679.5,140.3 678.5,139.5 673.5,139.1 668.5,139.4 666.5,140.5 664.5,139.4 659.5,139.1 654.5,139.4 652.5,140.5 650.5,139.4 645.5,139.1 640.5,139.5 638.5,140.5 636.5,139.4 631.5,139.1 627,139.5 625.5,140.5 623.5,139.5 618.5,139.1 613.5,139.4 611.5,140.5 609.5,139.4 604.5,139.1 599.5,139.4 597.5,140.5 595.5,139.4 591.5,139.1 585.5,139.5 584.5,140.4 583.5,140.4 582.4,139.5 577.5,139.1 572.5,139.4 570.5,140.5 568.5,139.4 563.5,139.1 558.5,139.4 556.5,140.5 554.5,139.4 549.5,139.1 544.5,139.4 542.5,140.5 540.5,139.4 535.5,139.1 530.6,139.5 529.5,140.4 528.5,140.4 527.5,139.5 521.5,139.1 517.5,139.4 515.5,140.5 513.5,139.4 508.5,139.1 503.5,139.4 501.5,140.5 499.5,139.4 494.5,139.1 489.5,139.5 487.5,140.4 486.2,139.5 481.5,139.1 475.5,139.4 474.5,140.2 472.5,139.4 467.5,139 460.5,139.5 453.5,139 405.5,139.4 398.5,139 391.5,139.4 384.5,139 377.5,139.8 371.5,139.1 365.5,139.5 364.5,140.3 362.5,139.4 357.5,139.1 352.5,139.4 350.5,140.5 348.5,139.4 343.5,139.1 338.5,139.5 336.5,140.5 334.5,139.4 330.5,139.1 324.9,139.5 323.5,140.4 322.5,140.4 321.5,139.5 315.5,139.1 311.5,139.4 309.5,140.5 307.5,139.4 302.5,139.1 297.5,139.4 295.5,140.5 293.5,139.4 288.5,139.1 283.5,139.5 282.5,140.3 281.5,140.4 280.1,139.5 275.5,139.1 270.5,139.4 268.5,140.5 266.5,139.5 261.5,139.1 256.5,139.4 254.5,140.5 252.5,139.4 247.5,139.1 242.5,139.4 240.5,140.5 238.5,139.4 234.5,139.1 228.5,139.5 227.5,140.4 226.5,140.4 225.5,139.5 220.5,139.1 215.5,139.4 213.5,140.6 211.5,139.4 206.5,139.1 201.5,139.4 199.5,140.5 197.5,139.4 192.5,139.1 187.5,139.5 185.5,140.5 183.5,139.4 178.5,139.1 173.8,139.5 172.5,140.4 171.5,140.4 170.5,139.5 165.5,139.1 160.5,139.4 158.5,140.4 156.5,139.4 151.5,139 146.5,139.4 144.5,140.2 143.5,139.5 137.5,139 130.5,139.5 124.5,139 89.5,139.4 83.5,139ZM83.5,142.4 83.5,141.8 742.5,141.8 742.5,142.4ZM559.1,196.5 556.8,197.5 519.5,201.1 518.5,201.5 516.6,205.5 505.5,209.3 501,212.5 496.5,217.5 495.5,217.7 490,213.5 487.5,209.9 485.7,208.5 484.5,205.3 482.1,203.5 483.5,202.6 495.5,200.7 539.5,198.1 541.5,197.5 553.5,196.8 558.5,195.8ZM517.6,201.5 517.3,200.5 514.5,199.9 491.5,201.6 489.2,202.5 486.7,204.5 485.9,207.5 490.2,213.5 495.5,217.5 497.4,216.5 500.8,212.5 505.5,209.2 516.3,205.5 517.3,204.5ZM395.1,206.5 397.4,204.5 402.4,201.5 410.5,199.4 429.5,197.5 442.5,197.5 478.4,202.5 479,203.5 476,205.5 474.5,208.3 462.5,207.1 461.2,207.5 462.5,208.6 474.5,209.7 479.2,212.5 479.4,213.5 477.5,215 475.5,215.7 472.5,215.6 469.5,214.6 463.5,214.9 461.5,213.9 456.5,207.3 454.5,206.1 447.5,211.9 441.5,208 438.5,208.7 435.5,211.9 428.5,211.9 427.4,211.5 426.8,209.5 425.5,209.2 424.5,210.2 424.2,211.5 418.5,212.3 417.6,215.5 416.5,216.3 410.5,216.4 408.5,215.9 399.4,209.5 398.5,207.7 395.5,207.9ZM396.1,206.5 396.5,207.2 399.5,206 400.1,206.5 399.1,208.5 399.7,209.5 407.5,215.1 410.5,216.2 416.5,216.1 417.3,215.5 418.5,212.1 423.5,211.6 424.7,209.5 425.5,209.1 427,209.5 428.5,211.7 435.5,211.7 437.5,209.2 439.5,208 441.5,207.9 447.5,211.8 454.5,206 456.5,207.1 461.5,213.7 463.5,214.7 469.5,214.5 474.5,215.6 477.5,214.8 479.2,213.5 478.9,212.5 474.5,210 461.2,208.5 460.4,207.5 461.5,206 473.5,207 474,206.5 473.6,205.5 476.5,203.4 473.9,202.5 445.4,198.5 429.5,198.2 412.5,199.6 401.8,202.5ZM383.9,207.5 385.5,206.7 386.6,207.5 386.8,208.5 385.5,209.7 384.5,209.5 383.8,208.5ZM384.4,207.5 384.5,208.9 385.5,209.3 386.3,208.5 385.5,207.2ZM568.8,217.5 578.6,217.5 573.9,218.5 570.5,218.6 568.9,218.5ZM693.5,233.4 697.1,233.5 698.5,234.5 699,236.5 697.5,239.3 695.5,239.9 693.1,238.5 692.5,235.5ZM693.5,233.6 692.7,235.5 693.5,238.6 695.5,239.5 697.5,238.7 698.6,236.5 698,234.5 695.5,233.4ZM702.6,240.5 703.2,239.5 705.5,238.1 707.5,237.6 709.5,237.9 729,245.5 729.2,246.5 724.5,246.9 713.5,246.6 704.5,244 703.1,242.5ZM703.1,240.5 703.5,242.5 706.5,244.5 715.5,245.9 726.3,245.5 709.5,238.2 707.5,238 705.5,238.5ZM99.5,250.3 100.3,252.5 99.7,255.5 96.5,257.4 93,260.5 88.5,262.4 86.5,262.3 84.5,260.8 84.2,259.5 84.7,258.5 86.5,257.3 89.5,256.6 95.5,256.2 96.1,255.5 97.5,250.4 98.5,249.8ZM84.7,259.5 85.8,261.5 87.5,262.1 89.5,262 93.8,259.5 94.7,257.5 92.5,256.8 88.5,256.9 86.5,257.6ZM105.3,272.5 106.5,272.1 107.3,272.5 106.5,272.9ZM383.7,280.5 384.5,280 385.5,280.3 388.5,282.5 391.5,283.7 399.5,283.1 400.5,283.3 400.6,284.5 399.5,285.5 394.5,287.7 391.5,288 386.9,285.5ZM387.7,284.5 388.2,285.5 392.5,287.5 397.9,285.5 398.5,284.5 389.5,284.1ZM93.1,289.5 94.1,287.5 95.6,286.5 98.5,285.7 101.5,285.6 104.5,286.2 106.7,287.5 109.8,290.5 109.8,291.5 108.4,292.5 105.5,293.4 99.5,293.7 95.3,292.5 94,291.5ZM94.2,289.5 95.2,291.5 96.5,292.3 100.5,293.2 105.8,292.5 107.7,291.5 108,290.5 105.3,287.5 101.5,286.1 96.5,286.8 95.2,287.5ZM157.5,317.3 159.5,318.4 164,322.5 163.6,323.5 161.5,323.8 159.5,322.7 157.3,319.5ZM170.3,328.5 172.5,328.8 176.4,331.5 180.8,335.5 181.8,337.5 181.5,338 179.5,338.6 175.5,338 171.7,335.5 168.4,332.5 168.3,331.5ZM169.9,330.5 170,332.5 175.5,337.2 179.5,338.4 181.4,337.5 180.5,335.5 173.5,329.6 171.5,329.1ZM455.3,332.5 456.5,332.4 458.1,333.5 458.5,335.5 457.5,336.8 455.5,336.8 454.1,335.5 454.2,333.5ZM374.5,340.5 373.5,341.9 366.5,344 355.5,343.4 355.1,342.5 356,341.5 363.5,339.7 373.5,339.4ZM356.1,342.5 359.4,343.5 366.5,343.7 372.9,341.5 373.6,340.5 370.5,340 362.5,340.1 357.4,341.5ZM185.5,341.5 187.7,342.5 189.7,344.5 189.8,345.5 187.5,346.7 185.1,345.5 184.4,344.5ZM438.8,347.5 436.4,348.5 424.9,350.5 406.5,352.8 396.5,353 392,351.5 391.3,350.5 392.6,349.5 396.5,348.8 420.5,348.6 437.5,346.6 438.5,346.9ZM392.2,350.5 392.8,351.5 395.4,352.5 399.5,352.8 406.5,352.5 419.9,350.5 421.5,349.6 424.9,349.5 397.5,349.1 394.2,349.5ZM193.8,349.5 195.5,349.3 200.5,352.6 201.9,354.5 201.5,355.7 200.5,356.2 199.5,355.6 197.5,352.4ZM374.3,355.5 375.5,354 377.5,353.5 380.5,354.2 381.4,355.5 380.5,356.8 378.5,357.4 375.5,356.8ZM374.6,355.5 375.5,356.6 378.5,357.2 380.5,356.6 381.1,355.5 379.5,354 377.5,353.7 375.5,354.2ZM247.2,359.5 248.5,358.5 251.7,358.5 261.6,365.5 263,367.5 262.5,368.2 261.5,368.3 256.1,367.5 248.5,363.5 247.4,361.5ZM271.5,370.9 273.5,371.9 275.5,374.7 272.2,373.5 271.4,372.5ZM530.9,381.5 533.7,381.5 532.5,382ZM285,387.5 285.2,386.5 286.5,385 290.5,384 296.3,385.5 298,386.5 298.4,387.5 295.6,389.5 291.5,390.5 286.9,389.5ZM285.5,387.5 287.5,389.5 291.5,390.3 294.7,389.5 297.3,387.5 296.9,386.5 295.3,385.5 290.5,384.3 286.5,385.5ZM515.7,390.5 517.5,389.6 519.2,390.5 518.5,391.5 517.5,391.7 516.3,391.5ZM303.8,397.5 305.3,396.5 309.6,395.5 316.5,394.7 327.5,396.1 339.5,396.6 341,397.5 339.5,398.5 325.5,398.8 316.5,399.5 309.5,399.1ZM307.5,397.5 309.8,398.5 315.5,399 321.5,398.6 325.1,397.5 324,396.5 316.5,395.2 311.5,395.7 308.7,396.5ZM324.4,408.5 329.5,404.5 330.5,404.8 335.2,409.5 334.5,410.3 326.5,410.7 324.5,409.8ZM324.9,408.5 325.5,409.9 327.5,410.4 330.5,410.4 334.1,409.5 331.5,406.4 329.5,405.2ZM377.5,416.8 378.5,417.3 380.6,420.5 380.7,425.5 379.5,426.6 374.5,426.6 373.5,425.5 374.5,420.7 375.5,418.5ZM377.5,416.9 375.5,418.7 374.5,421 373.7,425.5 374.5,426.4 379.5,426.5 380.6,425.5 380.5,420.5 378.5,417.5ZM416.7,421.5 418.5,420.3 419.5,420.3 421,421.5 422.1,423.5 422.1,425.5 421.5,426.5 416.3,426.5 415.5,425.5ZM416.8,421.5 415.6,425.5 416.5,426.5 421.5,426.3 422,425.5 422.1,423.5 420.9,421.5 419.5,420.3 418.5,420.4Z"/>
<path fill="#e0d810" stroke="#e0d810" stroke-width="0.4" fill-rule="evenodd" d="M83.5,139 117.5,139.4 124.5,139 130.5,139.5 137.5,139 143.5,139.5 144.5,140.2 146.5,139.4 151.5,139 156.5,139.4 158.5,140.4 160.5,139.4 165.5,139.1 170.5,139.5 171.5,140.4 172.5,140.4 173.8,139.5 178.5,139.1 183.5,139.4 185.5,140.5 187.5,139.5 192.5,139.1 197.5,139.4 199.5,140.5 201.5,139.4 206.5,139.1 211.5,139.4 213.5,140.6 215.5,139.4 220.5,139.1 225.5,139.5 226.5,140.4 227.5,140.4 228.5,139.5 234.5,139.1 238.5,139.4 240.5,140.5 242.5,139.4 247.5,139.1 252.5,139.4 254.5,140.5 256.5,139.4 261.5,139.1 266.5,139.5 268.5,140.5 270.5,139.4 275.5,139.1 280.1,139.5 281.5,140.4 282.5,140.3 283.5,139.5 288.5,139.1 293.5,139.4 295.5,140.5 297.5,139.4 302.5,139.1 307.5,139.4 309.5,140.5 311.5,139.4 315.5,139.1 321.5,139.5 322.5,140.4 323.5,140.4 324.9,139.5 330.5,139.1 334.5,139.4 336.5,140.5 338.5,139.5 343.5,139.1 348.5,139.4 350.5,140.5 352.5,139.4 357.5,139.1 362.5,139.4 364.5,140.3 365.5,139.5 371.5,139.1 377.5,139.8 384.5,139 391.5,139.4 398.5,139 405.5,139.4 453.5,139 460.5,139.5 467.5,139 472.5,139.4 474.5,140.2 475.5,139.4 481.5,139.1 486.2,139.5 487.5,140.4 489.5,139.5 494.5,139.1 499.5,139.4 501.5,140.5 503.5,139.4 508.5,139.1 513.5,139.4 515.5,140.5 517.5,139.4 521.5,139.1 527.5,139.5 528.5,140.4 529.5,140.4 530.6,139.5 535.5,139.1 540.5,139.4 542.5,140.5 544.5,139.4 549.5,139.1 554.5,139.4 556.5,140.5 558.5,139.4 563.5,139.1 568.5,139.4 570.5,140.5 572.5,139.4 577.5,139.1 582.4,139.5 583.5,140.4 584.5,140.4 585.5,139.5 591.5,139.1 595.5,139.4 597.5,140.5 599.5,139.4 604.5,139.1 609.5,139.4 611.5,140.5 613.5,139.4 618.5,139.1 623.5,139.5 625.5,140.5 627,139.5 631.5,139.1 636.5,139.4 638.5,140.5 640.5,139.5 645.5,139.1 650.5,139.4 652.5,140.5 654.5,139.4 659.5,139.1 664.5,139.4 666.5,140.5 668.5,139.4 673.5,139.1 678.5,139.5 679.5,140.3 680.5,140.3 681.5,139.5 686.5,139.1 692.5,139.5 693.5,140.3 695.5,139.4 700.5,139 706.5,139.4 707.5,140 708.5,139.5 714.5,139 721.5,139.5 742.5,139 742.5,139.8 721.5,140.2 714.5,139.8 707.5,140.4 700.5,139.8 693.5,140.4 686.5,139.8 680.5,140.5 673.5,139.8 667.2,140.5 667.5,140.9 742.5,140.9 742.5,141.8 83.5,141.8 83.5,140.9 155.5,140.9 158.5,140.5 151.5,139.8 144.5,140.4 137.5,139.8 130.5,140.2 124.5,139.8 83.5,139.8ZM158.5,140.5 165.5,140.9 171.5,140.5 165.5,139.8ZM173,140.5 173.5,140.9 184.5,140.9 184.8,140.5 178.5,139.8ZM186.2,140.5 186.5,140.9 198.5,140.9 198.8,140.5 192.5,139.8ZM200.2,140.5 200.5,140.9 212.5,140.9 212.7,140.5 206.5,139.8ZM214.3,140.5 214.5,140.9 225.5,140.9 226.1,140.5 220.5,139.8ZM227.8,140.5 239.5,140.9 239.8,140.5 233.5,139.8ZM241.2,140.5 241.5,140.9 253.5,140.9 253.8,140.5 247.5,139.8ZM255.2,140.5 255.5,140.9 267.5,140.9 267.8,140.5 261.5,139.8ZM269.2,140.5 269.5,140.9 280.5,140.9 280.9,140.5 275.5,139.8ZM282.3,140.5 294.5,140.9 294.8,140.5 288.5,139.8ZM296.2,140.5 296.5,140.9 308.5,140.9 308.8,140.5 302.5,139.8ZM310.2,140.5 310.5,140.9 322.7,140.5 316.5,139.8ZM324.1,140.5 324.5,140.9 335.5,140.9 335.8,140.5 329.5,139.8ZM337.2,140.5 337.5,140.9 349.5,140.9 349.8,140.5 343.5,139.8ZM351.2,140.5 351.5,140.9 484.5,140.9 487,140.5 481.5,139.8 474.5,140.4 467.5,139.8 460.5,140.2 384.5,139.8 377.5,140.3 371.5,139.8 364.5,140.5 357.5,139.8ZM488,140.5 488.5,140.9 500.5,140.9 500.8,140.5 494.5,139.8ZM502.2,140.5 502.5,140.9 514.5,140.9 514.8,140.5 508.5,139.8ZM516.2,140.5 516.5,140.9 528.4,140.5 522.5,139.8ZM530,140.5 530.5,140.9 541.5,140.9 541.8,140.5 535.5,139.8ZM543.2,140.5 543.5,140.9 555.5,140.9 555.8,140.5 549.5,139.8ZM557.2,140.5 557.5,140.9 569.5,140.9 569.8,140.5 563.5,139.8ZM571.2,140.5 571.5,140.9 582.5,140.9 583,140.5 577.5,139.8ZM584.6,140.5 596.5,140.9 596.8,140.5 590.5,139.8ZM598.2,140.5 598.5,140.9 610.5,140.9 610.8,140.5 604.5,139.8ZM612.2,140.5 612.5,140.9 624.5,140.9 624.8,140.5 618.5,139.8ZM626.2,140.5 626.5,140.9 637.5,140.9 637.9,140.5 632.5,139.8ZM639.2,140.5 651.5,140.9 651.8,140.5 645.5,139.8ZM653.2,140.5 653.5,140.9 665.5,140.9 665.8,140.5 659.5,139.8ZM396.1,206.5 401.8,202.5 412.5,199.6 429.5,198.2 445.4,198.5 473.9,202.5 476.5,203.4 473.6,205.5 474,206.5 473.5,207 461.5,206 460.4,207.5 461.2,208.5 474.5,210 478.9,212.5 479.2,213.5 477.5,214.8 474.5,215.6 469.5,214.5 463.5,214.7 461.5,213.7 456.5,207.1 454.5,206 447.5,211.8 441.5,207.9 439.5,208 437.5,209.2 435.5,211.7 428.5,211.7 427,209.5 425.5,209.1 424.7,209.5 423.5,211.6 418.5,212.1 417.3,215.5 416.5,216.1 410.5,216.2 407.5,215.1 399.7,209.5 399.1,208.5 400.1,206.5 399.5,206 396.5,207.2ZM399.4,208.5 400.5,210 408.5,215.6 410.5,216.1 416.5,215.9 418.5,211.9 423.5,211.4 424.5,209.5 425.5,209 427.2,209.5 428.5,211.5 435.5,211.5 437.5,209.1 439.5,208 441.5,207.8 447.5,211.7 454.5,205.9 456.5,207 461.5,213.5 463.5,214.5 469.5,214.4 474.5,215.4 477.5,214.7 478.9,213.5 478.6,212.5 474.5,210.3 460.7,208.5 460.2,207.5 460.1,204.5 458.5,203 452.5,200.8 449.5,200.3 447.4,200.5 444.5,199.7 425.5,199.6 422.5,200.3 418.5,200 411.5,200.8 404.5,203.1 399.8,207.5ZM517.6,201.5 517.3,204.5 516.3,205.5 505.5,209.2 500.8,212.5 497.4,216.5 495.5,217.5 490.2,213.5 485.9,207.5 486.7,204.5 489.2,202.5 491.5,201.6 514.5,199.9 517.3,200.5ZM517.3,202.5 516.5,200.8 514.5,200.4 491.5,202 487.9,204.5 486.6,206.5 486.5,207.5 490.4,213.5 495.5,217.3 497.1,216.5 500.6,212.5 505.5,209.1 516,205.5 517.1,204.5ZM384.4,207.5 385.5,207.2 386.3,208.5 385.5,209.3 384.5,208.9ZM385.5,207.9 385,208.5 385.7,208.5ZM693.5,233.6 695.5,233.4 698,234.5 698.6,236.5 697.5,238.7 695.5,239.5 693.5,238.6 692.7,235.5ZM693.5,233.9 692.9,235.5 693.5,238.2 694.5,239 696.5,239 697.5,238.1 698.2,236.5 697.5,234.5 695.5,233.6ZM703.1,240.5 705.5,238.5 707.5,238 709.5,238.2 726.3,245.5 715.5,245.9 706.5,244.5 703.5,242.5ZM703.6,240.5 703.5,241.5 704.5,243.1 707.5,244.3 711.5,243.9 713,242.5 713.2,241.5 711.6,239.5 708.5,238.4 705.5,238.9ZM84.9,260.5 85.2,258.5 87.5,257.2 91.5,256.7 94.7,257.5 93.8,259.5 89.5,262 86.5,261.9ZM85.2,259.5 85.4,260.5 86.5,261.4 88.5,261.9 92.2,260.5 94,258.5 93.6,257.5 89.5,257 86.5,257.9ZM387.7,284.5 389.5,284.1 398.5,284.5 397.9,285.5 392.5,287.5 388.2,285.5ZM390.6,285.5 392.5,286.2 394.7,285.5ZM94.2,289.5 95.2,287.5 96.5,286.8 101.5,286.1 105.3,287.5 108,290.5 107.7,291.5 105.8,292.5 100.5,293.2 96.5,292.3 95.2,291.5ZM95.2,289.5 96.6,291.5 100.5,292.6 104.5,292 105.7,291.5 106.4,290.5 105.2,288.5 103.9,287.5 100.5,286.6 96.5,287.5ZM169.9,330.5 171.5,329.1 173.5,329.6 180.5,335.5 181.4,337.5 179.5,338.4 175.5,337.2 170,332.5ZM170.6,330.5 171,332.5 176.5,337.2 179.5,338.2 181,337.5 180.2,335.5 174.4,330.5 172.5,329.6ZM356.1,342.5 357.4,341.5 362.5,340.1 370.5,340 373.6,340.5 372.9,341.5 366.5,343.7 359.4,343.5ZM358.5,342.5 362,343.5 365.5,343.6 369.2,342.5 370.2,341.5 367.6,340.5 363.5,340.3 359,341.5ZM392.2,350.5 394.2,349.5 397.5,349.1 424.9,349.5 421.5,349.6 419.9,350.5 406.5,352.5 399.5,352.8 395.4,352.5 392.8,351.5ZM393.4,350.5 394,351.5 398.5,352.5 407.5,351.7 410.2,350.5 400.5,349.5 396.5,349.7ZM374.6,355.5 375.5,354.2 377.5,353.7 379.5,354 381.1,355.5 380.5,356.6 378.5,357.2 375.5,356.6ZM374.9,355.5 376.5,356.9 378.5,357.1 380.2,356.5 380.8,355.5 379.5,354.2 377.5,353.9 375.5,354.5ZM285.5,387.5 286.5,385.5 290.5,384.3 295.3,385.5 296.9,386.5 297.3,387.5 294.7,389.5 291.5,390.3 287.5,389.5ZM286,387.5 286.5,388.5 288.1,389.5 291.5,390 294.5,389.2 296.5,387.5 296.1,386.5 294.5,385.5 290.5,384.6 287.1,385.5ZM307.5,397.5 308.7,396.5 311.5,395.7 316.5,395.2 324,396.5 325.1,397.5 321.5,398.6 315.5,399 309.8,398.5ZM311.1,397.5 315.5,398.4 320.5,397.5 320.1,396.5 316.5,395.9 311.6,396.5ZM324.9,408.5 329.5,405.2 331.5,406.4 334.1,409.5 330.5,410.4 327.5,410.4 325.5,409.9ZM332.5,408.5 330.5,406.5 329.5,406.2 326.5,407.5 325.5,408.5 326,409.5 328.5,409.9 332,409.5ZM377.5,416.9 378.5,417.5 380.5,420.5 380.6,425.5 379.5,426.5 374.5,426.4 373.7,425.5 374.5,421 375.5,418.7ZM377.5,417.1 375.5,418.8 374.5,421.3 373.8,425.5 374.5,426.3 379.5,426.3 380.5,425.5 380.4,420.5 378.5,417.6ZM416.8,421.5 418.5,420.4 419.5,420.3 420.9,421.5 422.1,423.5 422,425.5 421.5,426.3 416.5,426.5 415.6,425.5ZM417,421.5 415.8,425.5 416.5,426.3 421.5,426.2 422,423.5 420.8,421.5 419.5,420.4 418.5,420.5Z"/>
<path fill="#e0b810" stroke="#e0b810" stroke-width="0.4" fill-rule="evenodd" d="M83.5,139.8 124.5,139.8 130.5,140.2 137.5,139.8 144.5,140.4 151.5,139.8 158.5,140.5 155.5,140.9 83.5,140.9ZM158.5,140.5 165.5,139.8 171.5,140.5 165.5,140.9ZM173,140.5 178.5,139.8 184.8,140.5 184.5,140.9 173.5,140.9ZM186.2,140.5 192.5,139.8 198.8,140.5 198.5,140.9 186.5,140.9ZM200.2,140.5 206.5,139.8 212.7,140.5 212.5,140.9 200.5,140.9ZM214.3,140.5 220.5,139.8 226.1,140.5 225.5,140.9 214.5,140.9ZM227.8,140.5 233.5,139.8 239.8,140.5 239.5,140.9ZM241.2,140.5 247.5,139.8 253.8,140.5 253.5,140.9 241.5,140.9ZM255.2,140.5 261.5,139.8 267.8,140.5 267.5,140.9 255.5,140.9ZM269.2,140.5 275.5,139.8 280.9,140.5 280.5,140.9 269.5,140.9ZM282.3,140.5 288.5,139.8 294.8,140.5 294.5,140.9ZM296.2,140.5 302.5,139.8 308.8,140.5 308.5,140.9 296.5,140.9ZM310.2,140.5 316.5,139.8 322.7,140.5 310.5,140.9ZM324.1,140.5 329.5,139.8 335.8,140.5 335.5,140.9 324.5,140.9ZM337.2,140.5 343.5,139.8 349.8,140.5 349.5,140.9 337.5,140.9ZM351.2,140.5 357.5,139.8 364.5,140.5 371.5,139.8 377.5,140.3 384.5,139.8 460.5,140.2 467.5,139.8 474.5,140.4 481.5,139.8 487,140.5 484.5,140.9 351.5,140.9ZM488,140.5 494.5,139.8 500.8,140.5 500.5,140.9 488.5,140.9ZM502.2,140.5 508.5,139.8 514.8,140.5 514.5,140.9 502.5,140.9ZM516.2,140.5 522.5,139.8 528.4,140.5 516.5,140.9ZM530,140.5 535.5,139.8 541.8,140.5 541.5,140.9 530.5,140.9ZM543.2,140.5 549.5,139.8 555.8,140.5 555.5,140.9 543.5,140.9ZM557.2,140.5 563.5,139.8 569.8,140.5 569.5,140.9 557.5,140.9ZM571.2,140.5 577.5,139.8 583,140.5 582.5,140.9 571.5,140.9ZM584.6,140.5 590.5,139.8 596.8,140.5 596.5,140.9ZM598.2,140.5 604.5,139.8 610.8,140.5 610.5,140.9 598.5,140.9ZM612.2,140.5 618.5,139.8 624.8,140.5 624.5,140.9 612.5,140.9ZM626.2,140.5 632.5,139.8 637.9,140.5 637.5,140.9 626.5,140.9ZM639.2,140.5 645.5,139.8 651.8,140.5 651.5,140.9ZM653.2,140.5 659.5,139.8 665.8,140.5 665.5,140.9 653.5,140.9ZM667.2,140.5 673.5,139.8 680.5,140.5 686.5,139.8 693.5,140.4 700.5,139.8 707.5,140.4 714.5,139.8 721.5,140.2 742.5,139.8 742.5,140.9 667.5,140.9ZM399.4,208.5 399.8,207.5 404.5,203.1 411.5,200.8 418.5,200 422.5,200.3 425.5,199.6 444.5,199.7 447.4,200.5 449.5,200.3 452.5,200.8 458.5,203 460.1,204.5 460.2,207.5 460.7,208.5 474.5,210.3 478.6,212.5 478.9,213.5 477.5,214.7 474.5,215.4 469.5,214.4 463.5,214.5 461.5,213.5 456.5,207 454.5,205.9 447.5,211.7 441.5,207.8 439.5,208 437.5,209.1 435.5,211.5 428.5,211.5 427.2,209.5 425.5,209 424.5,209.5 423.5,211.4 418.5,211.9 416.5,215.9 410.5,216.1 408.5,215.6 400.5,210ZM399.7,208.5 400.5,209.8 408.5,215.4 410.5,215.9 416.5,215.8 417.4,214.5 417.7,212.5 418.5,211.7 423.5,211.1 424.4,209.5 425.5,208.9 427.3,209.5 428.5,211.3 435.5,211.4 437.5,209 439.5,207.9 441.5,207.7 447.5,211.6 454.5,205.8 456.5,206.9 461.5,213.3 463.5,214.3 469.5,214.2 474.5,215.3 476.5,214.9 478.6,213.5 477.5,211.9 474.5,210.6 463.5,209.4 460.5,208.6 459.4,204.5 457.5,203 450.5,201 444.5,200.4 425.5,200.2 412.5,201.4 404.5,203.8 400.5,207.2ZM517.3,202.5 517.1,204.5 516,205.5 505.5,209.1 500.6,212.5 497.1,216.5 495.5,217.3 490.4,213.5 486.5,207.5 486.6,206.5 487.9,204.5 491.5,202 514.5,200.4 516.5,200.8ZM517,202.5 516.5,201.4 514.5,200.7 492.5,202.2 489.5,203.6 487,206.5 486.8,207.5 490.5,213.4 495.5,217.1 496.9,216.5 500.5,212.4 505.5,209 515.7,205.5 516.9,204.5ZM385,208.5 385.5,207.9 385.7,208.5ZM693.5,233.9 695.5,233.6 697.5,234.5 698.2,236.5 697.5,238.1 696.5,239 694.5,239 693.5,238.2 692.9,235.5ZM693.5,234.2 693,235.5 693.5,237.7 694.5,238.6 696.5,238.5 697.8,236.5 697.1,234.5 694.5,233.7ZM703.6,240.5 705.5,238.9 708.5,238.4 711.6,239.5 713.2,241.5 713,242.5 711.5,243.9 707.5,244.3 704.5,243.1 703.5,241.5ZM704.1,240.5 704.5,242.5 707.5,243.9 710.5,243.4 712,241.5 710.7,239.5 708.5,238.7 705.5,239.3ZM85.2,259.5 86.5,257.9 89.5,257 93.6,257.5 94,258.5 92.2,260.5 88.5,261.9 86.5,261.4 85.4,260.5ZM85.7,259.5 86.5,261 89.5,261.5 91.7,260.5 93.4,258.5 92.5,257.5 89.5,257.2 86.5,258.3ZM390.6,285.5 394.7,285.5 392.5,286.2ZM95.2,289.5 96.5,287.5 100.5,286.6 103.9,287.5 105.2,288.5 106.4,290.5 105.7,291.5 104.5,292 100.5,292.6 96.6,291.5ZM96.3,289.5 97.5,291 99.5,291.8 102.5,291.7 104.7,290.5 103.8,288.5 100.5,287.2 97.5,287.8ZM170.6,330.5 172.5,329.6 174.4,330.5 180.2,335.5 181,337.5 179.5,338.2 176.5,337.2 171,332.5ZM171.2,330.5 171,331.5 171.6,332.5 176.1,336.5 178.5,337.8 180.6,337.5 179.8,335.5 175.3,331.5 172.5,330ZM358.5,342.5 359,341.5 363.5,340.3 367.6,340.5 370.2,341.5 369.2,342.5 365.5,343.6 362,343.5ZM360.2,342.5 365.5,343.2 368.1,342.5 368.3,341.5 363.5,340.7 360.4,341.5ZM393.4,350.5 396.5,349.7 400.5,349.5 410.2,350.5 407.5,351.7 398.5,352.5 394,351.5ZM396.4,351.5 404,351.5 404,350.5 396.5,350.5ZM374.9,355.5 375.5,354.5 377.5,353.9 379.5,354.2 380.8,355.5 380.2,356.5 378.5,357.1 376.5,356.9ZM375.2,355.5 376.1,356.5 377.5,356.9 379.5,356.7 380.5,355.5 379.5,354.4 377.5,354.1 375.9,354.5ZM286,387.5 287.1,385.5 290.5,384.6 294.5,385.5 296.1,386.5 296.5,387.5 294.5,389.2 291.5,390 288.1,389.5 286.5,388.5ZM286.4,387.5 287.5,388.9 290.5,389.8 293.5,389.3 295.7,387.5 295.3,386.5 293.7,385.5 290.5,384.8 287.7,385.5 286.6,386.5ZM311.1,397.5 311.6,396.5 316.5,395.9 320.1,396.5 320.5,397.5 315.5,398.4ZM325.5,408.5 326.5,407.5 329.5,406.2 330.5,406.5 332.5,408.5 332,409.5 328.5,409.9 326,409.5ZM326.8,408.5 328.5,409 330.1,408.5 328.5,407.7ZM377.5,417.1 378.5,417.6 380.4,420.5 380.5,425.5 379.5,426.3 374.5,426.3 373.8,425.5 374.5,421.3 375.5,418.8ZM377.5,417.2 375.2,419.5 374,425.5 374.5,426.1 379.5,426.2 380.4,425.5 380.2,420.5 378.5,417.8ZM417,421.5 418.5,420.5 419.5,420.4 420.8,421.5 422,423.5 421.5,426.2 416.5,426.3 415.8,425.5ZM417.1,421.5 415.9,425.5 416.5,426.1 421.5,426 421.9,423.5 420.7,421.5 419.5,420.5Z"/>
<path fill="#e09c10" stroke="#e09c10" stroke-width="0.4" fill-rule="evenodd" d="M399.7,208.5 400.5,207.2 404.5,203.8 412.5,201.4 425.5,200.2 444.5,200.4 450.5,201 457.5,203 459.4,204.5 460.5,208.6 463.5,209.4 474.5,210.6 477.5,211.9 478.6,213.5 476.5,214.9 474.5,215.3 469.5,214.2 463.5,214.3 461.5,213.3 456.5,206.9 454.5,205.8 447.5,211.6 441.5,207.7 439.5,207.9 437.5,209 435.5,211.4 428.5,211.3 427.3,209.5 425.5,208.9 424.4,209.5 423.5,211.1 418.5,211.7 417.7,212.5 417.4,214.5 416.5,215.8 410.5,215.9 408.5,215.4 400.5,209.8ZM399.9,208.5 400.5,209.6 405.9,213.5 410.5,215.8 416.5,215.6 417.5,212.5 418.5,211.5 423.5,210.8 424.2,209.5 425.5,208.8 427.5,209.5 428.5,211.1 435.5,211.2 438.5,208.2 441.5,207.7 447.5,211.6 454.5,205.7 456.2,206.5 461.5,213.1 463.5,214.2 469.5,214.1 474.5,215.1 476.5,214.8 478.3,213.5 477.5,212.1 474.5,210.8 463.5,209.6 460.5,208.8 459.6,207.5 459,204.5 457.5,203.4 453.5,202 444.5,200.7 425.5,200.7 412.5,201.7 404.5,204.2ZM517,202.5 516.9,204.5 515.7,205.5 505.5,209 500.5,212.4 496.9,216.5 495.5,217.1 490.5,213.4 486.8,207.5 487,206.5 489.5,203.6 492.5,202.2 514.5,200.7 516.5,201.4ZM516.8,202.5 515.5,201.2 513.5,201 491.5,202.7 488.1,205.5 487.1,207.5 490.5,213.1 495.5,216.9 496.7,216.5 500.5,212.2 505.5,208.8 515.5,205.4 516.7,204.5ZM693.5,234.2 694.5,233.7 697.1,234.5 697.8,236.5 696.5,238.5 694.5,238.6 693.5,237.7 693,235.5ZM693.5,234.4 693.2,235.5 693.7,237.5 695.5,238.4 696.5,238.1 697.4,236.5 696.6,234.5 694.5,233.9ZM704,241.5 704.1,240.5 705.1,239.5 707.5,238.7 710.7,239.5 712,241.5 710.5,243.4 708.5,244 705.5,243.3ZM704.6,240.5 704.5,241.5 705,242.5 707.5,243.5 709.5,243.3 711.2,241.5 710.5,240 708.5,239.1 706.5,239.2ZM85.7,259.5 86.5,258.3 89.5,257.2 92.5,257.5 93.4,258.5 91.7,260.5 89.5,261.5 86.5,261ZM92.9,258.5 91.5,257.5 89.5,257.4 86.8,258.5 86.2,259.5 86.6,260.5 87.5,261.1 89.5,261.2 91.5,260.3ZM96.3,289.5 97.5,287.8 100.5,287.2 103.8,288.5 104.7,290.5 102.5,291.7 99.5,291.8 97.5,291ZM97.8,289.5 98.5,290.5 100.5,291 102.7,290.5 103,289.5 102,288.5 100.5,288.1 98.5,288.4ZM171.2,330.5 172.5,330 175.3,331.5 179.8,335.5 180.6,337.5 178.5,337.8 176.1,336.5 171.6,332.5 171,331.5ZM172,330.5 171.5,331.5 174.2,334.5 178.3,337.5 180.1,337.5 180.2,336.5 176.1,332.5 173.5,330.5ZM360.2,342.5 360.4,341.5 363.5,340.7 368.3,341.5 368.1,342.5 365.5,343.2ZM361.6,342.5 365.5,342.8 366.8,342.5 366.8,341.5 362.5,341.3 361.8,341.5ZM396.4,351.5 396.5,350.5 404,350.5 404,351.5ZM375.2,355.5 375.9,354.5 377.5,354.1 379.5,354.4 380.5,355.5 379.5,356.7 377.5,356.9 376.1,356.5ZM375.4,355.5 377.5,356.8 379.4,356.5 380.2,355.5 379.2,354.5 377.5,354.2 376.3,354.5ZM286.4,387.5 286.6,386.5 287.7,385.5 290.5,384.8 293.7,385.5 295.3,386.5 295.7,387.5 293.5,389.3 290.5,389.8 287.5,388.9ZM286.8,387.5 287.5,388.6 290.5,389.6 293.5,389 295.1,387.5 294.7,386.5 293.5,385.8 290.5,385.1 287.5,386ZM326.8,408.5 328.5,407.7 330.1,408.5 328.5,409ZM377.5,417.2 378.5,417.8 380.2,420.5 380.4,425.5 379.5,426.2 374.5,426.1 374,425.5 375.2,419.5ZM377.5,417.3 375.3,419.5 374.2,424.5 374.5,426 379.5,426 380.2,425.5 380.1,420.5 378.5,418ZM417.1,421.5 419.5,420.5 420.7,421.5 421.9,423.5 421.5,426 416.5,426.1 415.9,425.5ZM417.2,421.5 416.1,424.5 416.5,426 421.5,425.9 421.8,423.5 420.5,421.5 419.5,420.7Z"/>
<path fill="#e06c0c" stroke="#e06c0c" stroke-width="0.4" fill-rule="evenodd" d="M399.9,208.5 404.5,204.2 412.5,201.7 425.5,200.7 444.5,200.7 453.5,202 457.5,203.4 459,204.5 459.6,207.5 460.5,208.8 463.5,209.6 474.5,210.8 477.5,212.1 478.3,213.5 476.5,214.8 474.5,215.1 469.5,214.1 463.5,214.2 461.5,213.1 456.2,206.5 454.5,205.7 447.5,211.6 441.5,207.7 438.5,208.2 435.5,211.2 428.5,211.1 427.5,209.5 425.5,208.8 424.2,209.5 423.5,210.8 418.5,211.5 417.5,212.5 416.5,215.6 410.5,215.8 405.9,213.5 400.5,209.6ZM400.2,208.5 400.7,209.5 406.1,213.5 410.5,215.6 416.5,215.4 417.3,212.5 418.1,211.5 422.5,211 425.5,208.7 427.5,209.3 428.5,210.8 435.5,211 438.5,208.1 441.5,207.6 447.5,211.5 454.5,205.7 456.3,206.5 461.5,212.9 463.5,214 469.5,214 474.5,215 476.5,214.6 478,213.5 477.5,212.4 474.5,211 462.5,209.7 460.5,209.1 459.5,207.9 458.7,204.5 457.5,203.7 452.5,202.1 444.5,201 425.5,200.9 412.5,202 404.5,204.6ZM516.8,202.5 516.7,204.5 515.5,205.4 505.5,208.8 500.5,212.2 496.7,216.5 495.5,216.9 490.5,213.1 487.1,207.5 488.1,205.5 491.5,202.7 513.5,201 515.5,201.2ZM516.5,202.5 514.5,201.3 492.5,202.8 489.5,204.5 487.4,207.5 490.5,212.8 495.5,216.7 496.5,216.4 500.5,212 504.5,209.2 515,205.5 516.4,204.5ZM693.5,234.4 694.5,233.9 696.6,234.5 697.4,236.5 696.5,238.1 695.5,238.4 693.7,237.5 693.2,235.5ZM694.5,234.1 693.5,235 693.5,236.5 694.5,237.8 695.5,238.1 696.6,237.5 696.9,235.5 696.1,234.5ZM704.5,241.5 705.5,239.7 707.5,239 709.8,239.5 711,240.5 711.2,241.5 709.5,243.3 707.5,243.5 705.5,242.9ZM705.2,240.5 705,241.5 705.5,242.4 707.5,243.2 709.5,242.8 710.6,241.5 710.4,240.5 708.5,239.4 706.5,239.6ZM86.2,259.5 86.8,258.5 89.5,257.4 91.5,257.5 92.9,258.5 91.5,260.3 89.5,261.2 87.5,261.1 86.6,260.5ZM86.7,259.5 87.5,260.7 89.5,260.9 92,259.5 92.3,258.5 89.5,257.7 87.3,258.5ZM97.8,289.5 98.5,288.4 100.5,288.1 102,288.5 103,289.5 102.7,290.5 100.5,291 98.5,290.5ZM172,330.5 173.5,330.5 179.5,335.5 180.2,336.5 180.1,337.5 178.3,337.5 174.2,334.5 171.5,331.5ZM172.5,330.8 172,331.5 173.6,333.5 177.5,336.6 179.5,337.2 179.8,336.5 174.4,331.5ZM361.6,342.5 361.8,341.5 362.5,341.3 366.8,341.5 366.8,342.5 365.5,342.8ZM364.7,342.5 364.5,342.1 363.9,342.5ZM375.4,355.5 376.3,354.5 377.5,354.2 379.2,354.5 380.2,355.5 379.4,356.5 377.5,356.8ZM375.8,355.5 377.5,356.6 378.8,356.5 379.9,355.5 378.6,354.5 377.5,354.4ZM286.8,387.5 287.5,386 290.5,385.1 293.5,385.8 294.7,386.5 295.1,387.5 293.5,389 290.5,389.6 287.5,388.6ZM287.2,387.5 287.9,388.5 290.5,389.3 293.5,388.6 294.5,387.5 293.5,386.2 290.5,385.3 288.5,385.8 287.5,386.5ZM377.5,417.3 378.5,418 380.1,420.5 380.2,425.5 379.5,426 374.5,426 374.2,424.5 375.3,419.5ZM377.5,417.4 375.4,419.5 374.3,424.5 374.5,425.8 378.5,426 380,425.5 380,420.5ZM417.2,421.5 419.5,420.7 420.5,421.5 421.8,423.5 421.5,425.9 416.5,426 416.1,424.5ZM417.4,421.5 416.2,424.5 416.5,425.8 421.5,425.7 421.7,423.5 420.5,421.6 419.5,420.9Z"/>
<path fill="#e04c10" stroke="#e04c10" stroke-width="0.4" fill-rule="evenodd" d="M400.2,208.5 404.5,204.6 412.5,202 425.5,200.9 444.5,201 452.5,202.1 457.5,203.7 458.7,204.5 459.5,207.9 460.5,209.1 462.5,209.7 474.5,211 477.5,212.4 478,213.5 476.5,214.6 474.5,215 469.5,214 463.5,214 461.5,212.9 456.3,206.5 454.5,205.7 447.5,211.5 441.5,207.6 438.5,208.1 435.5,211 428.5,210.8 427.5,209.3 425.5,208.7 422.5,211 418.1,211.5 417.3,212.5 416.5,215.4 410.5,215.6 406.1,213.5 400.7,209.5ZM400.4,208.5 402.2,210.5 408.5,214.8 410.5,215.5 413.5,215.5 416.5,215.1 417.1,212.5 418.5,211.1 422.5,210.9 424.5,208.9 425.5,208.6 427.5,209.1 428.5,210.6 429.5,210.9 435.5,210.8 437.5,208.6 440.5,207.3 442.5,207.8 447.5,211.2 453.5,205.9 455.5,205.7 458.5,208.8 459.5,208.5 458.3,204.5 452.5,202.3 444.5,201.3 426.5,201.2 413.5,202.2 409.5,203.1 404.5,204.9ZM459.5,208.5 459.3,209.5 461.5,212.7 463.5,213.8 469.5,213.9 474.5,214.8 476.4,214.5 477.7,213.5 477.3,212.5 474.5,211.2 462.5,209.9ZM516.4,204.5 515,205.5 504.5,209.2 500.5,212 496.5,216.4 495.5,216.7 490.5,212.8 487.4,207.5 489.5,204.5 492.5,202.8 514.5,201.3 516.5,202.5ZM516.5,203.5 515.5,201.9 514.5,201.7 492.5,203.1 489.9,204.5 487.7,207.5 490.5,212.6 495.5,216.5 496.5,216 500.5,211.8 504.5,209 514.7,205.5 516.1,204.5ZM693.8,234.5 695.5,234.3 696.5,234.9 697,236.5 696.5,237.6 695.5,238.1 694.1,237.5 693.4,235.5ZM694.5,234.4 693.6,235.5 694.5,237.5 695.5,237.7 696.5,236.8 696.6,235.5 695.5,234.5ZM705.2,240.5 706.5,239.6 708.5,239.4 710.4,240.5 710.6,241.5 709.5,242.8 707.5,243.2 705.5,242.4 705,241.5ZM705.5,241.5 706.4,242.5 707.5,242.8 709.1,242.5 710.1,241.5 709.5,240.3 707.5,239.8 705.8,240.5ZM86.7,259.5 87.3,258.5 89.5,257.7 92.3,258.5 92,259.5 89.5,260.9 87.5,260.7ZM87.3,259.5 88.1,260.5 89.5,260.6 91.5,259.5 91.6,258.5 88.5,258.3ZM172.5,330.8 174.4,331.5 179.8,336.5 179.5,337.2 177.5,336.6 173.6,333.5 172,331.5ZM172.9,331.5 174.5,333.7 178.2,336.5 179,336.5 175,332.5ZM363.9,342.5 364.5,342.1 364.7,342.5ZM375.8,355.5 377.5,354.4 378.6,354.5 379.9,355.5 378.8,356.5 377.5,356.6ZM376.1,355.5 377.5,356.4 379.5,355.5 377.5,354.7ZM287.2,387.5 287.5,386.5 288.5,385.8 290.5,385.3 293.5,386.2 294.5,387.5 293.5,388.6 290.5,389.3 287.9,388.5ZM287.7,387.5 288.5,388.5 290.5,389 293.1,388.5 293.9,387.5 293.4,386.5 290.5,385.6 288.5,386.2ZM377.5,417.4 380,420.5 380,425.5 378.5,426 374.5,425.8 374.3,424.5 375.4,419.5ZM377.5,417.6 375.5,419.5 374.5,425.6 379.9,425.5 379.8,420.5ZM417.4,421.5 419.5,420.9 420.5,421.6 421.7,423.5 421.5,425.7 416.5,425.8 416.2,424.5ZM417.5,421.6 416.5,423.7 416.5,425.7 421.5,425.6 421.6,423.5 419.5,421.1Z"/>
<path fill="#e03410" stroke="#e03410" stroke-width="0.4" fill-rule="evenodd" d="M400.4,208.5 404.5,204.9 409.5,203.1 413.5,202.2 426.5,201.2 444.5,201.3 452.5,202.3 458.3,204.5 459.5,208.5 458.5,208.8 455.5,205.7 453.5,205.9 447.5,211.2 442.5,207.8 440.5,207.3 437.5,208.6 435.5,210.8 429.5,210.9 428.5,210.6 427.5,209.1 425.5,208.6 424.5,208.9 422.5,210.9 418.5,211.1 417.1,212.5 416.5,215.1 413.5,215.5 410.5,215.5 408.5,214.8 402.2,210.5ZM400.7,208.5 402.4,210.5 408.5,214.6 414.5,215.2 416.5,214.8 417.5,211.4 418.5,210.8 422.5,210.7 425.5,208.3 427.5,208.8 429.5,210.7 435.5,210.7 438.5,207.8 440.5,207 442.5,207.7 447.5,211 448.5,210.6 453.5,205.8 455.5,205.6 458.5,208.6 458.8,207.5 458.6,205.5 457.9,204.5 451.9,202.5 443.5,201.5 426.5,201.4 413.5,202.5 409.5,203.4 404.5,205.2ZM516.5,203.5 516.1,204.5 514.7,205.5 504.5,209 500.5,211.8 496.5,216 495.5,216.5 490.5,212.6 487.7,207.5 489.9,204.5 492.5,203.1 514.5,201.7 515.5,201.9ZM516.2,203.5 515.5,202.2 513.5,202 492.5,203.4 490.3,204.5 488.1,207.5 490.8,212.5 495.5,216.1 496.5,215.7 500.5,211.5 504.5,208.8 514.2,205.5 515.8,204.5ZM459.5,208.5 462.5,209.9 474.5,211.2 477.3,212.5 477.7,213.5 476.4,214.5 474.5,214.8 469.5,213.9 463.5,213.8 461.5,212.7 459.3,209.5ZM460.1,210.5 461.5,212.5 464.5,213.8 469.5,213.7 474.5,214.6 477.3,213.5 476.9,212.5 474.5,211.4 462.5,210.2 460.5,209.5ZM694.5,234.4 695.5,234.5 696.6,235.5 696.5,236.8 695.5,237.7 694.5,237.5 693.6,235.5ZM694.5,234.7 694,235.5 694.2,236.5 695.5,237.1 696.1,236.5 696.1,235.5ZM705.5,241.5 705.8,240.5 707.5,239.8 709.5,240.3 710.1,241.5 709.1,242.5 707.5,242.8 706.4,242.5ZM706,241.5 707.5,242.4 709.5,241.5 709,240.5 707.5,240.1 706.4,240.5ZM87.3,259.5 88.5,258.3 91.6,258.5 91.5,259.5 89.5,260.6 88.1,260.5ZM90.9,259.5 90.7,258.5 89.5,258.4 87.9,259.5 89.5,260.1ZM172.9,331.5 175,332.5 179,336.5 178.2,336.5 174.5,333.7ZM376.1,355.5 377.5,354.7 379.5,355.5 377.5,356.4ZM376.5,355.5 377.5,356 379.1,355.5 377.5,355ZM287.7,387.5 288.5,386.2 290.5,385.6 293.4,386.5 293.9,387.5 293.1,388.5 290.5,389 288.5,388.5ZM288.2,387.5 289.2,388.5 290.5,388.8 292.3,388.5 293.3,387.5 292.7,386.5 290.5,386 288.6,386.5ZM377.5,417.6 379.8,420.5 379.9,425.5 374.5,425.6 375.5,419.5ZM377.5,417.9 375.5,419.9 374.7,425.5 379.7,425.5 379.7,420.5 378.5,418.5ZM417.5,421.6 419.5,421.1 421.6,423.5 421.5,425.6 416.5,425.7 416.5,423.7ZM417.5,421.9 416.5,425.5 421.3,425.5 421.5,423.4 419.9,421.5 418.5,421.2Z"/>
<path fill="#e02010" stroke="#e02010" stroke-width="0.4" fill-rule="evenodd" d="M400.7,208.5 404.5,205.2 409.5,203.4 413.5,202.5 426.5,201.4 443.5,201.5 451.9,202.5 457.9,204.5 458.6,205.5 458.8,207.5 458.5,208.6 455.5,205.6 453.5,205.8 448.5,210.6 447.5,211 442.5,207.7 440.5,207 438.5,207.8 435.5,210.7 429.5,210.7 427.5,208.8 425.5,208.3 422.5,210.7 418.5,210.8 417.5,211.4 416.5,214.8 414.5,215.2 408.5,214.6 402.4,210.5ZM401.1,208.5 401.5,209.5 408.7,214.5 414.5,214.8 416.4,214.5 416.6,212.5 417.5,211 422.5,210.5 425.5,207.9 427.5,208.6 429.5,210.5 435.5,210.4 437.5,208.1 440.5,206.8 441.5,206.9 447.5,210.7 454.5,205 456.5,205.9 458.5,208 457.4,204.5 450.4,202.5 426.5,201.9 417.5,202.4 410.5,203.4 404.5,205.5ZM516.2,203.5 515.8,204.5 514.2,205.5 504.5,208.8 500.5,211.5 496.5,215.7 495.5,216.1 490.8,212.5 488.1,207.5 490.3,204.5 492.5,203.4 513.5,202 515.5,202.2ZM515.8,203.5 515.3,202.5 513.5,202.3 494.6,203.5 490.8,204.5 488.4,207.5 491.2,212.5 495.5,215.6 500.5,211.1 505.5,207.9 513.6,205.5 515.5,204.5ZM460.1,210.5 460.5,209.5 462.5,210.2 474.5,211.4 476.9,212.5 477.3,213.5 474.5,214.6 469.5,213.7 464.5,213.8 461.5,212.5ZM460.3,210.5 462,212.5 463.8,213.5 470.5,213.7 473.5,214.4 476.8,213.5 476.5,212.5 473.8,211.5 460.5,210.1ZM694.5,234.7 696.1,235.5 696.1,236.5 695.5,237.1 694.2,236.5 694,235.5ZM694.5,235.3 694.5,236.2 695.5,236.5 695.6,235.5ZM706,241.5 706.4,240.5 707.5,240.1 709,240.5 709.5,241.5 707.5,242.4ZM706.8,241.5 707.5,241.9 708.8,241.5 707.5,240.6ZM87.9,259.5 89.5,258.4 90.7,258.5 90.9,259.5 89.5,260.1ZM376.5,355.5 377.5,355 379.1,355.5 377.5,356ZM288.2,387.5 288.6,386.5 290.5,386 292.7,386.5 293.3,387.5 292.3,388.5 290.5,388.8 289.2,388.5ZM288.7,387.5 290.5,388.5 292.7,387.5 291.8,386.5 290.5,386.3 289.3,386.5ZM377.5,417.9 378.5,418.5 379.7,420.5 379.7,425.5 374.7,425.5 375.5,419.9ZM377.5,418.2 375.5,420.5 375.3,425.5 379.5,425.4 379.6,420.5ZM417.5,421.9 418.5,421.2 419.9,421.5 421.5,423.4 421.3,425.5 416.5,425.5ZM418.3,421.5 417.3,422.5 416.8,424.5 417.3,425.5 420.7,425.5 421.4,424.5 420.6,422.5 419.5,421.4Z"/>
<path fill="#e00808" stroke="#e00808" stroke-width="0.4" fill-rule="evenodd" d="M401.1,208.5 404.5,205.5 410.5,203.4 417.5,202.4 426.5,201.9 450.4,202.5 457.4,204.5 458.5,208 456.5,205.9 454.5,205 447.5,210.7 441.5,206.9 440.5,206.8 437.5,208.1 435.5,210.4 429.5,210.5 427.5,208.6 425.5,207.9 422.5,210.5 417.5,211 416.6,212.5 416.4,214.5 414.5,214.8 408.7,214.5 401.5,209.5ZM515.8,203.5 515.5,204.5 513.6,205.5 505.5,207.9 500.5,211.1 495.5,215.6 491.2,212.5 488.4,207.5 490.8,204.5 494.6,203.5 513.5,202.3 515.3,202.5ZM460.3,210.5 460.5,210.1 473.8,211.5 476.5,212.5 476.8,213.5 473.5,214.4 470.5,213.7 463.8,213.5 462,212.5ZM694.5,235.3 695.6,235.5 695.5,236.5 694.5,236.2ZM706.8,241.5 707.5,240.6 708.8,241.5 707.5,241.9ZM288.7,387.5 289.3,386.5 290.5,386.3 291.8,386.5 292.7,387.5 290.5,388.5ZM377.5,418.2 379.6,420.5 379.5,425.4 375.3,425.5 375.5,420.5ZM418.3,421.5 419.5,421.4 420.6,422.5 421.4,424.5 420.7,425.5 417.3,425.5 416.8,424.5 417.3,422.5Z"/>
<g fill="#a0a0a0" shape-rendering="crispEdges">
<rect x="83.00" y="121.75" width="659.00" height="2.28"/>
<rect x="83.00" y="124.03" width="659.00" height="4.56"/>
<rect x="83.00" y="128.59" width="659.00" height="4.56"/>
<rect x="415.93" y="210.72" width="20.59" height="4.56"/>
<rect x="409.07" y="215.28" width="54.92" height="4.56"/>
<rect x="388.47" y="219.84" width="68.65" height="4.56"/>
<rect x="381.61" y="224.41" width="75.51" height="4.56"/>
<rect x="374.74" y="228.97" width="82.38" height="4.56"/>
<rect x="518.90" y="228.97" width="6.86" height="4.56"/>
<rect x="642.46" y="228.97" width="27.46" height="4.56"/>
<rect x="374.74" y="233.53" width="82.38" height="4.56"/>
<rect x="628.73" y="233.53" width="54.92" height="4.56"/>
<rect x="374.74" y="238.09" width="82.38" height="4.56"/>
<rect x="621.87" y="238.09" width="75.51" height="4.56"/>
<rect x="361.02" y="242.66" width="89.24" height="4.56"/>
<rect x="518.90" y="242.66" width="6.86" height="4.56"/>
<rect x="621.87" y="242.66" width="82.38" height="4.56"/>
<rect x="312.96" y="247.22" width="13.73" height="4.56"/>
<rect x="361.02" y="247.22" width="89.24" height="4.56"/>
<rect x="615.01" y="247.22" width="102.97" height="4.56"/>
<rect x="724.84" y="247.22" width="6.86" height="4.56"/>
<rect x="312.96" y="251.78" width="137.29" height="4.56"/>
<rect x="615.01" y="251.78" width="123.56" height="4.56"/>
<rect x="83.00" y="256.34" width="3.43" height="4.56"/>
<rect x="312.96" y="256.34" width="130.43" height="4.56"/>
<rect x="615.01" y="256.34" width="126.99" height="4.56"/>
<rect x="83.00" y="260.91" width="3.43" height="4.56"/>
<rect x="306.10" y="260.91" width="137.29" height="4.56"/>
<rect x="615.01" y="260.91" width="109.83" height="4.56"/>
<rect x="731.70" y="260.91" width="10.30" height="4.56"/>
<rect x="83.00" y="265.47" width="10.30" height="4.56"/>
<rect x="306.10" y="265.47" width="130.43" height="4.56"/>
<rect x="621.87" y="265.47" width="102.97" height="4.56"/>
<rect x="731.70" y="265.47" width="10.30" height="4.56"/>
<rect x="83.00" y="270.03" width="10.30" height="4.56"/>
<rect x="299.23" y="270.03" width="82.38" height="4.56"/>
<rect x="395.34" y="270.03" width="34.32" height="4.56"/>
<rect x="498.31" y="270.03" width="6.86" height="4.56"/>
<rect x="621.87" y="270.03" width="102.97" height="4.56"/>
<rect x="738.57" y="270.03" width="3.43" height="4.56"/>
<rect x="83.00" y="274.59" width="10.30" height="4.56"/>
<rect x="292.37" y="274.59" width="89.24" height="4.56"/>
<rect x="402.20" y="274.59" width="20.59" height="4.56"/>
<rect x="484.58" y="274.59" width="20.59" height="4.56"/>
<rect x="621.87" y="274.59" width="109.83" height="4.56"/>
<rect x="738.57" y="274.59" width="3.43" height="4.56"/>
<rect x="83.00" y="279.16" width="10.30" height="4.56"/>
<rect x="292.37" y="279.16" width="89.24" height="4.56"/>
<rect x="402.20" y="279.16" width="6.86" height="4.56"/>
<rect x="422.80" y="279.16" width="6.86" height="4.56"/>
<rect x="477.71" y="279.16" width="27.46" height="4.56"/>
<rect x="621.87" y="279.16" width="109.83" height="4.56"/>
<rect x="738.57" y="279.16" width="3.43" height="4.56"/>
<rect x="83.00" y="283.72" width="10.30" height="4.56"/>
<rect x="285.51" y="283.72" width="96.10" height="4.56"/>
<rect x="402.20" y="283.72" width="20.59" height="4.56"/>
<rect x="477.71" y="283.72" width="20.59" height="4.56"/>
<rect x="621.87" y="283.72" width="120.13" height="4.56"/>
<rect x="83.00" y="288.28" width="10.30" height="4.56"/>
<rect x="278.64" y="288.28" width="102.97" height="4.56"/>
<rect x="402.20" y="288.28" width="34.32" height="4.56"/>
<rect x="477.71" y="288.28" width="13.73" height="4.56"/>
<rect x="621.87" y="288.28" width="120.13" height="4.56"/>
<rect x="83.00" y="292.84" width="17.16" height="4.56"/>
<rect x="278.64" y="292.84" width="102.97" height="4.56"/>
<rect x="395.34" y="292.84" width="48.05" height="4.56"/>
<rect x="477.71" y="292.84" width="6.86" height="4.56"/>
<rect x="621.87" y="292.84" width="120.13" height="4.56"/>
<rect x="83.00" y="297.41" width="24.03" height="4.56"/>
<rect x="271.78" y="297.41" width="109.83" height="4.56"/>
<rect x="395.34" y="297.41" width="54.92" height="4.56"/>
<rect x="621.87" y="297.41" width="120.13" height="4.56"/>
<rect x="83.00" y="301.97" width="37.76" height="4.56"/>
<rect x="264.91" y="301.97" width="116.70" height="4.56"/>
<rect x="395.34" y="301.97" width="54.92" height="4.56"/>
<rect x="621.87" y="301.97" width="120.13" height="4.56"/>
<rect x="83.00" y="306.53" width="37.76" height="4.56"/>
<rect x="264.91" y="306.53" width="116.70" height="4.56"/>
<rect x="388.47" y="306.53" width="61.78" height="4.56"/>
<rect x="621.87" y="306.53" width="120.13" height="4.56"/>
<rect x="83.00" y="311.09" width="51.48" height="4.56"/>
<rect x="258.05" y="311.09" width="123.56" height="4.56"/>
<rect x="388.47" y="311.09" width="61.78" height="4.56"/>
<rect x="621.87" y="311.09" width="120.13" height="4.56"/>
<rect x="83.00" y="315.66" width="65.21" height="4.56"/>
<rect x="251.18" y="315.66" width="123.56" height="4.56"/>
<rect x="388.47" y="315.66" width="61.78" height="4.56"/>
<rect x="621.87" y="315.66" width="120.13" height="4.56"/>
<rect x="83.00" y="320.22" width="72.08" height="4.56"/>
<rect x="244.32" y="320.22" width="130.43" height="4.56"/>
<rect x="388.47" y="320.22" width="75.51" height="4.56"/>
<rect x="615.01" y="320.22" width="126.99" height="4.56"/>
<rect x="83.00" y="324.78" width="78.94" height="4.56"/>
<rect x="244.32" y="324.78" width="130.43" height="4.56"/>
<rect x="388.47" y="324.78" width="61.78" height="4.56"/>
<rect x="615.01" y="324.78" width="126.99" height="4.56"/>
<rect x="83.00" y="329.34" width="85.81" height="4.56"/>
<rect x="244.32" y="329.34" width="116.70" height="4.56"/>
<rect x="388.47" y="329.34" width="61.78" height="4.56"/>
<rect x="608.14" y="329.34" width="133.86" height="4.56"/>
<rect x="83.00" y="333.91" width="85.81" height="4.56"/>
<rect x="244.32" y="333.91" width="109.83" height="4.56"/>
<rect x="367.88" y="333.91" width="75.51" height="4.56"/>
<rect x="608.14" y="333.91" width="133.86" height="4.56"/>
<rect x="83.00" y="338.47" width="92.67" height="4.56"/>
<rect x="292.37" y="338.47" width="54.92" height="4.56"/>
<rect x="367.88" y="338.47" width="75.51" height="4.56"/>
<rect x="601.28" y="338.47" width="140.72" height="4.56"/>
<rect x="83.00" y="343.03" width="99.54" height="4.56"/>
<rect x="299.23" y="343.03" width="34.32" height="4.56"/>
<rect x="347.29" y="343.03" width="54.92" height="4.56"/>
<rect x="601.28" y="343.03" width="140.72" height="4.56"/>
<rect x="83.00" y="347.59" width="99.54" height="4.56"/>
<rect x="340.42" y="347.59" width="48.05" height="4.56"/>
<rect x="601.28" y="347.59" width="140.72" height="4.56"/>
<rect x="83.00" y="352.16" width="106.40" height="4.56"/>
<rect x="333.56" y="352.16" width="34.32" height="4.56"/>
<rect x="601.28" y="352.16" width="140.72" height="4.56"/>
<rect x="83.00" y="356.72" width="113.27" height="4.56"/>
<rect x="601.28" y="356.72" width="140.72" height="4.56"/>
<rect x="83.00" y="361.28" width="161.32" height="4.56"/>
<rect x="601.28" y="361.28" width="140.72" height="4.56"/>
<rect x="83.00" y="365.84" width="175.05" height="4.56"/>
<rect x="601.28" y="365.84" width="140.72" height="4.56"/>
<rect x="83.00" y="370.41" width="181.91" height="4.56"/>
<rect x="601.28" y="370.41" width="140.72" height="4.56"/>
<rect x="83.00" y="374.97" width="188.78" height="4.56"/>
<rect x="601.28" y="374.97" width="140.72" height="4.56"/>
<rect x="83.00" y="379.53" width="195.64" height="4.56"/>
<rect x="539.49" y="379.53" width="20.59" height="4.56"/>
<rect x="594.41" y="379.53" width="147.59" height="4.56"/>
<rect x="83.00" y="384.09" width="202.51" height="4.56"/>
<rect x="525.77" y="384.09" width="216.23" height="4.56"/>
<rect x="83.00" y="388.66" width="202.51" height="4.56"/>
<rect x="518.90" y="388.66" width="223.10" height="4.56"/>
<rect x="83.00" y="393.22" width="202.51" height="4.56"/>
<rect x="512.04" y="393.22" width="229.96" height="4.56"/>
<rect x="83.00" y="397.78" width="209.37" height="4.56"/>
<rect x="505.17" y="397.78" width="236.83" height="4.56"/>
<rect x="83.00" y="402.34" width="209.37" height="4.56"/>
<rect x="491.44" y="402.34" width="250.56" height="4.56"/>
<rect x="83.00" y="406.91" width="216.23" height="4.56"/>
<rect x="484.58" y="406.91" width="257.42" height="4.56"/>
<rect x="83.00" y="411.47" width="223.10" height="4.56"/>
<rect x="477.71" y="411.47" width="264.29" height="4.56"/>
<rect x="83.00" y="416.03" width="250.56" height="4.56"/>
<rect x="470.85" y="416.03" width="271.15" height="4.56"/>
<rect x="83.00" y="420.59" width="291.74" height="4.56"/>
<rect x="388.47" y="420.59" width="27.46" height="4.56"/>
<rect x="429.66" y="420.59" width="312.34" height="4.56"/>
<rect x="83.00" y="425.16" width="659.00" height="4.56"/>
<rect x="83.00" y="429.72" width="659.00" height="4.56"/>
<rect x="83.00" y="434.28" width="659.00" height="4.56"/>
<rect x="83.00" y="438.84" width="659.00" height="4.56"/>
<rect x="83.00" y="443.41" width="659.00" height="4.56"/>
<rect x="83.00" y="447.97" width="659.00" height="2.28"/>
</g>

<g fill="none" stroke="#1c1c1c" stroke-width="1" stroke-linejoin="miter"><path d="M83,306.2 86.2,306.2 86.2,320 92.5,320 92.5,335 100,335 100,342.5 107.5,342.5 107.5,348.8 113.8,348.8 113.8,352.5 127.5,352.5 127.5,357 168.8,357 168.8,362.6 182.5,362.6 182.5,366.6 168.8,366.6 168.8,371.2 190,371.2 190,380.5 196.2,380.5 196.2,376.2 203,376.2 203,371.2 216.2,371.2 216.2,376.2 223.8,376.2 223.8,380.5 230,380.5 230,385 223.8,385 223.8,389.5 237.5,389.5 237.5,385 245,385 245,380.5 271.2,380.5 271.2,398.8 278.8,398.8 278.8,403.8 285,403.8 285,412.5 292.5,412.5 292.5,417.5 298.8,417.5 298.8,426.2 278.8,426.2 278.8,430.5 271.2,430.5 271.2,435.5 408.8,435.5 408.8,430.5 415,430.5 415,435.5 428.8,435.5 428.8,430.5 483.8,430.5 483.8,426.2 491.2,426.2 491.2,421.2 498.8,421.2 498.8,417 505,417 505,412.5 511.2,412.5 511.2,408 532.5,408 532.5,390 552.5,390 552.5,393.8 560,393.8 560,398.8 566.2,398.8 566.2,403 573.8,403 573.8,407.5 580,407.5 580,412.5 607.5,412.5 607.5,417 615,417 615,421.2 635,421.2 635,412.5 621.2,412.5 621.2,407.5 615,407.5 615,403 607.5,403 607.5,398.8 601.2,398.8 601.2,389.5 628,389.5 628,371.2 635,371.2 635,366.2 642.5,366.2 642.5,362.5 648.8,362.5 648.8,353.8 655.5,353.8 655.5,348.8 662.5,348.8 662.5,339.5 669.5,339.5 669.5,335 682.5,335 682.5,312.5 676.2,312.5 676.2,307.5 669.5,307.5 669.5,289.5 676.2,289.5 676.2,284.5 682.5,284.5 682.5,271.2 676.2,271.2 676.2,257 682.5,257 682.5,247.5 697,247.5 697,252 703.8,252 703.8,270 717.5,270 717.5,279.5 724.5,279.5 724.5,293 731.2,293 731.2,298 738.2,298 738.2,302.5 742,302.5"/><path d="M83,303.5 86.2,303.5 86.2,306.2"/><path d="M733.8,286.2 742,286.2"/><path d="M655.5,233.8 669.5,233.8 669.5,243.8 662.5,243.8 662.5,238.8 655.5,238.8 655.5,233.8"/><path d="M642,256.2 649.5,256.2 649.5,265.8 642,265.8 642,256.2"/><path d="M649.2,274.5 655.5,274.5 655.5,284.2 649.2,284.2 649.2,274.5"/><path d="M628.8,270.8 635.5,270.8 635.5,302.5 642.5,302.5 642.5,330 635.5,330 635.5,335 628.8,335 628.8,343.8 622,343.8 622,339.5 615,339.5 615,330 622,330 622,312 628.8,312 628.8,270.8"/><path d="M615,357 615,352.5 622,352.5 622,348.2 628.2,348.2 628.2,357 615,357"/><path d="M100,307 106.8,307 106.8,311.2 100,311.2 100,307"/><path d="M141.2,325.5 147.5,325.5 147.5,334.5 141.2,334.5 141.2,325.5"/><path d="M154.5,338.8 162,338.8 162,343.2 168.8,343.2 168.8,348.2 162,348.2 162,352.5 154.5,352.5 154.5,348.2 147.5,348.2 147.5,343.2 154.5,343.2 154.5,338.8"/><path d="M319.6,274.6 333.6,274.6 333.6,279.4 340,279.4 340,289 333.6,289 333.6,293.4 326.4,293.4 326.4,298 319.6,298 319.6,274.6"/><path d="M353.6,262 361,262 361,266 368,266 368,270.6 374.4,270.6 374.4,320.6 368,320.6 368,330 361,330 361,334 347,334 347,339 334,339 334,343 327,343 327,334 340,334 340,329.4 353.6,329.4 353.6,325 361,325 361,320.6 353.6,320.6 353.6,293.4 361,293.4 361,288.6 368,288.6 368,275 361,275 361,270 353.6,270 353.6,262"/><path d="M346.9,348.8 346.9,353 360.6,353 360.6,348 367.5,348 367.5,344.4 360.6,344.4 360.6,348.8 346.9,348.8"/><path d="M388.6,233.6 388.6,238.2 401.2,238.2 401.2,233.6 422.2,233.6 422.2,229 429.2,229 429.2,233.6 436.2,233.6 436.2,238.2 443.2,238.2 443.2,242.7 449.9,242.7 449.9,224.5 456.4,224.5 456.4,219.8 436.2,219.8 436.2,215.2 423.1,215.2 423.1,219.8 409.1,219.8 409.1,224.5 402.1,224.5 402.1,229 395.6,229 395.6,233.6 388.6,233.6"/><path d="M395.6,302.2 401.9,302.2 401.9,298.1 408.8,298.1 408.8,293.1 415.6,293.1 415.6,288.8 422.5,288.8 422.5,293.1 429.4,293.1 429.4,298.1 443.8,298.1 443.8,330 436.2,330 436.2,334.4 429.4,334.4 429.4,338.8 422.5,338.8 422.5,334.4 408.8,334.4 408.8,338.8 401.9,338.8 401.9,343.8 381.2,343.8 381.2,338.8 395.6,338.8 395.6,334.4 401.9,334.4 401.9,330 415.6,330 415.6,325 422.5,325 422.5,316.2 395.6,316.2 395.6,302.2"/><path d="M477.5,284.4 484.4,284.4 484.4,293.5 477.5,293.5 477.5,284.4"/></g>
</g>
<g stroke="#000" stroke-width="1" fill="none" shape-rendering="crispEdges">
<path d="M83,121.5H742V450.5" stroke="#111"/>
<path d="M83,450.5V121.5" stroke="#222" opacity="0.45"/>
<path d="M83,450.5H742" stroke="#555"/>
<path d="M283,450.5H412" stroke="#111"/>
<path d="M181,450H283" stroke="#000" stroke-width="2"/>
<line x1="83.00" y1="121.75" x2="83.00" y2="129.75"/>
<line x1="83.00" y1="450.25" x2="83.00" y2="442.25"/>
<line x1="101.31" y1="121.75" x2="101.31" y2="125.75"/>
<line x1="101.31" y1="450.25" x2="101.31" y2="446.25"/>
<line x1="119.61" y1="121.75" x2="119.61" y2="125.75"/>
<line x1="119.61" y1="450.25" x2="119.61" y2="446.25"/>
<line x1="137.92" y1="121.75" x2="137.92" y2="125.75"/>
<line x1="137.92" y1="450.25" x2="137.92" y2="446.25"/>
<line x1="156.22" y1="121.75" x2="156.22" y2="125.75"/>
<line x1="156.22" y1="450.25" x2="156.22" y2="446.25"/>
<line x1="174.53" y1="121.75" x2="174.53" y2="125.75"/>
<line x1="174.53" y1="450.25" x2="174.53" y2="446.25"/>
<line x1="192.83" y1="121.75" x2="192.83" y2="129.75"/>
<line x1="192.83" y1="450.25" x2="192.83" y2="442.25"/>
<line x1="211.14" y1="121.75" x2="211.14" y2="125.75"/>
<line x1="211.14" y1="450.25" x2="211.14" y2="446.25"/>
<line x1="229.44" y1="121.75" x2="229.44" y2="125.75"/>
<line x1="229.44" y1="450.25" x2="229.44" y2="446.25"/>
<line x1="247.75" y1="121.75" x2="247.75" y2="125.75"/>
<line x1="247.75" y1="450.25" x2="247.75" y2="446.25"/>
<line x1="266.06" y1="121.75" x2="266.06" y2="125.75"/>
<line x1="266.06" y1="450.25" x2="266.06" y2="446.25"/>
<line x1="284.36" y1="121.75" x2="284.36" y2="125.75"/>
<line x1="284.36" y1="450.25" x2="284.36" y2="446.25"/>
<line x1="302.67" y1="121.75" x2="302.67" y2="129.75"/>
<line x1="302.67" y1="450.25" x2="302.67" y2="442.25"/>
<line x1="320.97" y1="121.75" x2="320.97" y2="125.75"/>
<line x1="320.97" y1="450.25" x2="320.97" y2="446.25"/>
<line x1="339.28" y1="121.75" x2="339.28" y2="125.75"/>
<line x1="339.28" y1="450.25" x2="339.28" y2="446.25"/>
<line x1="357.58" y1="121.75" x2="357.58" y2="125.75"/>
<line x1="357.58" y1="450.25" x2="357.58" y2="446.25"/>
<line x1="375.89" y1="121.75" x2="375.89" y2="125.75"/>
<line x1="375.89" y1="450.25" x2="375.89" y2="446.25"/>
<line x1="394.19" y1="121.75" x2="394.19" y2="125.75"/>
<line x1="394.19" y1="450.25" x2="394.19" y2="446.25"/>
<line x1="412.50" y1="121.75" x2="412.50" y2="129.75"/>
<line x1="412.50" y1="450.25" x2="412.50" y2="442.25"/>
<line x1="430.81" y1="121.75" x2="430.81" y2="125.75"/>
<line x1="430.81" y1="450.25" x2="430.81" y2="446.25"/>
<line x1="449.11" y1="121.75" x2="449.11" y2="125.75"/>
<line x1="449.11" y1="450.25" x2="449.11" y2="446.25"/>
<line x1="467.42" y1="121.75" x2="467.42" y2="125.75"/>
<line x1="467.42" y1="450.25" x2="467.42" y2="446.25"/>
<line x1="485.72" y1="121.75" x2="485.72" y2="125.75"/>
<line x1="485.72" y1="450.25" x2="485.72" y2="446.25"/>
<line x1="504.03" y1="121.75" x2="504.03" y2="125.75"/>
<line x1="504.03" y1="450.25" x2="504.03" y2="446.25"/>
<line x1="522.33" y1="121.75" x2="522.33" y2="129.75"/>
<line x1="522.33" y1="450.25" x2="522.33" y2="442.25"/>
<line x1="540.64" y1="121.75" x2="540.64" y2="125.75"/>
<line x1="540.64" y1="450.25" x2="540.64" y2="446.25"/>
<line x1="558.94" y1="121.75" x2="558.94" y2="125.75"/>
<line x1="558.94" y1="450.25" x2="558.94" y2="446.25"/>
<line x1="577.25" y1="121.75" x2="577.25" y2="125.75"/>
<line x1="577.25" y1="450.25" x2="577.25" y2="446.25"/>
<line x1="595.56" y1="121.75" x2="595.56" y2="125.75"/>
<line x1="595.56" y1="450.25" x2="595.56" y2="446.25"/>
<line x1="613.86" y1="121.75" x2="613.86" y2="125.75"/>
<line x1="613.86" y1="450.25" x2="613.86" y2="446.25"/>
<line x1="632.17" y1="121.75" x2="632.17" y2="129.75"/>
<line x1="632.17" y1="450.25" x2="632.17" y2="442.25"/>
<line x1="650.47" y1="121.75" x2="650.47" y2="125.75"/>
<line x1="650.47" y1="450.25" x2="650.47" y2="446.25"/>
<line x1="668.78" y1="121.75" x2="668.78" y2="125.75"/>
<line x1="668.78" y1="450.25" x2="668.78" y2="446.25"/>
<line x1="687.08" y1="121.75" x2="687.08" y2="125.75"/>
<line x1="687.08" y1="450.25" x2="687.08" y2="446.25"/>
<line x1="705.39" y1="121.75" x2="705.39" y2="125.75"/>
<line x1="705.39" y1="450.25" x2="705.39" y2="446.25"/>
<line x1="723.69" y1="121.75" x2="723.69" y2="125.75"/>
<line x1="723.69" y1="450.25" x2="723.69" y2="446.25"/>
<line x1="742.00" y1="121.75" x2="742.00" y2="129.75"/>
<line x1="742.00" y1="450.25" x2="742.00" y2="442.25"/>
<line x1="83" y1="432.00" x2="91" y2="432.00"/>
<line x1="742" y1="432.00" x2="734" y2="432.00"/>
<line x1="83" y1="413.75" x2="87" y2="413.75"/>
<line x1="742" y1="413.75" x2="738" y2="413.75"/>
<line x1="83" y1="395.50" x2="87" y2="395.50"/>
<line x1="742" y1="395.50" x2="738" y2="395.50"/>
<line x1="83" y1="377.25" x2="87" y2="377.25"/>
<line x1="742" y1="377.25" x2="738" y2="377.25"/>
<line x1="83" y1="359.00" x2="91" y2="359.00"/>
<line x1="742" y1="359.00" x2="734" y2="359.00"/>
<line x1="83" y1="340.75" x2="87" y2="340.75"/>
<line x1="742" y1="340.75" x2="738" y2="340.75"/>
<line x1="83" y1="322.50" x2="87" y2="322.50"/>
<line x1="742" y1="322.50" x2="738" y2="322.50"/>
<line x1="83" y1="304.25" x2="87" y2="304.25"/>
<line x1="742" y1="304.25" x2="738" y2="304.25"/>
<line x1="83" y1="286.00" x2="91" y2="286.00"/>
<line x1="742" y1="286.00" x2="734" y2="286.00"/>
<line x1="83" y1="267.75" x2="87" y2="267.75"/>
<line x1="742" y1="267.75" x2="738" y2="267.75"/>
<line x1="83" y1="249.50" x2="87" y2="249.50"/>
<line x1="742" y1="249.50" x2="738" y2="249.50"/>
<line x1="83" y1="231.25" x2="87" y2="231.25"/>
<line x1="742" y1="231.25" x2="738" y2="231.25"/>
<line x1="83" y1="213.00" x2="91" y2="213.00"/>
<line x1="742" y1="213.00" x2="734" y2="213.00"/>
<line x1="83" y1="194.75" x2="87" y2="194.75"/>
<line x1="742" y1="194.75" x2="738" y2="194.75"/>
<line x1="83" y1="176.50" x2="87" y2="176.50"/>
<line x1="742" y1="176.50" x2="738" y2="176.50"/>
<line x1="83" y1="158.25" x2="87" y2="158.25"/>
<line x1="742" y1="158.25" x2="738" y2="158.25"/>
<line x1="83" y1="140.00" x2="91" y2="140.00"/>
<line x1="742" y1="140.00" x2="734" y2="140.00"/>
</g>
<text x="73" y="145.0" font-size="15" text-anchor="end">80N</text>
<text x="73" y="218.0" font-size="15" text-anchor="end">40N</text>
<text x="73" y="291.0" font-size="15" text-anchor="end">0</text>
<text x="73" y="364.0" font-size="15" text-anchor="end">40S</text>
<text x="73" y="437.0" font-size="15" text-anchor="end">80S</text>
<text x="82.5" y="471.8" font-size="15" text-anchor="middle">180</text>
<text x="192.3" y="471.8" font-size="15" text-anchor="middle">120W</text>
<text x="302.2" y="471.8" font-size="15" text-anchor="middle">60W</text>
<text x="412.0" y="471.8" font-size="15" text-anchor="middle">0</text>
<text x="521.8" y="471.8" font-size="15" text-anchor="middle">60E</text>
<text x="631.7" y="471.8" font-size="15" text-anchor="middle">120E</text>
<text x="741.5" y="471.8" font-size="15" text-anchor="middle">180</text>
<text x="124.5" y="91" font-size="30.5" textLength="576" lengthAdjust="spacingAndGlyphs">Ocean Vertical Velocity at 2424m (in cm/day)</text>
<text x="83" y="117.3" font-size="17" textLength="100" lengthAdjust="spacingAndGlyphs">Expt = teYAj1</text>
<text x="364.3" y="112.3" font-size="17" textLength="96.7" lengthAdjust="spacingAndGlyphs">436_0_MaBP</text>
<text x="704.8" y="115" font-size="17" textLength="37" lengthAdjust="spacingAndGlyphs">ANN</text>
<g stroke="#222" stroke-width="0.6">
<rect x="85.00" y="493.5" width="22.59" height="12.5" fill="#8800e0"/>
<rect x="107.59" y="493.5" width="22.59" height="12.5" fill="#7800e0"/>
<rect x="130.17" y="493.5" width="22.59" height="12.5" fill="#6a00e0"/>
<rect x="152.76" y="493.5" width="22.59" height="12.5" fill="#5a00e0"/>
<rect x="175.34" y="493.5" width="22.59" height="12.5" fill="#4408e0"/>
<rect x="197.93" y="493.5" width="22.59" height="12.5" fill="#2810e0"/>
<rect x="220.52" y="493.5" width="22.59" height="12.5" fill="#1030e0"/>
<rect x="243.10" y="493.5" width="22.59" height="12.5" fill="#0a5ce0"/>
<rect x="265.69" y="493.5" width="22.59" height="12.5" fill="#0a7ce0"/>
<rect x="288.28" y="493.5" width="22.59" height="12.5" fill="#0a90e0"/>
<rect x="310.86" y="493.5" width="22.59" height="12.5" fill="#10a0dc"/>
<rect x="333.45" y="493.5" width="22.59" height="12.5" fill="#14acdc"/>
<rect x="356.03" y="493.5" width="22.59" height="12.5" fill="#14b8d8"/>
<rect x="378.62" y="493.5" width="22.59" height="12.5" fill="#10c8d4"/>
<rect x="401.21" y="493.5" width="22.59" height="12.5" fill="#0cd0c8"/>
<rect x="423.79" y="493.5" width="22.59" height="12.5" fill="#0cd8a8"/>
<rect x="446.38" y="493.5" width="22.59" height="12.5" fill="#10dc78"/>
<rect x="468.97" y="493.5" width="22.59" height="12.5" fill="#30d810"/>
<rect x="491.55" y="493.5" width="22.59" height="12.5" fill="#70d810"/>
<rect x="514.14" y="493.5" width="22.59" height="12.5" fill="#a8dc10"/>
<rect x="536.72" y="493.5" width="22.59" height="12.5" fill="#ccdc10"/>
<rect x="559.31" y="493.5" width="22.59" height="12.5" fill="#e0d810"/>
<rect x="581.90" y="493.5" width="22.59" height="12.5" fill="#e0b810"/>
<rect x="604.48" y="493.5" width="22.59" height="12.5" fill="#e09c10"/>
<rect x="627.07" y="493.5" width="22.59" height="12.5" fill="#e06c0c"/>
<rect x="649.66" y="493.5" width="22.59" height="12.5" fill="#e04c10"/>
<rect x="672.24" y="493.5" width="22.59" height="12.5" fill="#e03410"/>
<rect x="694.83" y="493.5" width="22.59" height="12.5" fill="#e02010"/>
<rect x="717.41" y="493.5" width="22.59" height="12.5" fill="#e00808"/>
</g>
<text x="106.8" y="523.2" font-size="18.5" text-anchor="middle">-50</text>
<text x="152.0" y="523.2" font-size="18.5" text-anchor="middle">-40</text>
<text x="197.1" y="523.2" font-size="18.5" text-anchor="middle">-30</text>
<text x="242.3" y="523.2" font-size="18.5" text-anchor="middle">-20</text>
<text x="287.5" y="523.2" font-size="18.5" text-anchor="middle">-11</text>
<text x="332.6" y="523.2" font-size="18.5" text-anchor="middle">-7</text>
<text x="377.8" y="523.2" font-size="18.5" text-anchor="middle">-3</text>
<text x="423.0" y="523.2" font-size="18.5" text-anchor="middle">1</text>
<text x="468.2" y="523.2" font-size="18.5" text-anchor="middle">5</text>
<text x="513.3" y="523.2" font-size="18.5" text-anchor="middle">9</text>
<text x="558.5" y="523.2" font-size="18.5" text-anchor="middle">15</text>
<text x="603.7" y="523.2" font-size="18.5" text-anchor="middle">25</text>
<text x="648.9" y="523.2" font-size="18.5" text-anchor="middle">35</text>
<text x="694.0" y="523.2" font-size="18.5" text-anchor="middle">45</text>
</svg></body></html>
